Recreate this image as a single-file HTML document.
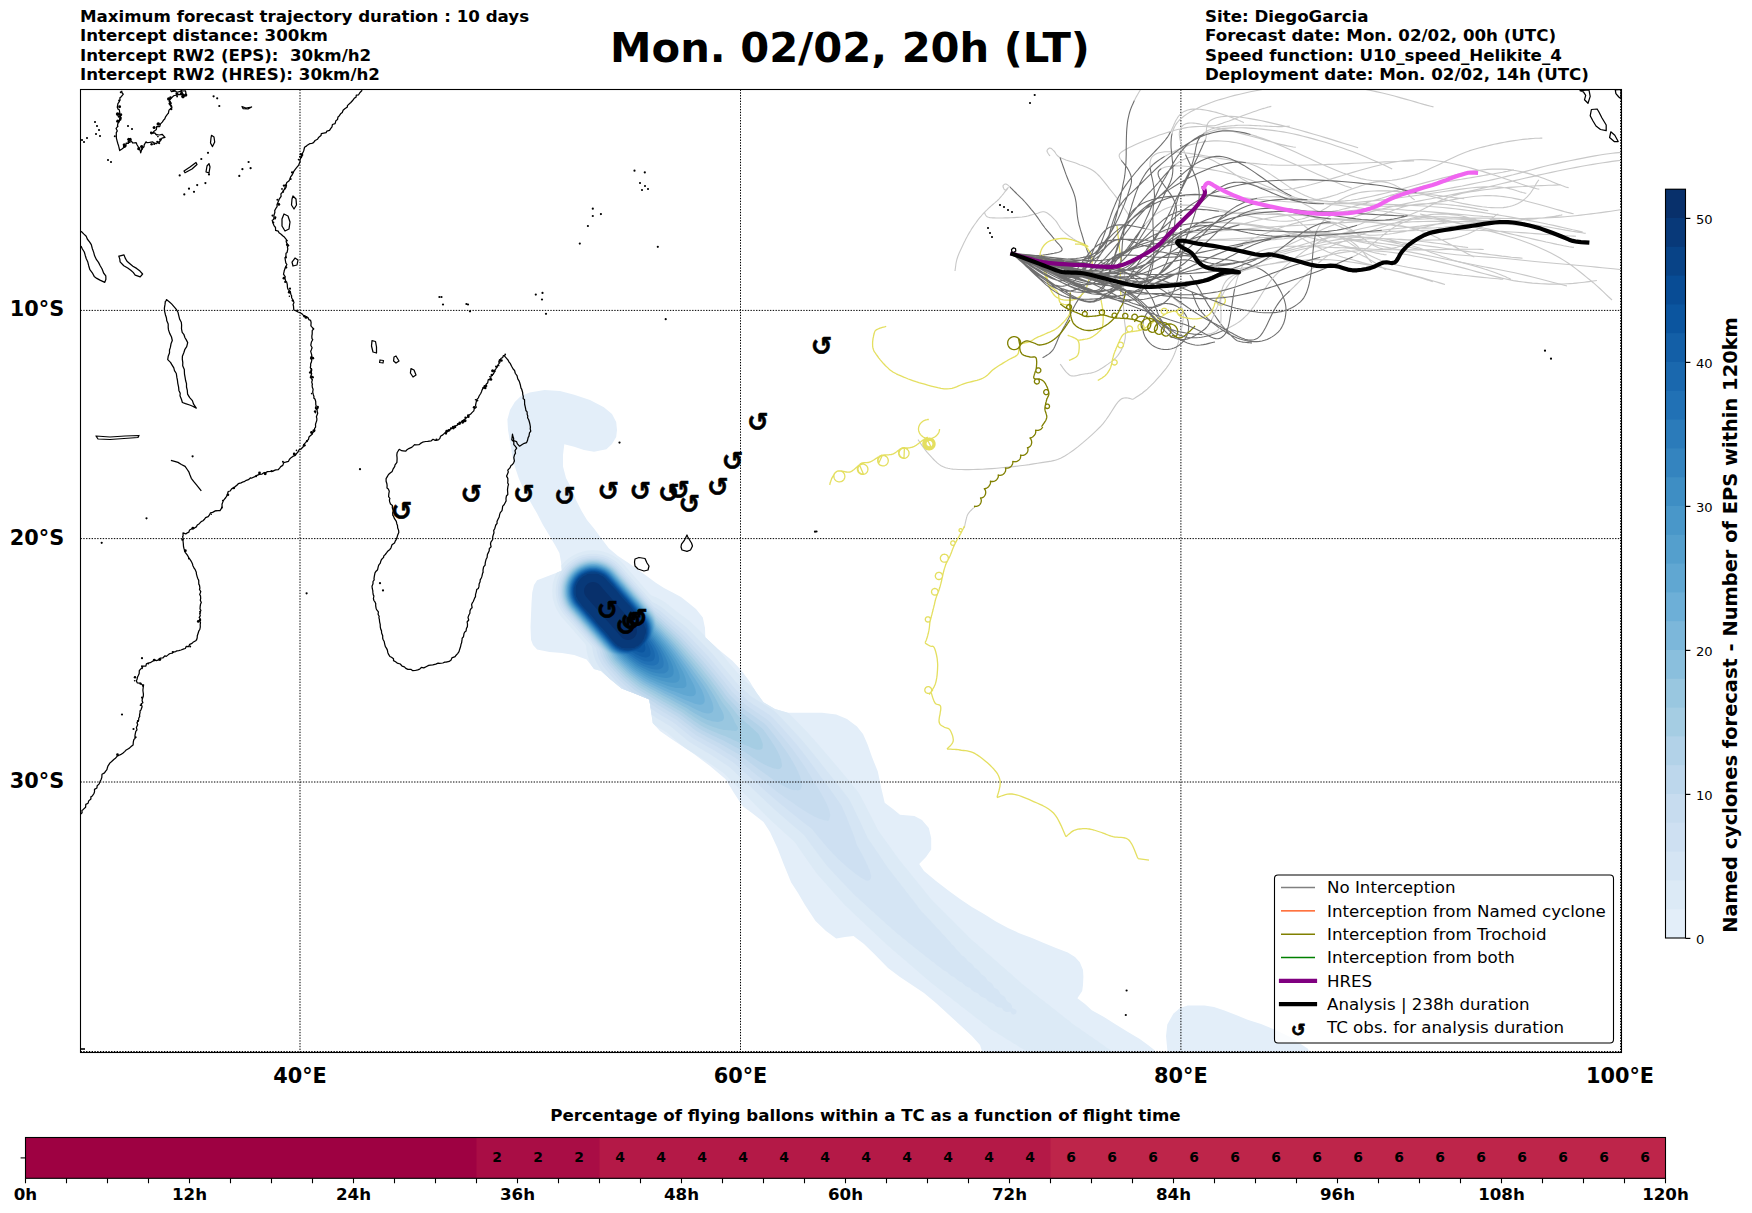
<!DOCTYPE html>
<html><head><meta charset="utf-8"><title>Forecast map</title>
<style>html,body{margin:0;padding:0;background:#fff;} svg{display:block;}</style>
</head><body>
<svg width="1752" height="1213" viewBox="0 0 1752 1213" font-family="'DejaVu Sans', 'Liberation Sans', sans-serif"><defs><clipPath id="mapclip"><rect x="80.5" y="89.5" width="1541.0" height="963.0"/></clipPath></defs>
<g clip-path="url(#mapclip)">
<clipPath id="blobclip"><path d="M507.4,419.6 L510.0,410.0 L514.8,402.0 L521.0,396.0 L529.7,392.4 L544.5,390.0 L560.0,391.0 L574.2,394.8 L590.0,400.0 L603.9,407.2 L612.0,414.0 L616.2,422.0 L617.0,430.0 L616.2,436.9 L612.0,444.0 L606.4,449.3 L594.0,451.7 L584.0,450.0 L574.2,446.8 L564.3,444.3 L563.0,455.0 L563.0,466.6 L566.0,478.0 L571.7,488.8 L576.0,500.0 L581.6,511.0 L587.0,520.0 L594.0,528.4 L601.0,538.0 L608.8,548.2 L618.0,556.0 L628.6,563.0 L637.0,569.0 L646.0,575.4 L655.8,582.8 L664.0,588.0 L673.1,592.7 L681.0,597.0 L688.0,602.6 L696.0,609.0 L702.8,617.4 L705.0,628.0 L705.3,637.2 L718.0,649.0 L732.4,660.8 L741.0,670.0 L749.7,681.5 L756.0,692.0 L763.5,702.3 L775.0,709.0 L787.8,712.7 L808.5,712.7 L822.0,712.7 L836.2,714.4 L847.0,719.0 L857.0,726.6 L863.0,734.0 L867.4,743.9 L872.0,757.0 L877.8,771.6 L881.0,787.0 L884.7,802.7 L893.0,809.0 L900.0,814.8 L914.4,816.0 L922.0,820.0 L928.8,828.0 L931.2,838.0 L931.2,849.5 L926.0,857.0 L919.2,863.9 L924.0,871.1 L936.0,881.0 L948.0,890.3 L960.0,899.0 L971.9,907.1 L984.0,914.0 L995.9,921.5 L1008.0,928.0 L1019.9,933.4 L1032.0,938.0 L1043.8,943.0 L1056.0,948.0 L1067.8,952.6 L1075.0,957.0 L1079.8,962.2 L1083.0,970.0 L1083.4,976.6 L1083.0,985.0 L1082.2,991.0 L1077.4,998.2 L1085.0,1004.0 L1091.8,1010.2 L1104.0,1017.0 L1115.8,1024.5 L1128.0,1032.0 L1139.8,1038.9 L1148.0,1045.0 L1154.1,1049.7 L1160.0,1056.0 L1170.0,1060.0 L985.0,1060.0 L980.0,1045.0 L971.9,1036.0 L960.0,1025.0 L948.0,1014.0 L936.0,1003.0 L924.0,993.0 L912.0,985.0 L900.0,977.0 L888.0,968.0 L874.3,954.0 L864.0,944.0 L853.5,936.0 L845.0,937.0 L836.2,938.5 L826.0,931.0 L815.5,921.0 L805.0,905.0 L798.0,893.0 L791.2,882.4 L784.0,865.0 L777.4,848.0 L770.0,832.0 L763.5,822.0 L752.0,813.0 L742.7,806.2 L734.0,793.0 L725.4,779.0 L710.0,766.0 L694.3,754.3 L682.0,746.0 L670.0,738.0 L660.0,731.0 L652.7,723.0 L651.0,711.0 L649.3,699.5 L636.0,694.0 L621.5,688.5 L610.0,679.0 L601.0,671.0 L594.0,669.0 L586.6,659.5 L574.2,655.0 L562.0,653.0 L549.5,652.0 L537.1,649.6 L533.0,645.0 L531.0,639.7 L530.5,627.0 L531.0,615.0 L531.5,603.0 L532.2,592.7 L534.0,585.0 L537.1,580.3 L543.0,578.0 L549.5,575.4 L556.0,573.0 L561.8,570.5 L561.0,562.0 L559.4,553.1 L555.0,545.0 L549.5,535.8 L543.0,525.0 L537.1,513.6 L531.0,503.0 L524.7,491.3 L519.0,479.0 L514.8,466.6 L512.0,454.0 L510.0,441.8 L508.0,430.0Z"/></clipPath><path d="M507.4,419.6 L510.0,410.0 L514.8,402.0 L521.0,396.0 L529.7,392.4 L544.5,390.0 L560.0,391.0 L574.2,394.8 L590.0,400.0 L603.9,407.2 L612.0,414.0 L616.2,422.0 L617.0,430.0 L616.2,436.9 L612.0,444.0 L606.4,449.3 L594.0,451.7 L584.0,450.0 L574.2,446.8 L564.3,444.3 L563.0,455.0 L563.0,466.6 L566.0,478.0 L571.7,488.8 L576.0,500.0 L581.6,511.0 L587.0,520.0 L594.0,528.4 L601.0,538.0 L608.8,548.2 L618.0,556.0 L628.6,563.0 L637.0,569.0 L646.0,575.4 L655.8,582.8 L664.0,588.0 L673.1,592.7 L681.0,597.0 L688.0,602.6 L696.0,609.0 L702.8,617.4 L705.0,628.0 L705.3,637.2 L718.0,649.0 L732.4,660.8 L741.0,670.0 L749.7,681.5 L756.0,692.0 L763.5,702.3 L775.0,709.0 L787.8,712.7 L808.5,712.7 L822.0,712.7 L836.2,714.4 L847.0,719.0 L857.0,726.6 L863.0,734.0 L867.4,743.9 L872.0,757.0 L877.8,771.6 L881.0,787.0 L884.7,802.7 L893.0,809.0 L900.0,814.8 L914.4,816.0 L922.0,820.0 L928.8,828.0 L931.2,838.0 L931.2,849.5 L926.0,857.0 L919.2,863.9 L924.0,871.1 L936.0,881.0 L948.0,890.3 L960.0,899.0 L971.9,907.1 L984.0,914.0 L995.9,921.5 L1008.0,928.0 L1019.9,933.4 L1032.0,938.0 L1043.8,943.0 L1056.0,948.0 L1067.8,952.6 L1075.0,957.0 L1079.8,962.2 L1083.0,970.0 L1083.4,976.6 L1083.0,985.0 L1082.2,991.0 L1077.4,998.2 L1085.0,1004.0 L1091.8,1010.2 L1104.0,1017.0 L1115.8,1024.5 L1128.0,1032.0 L1139.8,1038.9 L1148.0,1045.0 L1154.1,1049.7 L1160.0,1056.0 L1170.0,1060.0 L985.0,1060.0 L980.0,1045.0 L971.9,1036.0 L960.0,1025.0 L948.0,1014.0 L936.0,1003.0 L924.0,993.0 L912.0,985.0 L900.0,977.0 L888.0,968.0 L874.3,954.0 L864.0,944.0 L853.5,936.0 L845.0,937.0 L836.2,938.5 L826.0,931.0 L815.5,921.0 L805.0,905.0 L798.0,893.0 L791.2,882.4 L784.0,865.0 L777.4,848.0 L770.0,832.0 L763.5,822.0 L752.0,813.0 L742.7,806.2 L734.0,793.0 L725.4,779.0 L710.0,766.0 L694.3,754.3 L682.0,746.0 L670.0,738.0 L660.0,731.0 L652.7,723.0 L651.0,711.0 L649.3,699.5 L636.0,694.0 L621.5,688.5 L610.0,679.0 L601.0,671.0 L594.0,669.0 L586.6,659.5 L574.2,655.0 L562.0,653.0 L549.5,652.0 L537.1,649.6 L533.0,645.0 L531.0,639.7 L530.5,627.0 L531.0,615.0 L531.5,603.0 L532.2,592.7 L534.0,585.0 L537.1,580.3 L543.0,578.0 L549.5,575.4 L556.0,573.0 L561.8,570.5 L561.0,562.0 L559.4,553.1 L555.0,545.0 L549.5,535.8 L543.0,525.0 L537.1,513.6 L531.0,503.0 L524.7,491.3 L519.0,479.0 L514.8,466.6 L512.0,454.0 L510.0,441.8 L508.0,430.0Z M1167.3,1060.0 L1167.3,1049.7 L1166.0,1036.0 L1167.3,1024.5 L1173.3,1013.8 L1180.0,1008.0 L1187.7,1005.4 L1204.5,1005.4 L1214.0,1007.0 L1223.7,1010.2 L1236.0,1015.0 L1247.6,1019.7 L1261.0,1024.0 L1274.0,1029.3 L1290.0,1037.0 L1307.6,1048.5 L1315.0,1060.0Z" fill="#e3eef9"/><g clip-path="url(#blobclip)"><path d="M581.4,552.0 582.0,551.8 584.0,551.2 586.0,550.8 588.0,550.5 590.0,550.4 592.0,550.3 594.0,550.3 596.0,550.4 598.0,550.5 600.0,550.8 602.0,551.2 604.0,551.8 604.6,552.0 606.0,552.4 608.0,553.1 609.9,554.0 610.0,554.0 612.0,554.9 613.8,556.0 614.0,556.1 616.0,557.4 616.9,558.0 618.0,558.8 619.4,560.0 620.0,560.5 621.6,562.0 622.0,562.4 623.5,564.0 624.0,564.6 625.3,566.0 626.0,566.9 627.0,568.0 628.0,569.1 628.8,570.0 630.0,571.4 630.5,572.0 632.0,573.7 632.2,574.0 634.0,576.0 634.0,576.0 635.7,578.0 636.0,578.3 637.5,580.0 638.0,580.6 639.3,582.0 640.0,582.9 641.0,584.0 642.0,585.1 642.8,586.0 644.0,587.4 644.5,588.0 646.0,589.7 646.2,590.0 648.0,592.0 648.0,592.0 649.7,594.0 650.0,594.3 652.0,595.7 652.8,596.0 654.0,596.4 656.0,597.2 657.6,598.0 658.0,598.2 660.0,599.2 661.3,600.0 662.0,600.4 664.0,601.7 664.5,602.0 666.0,603.1 667.2,604.0 668.0,604.6 669.7,606.0 670.0,606.2 672.0,607.8 672.3,608.0 674.0,609.3 674.9,610.0 676.0,610.9 677.4,612.0 678.0,612.4 680.0,613.9 680.1,614.0 682.0,615.4 682.9,616.0 684.0,616.8 685.5,618.0 686.0,618.4 688.0,619.9 688.2,620.0 690.0,621.5 690.6,622.0 692.0,623.2 692.8,624.0 694.0,625.2 694.9,626.0 696.0,627.1 696.9,628.0 698.0,629.1 698.9,630.0 700.0,631.1 700.9,632.0 702.0,633.1 702.9,634.0 704.0,635.1 704.9,636.0 706.0,637.1 706.9,638.0 708.0,639.1 709.0,640.0 710.0,641.0 711.0,642.0 712.0,643.0 713.0,644.0 714.0,645.0 715.0,646.0 716.0,647.0 716.9,648.0 718.0,649.2 718.7,650.0 720.0,651.6 720.3,652.0 721.9,654.0 722.0,654.1 723.5,656.0 724.0,656.6 725.2,658.0 726.0,659.1 726.8,660.0 728.0,661.6 728.4,662.0 729.9,664.0 730.0,664.1 731.7,666.0 732.0,666.3 733.5,668.0 734.0,668.6 735.2,670.0 736.0,670.9 736.9,672.0 738.0,673.2 738.7,674.0 740.0,675.6 740.4,676.0 742.0,677.9 742.1,678.0 744.0,680.0 744.1,680.0 746.0,681.7 746.4,682.0 748.0,683.4 748.7,684.0 750.0,685.1 751.0,686.0 752.0,686.9 753.3,688.0 754.0,688.6 755.7,690.0 756.0,690.2 758.0,691.3 759.1,692.0 760.0,692.5 762.0,693.7 762.5,694.0 764.0,694.8 766.0,696.0 766.0,696.0 768.0,697.2 769.4,698.0 770.0,698.4 772.0,699.5 772.8,700.0 774.0,700.7 776.0,701.9 776.1,702.0 778.0,703.3 778.9,704.0 780.0,704.8 781.4,706.0 782.0,706.6 783.5,708.0 784.0,708.5 785.5,710.0 786.0,710.5 787.5,712.0 788.0,712.5 789.5,714.0 790.0,714.5 791.5,716.0 792.0,716.5 793.5,718.0 794.0,718.5 795.5,720.0 796.0,720.5 797.5,722.0 798.0,722.5 799.4,724.0 800.0,724.6 801.4,726.0 802.0,726.6 803.4,728.0 804.0,728.7 805.3,730.0 806.0,730.7 807.2,732.0 808.0,732.8 809.0,734.0 810.0,735.1 810.8,736.0 812.0,737.4 812.6,738.0 814.0,739.6 814.4,740.0 816.0,741.9 816.1,742.0 817.9,744.0 818.0,744.1 819.6,746.0 820.0,746.4 821.4,748.0 822.0,748.7 823.1,750.0 824.0,751.0 824.8,752.0 826.0,753.4 826.6,754.0 828.0,755.7 828.3,756.0 830.0,758.0 830.0,758.0 831.6,760.0 832.0,760.4 833.4,762.0 834.0,762.8 835.0,764.0 836.0,765.1 836.7,766.0 838.0,767.5 838.4,768.0 840.0,769.9 840.1,770.0 841.8,772.0 842.0,772.3 843.4,774.0 844.0,774.7 845.1,776.0 846.0,777.1 846.7,778.0 848.0,779.5 848.4,780.0 850.0,781.9 850.1,782.0 851.7,784.0 852.0,784.4 853.4,786.0 854.0,786.8 855.0,788.0 856.0,789.2 856.6,790.0 858.0,791.8 858.1,792.0 859.4,794.0 860.0,795.0 860.6,796.0 861.6,798.0 862.0,798.8 862.6,800.0 863.7,802.0 864.0,802.7 864.7,804.0 865.8,806.0 866.0,806.5 866.7,808.0 867.8,810.0 868.0,810.4 868.8,812.0 869.9,814.0 870.0,814.3 870.9,816.0 871.9,818.0 872.0,818.2 872.9,820.0 873.9,822.0 874.0,822.2 875.0,824.0 875.9,826.0 876.0,826.2 877.0,828.0 877.9,830.0 878.0,830.1 879.3,832.0 880.0,833.0 880.7,834.0 882.0,835.7 882.2,836.0 883.6,838.0 884.0,838.5 885.1,840.0 886.0,841.3 886.5,842.0 888.0,844.0 888.0,844.0 889.4,846.0 890.0,846.8 890.9,848.0 892.0,849.7 892.2,850.0 893.7,852.0 894.0,852.4 895.1,854.0 896.0,855.2 896.6,856.0 898.0,858.0 898.0,858.1 899.4,860.0 900.0,860.7 901.2,862.0 902.0,863.0 902.8,864.0 904.0,865.7 904.3,866.0 906.0,867.9 906.1,868.0 907.6,870.0 908.0,870.5 909.2,872.0 910.0,872.9 910.9,874.0 912.0,875.4 912.4,876.0 914.0,877.9 914.1,878.0 915.8,880.0 916.0,880.3 917.3,882.0 918.0,882.9 919.0,884.0 920.0,885.2 920.6,886.0 922.0,887.9 922.1,888.0 923.9,890.0 924.0,890.2 925.4,892.0 926.0,892.8 927.0,894.0 928.0,895.1 928.7,896.0 930.0,897.8 930.1,898.0 931.9,900.0 932.0,900.1 933.9,902.0 934.0,902.1 936.0,904.0 936.0,904.0 937.8,906.0 938.0,906.2 940.0,908.0 940.0,908.0 941.9,910.0 942.0,910.1 943.9,912.0 944.0,912.1 946.0,914.0 946.0,914.0 947.8,916.0 948.0,916.2 950.0,918.0 950.0,918.0 952.0,920.0 952.0,920.0 953.9,922.0 954.0,922.1 956.0,924.0 956.0,924.0 957.8,926.0 958.0,926.2 960.0,928.0 960.0,928.0 962.0,930.0 962.0,930.0 963.8,932.0 964.0,932.2 966.0,934.0 966.0,934.0 967.8,936.0 968.0,936.2 969.9,938.0 970.0,938.1 971.9,940.0 972.0,940.1 974.0,941.7 974.3,942.0 976.0,943.3 976.8,944.0 978.0,945.1 978.8,946.0 980.0,947.1 981.2,948.0 982.0,948.6 983.7,950.0 984.0,950.3 985.7,952.0 986.0,952.3 988.0,953.9 988.1,954.0 990.0,955.5 990.6,956.0 992.0,957.3 992.6,958.0 994.0,959.3 994.9,960.0 996.0,960.8 997.5,962.0 998.0,962.5 999.5,964.0 1000.0,964.5 1001.8,966.0 1002.0,966.2 1004.0,967.7 1004.3,968.0 1006.0,969.6 1006.4,970.0 1008.0,971.6 1008.6,972.0 1010.0,973.0 1011.2,974.0 1012.0,974.7 1013.3,976.0 1014.0,976.8 1015.4,978.0 1016.0,978.4 1018.0,980.0 1018.0,980.0 1020.0,981.9 1020.1,982.0 1022.0,983.9 1022.2,984.0 1024.0,985.3 1024.8,986.0 1026.0,987.0 1027.1,988.0 1028.0,988.6 1030.0,990.0 1030.0,990.0 1032.0,991.7 1032.3,992.0 1034.0,993.4 1034.9,994.0 1036.0,994.7 1037.6,996.0 1038.0,996.4 1039.8,998.0 1040.0,998.2 1042.0,999.5 1042.7,1000.0 1044.0,1001.0 1045.1,1002.0 1046.0,1002.9 1047.7,1004.0 1048.0,1004.2 1050.0,1005.7 1050.3,1006.0 1052.0,1007.6 1052.5,1008.0 1054.0,1009.0 1055.4,1010.0 1056.0,1010.4 1057.8,1012.0 1058.0,1012.2 1060.0,1013.8 1060.3,1014.0 1062.0,1015.2 1063.0,1016.0 1064.0,1016.9 1065.2,1018.0 1066.0,1018.6 1068.0,1019.9 1068.1,1020.0 1070.0,1021.6 1070.4,1022.0 1072.0,1023.4 1073.0,1024.0 1074.0,1024.7 1075.6,1026.0 1076.0,1026.3 1078.0,1027.5 1078.8,1028.0 1080.0,1028.8 1081.5,1030.0 1082.0,1030.4 1084.0,1031.7 1084.5,1032.0 1086.0,1033.0 1087.3,1034.0 1088.0,1034.6 1090.0,1035.9 1090.2,1036.0 1092.0,1037.1 1093.1,1038.0 1094.0,1038.8 1095.9,1040.0 1096.0,1040.1 1098.0,1041.3 1098.9,1042.0 1100.0,1043.0 1101.6,1044.0 1102.0,1044.3 1104.0,1045.5 1104.6,1046.0 1106.0,1047.2 1107.2,1048.0 1108.0,1048.5 1110.0,1049.8 1110.3,1050.0 1112.0,1051.4 1112.9,1052.0 1114.0,1052.7 1116.0,1054.0 1116.0,1054.0 1118.0,1055.6 1118.5,1056.0 1120.0,1057.0 1121.6,1058.0 1122.0,1058.3 1124.0,1059.9 1124.1,1060.0 1126.0,1062.0 1126.0,1062.0 1127.4,1064.0 1128.0,1065.0 1128.5,1066.0 1129.4,1068.0 1128.0,1068.0 1126.0,1068.0 1124.0,1068.0 1122.0,1068.0 1120.0,1068.0 1118.0,1068.0 1116.0,1068.0 1114.0,1068.0 1112.0,1068.0 1110.0,1068.0 1108.0,1068.0 1106.0,1068.0 1104.0,1068.0 1102.0,1068.0 1100.0,1068.0 1098.0,1068.0 1096.0,1068.0 1094.0,1068.0 1092.0,1068.0 1090.0,1068.0 1088.0,1068.0 1086.0,1068.0 1084.0,1068.0 1082.0,1068.0 1080.0,1068.0 1078.0,1068.0 1076.0,1068.0 1074.0,1068.0 1072.0,1068.0 1070.0,1068.0 1068.0,1068.0 1066.0,1068.0 1064.0,1068.0 1062.0,1068.0 1060.0,1068.0 1058.0,1068.0 1056.0,1068.0 1054.1,1068.0 1054.0,1067.9 1052.0,1066.6 1050.8,1066.0 1050.0,1065.7 1048.0,1064.6 1047.0,1064.0 1046.0,1063.3 1044.3,1062.0 1044.0,1061.8 1042.0,1060.9 1040.5,1060.0 1040.0,1059.7 1038.0,1058.2 1037.6,1058.0 1036.0,1057.1 1034.0,1056.0 1033.9,1056.0 1032.0,1054.7 1031.1,1054.0 1030.0,1053.3 1028.0,1052.3 1027.5,1052.0 1026.0,1051.1 1024.5,1050.0 1024.0,1049.6 1022.0,1048.5 1021.0,1048.0 1020.0,1047.4 1018.0,1046.1 1017.9,1046.0 1016.0,1044.7 1014.6,1044.0 1014.0,1043.7 1012.0,1042.5 1011.4,1042.0 1010.0,1041.0 1008.1,1040.0 1008.0,1039.9 1006.0,1038.8 1004.8,1038.0 1004.0,1037.4 1002.0,1036.1 1001.8,1036.0 1000.0,1035.1 998.3,1034.0 998.0,1033.8 996.0,1032.3 995.4,1032.0 994.0,1031.3 992.0,1030.1 991.8,1030.0 990.0,1028.7 989.2,1028.0 988.0,1027.0 987.0,1026.0 986.0,1025.3 984.0,1024.0 984.0,1024.0 982.0,1022.5 981.5,1022.0 980.0,1020.6 979.2,1020.0 978.0,1019.2 976.2,1018.0 976.0,1017.8 974.0,1016.2 973.8,1016.0 972.0,1014.4 971.5,1014.0 970.0,1013.1 968.5,1012.0 968.0,1011.6 966.1,1010.0 966.0,1009.9 964.0,1008.2 963.6,1008.0 962.0,1006.9 960.7,1006.0 960.0,1005.4 958.5,1004.0 958.0,1003.6 956.0,1002.1 955.8,1002.0 954.0,1000.8 953.0,1000.0 952.0,999.1 950.8,998.0 950.0,997.3 948.0,996.0 948.0,996.0 946.0,994.5 945.4,994.0 944.0,992.8 943.1,992.0 942.0,991.1 940.3,990.0 940.0,989.8 938.0,988.3 937.7,988.0 936.0,986.4 935.5,986.0 934.0,985.0 932.5,984.0 932.0,983.6 930.1,982.0 930.0,981.9 928.0,980.0 928.0,980.0 926.0,978.5 925.4,978.0 924.0,976.8 923.2,976.0 922.0,974.9 920.8,974.0 920.0,973.4 918.5,972.0 918.0,971.5 916.2,970.0 916.0,969.8 914.0,968.2 913.8,968.0 912.0,966.3 911.7,966.0 910.0,964.7 909.1,964.0 908.0,963.0 907.0,962.0 906.0,961.1 904.5,960.0 904.0,959.6 902.2,958.0 902.0,957.8 900.0,956.0 900.0,956.0 898.0,954.4 897.5,954.0 896.0,952.5 895.4,952.0 894.0,950.9 892.9,950.0 892.0,949.2 890.8,948.0 890.0,947.3 888.4,946.0 888.0,945.7 886.0,944.0 886.0,944.0 884.1,942.0 884.0,941.9 882.0,940.2 881.8,940.0 880.0,938.3 879.7,938.0 878.0,936.3 877.6,936.0 876.0,934.6 875.4,934.0 874.0,932.5 873.5,932.0 872.0,930.8 871.1,930.0 870.0,928.9 869.2,928.0 868.0,926.9 866.9,926.0 866.0,925.2 864.8,924.0 864.0,923.1 862.8,922.0 862.0,921.3 860.5,920.0 860.0,919.5 858.6,918.0 858.0,917.4 856.3,916.0 856.0,915.7 854.3,914.0 854.0,913.7 852.1,912.0 852.0,911.9 850.0,910.0 850.0,910.0 848.0,908.0 848.0,908.0 846.0,906.3 845.7,906.0 844.0,904.3 843.7,904.0 842.0,902.0 842.0,902.0 840.2,900.0 840.0,899.8 838.4,898.0 838.0,897.5 836.6,896.0 836.0,895.3 834.8,894.0 834.0,893.1 833.0,892.0 832.0,890.8 831.3,890.0 830.0,888.6 829.5,888.0 828.0,886.3 827.7,886.0 826.0,884.0 826.0,884.0 824.2,882.0 824.0,881.8 822.4,880.0 822.0,879.5 820.6,878.0 820.0,877.2 818.9,876.0 818.0,875.0 817.1,874.0 816.0,872.6 815.6,872.0 814.2,870.0 814.0,869.7 812.7,868.0 812.0,866.9 811.4,866.0 810.0,864.1 809.9,864.0 808.5,862.0 808.0,861.2 807.1,860.0 806.0,858.4 805.7,858.0 804.3,856.0 804.0,855.5 802.9,854.0 802.0,852.6 801.6,852.0 800.1,850.0 800.0,849.8 798.8,848.0 798.0,846.9 797.4,846.0 796.1,844.0 796.0,843.9 794.6,842.0 794.0,841.4 792.5,840.0 792.0,839.6 790.3,838.0 790.0,837.8 788.0,836.0 788.0,836.0 786.0,834.2 785.8,834.0 784.0,832.4 783.6,832.0 782.0,830.6 781.4,830.0 780.0,828.8 779.2,828.0 778.0,826.9 777.0,826.0 776.0,825.1 774.8,824.0 774.0,823.3 772.6,822.0 772.0,821.5 770.5,820.0 770.0,819.5 768.5,818.0 768.0,817.6 766.4,816.0 766.0,815.6 764.4,814.0 764.0,813.6 762.4,812.0 762.0,811.6 760.4,810.0 760.0,809.6 758.4,808.0 758.0,807.6 756.4,806.0 756.0,805.6 754.4,804.0 754.0,803.6 752.5,802.0 752.0,801.5 750.5,800.0 750.0,799.5 748.6,798.0 748.0,797.4 746.6,796.0 746.0,795.4 744.7,794.0 744.0,793.3 742.7,792.0 742.0,791.3 740.6,790.0 740.0,789.4 738.6,788.0 738.0,787.4 736.6,786.0 736.0,785.4 734.5,784.0 734.0,783.5 732.5,782.0 732.0,781.5 730.5,780.0 730.0,779.5 728.5,778.0 728.0,777.5 726.5,776.0 726.0,775.5 724.5,774.0 724.0,773.5 722.1,772.0 722.0,772.0 720.0,770.6 719.1,770.0 718.0,769.2 716.3,768.0 716.0,767.8 714.0,766.4 713.4,766.0 712.0,765.1 710.5,764.0 710.0,763.7 708.0,762.3 707.6,762.0 706.0,760.9 704.5,760.0 704.0,759.7 702.0,758.5 701.2,758.0 700.0,757.3 698.0,756.0 698.0,756.0 696.0,754.8 694.8,754.0 694.0,753.5 692.0,752.3 691.5,752.0 690.0,751.1 688.4,750.0 688.0,749.8 686.0,748.5 685.3,748.0 684.0,747.1 682.6,746.0 682.0,745.5 680.2,744.0 680.0,743.8 678.0,742.1 677.9,742.0 676.0,740.4 675.6,740.0 674.0,738.7 673.2,738.0 672.0,736.9 670.9,736.0 670.0,735.2 668.6,734.0 668.0,733.5 666.2,732.0 666.0,731.9 664.0,730.8 662.7,730.0 662.0,729.6 660.0,728.4 659.3,728.0 658.0,727.3 656.0,726.1 655.8,726.0 654.0,725.0 652.5,724.0 652.0,723.7 650.0,722.3 649.6,722.0 648.0,720.9 646.7,720.0 646.0,719.5 644.0,718.1 643.9,718.0 642.0,716.7 641.0,716.0 640.0,715.3 638.2,714.0 638.0,713.9 636.0,712.5 635.2,712.0 634.0,711.2 632.3,710.0 632.0,709.8 630.0,708.4 629.5,708.0 628.0,707.0 626.6,706.0 626.0,705.6 624.0,704.1 623.8,704.0 622.0,702.5 621.4,702.0 620.0,700.8 619.2,700.0 618.0,698.8 617.2,698.0 616.0,696.7 615.4,696.0 614.0,694.5 613.5,694.0 612.0,692.3 611.7,692.0 610.0,690.2 609.9,690.0 608.1,688.0 608.0,687.9 606.3,686.0 606.0,685.6 604.7,684.0 604.0,683.1 603.1,682.0 602.0,680.6 601.5,680.0 600.0,678.0 600.0,678.0 598.4,676.0 598.0,675.5 596.8,674.0 596.0,672.9 595.3,672.0 594.0,670.0 594.0,670.0 592.8,668.0 592.0,666.6 591.7,666.0 590.7,664.0 590.0,662.4 589.8,662.0 589.0,660.0 588.4,658.0 588.0,656.7 587.8,656.0 587.3,654.0 586.9,652.0 586.5,650.0 586.3,648.0 586.2,646.0 586.0,645.7 585.2,644.0 584.0,642.6 583.5,642.0 582.0,640.3 581.8,640.0 580.0,638.0 580.0,638.0 578.3,636.0 578.0,635.7 576.5,634.0 576.0,633.4 574.7,632.0 574.0,631.1 573.0,630.0 572.0,628.9 571.2,628.0 570.0,626.6 569.5,626.0 568.0,624.3 567.8,624.0 566.0,622.0 566.0,622.0 564.3,620.0 564.0,619.7 562.5,618.0 562.0,617.4 560.8,616.0 560.0,614.9 559.4,614.0 558.1,612.0 558.0,611.8 556.9,610.0 556.0,608.0 556.0,607.9 555.1,606.0 554.4,604.0 554.0,602.6 553.8,602.0 553.2,600.0 552.8,598.0 552.5,596.0 552.4,594.0 552.3,592.0 552.3,590.0 552.4,588.0 552.5,586.0 552.8,584.0 553.2,582.0 553.8,580.0 554.0,579.4 554.4,578.0 555.1,576.0 556.0,574.1 556.0,574.0 556.9,572.0 558.0,570.2 558.1,570.0 559.4,568.0 560.0,567.1 560.8,566.0 562.0,564.6 562.5,564.0 564.0,562.4 564.4,562.0 566.0,560.5 566.6,560.0 568.0,558.8 569.1,558.0 570.0,557.4 572.0,556.1 572.2,556.0 574.0,554.9 576.0,554.0 576.1,554.0 578.0,553.1 580.0,552.4 581.4,552.0Z" fill="#dceaf6"/><path d="M588.7,554.0 590.0,553.8 592.0,553.7 594.0,553.7 596.0,553.8 597.3,554.0 598.0,554.1 600.0,554.4 602.0,554.8 604.0,555.3 605.8,556.0 606.0,556.1 608.0,556.8 610.0,557.8 610.3,558.0 612.0,558.9 613.7,560.0 614.0,560.2 616.0,561.6 616.4,562.0 618.0,563.3 618.7,564.0 620.0,565.3 620.7,566.0 622.0,567.5 622.4,568.0 624.0,569.8 624.2,570.0 625.9,572.0 626.0,572.1 627.7,574.0 628.0,574.4 629.4,576.0 630.0,576.6 631.2,578.0 632.0,578.9 633.0,580.0 634.0,581.2 634.7,582.0 636.0,583.5 636.4,584.0 638.0,585.8 638.2,586.0 639.9,588.0 640.0,588.1 641.7,590.0 642.0,590.4 643.4,592.0 644.0,592.6 645.2,594.0 646.0,594.9 647.0,596.0 648.0,597.2 648.7,598.0 650.0,599.5 650.5,600.0 652.0,601.8 652.4,602.0 654.0,602.8 656.0,603.8 656.4,604.0 658.0,604.9 659.8,606.0 660.0,606.1 662.0,607.5 662.7,608.0 664.0,609.0 665.2,610.0 666.0,610.7 667.6,612.0 668.0,612.3 670.0,614.0 670.0,614.0 672.0,615.7 672.4,616.0 674.0,617.3 674.8,618.0 676.0,618.9 677.4,620.0 678.0,620.5 679.9,622.0 680.0,622.1 682.0,623.7 682.4,624.0 684.0,625.3 684.8,626.0 686.0,627.0 687.2,628.0 688.0,628.8 689.2,630.0 690.0,630.8 691.2,632.0 692.0,632.8 693.2,634.0 694.0,634.8 695.1,636.0 696.0,636.9 697.1,638.0 698.0,638.9 699.0,640.0 700.0,641.0 701.0,642.0 702.0,643.0 703.0,644.0 704.0,645.0 704.9,646.0 706.0,647.1 706.9,648.0 708.0,649.1 708.9,650.0 710.0,651.2 710.8,652.0 712.0,653.3 712.6,654.0 714.0,655.7 714.3,656.0 715.9,658.0 716.0,658.1 717.6,660.0 718.0,660.5 719.2,662.0 720.0,663.0 720.8,664.0 722.0,665.4 722.5,666.0 724.0,667.9 724.1,668.0 725.8,670.0 726.0,670.3 727.5,672.0 728.0,672.6 729.2,674.0 730.0,675.0 730.9,676.0 732.0,677.3 732.6,678.0 734.0,679.7 734.2,680.0 735.9,682.0 736.0,682.1 737.6,684.0 738.0,684.5 739.6,686.0 740.0,686.3 741.8,688.0 742.0,688.1 744.0,690.0 744.1,690.0 746.0,691.8 746.3,692.0 748.0,693.5 748.5,694.0 750.0,695.4 750.7,696.0 752.0,697.0 753.6,698.0 754.0,698.2 756.0,699.4 756.9,700.0 758.0,700.7 760.0,701.9 760.2,702.0 762.0,703.1 763.4,704.0 764.0,704.4 766.0,705.6 766.6,706.0 768.0,706.8 769.9,708.0 770.0,708.1 772.0,709.3 772.9,710.0 774.0,710.8 775.5,712.0 776.0,712.5 777.6,714.0 778.0,714.4 779.5,716.0 780.0,716.5 781.4,718.0 782.0,718.6 783.3,720.0 784.0,720.7 785.2,722.0 786.0,722.8 787.1,724.0 788.0,725.0 789.0,726.0 790.0,727.1 790.8,728.0 792.0,729.2 792.7,730.0 794.0,731.4 794.6,732.0 796.0,733.6 796.4,734.0 798.0,735.7 798.3,736.0 800.0,737.9 800.1,738.0 801.9,740.0 802.0,740.2 803.5,742.0 804.0,742.6 805.2,744.0 806.0,745.0 806.9,746.0 808.0,747.3 808.5,748.0 810.0,749.8 810.2,750.0 811.8,752.0 812.0,752.2 813.5,754.0 814.0,754.6 815.1,756.0 816.0,757.2 816.7,758.0 818.0,759.6 818.3,760.0 819.9,762.0 820.0,762.1 821.4,764.0 822.0,764.7 823.0,766.0 824.0,767.2 824.6,768.0 826.0,769.8 826.1,770.0 827.7,772.0 828.0,772.3 829.4,774.0 830.0,774.8 831.0,776.0 832.0,777.3 832.5,778.0 834.0,779.8 834.2,780.0 835.7,782.0 836.0,782.4 837.3,784.0 838.0,784.9 838.9,786.0 840.0,787.4 840.5,788.0 842.0,790.0 842.0,790.0 843.5,792.0 844.0,792.6 845.1,794.0 846.0,795.2 846.6,796.0 848.0,797.7 848.2,798.0 849.5,800.0 850.0,800.8 850.7,802.0 851.6,804.0 852.0,804.9 852.6,806.0 853.6,808.0 854.0,809.0 854.5,810.0 855.5,812.0 856.0,813.1 856.4,814.0 857.4,816.0 858.0,817.2 858.3,818.0 859.3,820.0 860.0,821.4 860.3,822.0 861.2,824.0 862.0,825.6 862.2,826.0 863.0,828.0 864.0,829.9 864.0,830.0 864.9,832.0 865.9,834.0 866.0,834.3 866.8,836.0 867.7,838.0 868.0,838.5 869.1,840.0 870.0,841.4 870.4,842.0 871.9,844.0 872.0,844.2 873.1,846.0 874.0,847.2 874.6,848.0 875.8,850.0 876.0,850.3 877.3,852.0 878.0,853.1 878.6,854.0 880.0,856.0 880.0,856.0 881.2,858.0 882.0,859.1 882.7,860.0 883.9,862.0 884.0,862.2 885.3,864.0 886.0,865.1 886.6,866.0 888.0,868.0 888.0,868.0 889.4,870.0 890.0,870.6 891.2,872.0 892.0,873.1 892.6,874.0 894.0,875.8 894.2,876.0 895.9,878.0 896.0,878.1 897.2,880.0 898.0,881.0 898.9,882.0 900.0,883.3 900.5,884.0 901.8,886.0 902.0,886.3 903.7,888.0 904.0,888.4 905.2,890.0 906.0,891.4 906.5,892.0 908.0,893.6 908.3,894.0 909.7,896.0 910.0,896.4 911.2,898.0 912.0,898.9 912.9,900.0 914.0,901.6 914.3,902.0 915.9,904.0 916.0,904.1 917.5,906.0 918.0,906.8 918.8,908.0 920.0,909.5 920.5,910.0 922.0,912.0 922.0,912.0 924.0,913.8 924.2,914.0 926.0,915.9 926.1,916.0 927.7,918.0 928.0,918.3 929.9,920.0 930.0,920.1 931.5,922.0 932.0,922.6 933.5,924.0 934.0,924.4 935.5,926.0 936.0,926.7 937.0,928.0 938.0,929.0 939.2,930.0 940.0,930.9 940.9,932.0 942.0,933.5 942.5,934.0 944.0,935.2 944.7,936.0 946.0,937.6 946.3,938.0 948.0,939.8 948.2,940.0 950.0,941.8 950.2,942.0 951.5,944.0 952.0,944.6 953.8,946.0 954.0,946.2 955.4,948.0 956.0,949.0 956.9,950.0 958.0,950.9 959.1,952.0 960.0,953.1 960.6,954.0 962.0,955.4 963.0,956.0 964.0,956.6 965.5,958.0 966.0,958.5 967.0,960.0 968.0,961.3 969.0,962.0 970.0,962.5 971.9,964.0 972.0,964.1 973.5,966.0 974.0,967.0 975.0,968.0 976.0,968.6 978.0,969.9 978.1,970.0 979.9,972.0 980.0,972.2 981.1,974.0 982.0,974.8 984.0,975.9 984.2,976.0 986.0,977.8 986.1,978.0 987.2,980.0 988.0,981.0 990.0,982.0 990.0,982.0 992.0,983.7 992.3,984.0 993.5,986.0 994.0,987.4 994.8,988.0 996.0,988.4 998.0,989.8 998.2,990.0 999.6,992.0 1000.0,993.2 1000.4,994.0 1002.0,995.1 1003.8,996.0 1004.0,996.1 1005.5,998.0 1006.0,999.2 1006.2,1000.0 1008.0,1002.0 1008.0,1002.0 1010.0,1003.0 1011.0,1004.0 1012.0,1006.0 1012.0,1006.0 1012.1,1008.0 1014.0,1008.7 1016.0,1009.7 1016.2,1010.0 1016.6,1012.0 1016.0,1013.4 1015.4,1014.0 1014.0,1014.6 1012.0,1014.2 1011.7,1014.0 1010.7,1012.0 1010.0,1011.4 1008.1,1012.0 1008.0,1012.0 1006.0,1012.0 1006.0,1012.0 1004.0,1011.0 1003.0,1010.0 1002.0,1008.0 1002.0,1008.0 1000.0,1007.6 998.0,1007.3 996.0,1006.3 995.7,1006.0 994.1,1004.0 994.0,1003.9 992.0,1002.8 990.0,1002.3 989.4,1002.0 988.0,1001.1 986.9,1000.0 986.0,998.6 984.9,998.0 984.0,997.8 982.0,997.1 980.2,996.0 980.0,995.8 978.5,994.0 978.0,993.5 976.0,992.5 974.5,992.0 974.0,991.8 972.0,990.3 971.7,990.0 970.2,988.0 970.0,987.8 968.0,987.2 966.0,986.3 965.6,986.0 964.0,984.6 963.5,984.0 962.0,982.5 960.7,982.0 960.0,981.8 958.0,980.6 957.2,980.0 956.0,978.8 955.3,978.0 954.0,977.0 952.0,976.2 951.6,976.0 950.0,974.9 949.0,974.0 948.0,972.9 947.0,972.0 946.0,971.5 944.0,970.5 943.1,970.0 942.0,969.1 940.9,968.0 940.0,967.2 938.0,966.0 937.9,966.0 936.0,964.5 935.5,964.0 934.0,962.6 933.0,962.0 932.0,961.4 930.2,960.0 930.0,959.8 928.0,958.0 928.0,958.0 926.0,956.8 925.0,956.0 924.0,955.0 922.9,954.0 922.0,953.3 920.0,952.1 919.9,952.0 918.0,950.2 917.8,950.0 916.0,948.7 915.0,948.0 914.0,947.2 912.7,946.0 912.0,945.3 910.1,944.0 910.0,944.0 908.0,942.4 907.6,942.0 906.0,940.4 905.4,940.0 904.0,939.1 902.5,938.0 902.0,937.5 900.5,936.0 900.0,935.6 898.0,934.3 897.6,934.0 896.0,932.5 895.5,932.0 894.0,930.6 893.2,930.0 892.0,929.1 890.9,928.0 890.0,927.0 888.9,926.0 888.0,925.4 886.3,924.0 886.0,923.7 884.4,922.0 884.0,921.6 882.0,920.1 881.9,920.0 880.0,918.2 879.8,918.0 878.0,916.3 877.6,916.0 876.0,914.7 875.3,914.0 874.0,912.6 873.4,912.0 872.0,911.0 870.8,910.0 870.0,909.2 868.9,908.0 868.0,907.2 866.4,906.0 866.0,905.6 864.3,904.0 864.0,903.6 862.2,902.0 862.0,901.9 860.0,900.1 859.9,900.0 858.0,898.0 858.0,898.0 856.0,896.5 855.5,896.0 854.0,894.5 853.5,894.0 852.0,892.4 851.6,892.0 850.0,890.3 849.7,890.0 848.0,888.3 847.7,888.0 846.0,886.0 846.0,886.0 844.0,884.1 844.0,884.0 842.1,882.0 842.0,881.9 840.2,880.0 840.0,879.8 838.3,878.0 838.0,877.7 836.5,876.0 836.0,875.4 834.6,874.0 834.0,873.4 832.8,872.0 832.0,871.2 830.8,870.0 830.0,869.0 829.1,868.0 828.0,866.9 827.2,866.0 826.0,864.5 825.6,864.0 824.1,862.0 824.0,861.9 822.5,860.0 822.0,859.2 821.0,858.0 820.0,856.7 819.5,856.0 818.0,854.0 818.0,854.0 816.5,852.0 816.0,851.3 815.1,850.0 814.0,848.7 813.5,848.0 812.1,846.0 812.0,845.9 810.5,844.0 810.0,843.2 809.2,842.0 808.0,840.5 807.6,840.0 806.3,838.0 806.0,837.7 804.7,836.0 804.0,835.1 802.9,834.0 802.0,833.2 800.5,832.0 800.0,831.6 798.2,830.0 798.0,829.8 796.0,828.2 795.8,828.0 794.0,826.4 793.5,826.0 792.0,824.7 791.2,824.0 790.0,823.0 788.8,822.0 788.0,821.3 786.5,820.0 786.0,819.6 784.2,818.0 784.0,817.8 782.0,816.0 782.0,816.0 780.0,814.3 779.6,814.0 778.0,812.4 777.5,812.0 776.0,810.7 775.2,810.0 774.0,808.9 773.0,808.0 772.0,807.1 770.9,806.0 770.0,805.2 768.7,804.0 768.0,803.4 766.6,802.0 766.0,801.5 764.4,800.0 764.0,799.6 762.3,798.0 762.0,797.7 760.2,796.0 760.0,795.8 758.1,794.0 758.0,793.9 756.1,792.0 756.0,791.9 754.0,790.0 754.0,790.0 752.0,788.0 752.0,788.0 750.0,786.1 749.9,786.0 748.0,784.4 747.6,784.0 746.0,782.5 745.4,782.0 744.0,780.6 743.3,780.0 742.0,778.8 741.2,778.0 740.0,776.9 739.0,776.0 738.0,775.0 736.9,774.0 736.0,773.2 734.8,772.0 734.0,771.3 732.7,770.0 732.0,769.4 730.6,768.0 730.0,767.5 728.0,766.0 728.0,766.0 726.0,764.7 724.9,764.0 724.0,763.4 722.0,762.1 721.8,762.0 720.0,760.8 718.8,760.0 718.0,759.5 716.0,758.1 715.8,758.0 714.0,756.8 712.8,756.0 712.0,755.5 710.0,754.3 709.5,754.0 708.0,753.1 706.1,752.0 706.0,751.9 704.0,750.8 702.7,750.0 702.0,749.6 700.0,748.4 699.4,748.0 698.0,747.2 696.1,746.0 696.0,746.0 694.0,744.8 692.8,744.0 692.0,743.5 690.0,742.3 689.6,742.0 688.0,740.9 686.9,740.0 686.0,739.2 684.5,738.0 684.0,737.6 682.1,736.0 682.0,735.9 680.0,734.2 679.7,734.0 678.0,732.6 677.3,732.0 676.0,730.9 675.0,730.0 674.0,729.2 672.6,728.0 672.0,727.5 670.0,726.0 670.0,726.0 668.0,724.9 666.6,724.0 666.0,723.7 664.0,722.5 663.2,722.0 662.0,721.3 660.0,720.1 659.8,720.0 658.0,719.0 656.5,718.0 656.0,717.7 654.0,716.3 653.5,716.0 652.0,715.0 650.5,714.0 650.0,713.6 648.0,712.3 647.6,712.0 646.0,710.9 644.7,710.0 644.0,709.6 642.0,708.2 641.7,708.0 640.0,706.9 638.7,706.0 638.0,705.5 636.0,704.2 635.7,704.0 634.0,702.8 632.8,702.0 632.0,701.5 630.0,700.1 629.9,700.0 628.0,698.7 627.2,698.0 626.0,697.0 624.8,696.0 624.0,695.2 622.8,694.0 622.0,693.3 620.8,692.0 620.0,691.2 618.8,690.0 618.0,689.2 616.8,688.0 616.0,687.2 614.9,686.0 614.0,685.1 612.9,684.0 612.0,683.0 611.2,682.0 610.0,680.6 609.5,680.0 608.0,678.2 607.8,678.0 606.2,676.0 606.0,675.8 604.5,674.0 604.0,673.4 602.9,672.0 602.0,671.0 601.2,670.0 600.0,668.3 599.8,668.0 598.5,666.0 598.0,665.2 597.3,664.0 596.3,662.0 596.0,661.3 595.4,660.0 594.6,658.0 594.0,656.1 594.0,656.0 593.4,654.0 592.9,652.0 592.5,650.0 592.3,648.0 592.0,647.3 591.6,646.0 590.0,644.2 589.8,644.0 588.1,642.0 588.0,641.9 586.3,640.0 586.0,639.6 584.6,638.0 584.0,637.4 582.8,636.0 582.0,635.1 581.0,634.0 580.0,632.8 579.3,632.0 578.0,630.5 577.6,630.0 576.0,628.2 575.8,628.0 574.1,626.0 574.0,625.9 572.3,624.0 572.0,623.6 570.6,622.0 570.0,621.4 568.8,620.0 568.0,619.1 567.0,618.0 566.0,616.8 565.3,616.0 564.0,614.4 563.6,614.0 562.2,612.0 562.0,611.7 560.9,610.0 560.0,608.3 559.8,608.0 558.8,606.0 558.1,604.0 558.0,603.8 557.3,602.0 556.8,600.0 556.4,598.0 556.1,596.0 556.0,595.3 555.8,594.0 555.7,592.0 555.7,590.0 555.8,588.0 556.0,586.7 556.1,586.0 556.4,584.0 556.8,582.0 557.3,580.0 558.0,578.2 558.1,578.0 558.8,576.0 559.8,574.0 560.0,573.7 560.9,572.0 562.0,570.3 562.2,570.0 563.6,568.0 564.0,567.6 565.3,566.0 566.0,565.3 567.3,564.0 568.0,563.3 569.6,562.0 570.0,561.6 572.0,560.2 572.3,560.0 574.0,558.9 575.7,558.0 576.0,557.8 578.0,556.8 580.0,556.1 580.2,556.0 582.0,555.3 584.0,554.8 586.0,554.4 588.0,554.1 588.7,554.0Z" fill="#d5e5f4"/><path d="M590.4,556.0 592.0,555.9 594.0,555.9 595.6,556.0 596.0,556.0 598.0,556.2 600.0,556.5 602.0,557.0 604.0,557.6 605.0,558.0 606.0,558.3 608.0,559.2 609.5,560.0 610.0,560.3 612.0,561.4 612.8,562.0 614.0,562.8 615.5,564.0 616.0,564.4 617.7,566.0 618.0,566.3 619.6,568.0 620.0,568.5 621.3,570.0 622.0,570.8 623.1,572.0 624.0,573.1 624.8,574.0 626.0,575.4 626.6,576.0 628.0,577.7 628.3,578.0 630.0,580.0 630.0,580.0 631.8,582.0 632.0,582.2 633.6,584.0 634.0,584.5 635.3,586.0 636.0,586.8 637.1,588.0 638.0,589.1 638.8,590.0 640.0,591.4 640.6,592.0 642.0,593.7 642.3,594.0 644.0,596.0 644.0,596.0 645.8,598.0 646.0,598.2 647.6,600.0 648.0,600.5 649.3,602.0 650.0,602.8 651.1,604.0 652.0,605.1 653.1,606.0 654.0,607.1 655.7,608.0 656.0,608.2 658.0,609.4 658.9,610.0 660.0,610.8 661.5,612.0 662.0,612.4 663.9,614.0 664.0,614.1 666.0,615.8 666.2,616.0 668.0,617.6 668.5,618.0 670.0,619.3 670.8,620.0 672.0,621.0 673.2,622.0 674.0,622.7 675.6,624.0 676.0,624.4 678.0,626.0 678.0,626.0 680.0,627.7 680.3,628.0 682.0,629.4 682.7,630.0 684.0,631.2 684.9,632.0 686.0,633.1 686.9,634.0 688.0,635.2 688.8,636.0 690.0,637.2 690.7,638.0 692.0,639.3 692.6,640.0 694.0,641.4 694.5,642.0 696.0,643.6 696.4,644.0 698.0,645.6 698.4,646.0 700.0,647.7 700.3,648.0 702.0,649.8 702.2,650.0 704.0,651.9 704.1,652.0 706.0,654.0 706.0,654.0 707.9,656.0 708.0,656.1 709.7,658.0 710.0,658.4 711.3,660.0 712.0,660.8 713.0,662.0 714.0,663.3 714.6,664.0 716.0,665.7 716.3,666.0 717.9,668.0 718.0,668.1 719.6,670.0 720.0,670.5 721.2,672.0 722.0,673.0 722.9,674.0 724.0,675.4 724.5,676.0 726.0,677.8 726.2,678.0 727.8,680.0 728.0,680.2 729.5,682.0 730.0,682.7 731.1,684.0 732.0,685.1 732.7,686.0 734.0,687.6 734.4,688.0 736.0,689.7 736.3,690.0 738.0,691.5 738.5,692.0 740.0,693.4 740.7,694.0 742.0,695.2 742.8,696.0 744.0,697.1 745.0,698.0 746.0,699.0 747.1,700.0 748.0,700.9 749.5,702.0 750.0,702.3 752.0,703.6 752.6,704.0 754.0,704.9 755.7,706.0 756.0,706.2 758.0,707.4 758.9,708.0 760.0,708.7 762.0,710.0 762.0,710.0 764.0,711.3 765.1,712.0 766.0,712.6 768.0,713.9 768.2,714.0 770.0,715.3 770.9,716.0 772.0,716.9 773.1,718.0 774.0,718.9 775.0,720.0 776.0,721.1 776.8,722.0 778.0,723.4 778.6,724.0 780.0,725.5 780.4,726.0 782.0,727.7 782.3,728.0 784.0,730.0 784.0,730.0 785.8,732.0 786.0,732.2 787.6,734.0 788.0,734.5 789.3,736.0 790.0,736.8 791.1,738.0 792.0,739.1 792.8,740.0 794.0,741.4 794.5,742.0 796.0,743.7 796.3,744.0 797.8,746.0 798.0,746.2 799.4,748.0 800.0,748.7 801.0,750.0 802.0,751.3 802.6,752.0 804.0,753.9 804.1,754.0 805.7,756.0 806.0,756.4 807.1,758.0 808.0,759.1 808.7,760.0 810.0,761.8 810.1,762.0 811.7,764.0 812.0,764.5 813.1,766.0 814.0,767.3 814.6,768.0 815.9,770.0 816.0,770.1 817.4,772.0 818.0,772.8 818.8,774.0 820.0,775.7 820.2,776.0 821.7,778.0 822.0,778.4 823.2,780.0 824.0,781.1 824.7,782.0 826.0,783.8 826.2,784.0 827.7,786.0 828.0,786.4 829.1,788.0 830.0,789.2 830.6,790.0 832.0,792.0 832.0,792.0 833.5,794.0 834.0,794.8 834.9,796.0 836.0,797.6 836.3,798.0 837.7,800.0 838.0,800.4 839.0,802.0 840.0,803.4 840.4,804.0 841.7,806.0 842.0,806.6 842.6,808.0 843.4,810.0 844.0,811.2 844.4,812.0 845.1,814.0 846.0,815.9 846.0,816.0 846.9,818.0 847.6,820.0 848.0,820.8 848.5,822.0 849.2,824.0 850.0,825.7 850.2,826.0 850.9,828.0 851.6,830.0 852.0,830.8 852.5,832.0 853.1,834.0 854.0,836.0 854.0,836.1 854.6,838.0 855.3,840.0 856.0,841.9 856.0,842.0 856.5,844.0 857.3,846.0 858.0,847.0 858.7,848.0 859.6,850.0 860.0,850.7 860.9,852.0 861.9,854.0 862.0,854.3 863.0,856.0 864.0,857.9 864.0,858.0 865.0,860.0 866.0,861.8 866.1,862.0 866.8,864.0 868.0,866.0 868.0,866.1 868.5,868.0 869.6,870.0 870.0,871.5 870.1,872.0 870.6,874.0 871.3,876.0 870.9,878.0 870.0,880.0 870.0,880.0 868.0,880.7 866.0,880.4 865.0,880.0 864.0,879.3 862.0,878.3 861.4,878.0 860.0,877.1 858.7,876.0 858.0,875.6 856.0,874.3 855.7,874.0 854.0,872.6 853.1,872.0 852.0,871.1 850.8,870.0 850.0,869.4 848.2,868.0 848.0,867.8 846.0,866.1 845.9,866.0 844.0,864.2 843.8,864.0 842.0,862.6 841.4,862.0 840.0,860.5 839.4,860.0 838.0,858.9 837.1,858.0 836.0,856.7 835.3,856.0 834.0,854.8 833.2,854.0 832.0,852.6 831.5,852.0 830.0,850.5 829.6,850.0 828.0,848.2 827.8,848.0 826.0,846.0 826.0,846.0 824.3,844.0 824.0,843.7 822.6,842.0 822.0,841.2 821.0,840.0 820.0,838.9 819.3,838.0 818.0,836.4 817.6,836.0 816.0,834.1 816.0,834.0 814.4,832.0 814.0,831.6 812.7,830.0 812.0,829.1 810.7,828.0 810.0,827.5 808.2,826.0 808.0,825.9 806.0,824.4 805.5,824.0 804.0,822.9 802.9,822.0 802.0,821.3 800.3,820.0 800.0,819.8 798.0,818.1 797.9,818.0 796.0,816.6 795.3,816.0 794.0,814.9 792.8,814.0 792.0,813.3 790.4,812.0 790.0,811.7 788.0,810.0 788.0,810.0 786.0,808.4 785.5,808.0 784.0,806.8 783.0,806.0 782.0,805.2 780.7,804.0 780.0,803.4 778.1,802.0 778.0,801.9 776.0,800.1 775.9,800.0 774.0,798.5 773.5,798.0 772.0,796.7 771.1,796.0 770.0,795.0 768.9,794.0 768.0,793.2 766.6,792.0 766.0,791.4 764.4,790.0 764.0,789.7 762.2,788.0 762.0,787.8 760.0,786.1 759.9,786.0 758.0,784.1 757.9,784.0 756.0,782.4 755.6,782.0 754.0,780.7 753.2,780.0 752.0,778.9 750.9,778.0 750.0,777.2 748.6,776.0 748.0,775.5 746.4,774.0 746.0,773.7 744.1,772.0 744.0,771.9 742.0,770.1 741.9,770.0 740.0,768.3 739.7,768.0 738.0,766.5 737.4,766.0 736.0,764.7 735.2,764.0 734.0,763.0 732.6,762.0 732.0,761.6 730.0,760.4 729.4,760.0 728.0,759.1 726.3,758.0 726.0,757.8 724.0,756.6 723.1,756.0 722.0,755.3 720.0,754.0 719.9,754.0 718.0,752.8 716.8,752.0 716.0,751.5 714.0,750.3 713.5,750.0 712.0,749.2 710.0,748.1 709.9,748.0 708.0,746.9 706.4,746.0 706.0,745.8 704.0,744.6 702.9,744.0 702.0,743.5 700.0,742.3 699.4,742.0 698.0,741.2 696.1,740.0 696.0,740.0 694.0,738.8 692.8,738.0 692.0,737.5 690.1,736.0 690.0,735.9 688.0,734.3 687.6,734.0 686.0,732.7 685.1,732.0 684.0,731.1 682.7,730.0 682.0,729.5 680.2,728.0 680.0,727.8 678.0,726.2 677.8,726.0 676.0,724.5 675.4,724.0 674.0,722.9 672.6,722.0 672.0,721.6 670.0,720.4 669.3,720.0 668.0,719.3 666.0,718.1 665.9,718.0 664.0,716.9 662.5,716.0 662.0,715.7 660.0,714.5 659.2,714.0 658.0,713.2 656.1,712.0 656.0,711.9 654.0,710.6 653.1,710.0 652.0,709.3 650.1,708.0 650.0,707.9 648.0,706.6 647.1,706.0 646.0,705.3 644.1,704.0 644.0,704.0 642.0,702.7 641.0,702.0 640.0,701.4 638.0,700.1 637.9,700.0 636.0,698.7 634.9,698.0 634.0,697.4 632.0,696.0 631.9,696.0 630.0,694.5 629.3,694.0 628.0,692.8 627.1,692.0 626.0,691.0 625.0,690.0 624.0,689.1 622.9,688.0 622.0,687.1 620.8,686.0 620.0,685.2 618.8,684.0 618.0,683.2 616.8,682.0 616.0,681.2 614.9,680.0 614.0,679.0 613.1,678.0 612.0,676.7 611.4,676.0 610.0,674.4 609.7,674.0 608.0,672.0 608.0,672.0 606.3,670.0 606.0,669.7 604.6,668.0 604.0,667.3 603.1,666.0 602.0,664.4 601.8,664.0 600.6,662.0 600.0,660.8 599.6,660.0 598.7,658.0 598.0,656.0 598.0,656.0 597.4,654.0 596.8,652.0 596.4,650.0 596.1,648.0 596.0,647.9 594.4,646.0 594.0,645.5 592.7,644.0 592.0,643.2 590.9,642.0 590.0,640.9 589.2,640.0 588.0,638.6 587.4,638.0 586.0,636.3 585.7,636.0 584.0,634.0 584.0,634.0 582.2,632.0 582.0,631.8 580.4,630.0 580.0,629.5 578.7,628.0 578.0,627.2 576.9,626.0 576.0,624.9 575.2,624.0 574.0,622.6 573.4,622.0 572.0,620.3 571.7,620.0 570.0,618.0 570.0,618.0 568.2,616.0 568.0,615.8 566.4,614.0 566.0,613.5 564.8,612.0 564.0,610.8 563.4,610.0 562.3,608.0 562.0,607.5 561.2,606.0 560.3,604.0 560.0,603.0 559.6,602.0 559.0,600.0 558.5,598.0 558.2,596.0 558.0,594.0 558.0,593.6 557.9,592.0 557.9,590.0 558.0,588.4 558.0,588.0 558.2,586.0 558.5,584.0 559.0,582.0 559.6,580.0 560.0,579.0 560.3,578.0 561.2,576.0 562.0,574.5 562.3,574.0 563.4,572.0 564.0,571.2 564.8,570.0 566.0,568.5 566.4,568.0 568.0,566.3 568.3,566.0 570.0,564.4 570.5,564.0 572.0,562.8 573.2,562.0 574.0,561.4 576.0,560.3 576.5,560.0 578.0,559.2 580.0,558.3 581.0,558.0 582.0,557.6 584.0,557.0 586.0,556.5 588.0,556.2 590.0,556.0 590.4,556.0Z" fill="#cee0f2"/><path d="M587.4,558.0 588.0,557.9 590.0,557.6 592.0,557.5 594.0,557.5 596.0,557.6 598.0,557.9 598.6,558.0 600.0,558.2 602.0,558.7 604.0,559.3 605.7,560.0 606.0,560.1 608.0,561.0 609.8,562.0 610.0,562.1 612.0,563.4 612.8,564.0 614.0,564.9 615.3,566.0 616.0,566.6 617.4,568.0 618.0,568.7 619.2,570.0 620.0,571.0 620.9,572.0 622.0,573.2 622.7,574.0 624.0,575.5 624.4,576.0 626.0,577.8 626.1,578.0 627.9,580.0 628.0,580.1 629.7,582.0 630.0,582.4 631.4,584.0 632.0,584.7 633.2,586.0 634.0,587.0 634.9,588.0 636.0,589.2 636.7,590.0 638.0,591.5 638.4,592.0 640.0,593.8 640.1,594.0 641.9,596.0 642.0,596.1 643.7,598.0 644.0,598.4 645.4,600.0 646.0,600.7 647.2,602.0 648.0,603.0 648.9,604.0 650.0,605.2 650.7,606.0 652.0,607.5 652.4,608.0 654.0,609.9 654.2,610.0 656.0,611.7 656.5,612.0 658.0,613.0 659.3,614.0 660.0,614.6 661.6,616.0 662.0,616.4 663.8,618.0 664.0,618.1 666.0,619.9 666.1,620.0 668.0,621.7 668.3,622.0 670.0,623.5 670.6,624.0 672.0,625.3 672.9,626.0 674.0,627.0 675.2,628.0 676.0,628.7 677.5,630.0 678.0,630.5 679.7,632.0 680.0,632.3 681.9,634.0 682.0,634.1 683.9,636.0 684.0,636.1 685.8,638.0 686.0,638.2 687.7,640.0 688.0,640.3 689.6,642.0 690.0,642.4 691.5,644.0 692.0,644.6 693.3,646.0 694.0,646.8 695.2,648.0 696.0,648.9 697.1,650.0 698.0,651.0 699.0,652.0 700.0,653.1 700.8,654.0 702.0,655.2 702.7,656.0 704.0,657.4 704.6,658.0 706.0,659.6 706.3,660.0 708.0,662.0 708.0,662.0 709.6,664.0 710.0,664.4 711.3,666.0 712.0,666.9 712.9,668.0 714.0,669.3 714.6,670.0 716.0,671.7 716.2,672.0 717.9,674.0 718.0,674.2 719.5,676.0 720.0,676.6 721.1,678.0 722.0,679.1 722.7,680.0 724.0,681.6 724.4,682.0 726.0,684.0 726.0,684.1 727.5,686.0 728.0,686.6 729.1,688.0 730.0,689.1 730.7,690.0 732.0,691.7 732.3,692.0 734.0,693.6 734.4,694.0 736.0,695.5 736.5,696.0 738.0,697.4 738.6,698.0 740.0,699.4 740.7,700.0 742.0,701.3 742.7,702.0 744.0,703.3 744.7,704.0 746.0,705.2 747.1,706.0 748.0,706.6 750.0,707.9 750.1,708.0 752.0,709.3 753.1,710.0 754.0,710.6 756.0,712.0 756.0,712.0 758.0,713.3 759.1,714.0 760.0,714.6 762.0,716.0 762.0,716.0 764.0,717.4 765.0,718.0 766.0,718.7 767.7,720.0 768.0,720.2 769.9,722.0 770.0,722.1 771.6,724.0 772.0,724.5 773.4,726.0 774.0,726.8 775.1,728.0 776.0,729.0 776.8,730.0 778.0,731.4 778.5,732.0 780.0,733.9 780.1,734.0 781.9,736.0 782.0,736.1 783.5,738.0 784.0,738.5 785.1,740.0 786.0,741.0 786.8,742.0 788.0,743.5 788.4,744.0 790.0,746.0 790.0,746.0 791.6,748.0 792.0,748.5 793.1,750.0 794.0,751.3 794.5,752.0 796.0,754.0 796.0,754.0 797.4,756.0 798.0,756.8 798.9,758.0 800.0,759.7 800.2,760.0 801.6,762.0 802.0,762.6 802.9,764.0 804.0,765.5 804.3,766.0 805.6,768.0 806.0,768.6 806.9,770.0 808.0,772.0 808.0,772.0 809.4,774.0 810.0,775.1 810.5,776.0 811.8,778.0 812.0,778.4 812.8,780.0 814.0,782.0 814.0,782.0 815.3,784.0 816.0,785.1 816.6,786.0 817.9,788.0 818.0,788.2 819.1,790.0 820.0,791.5 820.3,792.0 821.5,794.0 822.0,795.0 822.6,796.0 823.7,798.0 824.0,798.6 824.8,800.0 825.8,802.0 826.0,802.4 826.7,804.0 827.7,806.0 828.0,807.0 828.4,808.0 829.2,810.0 829.6,812.0 830.0,813.4 830.2,814.0 830.2,816.0 830.0,816.8 829.5,818.0 829.1,820.0 828.0,820.9 826.0,820.6 824.0,820.3 823.4,820.0 822.0,819.5 820.0,819.0 818.0,818.2 817.6,818.0 816.0,817.3 814.0,816.4 813.4,816.0 812.0,815.3 810.0,814.2 809.7,814.0 808.0,813.0 806.3,812.0 806.0,811.8 804.0,810.5 803.1,810.0 802.0,809.2 800.1,808.0 800.0,807.9 798.0,806.5 797.3,806.0 796.0,805.2 794.5,804.0 794.0,803.7 792.0,802.3 791.5,802.0 790.0,801.0 788.4,800.0 788.0,799.7 786.0,798.2 785.6,798.0 784.0,796.9 782.9,796.0 782.0,795.3 780.0,794.0 780.0,794.0 778.0,792.4 777.5,792.0 776.0,790.9 775.0,790.0 774.0,789.2 772.3,788.0 772.0,787.7 770.0,786.0 769.9,786.0 768.0,784.5 767.5,784.0 766.0,782.8 765.0,782.0 764.0,781.1 762.7,780.0 762.0,779.4 760.3,778.0 760.0,777.8 758.0,776.2 757.7,776.0 756.0,774.6 755.2,774.0 754.0,773.0 752.8,772.0 752.0,771.4 750.4,770.0 750.0,769.6 748.0,768.1 747.9,768.0 746.0,766.4 745.6,766.0 744.0,764.6 743.3,764.0 742.0,763.0 740.9,762.0 740.0,761.2 738.6,760.0 738.0,759.5 736.0,758.2 735.7,758.0 734.0,757.0 732.4,756.0 732.0,755.8 730.0,754.6 729.1,754.0 728.0,753.4 726.0,752.2 725.7,752.0 724.0,750.9 722.4,750.0 722.0,749.7 720.0,748.5 719.2,748.0 718.0,747.3 716.0,746.2 715.6,746.0 714.0,745.1 712.0,744.1 711.9,744.0 710.0,743.0 708.2,742.0 708.0,741.9 706.0,740.8 704.6,740.0 704.0,739.7 702.0,738.6 701.0,738.0 700.0,737.4 698.0,736.3 697.5,736.0 696.0,735.2 694.3,734.0 694.0,733.8 692.0,732.2 691.7,732.0 690.0,730.7 689.1,730.0 688.0,729.1 686.6,728.0 686.0,727.5 684.1,726.0 684.0,726.0 682.0,724.4 681.6,724.0 680.0,722.7 679.1,722.0 678.0,721.1 676.6,720.0 676.0,719.5 674.0,718.4 673.4,718.0 672.0,717.2 670.0,716.0 670.0,716.0 668.0,714.8 666.7,714.0 666.0,713.6 664.0,712.4 663.3,712.0 662.0,711.2 660.1,710.0 660.0,710.0 658.0,708.7 656.9,708.0 656.0,707.4 654.0,706.1 653.8,706.0 652.0,704.8 650.8,704.0 650.0,703.5 648.0,702.2 647.7,702.0 646.0,701.0 644.5,700.0 644.0,699.7 642.0,698.4 641.4,698.0 640.0,697.1 638.3,696.0 638.0,695.8 636.0,694.5 635.2,694.0 634.0,693.2 632.4,692.0 632.0,691.7 630.1,690.0 630.0,689.9 628.0,688.1 627.9,688.0 626.0,686.3 625.7,686.0 624.0,684.5 623.5,684.0 622.0,682.6 621.4,682.0 620.0,680.7 619.3,680.0 618.0,678.6 617.4,678.0 616.0,676.4 615.6,676.0 614.0,674.2 613.8,674.0 612.0,672.0 612.0,672.0 610.2,670.0 610.0,669.7 608.5,668.0 608.0,667.5 606.8,666.0 606.0,665.0 605.3,664.0 604.0,662.0 604.0,661.9 602.9,660.0 602.0,658.0 602.0,658.0 601.1,656.0 600.5,654.0 600.0,652.2 599.9,652.0 599.5,650.0 598.3,648.0 598.0,647.6 596.6,646.0 596.0,645.3 594.8,644.0 594.0,643.0 593.1,642.0 592.0,640.8 591.3,640.0 590.0,638.5 589.6,638.0 588.0,636.2 587.9,636.0 586.1,634.0 586.0,633.9 584.3,632.0 584.0,631.6 582.6,630.0 582.0,629.3 580.8,628.0 580.0,627.0 579.1,626.0 578.0,624.8 577.3,624.0 576.0,622.5 575.6,622.0 574.0,620.2 573.9,620.0 572.1,618.0 572.0,617.9 570.3,616.0 570.0,615.6 568.6,614.0 568.0,613.3 566.9,612.0 566.0,610.8 565.4,610.0 564.1,608.0 564.0,607.8 563.0,606.0 562.1,604.0 562.0,603.7 561.3,602.0 560.7,600.0 560.2,598.0 560.0,596.6 559.9,596.0 559.6,594.0 559.5,592.0 559.5,590.0 559.6,588.0 559.9,586.0 560.0,585.4 560.2,584.0 560.7,582.0 561.3,580.0 562.0,578.3 562.1,578.0 563.0,576.0 564.0,574.2 564.1,574.0 565.4,572.0 566.0,571.2 566.9,570.0 568.0,568.7 568.6,568.0 570.0,566.6 570.7,566.0 572.0,564.9 573.2,564.0 574.0,563.4 576.0,562.1 576.2,562.0 578.0,561.0 580.0,560.1 580.3,560.0 582.0,559.3 584.0,558.7 586.0,558.2 587.4,558.0Z" fill="#c7dcef"/><path d="M584.4,560.0 586.0,559.6 588.0,559.2 590.0,558.9 592.0,558.8 594.0,558.8 596.0,558.9 598.0,559.2 600.0,559.6 601.6,560.0 602.0,560.1 604.0,560.7 606.0,561.5 606.9,562.0 608.0,562.5 610.0,563.7 610.5,564.0 612.0,565.0 613.3,566.0 614.0,566.6 615.5,568.0 616.0,568.5 617.4,570.0 618.0,570.7 619.2,572.0 620.0,573.0 620.9,574.0 622.0,575.2 622.7,576.0 624.0,577.5 624.4,578.0 626.0,579.8 626.1,580.0 627.9,582.0 628.0,582.1 629.7,584.0 630.0,584.4 631.4,586.0 632.0,586.7 633.2,588.0 634.0,589.0 634.9,590.0 636.0,591.2 636.7,592.0 638.0,593.5 638.4,594.0 640.0,595.8 640.1,596.0 641.9,598.0 642.0,598.1 643.7,600.0 644.0,600.4 645.4,602.0 646.0,602.7 647.2,604.0 648.0,605.0 648.9,606.0 650.0,607.2 650.7,608.0 652.0,609.5 652.4,610.0 654.0,612.0 654.0,612.0 655.6,614.0 656.0,614.6 657.8,616.0 658.0,616.2 660.0,617.9 660.1,618.0 662.0,619.7 662.3,620.0 664.0,621.6 664.5,622.0 666.0,623.4 666.6,624.0 668.0,625.3 668.8,626.0 670.0,627.1 671.0,628.0 672.0,628.9 673.2,630.0 674.0,630.7 675.4,632.0 676.0,632.5 677.6,634.0 678.0,634.4 679.8,636.0 680.0,636.2 681.8,638.0 682.0,638.2 683.6,640.0 684.0,640.4 685.5,642.0 686.0,642.6 687.3,644.0 688.0,644.7 689.2,646.0 690.0,646.9 691.0,648.0 692.0,649.2 692.8,650.0 694.0,651.4 694.6,652.0 696.0,653.5 696.5,654.0 698.0,655.7 698.3,656.0 700.0,657.9 700.1,658.0 701.9,660.0 702.0,660.1 703.7,662.0 704.0,662.4 705.4,664.0 706.0,664.8 707.0,666.0 708.0,667.2 708.6,668.0 710.0,669.7 710.3,670.0 711.9,672.0 712.0,672.1 713.6,674.0 714.0,674.6 715.2,676.0 716.0,677.0 716.8,678.0 718.0,679.5 718.4,680.0 719.9,682.0 720.0,682.1 721.5,684.0 722.0,684.6 723.1,686.0 724.0,687.2 724.6,688.0 726.0,689.9 726.1,690.0 727.6,692.0 728.0,692.5 729.2,694.0 730.0,695.0 731.0,696.0 732.0,697.0 733.1,698.0 734.0,699.0 735.1,700.0 736.0,700.9 737.1,702.0 738.0,703.0 739.0,704.0 740.0,705.0 741.0,706.0 742.0,707.1 742.8,708.0 744.0,709.1 745.2,710.0 746.0,710.6 748.0,711.9 748.1,712.0 750.0,713.3 751.0,714.0 752.0,714.7 753.8,716.0 754.0,716.2 756.0,717.5 756.7,718.0 758.0,718.9 759.5,720.0 760.0,720.4 762.0,721.8 762.2,722.0 764.0,723.3 764.9,724.0 766.0,725.0 766.9,726.0 768.0,727.3 768.5,728.0 770.0,729.7 770.2,730.0 771.8,732.0 772.0,732.3 773.3,734.0 774.0,734.8 775.0,736.0 776.0,737.4 776.5,738.0 778.0,739.9 778.1,740.0 779.5,742.0 780.0,742.6 781.0,744.0 782.0,745.4 782.5,746.0 783.9,748.0 784.0,748.2 785.4,750.0 786.0,751.0 786.7,752.0 788.0,753.8 788.1,754.0 789.3,756.0 790.0,757.1 790.6,758.0 791.6,760.0 792.0,760.6 793.0,762.0 794.0,764.0 794.0,764.0 795.2,766.0 796.0,767.6 796.2,768.0 797.1,770.0 798.0,771.6 798.2,772.0 798.9,774.0 799.9,776.0 800.0,776.3 800.5,778.0 801.0,780.0 801.6,782.0 801.6,784.0 801.7,786.0 801.3,788.0 800.0,789.7 799.3,790.0 798.0,790.4 796.0,790.1 794.0,790.2 793.0,790.0 792.0,789.8 790.0,788.9 788.0,788.2 787.5,788.0 786.0,787.2 784.0,786.2 783.6,786.0 782.0,785.1 780.3,784.0 780.0,783.8 778.0,782.8 777.0,782.0 776.0,781.3 774.0,780.2 773.8,780.0 772.0,778.7 771.0,778.0 770.0,777.4 768.3,776.0 768.0,775.8 766.0,774.4 765.4,774.0 764.0,773.0 762.5,772.0 762.0,771.6 760.0,770.2 759.7,770.0 758.0,768.7 757.0,768.0 756.0,767.3 754.4,766.0 754.0,765.7 752.0,764.3 751.7,764.0 750.0,762.7 749.0,762.0 748.0,761.1 746.5,760.0 746.0,759.6 744.1,758.0 744.0,757.9 742.0,756.4 741.5,756.0 740.0,755.0 738.3,754.0 738.0,753.8 736.0,752.7 734.7,752.0 734.0,751.6 732.0,750.4 731.2,750.0 730.0,749.3 728.0,748.2 727.7,748.0 726.0,747.0 724.3,746.0 724.0,745.8 722.0,744.7 720.9,744.0 720.0,743.5 718.0,742.5 716.9,742.0 716.0,741.5 714.0,740.5 713.0,740.0 712.0,739.5 710.0,738.5 709.1,738.0 708.0,737.4 706.0,736.4 705.3,736.0 704.0,735.3 702.0,734.3 701.6,734.0 700.0,733.1 698.0,732.0 698.0,732.0 696.0,730.7 695.1,730.0 694.0,729.2 692.5,728.0 692.0,727.6 690.0,726.1 689.9,726.0 688.0,724.6 687.2,724.0 686.0,723.1 684.6,722.0 684.0,721.5 682.1,720.0 682.0,719.9 680.0,718.4 679.5,718.0 678.0,716.9 676.6,716.0 676.0,715.7 674.0,714.5 673.2,714.0 672.0,713.3 670.0,712.1 669.8,712.0 668.0,710.9 666.4,710.0 666.0,709.8 664.0,708.6 663.1,708.0 662.0,707.3 660.0,706.1 659.8,706.0 658.0,704.9 656.6,704.0 656.0,703.6 654.0,702.3 653.5,702.0 652.0,701.1 650.4,700.0 650.0,699.8 648.0,698.6 647.1,698.0 646.0,697.3 644.0,696.1 643.9,696.0 642.0,694.8 640.7,694.0 640.0,693.6 638.0,692.3 637.6,692.0 636.0,691.0 634.6,690.0 634.0,689.5 632.2,688.0 632.0,687.8 630.0,686.1 629.9,686.0 628.0,684.3 627.7,684.0 626.0,682.5 625.4,682.0 624.0,680.7 623.2,680.0 622.0,678.9 621.1,678.0 620.0,676.9 619.2,676.0 618.0,674.7 617.3,674.0 616.0,672.5 615.5,672.0 614.0,670.4 613.7,670.0 612.0,668.2 611.8,668.0 610.0,666.0 610.0,666.0 608.4,664.0 608.0,663.5 607.0,662.0 606.0,660.4 605.8,660.0 604.7,658.0 604.0,656.4 603.8,656.0 603.1,654.0 602.5,652.0 602.0,650.6 601.8,650.0 600.1,648.0 600.0,647.9 598.3,646.0 598.0,645.6 596.6,644.0 596.0,643.3 594.8,642.0 594.0,641.0 593.1,640.0 592.0,638.8 591.3,638.0 590.0,636.5 589.6,636.0 588.0,634.2 587.9,634.0 586.1,632.0 586.0,631.9 584.3,630.0 584.0,629.6 582.6,628.0 582.0,627.3 580.8,626.0 580.0,625.0 579.1,624.0 578.0,622.8 577.3,622.0 576.0,620.5 575.6,620.0 574.0,618.2 573.9,618.0 572.1,616.0 572.0,615.9 570.3,614.0 570.0,613.6 568.6,612.0 568.0,611.3 567.0,610.0 566.0,608.5 565.7,608.0 564.5,606.0 564.0,604.9 563.5,604.0 562.7,602.0 562.1,600.0 562.0,599.6 561.6,598.0 561.2,596.0 560.9,594.0 560.8,592.0 560.8,590.0 560.9,588.0 561.2,586.0 561.6,584.0 562.0,582.4 562.1,582.0 562.7,580.0 563.5,578.0 564.0,577.1 564.5,576.0 565.7,574.0 566.0,573.5 567.0,572.0 568.0,570.7 568.6,570.0 570.0,568.5 570.5,568.0 572.0,566.6 572.7,566.0 574.0,565.0 575.5,564.0 576.0,563.7 578.0,562.5 579.1,562.0 580.0,561.5 582.0,560.7 584.0,560.1 584.4,560.0Z" fill="#bdd7ec"/><path d="M591.4,560.0 592.0,560.0 594.0,560.0 594.6,560.0 596.0,560.1 598.0,560.3 600.0,560.7 602.0,561.2 604.0,562.0 604.1,562.0 606.0,562.7 608.0,563.8 608.3,564.0 610.0,565.0 611.4,566.0 612.0,566.4 613.9,568.0 614.0,568.1 615.9,570.0 616.0,570.1 617.7,572.0 618.0,572.4 619.4,574.0 620.0,574.7 621.2,576.0 622.0,576.9 622.9,578.0 624.0,579.2 624.7,580.0 626.0,581.5 626.4,582.0 628.0,583.8 628.2,584.0 629.9,586.0 630.0,586.1 631.7,588.0 632.0,588.4 633.4,590.0 634.0,590.7 635.2,592.0 636.0,592.9 636.9,594.0 638.0,595.2 638.7,596.0 640.0,597.5 640.4,598.0 642.0,599.8 642.2,600.0 643.9,602.0 644.0,602.1 645.7,604.0 646.0,604.4 647.4,606.0 648.0,606.7 649.2,608.0 650.0,608.9 650.9,610.0 652.0,611.3 652.6,612.0 654.0,614.0 654.0,614.0 655.3,616.0 656.0,617.3 656.8,618.0 658.0,619.0 659.0,620.0 660.0,620.9 661.2,622.0 662.0,622.8 663.3,624.0 664.0,624.7 665.4,626.0 666.0,626.6 667.5,628.0 668.0,628.5 669.6,630.0 670.0,630.3 671.8,632.0 672.0,632.2 673.9,634.0 674.0,634.1 676.0,636.0 676.0,636.0 678.0,637.9 678.1,638.0 680.0,639.9 680.1,640.0 681.9,642.0 682.0,642.1 683.7,644.0 684.0,644.3 685.5,646.0 686.0,646.5 687.3,648.0 688.0,648.8 689.1,650.0 690.0,651.1 690.8,652.0 692.0,653.3 692.6,654.0 694.0,655.5 694.4,656.0 696.0,657.8 696.2,658.0 698.0,660.0 698.0,660.0 699.7,662.0 700.0,662.3 701.5,664.0 702.0,664.6 703.1,666.0 704.0,667.1 704.7,668.0 706.0,669.5 706.4,670.0 708.0,672.0 708.0,672.0 709.6,674.0 710.0,674.5 711.3,676.0 712.0,676.9 712.9,678.0 714.0,679.5 714.4,680.0 716.0,682.0 716.0,682.1 717.5,684.0 718.0,684.7 719.0,686.0 720.0,687.3 720.5,688.0 722.0,690.0 722.0,690.1 723.5,692.0 724.0,692.7 724.9,694.0 726.0,695.5 726.4,696.0 728.0,698.0 728.0,698.0 729.9,700.0 730.0,700.1 731.8,702.0 732.0,702.2 733.7,704.0 734.0,704.3 735.6,706.0 736.0,706.5 737.4,708.0 738.0,708.7 739.2,710.0 740.0,711.0 740.9,712.0 742.0,713.0 743.3,714.0 744.0,714.6 746.0,716.0 746.0,716.0 748.0,717.5 748.7,718.0 750.0,719.0 751.3,720.0 752.0,720.5 754.0,722.0 754.0,722.0 756.0,723.5 756.6,724.0 758.0,725.1 759.2,726.0 760.0,726.7 761.7,728.0 762.0,728.2 763.6,730.0 764.0,730.6 765.0,732.0 766.0,733.3 766.5,734.0 767.9,736.0 768.0,736.2 769.3,738.0 770.0,739.1 770.6,740.0 771.9,742.0 772.0,742.2 773.2,744.0 774.0,745.3 774.4,746.0 775.7,748.0 776.0,748.6 776.7,750.0 777.9,752.0 778.0,752.3 778.7,754.0 779.8,756.0 780.0,756.8 780.4,758.0 781.2,760.0 781.5,762.0 781.8,764.0 782.0,765.9 782.0,766.0 782.0,766.0 780.9,768.0 780.0,768.7 778.0,769.2 776.0,768.7 774.0,768.4 772.5,768.0 772.0,767.8 770.0,767.1 768.0,766.3 767.5,766.0 766.0,765.3 764.0,764.3 763.5,764.0 762.0,763.2 760.0,762.0 759.9,762.0 758.0,760.8 756.7,760.0 756.0,759.6 754.0,758.3 753.5,758.0 752.0,756.9 750.6,756.0 750.0,755.6 748.0,754.2 747.8,754.0 746.0,752.8 745.0,752.0 744.0,751.4 742.0,750.4 741.3,750.0 740.0,749.3 738.0,748.3 737.5,748.0 736.0,747.3 734.0,746.2 733.6,746.0 732.0,745.1 730.0,744.1 729.9,744.0 728.0,743.0 726.3,742.0 726.0,741.9 724.0,740.8 722.5,740.0 722.0,739.7 720.0,738.9 718.0,738.0 717.9,738.0 716.0,737.1 714.0,736.2 713.6,736.0 712.0,735.2 710.0,734.3 709.5,734.0 708.0,733.3 706.0,732.3 705.5,732.0 704.0,731.3 702.0,730.2 701.6,730.0 700.0,729.1 698.3,728.0 698.0,727.8 696.0,726.4 695.5,726.0 694.0,724.9 692.7,724.0 692.0,723.5 690.1,722.0 690.0,722.0 688.0,720.5 687.3,720.0 686.0,719.0 684.7,718.0 684.0,717.5 682.1,716.0 682.0,716.0 680.0,714.5 679.2,714.0 678.0,713.3 676.0,712.1 675.8,712.0 674.0,711.0 672.3,710.0 672.0,709.8 670.0,708.6 668.9,708.0 668.0,707.5 666.0,706.3 665.5,706.0 664.0,705.1 662.2,704.0 662.0,703.9 660.0,702.7 658.9,702.0 658.0,701.5 656.0,700.2 655.6,700.0 654.0,699.0 652.4,698.0 652.0,697.8 650.0,696.6 649.1,696.0 648.0,695.4 646.0,694.2 645.7,694.0 644.0,693.0 642.5,692.0 642.0,691.7 640.0,690.5 639.3,690.0 638.0,689.2 636.3,688.0 636.0,687.8 634.0,686.1 633.9,686.0 632.0,684.4 631.5,684.0 630.0,682.8 629.1,682.0 628.0,681.0 626.8,680.0 626.0,679.3 624.6,678.0 624.0,677.5 622.4,676.0 622.0,675.5 620.5,674.0 620.0,673.4 618.6,672.0 618.0,671.4 616.7,670.0 616.0,669.2 614.8,668.0 614.0,667.1 613.0,666.0 612.0,664.9 611.2,664.0 610.0,662.5 609.6,662.0 608.3,660.0 608.0,659.5 607.1,658.0 606.2,656.0 606.0,655.5 605.4,654.0 604.7,652.0 604.0,651.2 603.3,650.0 602.0,648.5 601.6,648.0 600.0,646.2 599.8,646.0 598.1,644.0 598.0,643.9 596.3,642.0 596.0,641.6 594.6,640.0 594.0,639.3 592.8,638.0 592.0,637.1 591.1,636.0 590.0,634.8 589.3,634.0 588.0,632.5 587.6,632.0 586.0,630.2 585.8,630.0 584.1,628.0 584.0,627.9 582.3,626.0 582.0,625.6 580.6,624.0 580.0,623.3 578.8,622.0 578.0,621.1 577.1,620.0 576.0,618.8 575.3,618.0 574.0,616.5 573.6,616.0 572.0,614.2 571.8,614.0 570.1,612.0 570.0,611.9 568.4,610.0 568.0,609.4 567.0,608.0 566.0,606.3 565.8,606.0 564.7,604.0 564.0,602.1 564.0,602.0 563.2,600.0 562.7,598.0 562.3,596.0 562.1,594.0 562.0,592.6 562.0,592.0 562.0,590.0 562.0,589.4 562.1,588.0 562.3,586.0 562.7,584.0 563.2,582.0 564.0,580.0 564.0,579.9 564.7,578.0 565.8,576.0 566.0,575.7 567.0,574.0 568.0,572.6 568.4,572.0 570.0,570.1 570.1,570.0 572.0,568.1 572.1,568.0 574.0,566.4 574.6,566.0 576.0,565.0 577.7,564.0 578.0,563.8 580.0,562.7 581.9,562.0 582.0,562.0 584.0,561.2 586.0,560.7 588.0,560.3 590.0,560.1 591.4,560.0Z" fill="#b2d2e8"/><path d="M585.1,562.0 586.0,561.7 588.0,561.3 590.0,561.0 592.0,560.9 594.0,560.9 596.0,561.0 598.0,561.3 600.0,561.7 600.9,562.0 602.0,562.3 604.0,563.0 606.0,563.9 606.2,564.0 608.0,564.9 609.7,566.0 610.0,566.2 612.0,567.7 612.4,568.0 614.0,569.5 614.5,570.0 616.0,571.6 616.4,572.0 618.0,573.9 618.1,574.0 619.8,576.0 620.0,576.2 621.6,578.0 622.0,578.5 623.4,580.0 624.0,580.7 625.1,582.0 626.0,583.0 626.9,584.0 628.0,585.3 628.6,586.0 630.0,587.6 630.4,588.0 632.0,589.9 632.1,590.0 633.8,592.0 634.0,592.2 635.6,594.0 636.0,594.5 637.4,596.0 638.0,596.7 639.1,598.0 640.0,599.0 640.9,600.0 642.0,601.3 642.6,602.0 644.0,603.6 644.4,604.0 646.0,605.9 646.1,606.0 647.8,608.0 648.0,608.2 649.6,610.0 650.0,610.5 651.3,612.0 652.0,612.9 652.8,614.0 654.0,615.9 654.1,616.0 655.2,618.0 656.0,619.9 656.1,620.0 658.0,621.7 658.3,622.0 660.0,623.7 660.4,624.0 662.0,625.6 662.4,626.0 664.0,627.5 664.5,628.0 666.0,629.5 666.5,630.0 668.0,631.4 668.6,632.0 670.0,633.3 670.7,634.0 672.0,635.3 672.8,636.0 674.0,637.2 674.8,638.0 676.0,639.2 676.8,640.0 678.0,641.3 678.7,642.0 680.0,643.5 680.5,644.0 682.0,645.7 682.2,646.0 684.0,648.0 684.0,648.0 685.7,650.0 686.0,650.3 687.4,652.0 688.0,652.7 689.1,654.0 690.0,655.0 690.9,656.0 692.0,657.3 692.7,658.0 694.0,659.5 694.4,660.0 696.0,661.9 696.1,662.0 697.8,664.0 698.0,664.2 699.5,666.0 700.0,666.6 701.1,668.0 702.0,669.1 702.7,670.0 704.0,671.6 704.3,672.0 705.9,674.0 706.0,674.1 707.5,676.0 708.0,676.6 709.1,678.0 710.0,679.1 710.7,680.0 712.0,681.7 712.2,682.0 713.7,684.0 714.0,684.4 715.2,686.0 716.0,687.1 716.7,688.0 718.0,689.9 718.1,690.0 719.5,692.0 720.0,692.7 720.9,694.0 722.0,695.6 722.3,696.0 723.6,698.0 724.0,698.5 725.1,700.0 726.0,701.1 726.8,702.0 728.0,703.3 728.6,704.0 730.0,705.6 730.3,706.0 732.0,707.9 732.1,708.0 733.7,710.0 734.0,710.4 735.3,712.0 736.0,712.9 736.9,714.0 738.0,715.5 738.4,716.0 740.0,717.6 740.5,718.0 742.0,719.3 742.9,720.0 744.0,721.0 745.3,722.0 746.0,722.7 747.7,724.0 748.0,724.3 750.0,726.0 750.0,726.0 752.0,727.9 752.2,728.0 754.0,729.8 754.2,730.0 756.0,731.6 756.4,732.0 758.0,733.5 758.4,734.0 759.6,736.0 760.0,737.0 760.5,738.0 761.4,740.0 762.0,741.9 762.1,742.0 762.7,744.0 762.8,746.0 762.5,748.0 762.0,748.9 760.0,749.7 758.0,749.8 756.0,749.5 754.0,748.7 752.0,748.1 751.9,748.0 750.0,747.0 748.0,746.1 747.7,746.0 746.0,745.4 744.0,744.6 742.5,744.0 742.0,743.8 740.0,742.9 738.0,742.0 738.0,742.0 736.0,741.1 734.0,740.3 733.5,740.0 732.0,739.2 730.0,738.3 729.3,738.0 728.0,737.4 726.0,736.4 725.0,736.0 724.0,735.7 722.0,735.0 720.0,734.3 719.4,734.0 718.0,733.5 716.0,732.6 714.4,732.0 714.0,731.8 712.0,731.0 710.0,730.1 709.9,730.0 708.0,729.2 706.0,728.3 705.5,728.0 704.0,727.3 702.0,726.3 701.6,726.0 700.0,725.0 698.5,724.0 698.0,723.6 696.0,722.3 695.6,722.0 694.0,720.9 692.7,720.0 692.0,719.5 690.0,718.1 689.9,718.0 688.0,716.7 687.1,716.0 686.0,715.2 684.4,714.0 684.0,713.7 682.0,712.3 681.6,712.0 680.0,711.1 678.1,710.0 678.0,710.0 676.0,708.8 674.6,708.0 674.0,707.7 672.0,706.5 671.1,706.0 670.0,705.3 668.0,704.2 667.7,704.0 666.0,703.1 664.2,702.0 664.0,701.9 662.0,700.7 660.7,700.0 660.0,699.6 658.0,698.4 657.4,698.0 656.0,697.2 654.1,696.0 654.0,695.9 652.0,694.8 650.6,694.0 650.0,693.7 648.0,692.5 647.2,692.0 646.0,691.3 644.0,690.1 643.8,690.0 642.0,688.9 640.6,688.0 640.0,687.7 638.0,686.3 637.6,686.0 636.0,684.7 635.1,684.0 634.0,683.1 632.6,682.0 632.0,681.5 630.2,680.0 630.0,679.8 628.0,678.1 627.9,678.0 626.0,676.4 625.5,676.0 624.0,674.5 623.5,674.0 622.0,672.5 621.5,672.0 620.0,670.5 619.6,670.0 618.0,668.4 617.6,668.0 616.0,666.3 615.7,666.0 614.0,664.2 613.8,664.0 612.1,662.0 612.0,661.9 610.6,660.0 610.0,659.1 609.4,658.0 608.3,656.0 608.0,655.2 607.5,654.0 606.5,652.0 606.0,651.5 604.6,650.0 604.0,649.3 602.9,648.0 602.0,647.0 601.1,646.0 600.0,644.7 599.4,644.0 598.0,642.4 597.6,642.0 596.0,640.1 595.9,640.0 594.2,638.0 594.0,637.8 592.4,636.0 592.0,635.5 590.6,634.0 590.0,633.3 588.9,632.0 588.0,631.0 587.1,630.0 586.0,628.7 585.4,628.0 584.0,626.4 583.6,626.0 582.0,624.1 581.9,624.0 580.2,622.0 580.0,621.8 578.4,620.0 578.0,619.5 576.6,618.0 576.0,617.3 574.9,616.0 574.0,615.0 573.1,614.0 572.0,612.7 571.4,612.0 570.0,610.4 569.7,610.0 568.2,608.0 568.0,607.7 566.9,606.0 566.0,604.2 565.9,604.0 565.0,602.0 564.3,600.0 564.0,598.9 563.7,598.0 563.3,596.0 563.0,594.0 562.9,592.0 562.9,590.0 563.0,588.0 563.3,586.0 563.7,584.0 564.0,583.1 564.3,582.0 565.0,580.0 565.9,578.0 566.0,577.8 566.9,576.0 568.0,574.3 568.2,574.0 569.7,572.0 570.0,571.6 571.5,570.0 572.0,569.5 573.6,568.0 574.0,567.7 576.0,566.2 576.3,566.0 578.0,564.9 579.8,564.0 580.0,563.9 582.0,563.0 584.0,562.3 585.1,562.0Z" fill="#a5cde3"/><path d="M589.8,562.0 590.0,562.0 592.0,561.8 594.0,561.8 596.0,562.0 596.2,562.0 598.0,562.2 600.0,562.6 602.0,563.2 604.0,564.0 604.1,564.0 606.0,564.8 608.0,566.0 608.0,566.0 610.0,567.3 611.0,568.0 612.0,568.8 613.3,570.0 614.0,570.7 615.2,572.0 616.0,572.9 616.9,574.0 618.0,575.2 618.7,576.0 620.0,577.5 620.4,578.0 622.0,579.8 622.2,580.0 623.9,582.0 624.0,582.1 625.7,584.0 626.0,584.4 627.4,586.0 628.0,586.7 629.2,588.0 630.0,588.9 630.9,590.0 632.0,591.2 632.7,592.0 634.0,593.5 634.4,594.0 636.0,595.8 636.2,596.0 637.9,598.0 638.0,598.1 639.7,600.0 640.0,600.4 641.4,602.0 642.0,602.7 643.2,604.0 644.0,604.9 644.9,606.0 646.0,607.2 646.7,608.0 648.0,609.5 648.4,610.0 650.0,611.8 650.2,612.0 651.7,614.0 652.0,614.4 653.1,616.0 654.0,617.8 654.1,618.0 655.1,620.0 655.9,622.0 656.0,622.3 657.7,624.0 658.0,624.3 659.8,626.0 660.0,626.2 661.8,628.0 662.0,628.2 663.8,630.0 664.0,630.2 665.7,632.0 666.0,632.3 667.8,634.0 668.0,634.2 669.8,636.0 670.0,636.2 671.8,638.0 672.0,638.2 673.7,640.0 674.0,640.3 675.6,642.0 676.0,642.4 677.5,644.0 678.0,644.6 679.2,646.0 680.0,646.9 680.9,648.0 682.0,649.2 682.7,650.0 684.0,651.6 684.3,652.0 686.0,654.0 686.0,654.0 687.6,656.0 688.0,656.5 689.4,658.0 690.0,658.8 691.0,660.0 692.0,661.1 692.7,662.0 694.0,663.5 694.4,664.0 696.0,666.0 696.0,666.0 697.6,668.0 698.0,668.5 699.2,670.0 700.0,671.0 700.8,672.0 702.0,673.5 702.4,674.0 703.9,676.0 704.0,676.1 705.5,678.0 706.0,678.6 707.1,680.0 708.0,681.2 708.6,682.0 710.0,683.9 710.1,684.0 711.5,686.0 712.0,686.7 712.9,688.0 714.0,689.6 714.3,690.0 715.6,692.0 716.0,692.6 716.9,694.0 718.0,695.6 718.3,696.0 719.5,698.0 720.0,698.8 720.7,700.0 722.0,702.0 722.0,702.1 723.4,704.0 724.0,704.8 725.0,706.0 726.0,707.3 726.5,708.0 728.0,710.0 728.0,710.0 729.4,712.0 730.0,713.0 730.7,714.0 731.8,716.0 732.0,716.3 733.0,718.0 733.9,720.0 734.0,720.2 734.7,722.0 735.8,724.0 736.0,724.2 737.1,726.0 738.0,727.8 738.1,728.0 738.0,728.5 737.5,730.0 736.0,730.9 734.0,730.8 732.0,730.7 730.0,730.2 728.0,730.3 726.0,730.1 724.7,730.0 724.0,729.9 722.0,729.4 720.0,729.0 718.0,728.5 716.6,728.0 716.0,727.8 714.0,727.2 712.0,726.5 710.8,726.0 710.0,725.7 708.0,724.9 706.0,724.1 705.8,724.0 704.0,723.1 702.1,722.0 702.0,722.0 700.0,720.7 698.8,720.0 698.0,719.5 696.0,718.3 695.6,718.0 694.0,716.9 692.6,716.0 692.0,715.6 690.0,714.3 689.6,714.0 688.0,712.9 686.7,712.0 686.0,711.5 684.0,710.1 683.9,710.0 682.0,709.0 680.3,708.0 680.0,707.9 678.0,706.7 676.7,706.0 676.0,705.6 674.0,704.5 673.2,704.0 672.0,703.3 670.0,702.2 669.7,702.0 668.0,701.1 666.0,700.0 666.0,700.0 664.0,698.9 662.4,698.0 662.0,697.8 660.0,696.6 658.9,696.0 658.0,695.5 656.0,694.3 655.5,694.0 654.0,693.2 652.0,692.1 651.9,692.0 650.0,690.9 648.4,690.0 648.0,689.8 646.0,688.6 644.9,688.0 644.0,687.5 642.0,686.3 641.6,686.0 640.0,685.0 638.7,684.0 638.0,683.5 636.1,682.0 636.0,682.0 634.0,680.4 633.5,680.0 632.0,678.8 631.0,678.0 630.0,677.2 628.6,676.0 628.0,675.5 626.3,674.0 626.0,673.7 624.2,672.0 624.0,671.8 622.2,670.0 622.0,669.8 620.2,668.0 620.0,667.8 618.3,666.0 618.0,665.7 616.3,664.0 616.0,663.7 614.4,662.0 614.0,661.5 612.8,660.0 612.0,658.8 611.5,658.0 610.3,656.0 610.0,655.3 609.4,654.0 608.0,652.4 607.7,652.0 606.0,650.2 605.8,650.0 604.1,648.0 604.0,647.9 602.3,646.0 602.0,645.6 600.6,644.0 600.0,643.3 598.8,642.0 598.0,641.1 597.1,640.0 596.0,638.8 595.3,638.0 594.0,636.5 593.6,636.0 592.0,634.2 591.8,634.0 590.1,632.0 590.0,631.9 588.3,630.0 588.0,629.6 586.6,628.0 586.0,627.3 584.8,626.0 584.0,625.1 583.1,624.0 582.0,622.8 581.3,622.0 580.0,620.5 579.6,620.0 578.0,618.2 577.8,618.0 576.1,616.0 576.0,615.9 574.3,614.0 574.0,613.6 572.6,612.0 572.0,611.3 570.8,610.0 570.0,609.0 569.3,608.0 568.0,606.0 568.0,606.0 566.8,604.0 566.0,602.1 566.0,602.0 565.2,600.0 564.6,598.0 564.2,596.0 564.0,594.2 564.0,594.0 563.8,592.0 563.8,590.0 564.0,588.0 564.0,587.8 564.2,586.0 564.6,584.0 565.2,582.0 566.0,580.0 566.0,579.9 566.8,578.0 568.0,576.0 568.0,576.0 569.3,574.0 570.0,573.0 570.8,572.0 572.0,570.7 572.7,570.0 574.0,568.8 575.0,568.0 576.0,567.3 578.0,566.0 578.0,566.0 580.0,564.8 581.9,564.0 582.0,564.0 584.0,563.2 586.0,562.6 588.0,562.2 589.8,562.0Z" fill="#99c7e0"/><path d="M584.3,564.0 586.0,563.5 588.0,563.0 590.0,562.8 592.0,562.6 594.0,562.6 596.0,562.8 598.0,563.0 600.0,563.5 601.7,564.0 602.0,564.1 604.0,564.8 606.0,565.8 606.4,566.0 608.0,566.9 609.6,568.0 610.0,568.3 612.0,569.9 612.1,570.0 614.0,571.9 614.1,572.0 615.8,574.0 616.0,574.2 617.6,576.0 618.0,576.5 619.3,578.0 620.0,578.8 621.1,580.0 622.0,581.0 622.9,582.0 624.0,583.3 624.6,584.0 626.0,585.6 626.3,586.0 628.0,587.9 628.1,588.0 629.8,590.0 630.0,590.2 631.6,592.0 632.0,592.5 633.3,594.0 634.0,594.8 635.1,596.0 636.0,597.0 636.9,598.0 638.0,599.3 638.6,600.0 640.0,601.6 640.3,602.0 642.0,603.9 642.1,604.0 643.8,606.0 644.0,606.2 645.6,608.0 646.0,608.5 647.3,610.0 648.0,610.8 649.1,612.0 650.0,613.1 650.7,614.0 652.0,615.9 652.1,616.0 653.2,618.0 654.0,619.7 654.2,620.0 655.0,622.0 655.7,624.0 656.0,624.7 657.3,626.0 658.0,626.7 659.3,628.0 660.0,628.7 661.3,630.0 662.0,630.8 663.2,632.0 664.0,632.8 665.1,634.0 666.0,634.9 667.1,636.0 668.0,636.9 669.0,638.0 670.0,639.0 671.0,640.0 672.0,641.1 672.8,642.0 674.0,643.3 674.7,644.0 676.0,645.5 676.4,646.0 678.0,647.9 678.1,648.0 679.8,650.0 680.0,650.3 681.4,652.0 682.0,652.7 683.0,654.0 684.0,655.2 684.6,656.0 686.0,657.8 686.2,658.0 687.9,660.0 688.0,660.2 689.5,662.0 690.0,662.6 691.1,664.0 692.0,665.1 692.7,666.0 694.0,667.7 694.2,668.0 695.8,670.0 696.0,670.3 697.3,672.0 698.0,672.9 698.9,674.0 700.0,675.5 700.4,676.0 701.9,678.0 702.0,678.1 703.4,680.0 704.0,680.8 704.9,682.0 706.0,683.5 706.4,684.0 707.8,686.0 708.0,686.4 709.1,688.0 710.0,689.4 710.4,690.0 711.7,692.0 712.0,692.6 712.9,694.0 714.0,695.8 714.1,696.0 715.2,698.0 716.0,699.5 716.3,700.0 717.4,702.0 718.0,703.3 718.4,704.0 719.3,706.0 720.0,707.3 720.5,708.0 721.6,710.0 722.0,710.8 722.6,712.0 723.4,714.0 723.8,716.0 724.0,718.0 723.2,720.0 722.0,721.0 720.0,721.6 718.0,722.0 716.0,721.8 714.0,721.6 712.0,721.2 710.0,720.6 708.0,720.1 707.6,720.0 706.0,719.3 704.0,718.4 703.3,718.0 702.0,717.4 700.0,716.3 699.5,716.0 698.0,715.2 696.0,714.1 695.8,714.0 694.0,712.9 692.6,712.0 692.0,711.7 690.0,710.4 689.4,710.0 688.0,709.1 686.4,708.0 686.0,707.8 684.0,706.7 682.6,706.0 682.0,705.7 680.0,704.6 678.9,704.0 678.0,703.5 676.0,702.4 675.2,702.0 674.0,701.3 672.0,700.2 671.6,700.0 670.0,699.1 668.0,698.1 667.8,698.0 666.0,697.1 664.0,696.0 664.0,696.0 662.0,694.9 660.3,694.0 660.0,693.8 658.0,692.7 656.7,692.0 656.0,691.6 654.0,690.6 653.0,690.0 652.0,689.5 650.0,688.4 649.3,688.0 648.0,687.3 646.0,686.1 645.8,686.0 644.0,685.0 642.3,684.0 642.0,683.8 640.0,682.4 639.5,682.0 638.0,680.9 636.8,680.0 636.0,679.4 634.2,678.0 634.0,677.9 632.0,676.3 631.6,676.0 630.0,674.7 629.1,674.0 628.0,673.0 626.9,672.0 626.0,671.2 624.8,670.0 624.0,669.2 622.8,668.0 622.0,667.3 620.7,666.0 620.0,665.3 618.7,664.0 618.0,663.3 616.7,662.0 616.0,661.2 614.9,660.0 614.0,658.8 613.5,658.0 612.2,656.0 612.0,655.5 611.2,654.0 610.0,653.1 608.9,652.0 608.0,651.1 606.9,650.0 606.0,649.0 605.1,648.0 604.0,646.7 603.4,646.0 602.0,644.4 601.7,644.0 600.0,642.1 599.9,642.0 598.2,640.0 598.0,639.8 596.4,638.0 596.0,637.5 594.7,636.0 594.0,635.2 592.9,634.0 592.0,633.0 591.1,632.0 590.0,630.7 589.4,630.0 588.0,628.4 587.7,628.0 586.0,626.1 585.9,626.0 584.2,624.0 584.0,623.8 582.4,622.0 582.0,621.5 580.7,620.0 580.0,619.2 578.9,618.0 578.0,617.0 577.1,616.0 576.0,614.7 575.4,614.0 574.0,612.4 573.7,612.0 572.0,610.1 571.9,610.0 570.3,608.0 570.0,607.6 568.9,606.0 568.0,604.4 567.8,604.0 566.8,602.0 566.1,600.0 566.0,599.7 565.5,598.0 565.0,596.0 564.8,594.0 564.6,592.0 564.6,590.0 564.8,588.0 565.0,586.0 565.5,584.0 566.0,582.3 566.1,582.0 566.8,580.0 567.8,578.0 568.0,577.6 568.9,576.0 570.0,574.4 570.3,574.0 571.9,572.0 572.0,571.9 573.9,570.0 574.0,569.9 576.0,568.3 576.4,568.0 578.0,566.9 579.6,566.0 580.0,565.8 582.0,564.8 584.0,564.1 584.3,564.0Z" fill="#8abfdd"/><path d="M587.3,564.0 588.0,563.8 590.0,563.5 592.0,563.4 594.0,563.4 596.0,563.5 598.0,563.8 598.7,564.0 600.0,564.3 602.0,564.9 604.0,565.7 604.7,566.0 606.0,566.6 608.0,567.8 608.3,568.0 610.0,569.2 610.9,570.0 612.0,570.9 613.1,572.0 614.0,573.0 614.8,574.0 616.0,575.3 616.6,576.0 618.0,577.6 618.3,578.0 620.0,579.9 620.1,580.0 621.8,582.0 622.0,582.2 623.6,584.0 624.0,584.5 625.3,586.0 626.0,586.8 627.1,588.0 628.0,589.0 628.8,590.0 630.0,591.3 630.6,592.0 632.0,593.6 632.3,594.0 634.0,595.9 634.1,596.0 635.8,598.0 636.0,598.2 637.6,600.0 638.0,600.5 639.3,602.0 640.0,602.8 641.1,604.0 642.0,605.0 642.8,606.0 644.0,607.3 644.6,608.0 646.0,609.6 646.3,610.0 648.0,611.9 648.1,612.0 649.8,614.0 650.0,614.3 651.2,616.0 652.0,617.4 652.4,618.0 653.4,620.0 654.0,621.7 654.1,622.0 654.8,624.0 655.6,626.0 656.0,627.0 657.0,628.0 658.0,629.1 658.9,630.0 660.0,631.2 660.8,632.0 662.0,633.3 662.7,634.0 664.0,635.4 664.6,636.0 666.0,637.5 666.5,638.0 668.0,639.6 668.3,640.0 670.0,641.8 670.2,642.0 671.9,644.0 672.0,644.1 673.7,646.0 674.0,646.4 675.4,648.0 676.0,648.8 677.0,650.0 678.0,651.2 678.6,652.0 680.0,653.8 680.2,654.0 681.7,656.0 682.0,656.3 683.3,658.0 684.0,659.0 684.8,660.0 686.0,661.5 686.4,662.0 687.9,664.0 688.0,664.1 689.4,666.0 690.0,666.8 690.9,668.0 692.0,669.5 692.4,670.0 693.8,672.0 694.0,672.3 695.3,674.0 696.0,675.0 696.8,676.0 698.0,677.7 698.2,678.0 699.7,680.0 700.0,680.5 701.1,682.0 702.0,683.3 702.5,684.0 703.9,686.0 704.0,686.2 705.1,688.0 706.0,689.4 706.3,690.0 707.4,692.0 708.0,693.0 708.5,694.0 709.5,696.0 710.0,697.0 710.5,698.0 711.3,700.0 712.0,701.7 712.2,702.0 712.7,704.0 713.2,706.0 713.5,708.0 713.3,710.0 712.4,712.0 712.0,712.4 710.0,713.3 708.0,713.5 706.0,713.2 704.0,712.7 702.0,712.2 701.7,712.0 700.0,711.3 698.0,710.5 697.0,710.0 696.0,709.5 694.0,708.5 693.0,708.0 692.0,707.4 690.0,706.3 689.4,706.0 688.0,705.2 686.0,704.2 685.6,704.0 684.0,703.2 682.0,702.3 681.5,702.0 680.0,701.2 678.0,700.2 677.6,700.0 676.0,699.2 674.0,698.1 673.8,698.0 672.0,697.1 670.0,696.1 669.7,696.0 668.0,695.2 666.0,694.2 665.6,694.0 664.0,693.2 662.0,692.1 661.7,692.0 660.0,691.1 658.0,690.0 658.0,690.0 656.0,689.0 654.0,688.0 654.0,688.0 652.0,687.0 650.1,686.0 650.0,685.9 648.0,684.8 646.5,684.0 646.0,683.7 644.0,682.6 643.0,682.0 642.0,681.3 640.1,680.0 640.0,679.9 638.0,678.5 637.3,678.0 636.0,677.0 634.7,676.0 634.0,675.5 632.0,674.0 632.0,674.0 630.0,672.4 629.5,672.0 628.0,670.6 627.3,670.0 626.0,668.7 625.2,668.0 624.0,666.9 623.1,666.0 622.0,664.9 621.1,664.0 620.0,663.0 619.0,662.0 618.0,661.0 617.0,660.0 616.0,658.8 615.4,658.0 614.1,656.0 614.0,655.9 612.7,654.0 612.0,653.5 610.1,652.0 610.0,651.9 608.0,650.0 608.0,650.0 606.2,648.0 606.0,647.8 604.4,646.0 604.0,645.5 602.7,644.0 602.0,643.2 600.9,642.0 600.0,641.0 599.2,640.0 598.0,638.7 597.4,638.0 596.0,636.4 595.7,636.0 594.0,634.1 593.9,634.0 592.2,632.0 592.0,631.8 590.4,630.0 590.0,629.5 588.7,628.0 588.0,627.2 586.9,626.0 586.0,625.0 585.2,624.0 584.0,622.7 583.4,622.0 582.0,620.4 581.7,620.0 580.0,618.1 579.9,618.0 578.2,616.0 578.0,615.8 576.4,614.0 576.0,613.5 574.7,612.0 574.0,611.2 572.9,610.0 572.0,608.9 571.2,608.0 570.0,606.3 569.8,606.0 568.6,604.0 568.0,602.7 567.7,602.0 566.9,600.0 566.3,598.0 566.0,596.7 565.8,596.0 565.5,594.0 565.4,592.0 565.4,590.0 565.5,588.0 565.8,586.0 566.0,585.3 566.3,584.0 566.9,582.0 567.7,580.0 568.0,579.3 568.6,578.0 569.8,576.0 570.0,575.7 571.2,574.0 572.0,573.1 572.9,572.0 574.0,570.9 575.1,570.0 576.0,569.2 577.7,568.0 578.0,567.8 580.0,566.6 581.3,566.0 582.0,565.7 584.0,564.9 586.0,564.3 587.3,564.0Z" fill="#7cb7da"/><path d="M583.1,566.0 584.0,565.6 586.0,565.0 588.0,564.5 590.0,564.3 592.0,564.1 594.0,564.1 596.0,564.3 598.0,564.5 600.0,565.0 602.0,565.6 602.9,566.0 604.0,566.4 606.0,567.4 606.9,568.0 608.0,568.7 609.8,570.0 610.0,570.2 612.0,572.0 612.0,572.0 613.9,574.0 614.0,574.1 615.6,576.0 616.0,576.4 617.4,578.0 618.0,578.7 619.1,580.0 620.0,581.0 620.9,582.0 622.0,583.3 622.6,584.0 624.0,585.6 624.4,586.0 626.0,587.9 626.1,588.0 627.9,590.0 628.0,590.1 629.6,592.0 630.0,592.4 631.4,594.0 632.0,594.7 633.1,596.0 634.0,597.0 634.9,598.0 636.0,599.3 636.6,600.0 638.0,601.6 638.4,602.0 640.0,603.9 640.1,604.0 641.9,606.0 642.0,606.1 643.6,608.0 644.0,608.4 645.4,610.0 646.0,610.7 647.1,612.0 648.0,613.0 648.9,614.0 650.0,615.5 650.3,616.0 651.6,618.0 652.0,618.9 652.6,620.0 653.4,622.0 654.0,624.0 654.0,624.1 654.6,626.0 655.3,628.0 656.0,629.3 656.7,630.0 658.0,631.4 658.5,632.0 660.0,633.6 660.4,634.0 662.0,635.8 662.2,636.0 664.0,638.0 664.0,638.0 665.9,640.0 666.0,640.1 667.7,642.0 668.0,642.4 669.4,644.0 670.0,644.7 671.1,646.0 672.0,647.1 672.7,648.0 674.0,649.6 674.4,650.0 675.9,652.0 676.0,652.1 677.5,654.0 678.0,654.7 679.0,656.0 680.0,657.4 680.4,658.0 681.9,660.0 682.0,660.2 683.3,662.0 684.0,663.0 684.8,664.0 686.0,665.7 686.2,666.0 687.6,668.0 688.0,668.5 689.0,670.0 690.0,671.5 690.3,672.0 691.6,674.0 692.0,674.6 693.0,676.0 694.0,677.5 694.4,678.0 695.7,680.0 696.0,680.5 697.0,682.0 698.0,683.6 698.3,684.0 699.5,686.0 700.0,686.9 700.7,688.0 701.8,690.0 702.0,690.5 702.6,692.0 703.4,694.0 704.0,695.8 704.1,696.0 704.5,698.0 704.7,700.0 704.5,702.0 704.0,702.9 702.9,704.0 702.0,704.5 700.0,704.7 698.0,704.5 696.0,704.1 695.8,704.0 694.0,703.4 692.0,702.6 690.5,702.0 690.0,701.8 688.0,701.1 686.0,700.3 685.4,700.0 684.0,699.4 682.0,698.5 680.8,698.0 680.0,697.6 678.0,696.7 676.6,696.0 676.0,695.7 674.0,694.8 672.2,694.0 672.0,693.9 670.0,693.1 668.0,692.2 667.5,692.0 666.0,691.3 664.0,690.4 663.3,690.0 662.0,689.4 660.0,688.4 659.2,688.0 658.0,687.5 656.0,686.5 655.0,686.0 654.0,685.5 652.0,684.5 651.0,684.0 650.0,683.5 648.0,682.5 647.1,682.0 646.0,681.4 644.0,680.2 643.6,680.0 642.0,678.9 640.7,678.0 640.0,677.6 638.0,676.2 637.8,676.0 636.0,674.7 635.0,674.0 634.0,673.3 632.3,672.0 632.0,671.8 630.0,670.1 629.9,670.0 628.0,668.3 627.7,668.0 626.0,666.5 625.5,666.0 624.0,664.6 623.4,664.0 622.0,662.7 621.3,662.0 620.0,660.8 619.2,660.0 618.0,658.8 617.4,658.0 616.0,656.1 615.9,656.0 614.1,654.0 614.0,654.0 612.0,652.6 611.2,652.0 610.0,651.0 608.9,650.0 608.0,649.0 607.1,648.0 606.0,646.7 605.4,646.0 604.0,644.4 603.6,644.0 602.0,642.1 601.9,642.0 600.1,640.0 600.0,639.9 598.4,638.0 598.0,637.6 596.6,636.0 596.0,635.3 594.9,634.0 594.0,633.0 593.1,632.0 592.0,630.7 591.4,630.0 590.0,628.4 589.6,628.0 588.0,626.1 587.9,626.0 586.1,624.0 586.0,623.9 584.4,622.0 584.0,621.6 582.6,620.0 582.0,619.3 580.9,618.0 580.0,617.0 579.1,616.0 578.0,614.7 577.4,614.0 576.0,612.4 575.6,612.0 574.0,610.1 573.9,610.0 572.2,608.0 572.0,607.8 570.7,606.0 570.0,604.9 569.4,604.0 568.4,602.0 568.0,600.9 567.6,600.0 567.0,598.0 566.5,596.0 566.3,594.0 566.1,592.0 566.1,590.0 566.3,588.0 566.5,586.0 567.0,584.0 567.6,582.0 568.0,581.1 568.4,580.0 569.4,578.0 570.0,577.1 570.7,576.0 572.0,574.2 572.2,574.0 574.0,572.0 574.0,572.0 576.0,570.2 576.2,570.0 578.0,568.7 579.1,568.0 580.0,567.4 582.0,566.4 583.1,566.0Z" fill="#6dafd7"/><path d="M585.1,566.0 586.0,565.7 588.0,565.2 590.0,564.9 592.0,564.8 594.0,564.8 596.0,564.9 598.0,565.2 600.0,565.7 600.9,566.0 602.0,566.4 604.0,567.2 605.6,568.0 606.0,568.2 608.0,569.5 608.7,570.0 610.0,571.0 611.1,572.0 612.0,572.9 613.0,574.0 614.0,575.2 614.7,576.0 616.0,577.4 616.5,578.0 618.0,579.7 618.2,580.0 620.0,582.0 620.0,582.0 621.7,584.0 622.0,584.3 623.5,586.0 624.0,586.6 625.2,588.0 626.0,588.9 627.0,590.0 628.0,591.2 628.7,592.0 630.0,593.4 630.5,594.0 632.0,595.7 632.2,596.0 634.0,598.0 634.0,598.0 635.7,600.0 636.0,600.3 637.5,602.0 638.0,602.6 639.2,604.0 640.0,604.9 641.0,606.0 642.0,607.2 642.7,608.0 644.0,609.4 644.5,610.0 646.0,611.7 646.2,612.0 648.0,614.0 648.0,614.0 649.5,616.0 650.0,616.7 650.8,618.0 651.8,620.0 652.0,620.5 652.7,622.0 653.3,624.0 653.8,626.0 654.0,627.7 654.1,628.0 654.6,630.0 656.0,631.6 656.4,632.0 658.0,633.8 658.2,634.0 660.0,636.0 660.0,636.0 661.7,638.0 662.0,638.3 663.5,640.0 664.0,640.6 665.3,642.0 666.0,642.9 666.9,644.0 668.0,645.3 668.6,646.0 670.0,647.8 670.2,648.0 671.8,650.0 672.0,650.3 673.3,652.0 674.0,653.0 674.8,654.0 676.0,655.7 676.2,656.0 677.6,658.0 678.0,658.6 679.0,660.0 680.0,661.6 680.3,662.0 681.6,664.0 682.0,664.6 683.0,666.0 684.0,667.5 684.3,668.0 685.6,670.0 686.0,670.7 686.8,672.0 687.9,674.0 688.0,674.2 688.9,676.0 690.0,677.9 690.1,678.0 691.2,680.0 692.0,681.5 692.3,682.0 693.4,684.0 694.0,685.5 694.2,686.0 695.0,688.0 695.6,690.0 695.9,692.0 695.6,694.0 694.0,695.7 693.0,696.0 692.0,696.2 690.0,696.2 688.5,696.0 688.0,695.9 686.0,695.4 684.0,694.9 682.0,694.2 681.4,694.0 680.0,693.5 678.0,692.7 676.1,692.0 676.0,692.0 674.0,691.3 672.0,690.7 670.2,690.0 670.0,689.9 668.0,689.2 666.0,688.3 665.3,688.0 664.0,687.5 662.0,686.6 660.7,686.0 660.0,685.7 658.0,684.9 656.0,684.0 656.0,684.0 654.0,683.1 652.0,682.1 651.7,682.0 650.0,681.2 648.0,680.1 647.7,680.0 646.0,679.1 644.2,678.0 644.0,677.9 642.0,676.6 641.1,676.0 640.0,675.3 638.1,674.0 638.0,673.9 636.0,672.5 635.2,672.0 634.0,671.1 632.5,670.0 632.0,669.6 630.2,668.0 630.0,667.9 628.0,666.1 627.9,666.0 626.0,664.3 625.7,664.0 624.0,662.5 623.5,662.0 622.0,660.6 621.4,660.0 620.0,658.7 619.3,658.0 618.0,656.4 617.7,656.0 616.0,654.6 615.4,654.0 614.0,653.2 612.3,652.0 612.0,651.8 610.0,650.1 609.9,650.0 608.0,648.0 608.0,648.0 606.3,646.0 606.0,645.7 604.5,644.0 604.0,643.4 602.8,642.0 602.0,641.1 601.0,640.0 600.0,638.8 599.3,638.0 598.0,636.6 597.5,636.0 596.0,634.3 595.8,634.0 594.0,632.0 594.0,632.0 592.3,630.0 592.0,629.7 590.5,628.0 590.0,627.4 588.8,626.0 588.0,625.1 587.0,624.0 586.0,622.8 585.3,622.0 584.0,620.6 583.5,620.0 582.0,618.3 581.8,618.0 580.0,616.0 580.0,616.0 578.3,614.0 578.0,613.7 576.5,612.0 576.0,611.4 574.8,610.0 574.0,609.1 573.0,608.0 572.0,606.7 571.5,606.0 570.2,604.0 570.0,603.6 569.2,602.0 568.4,600.0 568.0,598.9 567.7,598.0 567.2,596.0 566.9,594.0 566.8,592.0 566.8,590.0 566.9,588.0 567.2,586.0 567.7,584.0 568.0,583.1 568.4,582.0 569.2,580.0 570.0,578.4 570.2,578.0 571.5,576.0 572.0,575.3 573.0,574.0 574.0,572.9 574.9,572.0 576.0,571.0 577.3,570.0 578.0,569.5 580.0,568.2 580.4,568.0 582.0,567.2 584.0,566.4 585.1,566.0Z" fill="#60a7d2"/><path d="M587.6,566.0 588.0,565.9 590.0,565.6 592.0,565.4 594.0,565.4 596.0,565.6 598.0,565.9 598.4,566.0 600.0,566.4 602.0,567.0 604.0,567.9 604.2,568.0 606.0,569.0 607.6,570.0 608.0,570.3 610.0,571.9 610.1,572.0 612.0,573.9 612.1,574.0 613.9,576.0 614.0,576.2 615.6,578.0 616.0,578.4 617.4,580.0 618.0,580.7 619.1,582.0 620.0,583.0 620.9,584.0 622.0,585.3 622.6,586.0 624.0,587.6 624.4,588.0 626.0,589.9 626.1,590.0 627.9,592.0 628.0,592.2 629.6,594.0 630.0,594.4 631.4,596.0 632.0,596.7 633.1,598.0 634.0,599.0 634.9,600.0 636.0,601.3 636.6,602.0 638.0,603.6 638.4,604.0 640.0,605.9 640.1,606.0 641.9,608.0 642.0,608.2 643.6,610.0 644.0,610.4 645.4,612.0 646.0,612.7 647.1,614.0 648.0,615.1 648.7,616.0 650.0,618.0 650.0,618.0 651.1,620.0 651.9,622.0 652.0,622.2 652.6,624.0 653.1,626.0 653.4,628.0 653.6,630.0 654.0,631.7 654.3,632.0 656.0,633.9 656.1,634.0 657.8,636.0 658.0,636.2 659.6,638.0 660.0,638.5 661.2,640.0 662.0,640.9 663.0,642.0 664.0,643.3 664.6,644.0 666.0,645.8 666.2,646.0 667.7,648.0 668.0,648.4 669.2,650.0 670.0,651.1 670.7,652.0 672.0,653.9 672.1,654.0 673.5,656.0 674.0,656.8 674.8,658.0 676.0,659.8 676.1,660.0 677.3,662.0 678.0,663.2 678.5,664.0 679.6,666.0 680.0,666.7 680.8,668.0 681.9,670.0 682.0,670.1 683.0,672.0 683.9,674.0 684.0,674.2 684.7,676.0 685.4,678.0 685.8,680.0 686.0,681.0 686.2,682.0 686.5,684.0 686.3,686.0 686.0,686.5 684.0,688.0 683.8,688.0 682.0,688.2 680.0,688.0 678.0,688.1 677.0,688.0 676.0,687.9 674.0,687.5 672.0,687.1 670.0,686.5 668.4,686.0 668.0,685.9 666.0,685.2 664.0,684.4 662.8,684.0 662.0,683.8 660.0,683.0 658.0,682.3 657.3,682.0 656.0,681.5 654.0,680.6 652.6,680.0 652.0,679.7 650.0,678.8 648.3,678.0 648.0,677.8 646.0,676.7 644.8,676.0 644.0,675.6 642.0,674.3 641.5,674.0 640.0,673.1 638.4,672.0 638.0,671.8 636.0,670.4 635.4,670.0 634.0,669.0 632.7,668.0 632.0,667.4 630.4,666.0 630.0,665.7 628.1,664.0 628.0,663.9 626.0,662.2 625.8,662.0 624.0,660.4 623.6,660.0 622.0,658.6 621.4,658.0 620.0,656.5 619.6,656.0 618.0,655.0 616.8,654.0 616.0,653.6 614.0,652.4 613.4,652.0 612.0,651.0 610.9,650.0 610.0,649.2 608.9,648.0 608.0,647.0 607.1,646.0 606.0,644.7 605.4,644.0 604.0,642.4 603.6,642.0 602.0,640.1 601.9,640.0 600.1,638.0 600.0,637.8 598.4,636.0 598.0,635.6 596.6,634.0 596.0,633.3 594.9,632.0 594.0,631.0 593.1,630.0 592.0,628.7 591.4,628.0 590.0,626.4 589.6,626.0 588.0,624.1 587.9,624.0 586.1,622.0 586.0,621.8 584.4,620.0 584.0,619.6 582.6,618.0 582.0,617.3 580.9,616.0 580.0,615.0 579.1,614.0 578.0,612.7 577.4,612.0 576.0,610.4 575.6,610.0 574.0,608.1 573.9,608.0 572.3,606.0 572.0,605.6 571.0,604.0 570.0,602.2 569.9,602.0 569.0,600.0 568.4,598.0 568.0,596.4 567.9,596.0 567.6,594.0 567.4,592.0 567.4,590.0 567.6,588.0 567.9,586.0 568.0,585.6 568.4,584.0 569.0,582.0 569.9,580.0 570.0,579.8 571.0,578.0 572.0,576.4 572.3,576.0 573.9,574.0 574.0,573.9 575.9,572.0 576.0,571.9 578.0,570.3 578.4,570.0 580.0,569.0 581.8,568.0 582.0,567.9 584.0,567.0 586.0,566.4 587.6,566.0Z" fill="#549fcd"/><path d="M583.3,568.0 584.0,567.7 586.0,567.0 588.0,566.5 590.0,566.2 592.0,566.1 594.0,566.1 596.0,566.2 598.0,566.5 600.0,567.0 602.0,567.7 602.7,568.0 604.0,568.6 606.0,569.7 606.5,570.0 608.0,571.0 609.2,572.0 610.0,572.7 611.3,574.0 612.0,574.8 613.0,576.0 614.0,577.1 614.8,578.0 616.0,579.4 616.5,580.0 618.0,581.7 618.3,582.0 620.0,584.0 620.0,584.0 621.8,586.0 622.0,586.2 623.5,588.0 624.0,588.5 625.3,590.0 626.0,590.8 627.0,592.0 628.0,593.1 628.8,594.0 630.0,595.4 630.5,596.0 632.0,597.7 632.3,598.0 634.0,600.0 634.0,600.0 635.8,602.0 636.0,602.2 637.5,604.0 638.0,604.5 639.3,606.0 640.0,606.8 641.0,608.0 642.0,609.1 642.8,610.0 644.0,611.4 644.5,612.0 646.0,613.7 646.3,614.0 647.9,616.0 648.0,616.1 649.3,618.0 650.0,619.2 650.4,620.0 651.3,622.0 652.0,624.0 652.0,624.2 652.5,626.0 652.8,628.0 653.0,630.0 653.3,632.0 654.0,634.0 654.0,634.0 655.7,636.0 656.0,636.3 657.4,638.0 658.0,638.7 659.0,640.0 660.0,641.2 660.7,642.0 662.0,643.7 662.3,644.0 663.8,646.0 664.0,646.2 665.3,648.0 666.0,649.0 666.7,650.0 668.0,651.9 668.1,652.0 669.4,654.0 670.0,654.9 670.7,656.0 672.0,658.0 672.0,658.1 673.2,660.0 674.0,661.5 674.3,662.0 675.3,664.0 676.0,665.5 676.2,666.0 677.1,668.0 678.0,670.0 678.0,670.0 678.7,672.0 679.3,674.0 679.7,676.0 679.7,678.0 679.2,680.0 678.0,681.5 677.2,682.0 676.0,682.5 674.0,682.8 672.0,682.8 670.0,682.6 668.0,682.2 667.2,682.0 666.0,681.7 664.0,681.3 662.0,680.8 660.0,680.2 659.4,680.0 658.0,679.5 656.0,678.8 654.0,678.1 653.8,678.0 652.0,677.2 650.0,676.4 649.2,676.0 648.0,675.4 646.0,674.4 645.3,674.0 644.0,673.3 642.0,672.1 641.8,672.0 640.0,670.9 638.6,670.0 638.0,669.6 636.0,668.4 635.5,668.0 634.0,666.9 633.0,666.0 632.0,665.2 630.5,664.0 630.0,663.6 628.2,662.0 628.0,661.9 626.0,660.1 625.8,660.0 624.0,658.4 623.6,658.0 622.0,656.5 621.5,656.0 620.0,655.1 618.3,654.0 618.0,653.9 616.0,652.9 614.5,652.0 614.0,651.7 612.0,650.2 611.8,650.0 610.0,648.3 609.7,648.0 608.0,646.0 608.0,646.0 606.2,644.0 606.0,643.8 604.5,642.0 604.0,641.5 602.7,640.0 602.0,639.2 601.0,638.0 600.0,636.9 599.2,636.0 598.0,634.6 597.5,634.0 596.0,632.3 595.7,632.0 594.0,630.0 594.0,630.0 592.2,628.0 592.0,627.8 590.5,626.0 590.0,625.5 588.7,624.0 588.0,623.2 587.0,622.0 586.0,620.9 585.2,620.0 584.0,618.6 583.5,618.0 582.0,616.3 581.7,616.0 580.0,614.0 580.0,614.0 578.2,612.0 578.0,611.8 576.5,610.0 576.0,609.5 574.7,608.0 574.0,607.2 573.0,606.0 572.0,604.5 571.7,604.0 570.6,602.0 570.0,600.7 569.7,600.0 569.0,598.0 568.5,596.0 568.2,594.0 568.1,592.0 568.1,590.0 568.2,588.0 568.5,586.0 569.0,584.0 569.7,582.0 570.0,581.3 570.6,580.0 571.7,578.0 572.0,577.5 573.0,576.0 574.0,574.8 574.7,574.0 576.0,572.7 576.8,572.0 578.0,571.0 579.5,570.0 580.0,569.7 582.0,568.6 583.3,568.0Z" fill="#4997c9"/><path d="M585.1,568.0 586.0,567.7 588.0,567.2 590.0,566.8 592.0,566.7 594.0,566.7 596.0,566.8 598.0,567.2 600.0,567.7 600.9,568.0 602.0,568.4 604.0,569.3 605.3,570.0 606.0,570.4 608.0,571.8 608.2,572.0 610.0,573.6 610.4,574.0 612.0,575.7 612.2,576.0 614.0,578.0 614.0,578.0 615.7,580.0 616.0,580.3 617.5,582.0 618.0,582.6 619.2,584.0 620.0,584.9 621.0,586.0 622.0,587.2 622.7,588.0 624.0,589.4 624.5,590.0 626.0,591.7 626.2,592.0 628.0,594.0 628.0,594.0 629.7,596.0 630.0,596.3 631.5,598.0 632.0,598.6 633.2,600.0 634.0,600.9 635.0,602.0 636.0,603.2 636.7,604.0 638.0,605.4 638.5,606.0 640.0,607.7 640.2,608.0 642.0,610.0 642.0,610.0 643.7,612.0 644.0,612.3 645.5,614.0 646.0,614.6 647.2,616.0 648.0,617.1 648.6,618.0 649.7,620.0 650.0,620.6 650.6,622.0 651.3,624.0 651.8,626.0 652.0,627.0 652.2,628.0 652.3,630.0 652.5,632.0 652.4,634.0 653.6,636.0 654.0,636.5 655.3,638.0 656.0,638.9 656.9,640.0 658.0,641.4 658.5,642.0 660.0,644.0 660.0,644.0 661.5,646.0 662.0,646.8 662.9,648.0 664.0,649.7 664.2,650.0 665.5,652.0 666.0,652.8 666.7,654.0 667.9,656.0 668.0,656.3 669.0,658.0 670.0,659.9 670.1,660.0 671.1,662.0 671.9,664.0 672.0,664.3 672.7,666.0 673.2,668.0 673.6,670.0 673.6,672.0 673.4,674.0 672.3,676.0 672.0,676.3 670.0,677.3 668.0,677.7 666.0,677.9 664.0,677.8 662.0,677.5 660.0,677.1 658.0,676.6 656.0,676.0 655.9,676.0 654.0,675.4 652.0,674.7 650.3,674.0 650.0,673.9 648.0,673.0 646.0,672.0 646.0,672.0 644.0,671.0 642.2,670.0 642.0,669.9 640.0,668.7 638.8,668.0 638.0,667.5 636.0,666.2 635.7,666.0 634.0,664.7 633.2,664.0 632.0,663.1 630.7,662.0 630.0,661.5 628.2,660.0 628.0,659.8 626.0,658.1 625.8,658.0 624.0,656.4 623.6,656.0 622.0,655.1 620.0,654.0 620.0,654.0 618.0,653.2 616.0,652.2 615.7,652.0 614.0,650.9 612.8,650.0 612.0,649.4 610.6,648.0 610.0,647.4 608.8,646.0 608.0,645.1 607.0,644.0 606.0,642.8 605.3,642.0 604.0,640.6 603.5,640.0 602.0,638.3 601.8,638.0 600.0,636.0 600.0,636.0 598.3,634.0 598.0,633.7 596.5,632.0 596.0,631.4 594.8,630.0 594.0,629.1 593.0,628.0 592.0,626.8 591.3,626.0 590.0,624.6 589.5,624.0 588.0,622.3 587.8,622.0 586.0,620.0 586.0,620.0 584.3,618.0 584.0,617.7 582.5,616.0 582.0,615.4 580.8,614.0 580.0,613.1 579.0,612.0 578.0,610.8 577.3,610.0 576.0,608.6 575.5,608.0 574.0,606.2 573.8,606.0 572.4,604.0 572.0,603.3 571.3,602.0 570.4,600.0 570.0,598.9 569.7,598.0 569.2,596.0 568.8,594.0 568.7,592.0 568.7,590.0 568.8,588.0 569.2,586.0 569.7,584.0 570.0,583.1 570.4,582.0 571.3,580.0 572.0,578.7 572.4,578.0 573.8,576.0 574.0,575.8 575.6,574.0 576.0,573.6 577.8,572.0 578.0,571.8 580.0,570.4 580.7,570.0 582.0,569.3 584.0,568.4 585.1,568.0Z" fill="#3e8ec4"/><path d="M587.1,568.0 588.0,567.8 590.0,567.4 592.0,567.3 594.0,567.3 596.0,567.4 598.0,567.8 598.9,568.0 600.0,568.3 602.0,569.0 604.0,569.9 604.1,570.0 606.0,571.1 607.2,572.0 608.0,572.6 609.6,574.0 610.0,574.4 611.4,576.0 612.0,576.6 613.2,578.0 614.0,578.9 614.9,580.0 616.0,581.2 616.7,582.0 618.0,583.5 618.4,584.0 620.0,585.8 620.2,586.0 621.9,588.0 622.0,588.1 623.7,590.0 624.0,590.4 625.4,592.0 626.0,592.6 627.2,594.0 628.0,594.9 628.9,596.0 630.0,597.2 630.7,598.0 632.0,599.5 632.4,600.0 634.0,601.8 634.2,602.0 635.9,604.0 636.0,604.1 637.7,606.0 638.0,606.4 639.4,608.0 640.0,608.6 641.2,610.0 642.0,610.9 642.9,612.0 644.0,613.2 644.7,614.0 646.0,615.5 646.4,616.0 647.9,618.0 648.0,618.2 649.1,620.0 650.0,622.0 650.0,622.1 650.7,624.0 651.2,626.0 651.6,628.0 651.7,630.0 651.7,632.0 651.6,634.0 651.8,636.0 652.0,636.5 653.2,638.0 654.0,639.1 654.7,640.0 656.0,641.7 656.2,642.0 657.7,644.0 658.0,644.4 659.1,646.0 660.0,647.3 660.5,648.0 661.7,650.0 662.0,650.5 662.9,652.0 664.0,654.0 664.0,654.0 665.0,656.0 665.9,658.0 666.0,658.2 666.8,660.0 667.5,662.0 668.0,663.4 668.2,664.0 668.5,666.0 668.6,668.0 668.3,670.0 668.0,670.5 666.9,672.0 666.0,672.6 664.0,673.4 662.0,673.6 660.0,673.6 658.0,673.3 656.0,673.0 654.0,672.5 652.3,672.0 652.0,671.9 650.0,671.2 648.0,670.4 647.0,670.0 646.0,669.6 644.0,668.6 642.7,668.0 642.0,667.6 640.0,666.6 639.0,666.0 638.0,665.4 636.0,664.0 636.0,664.0 634.0,662.5 633.4,662.0 632.0,661.0 630.8,660.0 630.0,659.4 628.3,658.0 628.0,657.8 626.0,656.1 625.8,656.0 624.0,654.9 622.1,654.0 622.0,654.0 620.0,653.4 618.0,652.6 616.9,652.0 616.0,651.5 614.0,650.2 613.8,650.0 612.0,648.6 611.4,648.0 610.0,646.5 609.6,646.0 608.0,644.2 607.8,644.0 606.1,642.0 606.0,641.9 604.3,640.0 604.0,639.6 602.6,638.0 602.0,637.4 600.8,636.0 600.0,635.1 599.1,634.0 598.0,632.8 597.3,632.0 596.0,630.5 595.6,630.0 594.0,628.2 593.8,628.0 592.1,626.0 592.0,625.9 590.3,624.0 590.0,623.6 588.6,622.0 588.0,621.4 586.8,620.0 586.0,619.1 585.1,618.0 584.0,616.8 583.3,616.0 582.0,614.5 581.6,614.0 580.0,612.2 579.8,612.0 578.1,610.0 578.0,609.9 576.3,608.0 576.0,607.6 574.6,606.0 574.0,605.2 573.1,604.0 572.0,602.1 571.9,602.0 571.0,600.0 570.3,598.0 570.0,596.9 569.8,596.0 569.4,594.0 569.3,592.0 569.3,590.0 569.4,588.0 569.8,586.0 570.0,585.1 570.3,584.0 571.0,582.0 571.9,580.0 572.0,579.9 573.1,578.0 574.0,576.8 574.6,576.0 576.0,574.4 576.4,574.0 578.0,572.6 578.8,572.0 580.0,571.1 581.9,570.0 582.0,569.9 584.0,569.0 586.0,568.3 587.1,568.0Z" fill="#3484bf"/><path d="M590.4,568.0 592.0,567.9 594.0,567.9 595.6,568.0 596.0,568.0 598.0,568.4 600.0,568.9 602.0,569.7 602.7,570.0 604.0,570.6 606.0,571.8 606.2,572.0 608.0,573.4 608.7,574.0 610.0,575.3 610.7,576.0 612.0,577.5 612.4,578.0 614.0,579.8 614.2,580.0 615.9,582.0 616.0,582.1 617.7,584.0 618.0,584.4 619.4,586.0 620.0,586.7 621.2,588.0 622.0,589.0 622.9,590.0 624.0,591.3 624.7,592.0 626.0,593.5 626.4,594.0 628.0,595.8 628.2,596.0 629.9,598.0 630.0,598.1 631.7,600.0 632.0,600.4 633.4,602.0 634.0,602.7 635.2,604.0 636.0,605.0 636.9,606.0 638.0,607.3 638.7,608.0 640.0,609.5 640.4,610.0 642.0,611.8 642.2,612.0 643.9,614.0 644.0,614.1 645.6,616.0 646.0,616.4 647.2,618.0 648.0,619.3 648.4,620.0 649.3,622.0 650.0,623.8 650.1,624.0 650.6,626.0 651.0,628.0 651.1,630.0 651.1,632.0 651.0,634.0 650.9,636.0 651.0,638.0 652.0,639.3 652.6,640.0 654.0,642.0 654.0,642.0 655.4,644.0 656.0,644.9 656.7,646.0 658.0,648.0 658.0,648.0 659.2,650.0 660.0,651.6 660.2,652.0 661.2,654.0 662.0,656.0 662.0,656.0 662.7,658.0 663.2,660.0 663.6,662.0 663.6,664.0 663.3,666.0 662.0,668.0 662.0,668.0 660.0,669.0 658.0,669.4 656.0,669.4 654.0,669.2 652.0,668.9 650.0,668.4 648.7,668.0 648.0,667.8 646.0,667.0 644.0,666.2 643.5,666.0 642.0,665.3 640.0,664.3 639.4,664.0 638.0,663.1 636.4,662.0 636.0,661.7 634.0,660.3 633.6,660.0 632.0,658.8 631.0,658.0 630.0,657.3 628.3,656.0 628.0,655.8 626.0,654.2 625.4,654.0 624.0,653.8 622.0,653.4 620.0,652.7 618.2,652.0 618.0,651.9 616.0,650.8 614.8,650.0 614.0,649.4 612.3,648.0 612.0,647.7 610.4,646.0 610.0,645.6 608.6,644.0 608.0,643.3 606.8,642.0 606.0,641.0 605.1,640.0 604.0,638.7 603.3,638.0 602.0,636.5 601.6,636.0 600.0,634.2 599.8,634.0 598.1,632.0 598.0,631.9 596.3,630.0 596.0,629.6 594.6,628.0 594.0,627.3 592.8,626.0 592.0,625.0 591.1,624.0 590.0,622.7 589.3,622.0 588.0,620.5 587.6,620.0 586.0,618.2 585.8,618.0 584.1,616.0 584.0,615.9 582.3,614.0 582.0,613.6 580.6,612.0 580.0,611.3 578.8,610.0 578.0,609.0 577.1,608.0 576.0,606.7 575.4,606.0 574.0,604.2 573.8,604.0 572.6,602.0 572.0,600.7 571.7,600.0 570.9,598.0 570.4,596.0 570.0,594.0 570.0,593.6 569.9,592.0 569.9,590.0 570.0,588.4 570.0,588.0 570.4,586.0 570.9,584.0 571.7,582.0 572.0,581.3 572.6,580.0 573.8,578.0 574.0,577.8 575.4,576.0 576.0,575.3 577.3,574.0 578.0,573.4 579.8,572.0 580.0,571.8 582.0,570.6 583.3,570.0 584.0,569.7 586.0,568.9 588.0,568.4 590.0,568.0 590.4,568.0Z" fill="#2b7bba"/><path d="M584.8,570.0 586.0,569.5 588.0,569.0 590.0,568.6 592.0,568.5 594.0,568.5 596.0,568.6 598.0,569.0 600.0,569.5 601.2,570.0 602.0,570.3 604.0,571.3 605.2,572.0 606.0,572.6 607.8,574.0 608.0,574.1 609.9,576.0 610.0,576.1 611.6,578.0 612.0,578.4 613.4,580.0 614.0,580.7 615.1,582.0 616.0,583.0 616.9,584.0 618.0,585.3 618.6,586.0 620.0,587.6 620.4,588.0 622.0,589.9 622.1,590.0 623.9,592.0 624.0,592.1 625.6,594.0 626.0,594.4 627.4,596.0 628.0,596.7 629.1,598.0 630.0,599.0 630.9,600.0 632.0,601.3 632.6,602.0 634.0,603.6 634.4,604.0 636.0,605.9 636.1,606.0 637.9,608.0 638.0,608.1 639.6,610.0 640.0,610.4 641.4,612.0 642.0,612.7 643.1,614.0 644.0,615.0 644.9,616.0 646.0,617.4 646.4,618.0 647.7,620.0 648.0,620.6 648.7,622.0 649.5,624.0 650.0,625.9 650.0,626.0 650.4,628.0 650.6,630.0 650.6,632.0 650.4,634.0 650.0,636.0 650.0,636.1 649.6,638.0 650.0,639.6 650.3,640.0 651.7,642.0 652.0,642.5 653.0,644.0 654.0,645.6 654.3,646.0 655.4,648.0 656.0,649.1 656.5,650.0 657.4,652.0 658.0,653.6 658.1,654.0 658.7,656.0 659.1,658.0 659.1,660.0 658.7,662.0 658.0,663.3 657.4,664.0 656.0,664.8 654.0,665.4 652.0,665.5 650.0,665.3 648.0,664.9 646.0,664.4 644.9,664.0 644.0,663.7 642.0,662.9 640.2,662.0 640.0,661.9 638.0,660.6 637.0,660.0 636.0,659.3 634.0,658.0 634.0,658.0 632.0,656.6 631.2,656.0 630.0,655.2 628.4,654.0 628.0,653.9 626.0,653.5 624.0,653.2 622.0,652.8 620.0,652.1 619.7,652.0 618.0,651.2 616.0,650.1 615.8,650.0 614.0,648.7 613.2,648.0 612.0,646.9 611.1,646.0 610.0,644.7 609.4,644.0 608.0,642.4 607.6,642.0 606.0,640.1 605.9,640.0 604.1,638.0 604.0,637.9 602.4,636.0 602.0,635.6 600.6,634.0 600.0,633.3 598.9,632.0 598.0,631.0 597.1,630.0 596.0,628.7 595.4,628.0 594.0,626.4 593.6,626.0 592.0,624.1 591.9,624.0 590.1,622.0 590.0,621.9 588.4,620.0 588.0,619.6 586.6,618.0 586.0,617.3 584.9,616.0 584.0,615.0 583.1,614.0 582.0,612.7 581.4,612.0 580.0,610.4 579.6,610.0 578.0,608.1 577.9,608.0 576.1,606.0 576.0,605.8 574.6,604.0 574.0,603.2 573.3,602.0 572.3,600.0 572.0,599.2 571.5,598.0 571.0,596.0 570.6,594.0 570.5,592.0 570.5,590.0 570.6,588.0 571.0,586.0 571.5,584.0 572.0,582.8 572.3,582.0 573.3,580.0 574.0,578.8 574.6,578.0 576.0,576.2 576.1,576.0 578.0,574.1 578.2,574.0 580.0,572.6 580.8,572.0 582.0,571.3 584.0,570.3 584.8,570.0Z" fill="#2171b5"/><path d="M586.6,570.0 588.0,569.6 590.0,569.2 592.0,569.1 594.0,569.1 596.0,569.2 598.0,569.6 599.4,570.0 600.0,570.2 602.0,571.0 604.0,572.0 604.1,572.0 606.0,573.3 606.9,574.0 608.0,575.0 609.0,576.0 610.0,577.1 610.8,578.0 612.0,579.3 612.6,580.0 614.0,581.6 614.3,582.0 616.0,583.9 616.1,584.0 617.8,586.0 618.0,586.2 619.6,588.0 620.0,588.5 621.3,590.0 622.0,590.8 623.1,592.0 624.0,593.1 624.8,594.0 626.0,595.3 626.6,596.0 628.0,597.6 628.3,598.0 630.0,599.9 630.1,600.0 631.8,602.0 632.0,602.2 633.6,604.0 634.0,604.5 635.3,606.0 636.0,606.8 637.1,608.0 638.0,609.1 638.8,610.0 640.0,611.3 640.6,612.0 642.0,613.6 642.3,614.0 644.0,615.9 644.1,616.0 645.7,618.0 646.0,618.4 647.0,620.0 648.0,621.9 648.1,622.0 648.8,624.0 649.4,626.0 649.8,628.0 650.0,630.0 650.0,632.0 649.8,634.0 649.4,636.0 648.9,638.0 648.2,640.0 649.3,642.0 650.0,643.3 650.4,644.0 651.6,646.0 652.0,646.8 652.6,648.0 653.6,650.0 654.0,651.2 654.3,652.0 654.7,654.0 654.9,656.0 654.6,658.0 654.0,659.3 653.5,660.0 652.0,661.0 650.0,661.5 648.0,661.6 646.0,661.3 644.0,660.9 642.0,660.1 641.7,660.0 640.0,659.1 638.0,658.0 637.9,658.0 636.0,656.9 634.6,656.0 634.0,655.6 632.0,654.3 631.5,654.0 630.0,653.5 628.0,653.2 626.0,652.9 624.0,652.6 622.0,652.1 621.6,652.0 620.0,651.5 618.0,650.6 617.0,650.0 616.0,649.4 614.1,648.0 614.0,647.9 612.0,646.1 611.9,646.0 610.2,644.0 610.0,643.8 608.4,642.0 608.0,641.5 606.7,640.0 606.0,639.2 604.9,638.0 604.0,636.9 603.2,636.0 602.0,634.7 601.4,634.0 600.0,632.4 599.7,632.0 598.0,630.1 597.9,630.0 596.2,628.0 596.0,627.8 594.4,626.0 594.0,625.5 592.7,624.0 592.0,623.2 590.9,622.0 590.0,620.9 589.2,620.0 588.0,618.7 587.4,618.0 586.0,616.4 585.7,616.0 584.0,614.1 583.9,614.0 582.2,612.0 582.0,611.8 580.4,610.0 580.0,609.5 578.7,608.0 578.0,607.2 576.9,606.0 576.0,604.9 575.3,604.0 574.0,602.1 574.0,602.0 573.0,600.0 572.2,598.0 572.0,597.4 571.6,596.0 571.2,594.0 571.1,592.0 571.1,590.0 571.2,588.0 571.6,586.0 572.0,584.6 572.2,584.0 573.0,582.0 574.0,580.0 574.0,579.9 575.3,578.0 576.0,577.1 577.0,576.0 578.0,575.0 579.1,574.0 580.0,573.3 581.9,572.0 582.0,572.0 584.0,571.0 586.0,570.2 586.6,570.0Z" fill="#1a68ae"/><path d="M589.1,570.0 590.0,569.8 592.0,569.7 594.0,569.7 596.0,569.8 596.9,570.0 598.0,570.2 600.0,570.8 602.0,571.6 602.7,572.0 604.0,572.7 606.0,574.0 606.0,574.0 608.0,575.8 608.2,576.0 610.0,578.0 610.0,578.0 611.8,580.0 612.0,580.3 613.5,582.0 614.0,582.6 615.3,584.0 616.0,584.8 617.0,586.0 618.0,587.1 618.8,588.0 620.0,589.4 620.5,590.0 622.0,591.7 622.3,592.0 624.0,594.0 624.0,594.0 625.8,596.0 626.0,596.3 627.5,598.0 628.0,598.6 629.3,600.0 630.0,600.8 631.0,602.0 632.0,603.1 632.8,604.0 634.0,605.4 634.5,606.0 636.0,607.7 636.3,608.0 638.0,610.0 638.0,610.0 639.8,612.0 640.0,612.3 641.5,614.0 642.0,614.6 643.3,616.0 644.0,616.9 644.9,618.0 646.0,619.5 646.3,620.0 647.4,622.0 648.0,623.5 648.2,624.0 648.8,626.0 649.1,628.0 649.3,630.0 649.3,632.0 649.1,634.0 648.8,636.0 648.2,638.0 648.0,638.5 647.4,640.0 646.9,642.0 647.7,644.0 648.0,644.7 648.6,646.0 649.5,648.0 650.0,649.6 650.1,650.0 650.5,652.0 650.5,654.0 650.0,655.3 649.5,656.0 648.0,657.1 646.0,657.6 644.0,657.3 642.0,656.8 640.0,656.1 639.9,656.0 638.0,655.1 636.0,654.2 635.7,654.0 634.0,653.1 632.0,652.0 632.0,652.0 632.0,652.0 630.0,652.5 628.0,652.4 626.0,652.3 624.0,652.0 624.0,652.0 622.0,651.5 620.0,650.8 618.2,650.0 618.0,649.9 616.0,648.7 615.1,648.0 614.0,647.1 612.8,646.0 612.0,645.1 611.0,644.0 610.0,642.9 609.2,642.0 608.0,640.6 607.5,640.0 606.0,638.3 605.7,638.0 604.0,636.0 604.0,636.0 602.2,634.0 602.0,633.7 600.5,632.0 600.0,631.4 598.7,630.0 598.0,629.2 597.0,628.0 596.0,626.9 595.2,626.0 594.0,624.6 593.5,624.0 592.0,622.3 591.7,622.0 590.0,620.0 590.0,620.0 588.2,618.0 588.0,617.7 586.5,616.0 586.0,615.4 584.7,614.0 584.0,613.2 583.0,612.0 582.0,610.9 581.2,610.0 580.0,608.6 579.5,608.0 578.0,606.3 577.7,606.0 576.0,604.0 576.0,604.0 574.7,602.0 574.0,600.7 573.6,600.0 572.8,598.0 572.2,596.0 572.0,594.9 571.8,594.0 571.7,592.0 571.7,590.0 571.8,588.0 572.0,587.1 572.2,586.0 572.8,584.0 573.6,582.0 574.0,581.3 574.7,580.0 576.0,578.0 576.0,578.0 577.8,576.0 578.0,575.8 580.0,574.0 580.0,574.0 582.0,572.7 583.3,572.0 584.0,571.6 586.0,570.8 588.0,570.2 589.1,570.0Z" fill="#135fa7"/><path d="M584.7,572.0 586.0,571.5 588.0,570.9 590.0,570.5 592.0,570.3 594.0,570.3 596.0,570.5 598.0,570.9 600.0,571.5 601.3,572.0 602.0,572.4 604.0,573.5 604.8,574.0 606.0,574.9 607.3,576.0 608.0,576.7 609.1,578.0 610.0,579.0 610.9,580.0 612.0,581.2 612.7,582.0 614.0,583.5 614.4,584.0 616.0,585.8 616.2,586.0 617.9,588.0 618.0,588.1 619.7,590.0 620.0,590.4 621.4,592.0 622.0,592.7 623.1,594.0 624.0,595.0 624.9,596.0 626.0,597.2 626.7,598.0 628.0,599.5 628.4,600.0 630.0,601.8 630.2,602.0 631.9,604.0 632.0,604.1 633.7,606.0 634.0,606.4 635.4,608.0 636.0,608.7 637.1,610.0 638.0,611.0 638.9,612.0 640.0,613.2 640.7,614.0 642.0,615.5 642.4,616.0 644.0,617.8 644.2,618.0 645.5,620.0 646.0,620.8 646.6,622.0 647.5,624.0 648.0,625.6 648.1,626.0 648.5,628.0 648.7,630.0 648.7,632.0 648.5,634.0 648.1,636.0 648.0,636.4 647.5,638.0 646.6,640.0 646.0,641.2 645.5,642.0 644.6,644.0 645.1,646.0 645.4,648.0 645.2,650.0 644.0,651.9 643.7,652.0 642.0,652.4 640.0,652.3 638.7,652.0 638.0,651.8 636.0,651.1 634.0,651.3 632.0,651.3 630.0,651.6 628.0,651.7 626.0,651.6 624.0,651.3 622.0,650.8 620.0,650.1 619.7,650.0 618.0,649.1 616.1,648.0 616.0,647.9 614.0,646.3 613.7,646.0 612.0,644.2 611.8,644.0 610.1,642.0 610.0,641.9 608.3,640.0 608.0,639.6 606.6,638.0 606.0,637.3 604.9,636.0 604.0,635.0 603.1,634.0 602.0,632.8 601.3,632.0 600.0,630.5 599.6,630.0 598.0,628.2 597.8,628.0 596.1,626.0 596.0,625.9 594.3,624.0 594.0,623.6 592.6,622.0 592.0,621.3 590.9,620.0 590.0,619.0 589.1,618.0 588.0,616.8 587.3,616.0 586.0,614.5 585.6,614.0 584.0,612.2 583.8,612.0 582.1,610.0 582.0,609.9 580.3,608.0 580.0,607.6 578.6,606.0 578.0,605.3 576.9,604.0 576.0,602.8 575.5,602.0 574.4,600.0 574.0,599.3 573.5,598.0 572.9,596.0 572.5,594.0 572.3,592.0 572.3,590.0 572.5,588.0 572.9,586.0 573.5,584.0 574.0,582.7 574.4,582.0 575.5,580.0 576.0,579.2 576.9,578.0 578.0,576.7 578.7,576.0 580.0,574.9 581.2,574.0 582.0,573.5 584.0,572.4 584.7,572.0Z" fill="#0b559f"/><path d="M586.6,572.0 588.0,571.6 590.0,571.2 592.0,571.1 594.0,571.1 596.0,571.2 598.0,571.6 599.4,572.0 600.0,572.3 602.0,573.2 603.6,574.0 604.0,574.3 606.0,575.8 606.3,576.0 608.0,577.7 608.3,578.0 610.0,580.0 610.0,580.0 611.7,582.0 612.0,582.3 613.5,584.0 614.0,584.6 615.2,586.0 616.0,586.9 617.0,588.0 618.0,589.2 618.7,590.0 620.0,591.4 620.5,592.0 622.0,593.7 622.3,594.0 624.0,596.0 624.0,596.0 625.7,598.0 626.0,598.3 627.5,600.0 628.0,600.6 629.2,602.0 630.0,602.9 631.0,604.0 632.0,605.2 632.7,606.0 634.0,607.4 634.5,608.0 636.0,609.7 636.3,610.0 638.0,612.0 638.0,612.0 639.7,614.0 640.0,614.3 641.5,616.0 642.0,616.6 643.2,618.0 644.0,619.0 644.7,620.0 645.9,622.0 646.0,622.2 646.7,624.0 647.3,626.0 647.8,628.0 648.0,629.6 648.0,630.0 648.0,632.0 648.0,632.4 647.8,634.0 647.3,636.0 646.7,638.0 646.0,639.8 645.9,640.0 644.7,642.0 644.0,643.0 643.2,644.0 642.0,645.6 641.5,646.0 640.0,647.7 639.3,648.0 638.0,648.9 636.0,649.4 634.4,650.0 634.0,650.2 632.0,650.6 630.0,650.9 628.0,651.0 626.0,650.9 624.0,650.6 622.0,650.1 621.6,650.0 620.0,649.3 618.0,648.3 617.4,648.0 616.0,647.0 614.8,646.0 614.0,645.3 612.8,644.0 612.0,643.1 611.0,642.0 610.0,640.8 609.3,640.0 608.0,638.6 607.5,638.0 606.0,636.3 605.7,636.0 604.0,634.0 604.0,634.0 602.3,632.0 602.0,631.7 600.5,630.0 600.0,629.4 598.8,628.0 598.0,627.1 597.0,626.0 596.0,624.8 595.3,624.0 594.0,622.6 593.5,622.0 592.0,620.3 591.7,620.0 590.0,618.0 590.0,618.0 588.3,616.0 588.0,615.7 586.5,614.0 586.0,613.4 584.8,612.0 584.0,611.1 583.0,610.0 582.0,608.8 581.3,608.0 580.0,606.6 579.5,606.0 578.0,604.3 577.8,604.0 576.3,602.0 576.0,601.6 575.2,600.0 574.3,598.0 574.0,597.4 573.6,596.0 573.2,594.0 573.1,592.0 573.1,590.0 573.2,588.0 573.6,586.0 574.0,584.6 574.3,584.0 575.2,582.0 576.0,580.4 576.3,580.0 577.8,578.0 578.0,577.7 579.7,576.0 580.0,575.8 582.0,574.3 582.4,574.0 584.0,573.2 586.0,572.3 586.6,572.0Z" fill="#084c95"/><path d="M589.8,572.0 590.0,572.0 592.0,571.8 594.0,571.8 596.0,572.0 596.2,572.0 598.0,572.6 600.0,573.2 602.0,574.0 602.1,574.0 604.0,575.3 605.0,576.0 606.0,576.9 607.1,578.0 608.0,579.0 608.9,580.0 610.0,581.3 610.6,582.0 612.0,583.5 612.4,584.0 614.0,585.8 614.2,586.0 616.0,588.0 616.0,588.0 617.6,590.0 618.0,590.4 619.3,592.0 620.0,592.7 621.1,594.0 622.0,595.0 622.9,596.0 624.0,597.3 624.6,598.0 626.0,599.5 626.4,600.0 628.0,601.8 628.2,602.0 630.0,604.0 630.0,604.0 631.6,606.0 632.0,606.4 633.3,608.0 634.0,608.7 635.1,610.0 636.0,611.0 636.9,612.0 638.0,613.3 638.6,614.0 640.0,615.5 640.4,616.0 642.0,617.8 642.2,618.0 643.7,620.0 644.0,620.3 644.9,622.0 645.9,624.0 646.0,624.1 646.5,626.0 646.9,628.0 647.0,630.0 647.0,632.0 646.9,634.0 646.5,636.0 646.0,637.9 645.9,638.0 644.9,640.0 644.0,641.7 643.7,642.0 642.2,644.0 642.0,644.3 640.1,646.0 640.0,646.1 638.0,647.3 637.0,648.0 636.0,648.5 634.0,649.1 632.0,649.7 631.1,650.0 630.0,650.1 628.0,650.2 626.0,650.1 624.9,650.0 624.0,649.7 622.0,649.1 620.0,648.4 619.0,648.0 618.0,647.3 616.0,646.1 615.9,646.0 614.0,644.2 613.8,644.0 612.0,642.0 612.0,642.0 610.4,640.0 610.0,639.6 608.7,638.0 608.0,637.3 606.9,636.0 606.0,635.0 605.1,634.0 604.0,632.7 603.4,632.0 602.0,630.5 601.6,630.0 600.0,628.2 599.8,628.0 598.0,626.0 598.0,626.0 596.4,624.0 596.0,623.6 594.7,622.0 594.0,621.3 592.9,620.0 592.0,619.0 591.1,618.0 590.0,616.7 589.4,616.0 588.0,614.5 587.6,614.0 586.0,612.2 585.8,612.0 584.0,610.0 584.0,610.0 582.4,608.0 582.0,607.6 580.7,606.0 580.0,605.3 578.9,604.0 578.0,603.0 577.3,602.0 576.0,600.1 576.0,600.0 575.2,598.0 574.6,596.0 574.0,594.2 574.0,594.0 573.8,592.0 573.8,590.0 574.0,588.0 574.0,587.8 574.6,586.0 575.2,584.0 576.0,582.0 576.0,581.9 577.3,580.0 578.0,579.0 578.9,578.0 580.0,576.9 581.0,576.0 582.0,575.3 583.9,574.0 584.0,574.0 586.0,573.2 588.0,572.6 589.8,572.0Z" fill="#084387"/><path d="M587.7,574.0 588.0,574.0 590.0,573.8 592.0,573.7 594.0,573.7 596.0,573.8 598.0,574.0 598.3,574.0 600.0,575.0 602.0,575.9 602.3,576.0 604.0,577.5 604.8,578.0 606.0,579.2 606.6,580.0 608.0,581.5 608.3,582.0 610.0,583.7 610.2,584.0 612.0,585.9 612.1,586.0 614.0,587.9 614.0,588.0 616.0,590.0 616.0,590.0 617.6,592.0 618.0,592.5 619.0,594.0 620.0,595.1 620.6,596.0 622.0,597.5 622.3,598.0 624.0,599.7 624.2,600.0 626.0,601.9 626.1,602.0 628.0,603.9 628.0,604.0 630.0,606.0 630.0,606.0 631.6,608.0 632.0,608.5 633.0,610.0 634.0,611.1 634.6,612.0 636.0,613.5 636.3,614.0 638.0,615.7 638.2,616.0 640.0,617.9 640.1,618.0 642.0,619.9 642.0,620.0 643.0,622.0 644.0,623.4 644.1,624.0 644.5,626.0 645.4,628.0 646.0,630.0 646.0,632.0 645.4,634.0 644.5,636.0 644.1,638.0 644.0,638.6 643.0,640.0 642.0,642.0 642.0,642.1 640.1,644.0 640.0,644.1 638.0,646.0 637.9,646.0 636.0,646.4 634.0,648.0 633.9,648.0 632.0,648.1 630.0,648.2 628.0,648.3 626.0,648.2 624.0,648.1 622.1,648.0 622.0,648.0 620.0,646.4 618.1,646.0 618.0,646.0 616.0,644.1 615.9,644.0 614.0,642.1 614.0,642.0 612.0,640.0 612.0,640.0 610.4,638.0 610.0,637.5 609.0,636.0 608.0,634.9 607.4,634.0 606.0,632.5 605.7,632.0 604.0,630.3 603.8,630.0 602.0,628.1 601.9,628.0 600.0,626.1 600.0,626.0 598.0,624.0 598.0,624.0 596.4,622.0 596.0,621.5 595.0,620.0 594.0,618.9 593.4,618.0 592.0,616.5 591.7,616.0 590.0,614.3 589.8,614.0 588.0,612.1 587.9,612.0 586.0,610.1 586.0,610.0 584.0,608.0 584.0,608.0 582.4,606.0 582.0,605.5 581.0,604.0 580.0,602.9 579.5,602.0 578.0,600.3 577.9,600.0 577.0,598.0 576.0,596.3 576.0,596.0 575.8,594.0 575.7,592.0 575.7,590.0 575.8,588.0 576.0,586.0 576.0,585.7 577.0,584.0 577.9,582.0 578.0,581.7 579.5,580.0 580.0,579.2 581.2,578.0 582.0,577.5 583.7,576.0 584.0,575.9 586.0,575.0 587.7,574.0Z" fill="#083979"/><path d="M587.4,584.0 588.0,583.5 590.0,582.5 592.0,582.1 594.0,582.1 596.0,582.5 598.0,583.5 598.6,584.0 600.0,585.3 600.6,586.0 602.0,587.6 602.3,588.0 604.0,589.9 604.1,590.0 605.8,592.0 606.0,592.2 607.6,594.0 608.0,594.5 609.3,596.0 610.0,596.8 611.1,598.0 612.0,599.0 612.8,600.0 614.0,601.3 614.6,602.0 616.0,603.6 616.3,604.0 618.0,605.9 618.1,606.0 619.8,608.0 620.0,608.2 621.6,610.0 622.0,610.5 623.3,612.0 624.0,612.8 625.1,614.0 626.0,615.0 626.8,616.0 628.0,617.3 628.6,618.0 630.0,619.6 630.3,620.0 632.0,621.9 632.1,622.0 633.8,624.0 634.0,624.2 635.5,626.0 636.0,627.0 636.5,628.0 636.9,630.0 636.9,632.0 636.5,634.0 636.0,635.0 635.5,636.0 634.0,637.7 633.6,638.0 632.0,639.0 630.0,639.8 628.0,640.0 626.0,639.8 624.0,639.0 622.4,638.0 622.0,637.7 620.4,636.0 620.0,635.5 618.7,634.0 618.0,633.2 616.9,632.0 616.0,631.0 615.2,630.0 614.0,628.7 613.4,628.0 612.0,626.4 611.7,626.0 610.0,624.1 609.9,624.0 608.2,622.0 608.0,621.8 606.4,620.0 606.0,619.5 604.7,618.0 604.0,617.2 602.9,616.0 602.0,615.0 601.2,614.0 600.0,612.7 599.4,612.0 598.0,610.4 597.7,610.0 596.0,608.1 595.9,608.0 594.2,606.0 594.0,605.8 592.4,604.0 592.0,603.5 590.7,602.0 590.0,601.2 588.9,600.0 588.0,599.0 587.2,598.0 586.0,596.6 585.5,596.0 584.5,594.0 584.1,592.0 584.1,590.0 584.5,588.0 585.5,586.0 586.0,585.4 587.4,584.0Z" fill="#08306b"/></g>
<path d="M362.2,90.3 L361.7,90.8 L359.8,92.7 L358.6,94.8 L356.3,95.1 L356.0,97.3 L354.4,98.1 L352.4,100.8 L350.6,102.7 L350.2,103.0 L347.4,105.6 L347.4,107.0 L344.8,108.8 L343.1,110.3 L342.3,112.5 L340.6,113.8 L339.2,115.9 L338.0,116.9 L337.5,119.6 L335.9,120.7 L335.1,123.6 L332.4,124.5 L332.0,126.8 L331.0,128.1 L329.5,130.3 L326.9,131.1 L326.1,132.6 L323.8,133.1 L321.3,133.6 L321.0,135.6 L318.5,137.6 L317.5,139.3 L315.1,140.5 L313.5,142.6 L311.7,143.5 L309.7,143.7 L306.9,145.6 L306.4,146.1 L304.5,147.3 L303.8,150.5 L303.3,151.7 L302.6,153.1 L301.4,156.3 L300.9,157.7 L299.8,160.0 L300.2,161.2 L299.0,164.3 L298.1,165.9 L297.0,167.2 L295.6,168.8 L293.8,171.3 L293.4,172.4 L292.1,175.0 L290.6,176.9 L289.7,179.5 L288.8,181.1 L286.8,182.5 L286.0,184.9 L286.1,187.1 L285.0,189.0 L283.1,190.8 L282.9,191.8 L280.9,193.9 L281.1,196.4 L279.2,199.2 L278.8,200.3 L277.7,202.9 L277.0,204.5 L277.1,206.7 L275.7,208.7 L274.7,210.6 L274.9,212.3 L273.9,215.5 L274.0,216.4 L273.7,219.5 L272.2,220.2 L273.2,223.5 L274.0,225.6 L275.5,227.5 L275.6,230.4 L278.2,231.1 L279.0,232.8 L281.1,234.2 L282.7,235.7 L284.0,236.7 L286.4,239.7 L286.2,241.8 L287.2,244.1 L288.8,245.4 L287.4,246.8 L287.8,248.9 L287.1,252.4 L286.0,253.2 L285.9,256.5 L285.0,257.8 L285.3,260.0 L285.8,262.9 L286.9,264.5 L285.5,267.1 L284.9,268.7 L284.1,271.2 L284.1,271.7 L283.5,274.2 L285.3,276.9 L284.7,278.0 L285.8,281.0 L286.7,282.2 L287.3,284.6 L287.4,287.0 L287.7,288.5 L288.2,289.6 L290.3,291.5 L290.8,294.2 L291.6,295.8 L291.6,297.7 L293.1,300.2 L294.0,302.6 L293.1,304.5 L293.5,306.2 L293.8,310.0 L296.8,311.2 L298.0,312.0 L300.6,312.9 L302.1,313.9 L303.2,315.2 L306.3,316.9 L308.2,317.9 L308.9,319.7 L310.6,320.4 L311.1,322.5 L310.9,325.7 L311.5,326.6 L313.8,328.9 L312.2,330.7 L312.2,333.8 L311.8,336.3 L312.0,338.6 L312.7,339.7 L311.4,342.0 L311.0,344.2 L310.8,345.2 L312.1,347.7 L311.3,349.9 L310.7,351.3 L311.7,354.8 L311.8,355.4 L310.5,358.2 L311.8,360.1 L311.3,362.3 L310.6,364.1 L310.7,365.6 L310.3,367.6 L311.8,369.9 L311.2,372.2 L311.7,373.8 L310.9,375.7 L311.2,378.6 L312.4,379.7 L311.7,382.1 L312.4,384.2 L312.1,385.2 L312.3,387.3 L313.1,389.3 L312.7,392.2 L313.3,394.5 L314.0,396.6 L313.8,398.0 L315.1,399.3 L315.7,401.5 L315.8,404.8 L316.2,405.7 L315.4,408.0 L317.0,409.7 L317.3,411.4 L317.7,413.3 L316.4,416.8 L316.9,418.9 L316.7,420.8 L316.2,422.1 L315.5,424.2 L315.6,427.1 L314.6,428.3 L314.6,431.2 L312.8,432.6 L312.2,434.2 L310.3,435.7 L309.0,437.0 L308.5,439.4 L307.2,440.5 L305.8,442.4 L303.7,444.6 L303.2,446.8 L300.8,449.2 L299.1,449.7 L298.0,452.0 L296.7,453.4 L295.3,455.4 L292.8,456.4 L291.4,457.4 L289.5,459.3 L288.5,461.3 L285.6,462.2 L283.7,462.7 L282.8,465.4 L280.7,466.6 L280.2,467.3 L278.3,469.6 L275.8,469.9 L274.4,470.4 L272.6,471.4 L270.7,471.5 L267.5,471.6 L265.4,472.7 L264.2,472.5 L262.0,474.1 L259.4,474.4 L257.0,475.4 L254.8,476.6 L254.2,476.9 L251.4,478.2 L250.6,477.8 L248.4,479.7 L246.3,480.3 L244.1,481.7 L243.2,481.8 L241.1,482.9 L238.3,483.7 L236.4,485.7 L236.1,485.8 L234.0,487.7 L231.6,488.9 L230.2,491.0 L228.2,491.5 L227.7,493.2 L226.7,496.2 L225.8,497.5 L223.7,500.1 L222.8,502.1 L222.0,504.3 L222.1,506.5 L221.6,508.1 L220.0,510.6 L218.2,510.7 L215.3,510.9 L212.6,512.4 L210.4,512.9 L209.5,514.9 L208.2,516.7 L205.6,517.6 L204.7,519.0 L203.0,520.8 L201.2,521.6 L199.3,523.7 L197.3,525.0 L196.3,526.9 L194.0,528.2 L192.0,528.7 L189.6,530.0 L188.8,532.2 L187.3,532.8 L185.8,533.9 L183.0,532.9 L183.1,535.9 L182.6,536.7 L183.3,539.4 L183.0,540.7 L183.3,543.5 L183.5,546.3 L183.9,548.2 L184.6,550.4 L185.2,552.3 L186.6,554.1 L187.7,555.7 L188.9,557.9 L190.5,560.1 L191.6,562.0 L192.5,563.9 L192.8,565.4 L194.3,568.5 L195.1,569.4 L196.3,572.2 L196.4,573.8 L197.3,577.1 L197.9,578.8 L198.7,580.4 L198.8,584.1 L199.5,585.4 L199.9,588.0 L199.5,589.5 L200.8,591.6 L199.7,594.5 L200.5,595.8 L200.7,598.4 L200.3,600.2 L201.3,602.5 L200.5,604.3 L200.2,606.4 L200.0,609.0 L200.9,610.4 L199.7,613.6 L200.3,615.6 L199.2,617.6 L200.2,618.7 L199.9,621.4 L200.5,622.5 L200.2,624.5 L200.3,627.0 L199.8,629.5 L198.9,630.8 L198.3,632.7 L197.3,635.7 L197.2,637.8 L196.6,639.8 L195.7,640.7 L193.0,642.3 L192.0,643.4 L189.7,644.3 L188.7,646.6 L186.3,646.3 L185.3,648.5 L183.9,648.9 L181.0,650.0 L178.8,650.6 L176.9,650.8 L175.6,651.6 L173.2,652.1 L172.4,653.2 L170.1,653.5 L168.4,654.6 L166.3,656.4 L165.0,655.8 L162.8,658.0 L160.1,658.1 L158.6,659.8 L156.3,660.6 L155.0,660.2 L153.4,660.8 L150.2,662.7 L148.2,663.0 L146.4,663.9 L145.9,666.0 L142.9,666.0 L142.5,667.3 L140.6,669.1 L139.3,670.7 L139.2,673.6 L138.3,675.6 L137.6,676.8 L136.9,679.8 L136.2,680.6 L137.2,682.8 L139.9,683.1 L141.9,684.5 L143.6,684.9 L143.2,687.5 L142.9,690.3 L143.1,692.0 L143.4,694.2 L143.3,696.3 L142.4,698.7 L142.1,700.7 L142.9,702.8 L141.2,703.8 L142.1,706.7 L141.0,709.8 L140.0,711.0 L140.1,712.3 L139.5,715.2 L139.8,716.1 L138.7,718.2 L138.7,720.1 L137.0,722.7 L137.7,724.7 L136.4,727.6 L137.0,729.8 L135.8,731.3 L135.3,733.6 L135.0,735.3 L135.0,738.6 L133.9,739.4 L133.3,742.2 L133.1,744.9 L131.4,746.3 L129.4,748.1 L128.4,748.7 L125.8,750.3 L124.9,751.4 L122.8,753.2 L120.5,754.7 L119.6,755.0 L117.2,756.2 L115.4,758.3 L113.8,759.5 L111.4,761.7 L110.0,762.9 L107.9,766.1 L107.4,767.7 L106.9,769.6 L105.5,771.3 L104.5,772.9 L102.0,774.2 L101.8,777.5 L101.1,779.5 L100.1,781.4 L99.2,783.9 L97.2,785.7 L96.9,788.0 L94.5,789.4 L94.5,792.0 L94.0,793.3 L92.3,796.0 L90.9,796.9 L90.9,799.0 L88.7,800.9 L88.1,803.2 L85.8,804.4 L85.6,807.2 L83.3,809.4 L81.9,810.4 L82.1,812.7 L80.4,814.2 M504.6,355.6 L504.6,356.2 L507.0,358.8 L508.0,360.0 L509.1,362.1 L510.4,363.7 L511.6,366.3 L513.3,369.3 L514.6,370.5 L514.9,372.0 L515.4,373.5 L517.0,375.7 L517.8,378.9 L519.0,380.8 L519.6,382.3 L520.3,384.7 L521.0,388.1 L521.7,389.2 L522.6,392.2 L522.8,394.6 L523.3,396.4 L523.2,398.7 L524.5,399.5 L524.6,402.3 L524.6,404.0 L525.2,406.6 L525.6,408.5 L525.9,410.5 L527.1,411.9 L527.2,414.6 L527.8,416.0 L527.6,417.8 L528.7,419.7 L529.4,422.0 L529.9,424.2 L530.4,427.0 L530.2,428.9 L530.8,431.1 L529.5,432.9 L528.9,436.3 L528.2,437.4 L527.4,440.8 L526.6,442.6 L524.3,443.3 L522.2,444.5 L519.6,446.2 L517.4,443.9 L516.5,441.6 L513.6,440.5 L513.6,438.3 L512.7,435.8 L512.5,434.2 L512.2,436.6 L512.0,438.3 L511.8,439.7 L513.8,441.7 L513.8,444.6 L515.0,445.9 L516.7,448.2 L515.0,450.6 L515.5,453.2 L514.5,454.8 L513.8,457.7 L514.4,460.9 L513.6,462.8 L512.5,464.5 L511.0,465.6 L509.9,467.9 L507.8,470.2 L508.3,471.9 L507.3,474.4 L506.6,476.1 L507.8,478.4 L507.9,480.7 L507.7,483.0 L508.5,484.4 L507.9,486.7 L507.5,489.6 L507.7,492.3 L507.8,494.5 L506.4,496.0 L506.0,498.4 L506.1,500.9 L505.4,502.2 L504.1,504.7 L502.7,506.1 L502.4,508.3 L502.0,510.6 L500.3,512.6 L499.6,514.6 L499.2,517.0 L498.0,519.2 L497.0,521.6 L497.1,523.3 L495.8,525.0 L495.4,526.4 L494.6,529.0 L493.7,530.4 L494.0,532.8 L493.0,535.6 L492.7,537.0 L492.7,539.5 L490.9,542.2 L490.5,544.0 L491.1,546.8 L489.3,548.6 L489.2,550.7 L488.2,552.9 L487.4,554.5 L487.1,557.5 L486.1,559.3 L485.6,561.1 L485.2,563.1 L485.1,565.1 L483.6,566.9 L483.0,570.1 L483.1,572.4 L482.6,573.2 L481.9,576.4 L481.3,578.0 L480.2,579.9 L480.1,581.7 L479.1,584.0 L479.0,586.4 L478.3,588.5 L476.7,589.6 L476.3,591.8 L475.5,594.6 L475.5,596.6 L474.6,598.1 L473.3,601.5 L472.3,602.9 L471.6,604.4 L472.1,607.7 L471.1,608.5 L470.0,610.6 L469.9,613.3 L468.9,615.0 L468.0,617.4 L468.7,620.0 L467.1,622.0 L467.5,624.0 L467.4,626.6 L466.4,628.5 L466.1,630.9 L464.8,631.9 L464.0,633.6 L463.5,636.7 L462.2,638.1 L462.0,639.9 L461.6,642.8 L461.0,644.4 L460.6,646.5 L459.7,649.2 L459.0,651.7 L457.6,653.6 L456.1,655.2 L455.1,656.6 L451.9,657.9 L451.1,660.0 L449.2,661.4 L446.1,662.1 L444.8,662.1 L442.8,663.0 L439.4,663.4 L438.1,663.1 L435.8,664.1 L432.8,664.9 L430.5,665.2 L428.7,665.4 L426.6,666.5 L423.8,667.9 L421.4,667.3 L419.7,669.2 L417.7,669.9 L415.2,670.5 L412.8,670.7 L410.8,669.3 L407.9,669.4 L405.8,668.4 L404.4,666.9 L402.1,666.2 L400.3,664.0 L397.2,663.1 L395.6,661.7 L393.5,660.6 L393.5,658.8 L391.5,657.3 L389.9,656.5 L388.6,654.4 L387.8,652.4 L387.3,649.9 L386.4,648.1 L385.4,646.7 L384.7,644.1 L384.2,641.5 L383.2,639.8 L382.7,638.3 L382.7,635.7 L381.6,633.0 L381.5,630.8 L380.9,629.6 L380.3,627.1 L380.2,624.3 L379.6,621.8 L379.4,619.7 L378.9,617.7 L379.2,616.6 L378.1,614.2 L378.4,611.8 L376.6,609.6 L376.1,608.2 L375.7,605.8 L375.7,603.6 L375.1,602.2 L373.9,600.5 L373.4,598.5 L373.9,596.0 L373.2,594.6 L372.9,592.4 L372.8,590.6 L372.3,588.7 L372.0,586.2 L373.0,583.8 L373.0,581.5 L374.2,579.8 L374.0,578.6 L374.3,576.4 L375.0,572.9 L376.1,571.2 L377.6,569.7 L378.2,566.9 L378.9,564.8 L380.3,563.2 L380.6,561.8 L381.5,559.5 L383.6,557.4 L383.8,555.9 L385.3,554.5 L386.7,552.7 L388.0,550.9 L389.9,549.4 L391.0,547.8 L392.0,544.7 L394.5,542.9 L395.4,540.7 L396.0,540.0 L396.8,538.1 L397.7,535.0 L398.8,532.4 L398.6,530.2 L397.7,528.1 L397.5,525.5 L396.8,523.7 L396.3,521.4 L394.5,518.7 L393.5,516.2 L392.8,515.3 L392.7,513.0 L393.3,510.8 L392.3,507.7 L392.4,505.4 L390.5,504.0 L389.7,501.9 L389.4,499.9 L389.9,498.5 L388.6,496.7 L388.8,493.9 L389.3,491.2 L388.3,489.0 L387.0,488.1 L387.1,485.4 L386.9,483.8 L386.1,481.2 L386.1,478.6 L387.3,476.6 L388.5,474.5 L390.2,473.0 L392.2,471.4 L393.2,468.8 L394.8,466.3 L394.9,465.2 L396.9,462.4 L397.1,458.7 L397.0,456.8 L396.8,455.2 L397.1,452.8 L399.2,449.3 L401.7,450.7 L403.0,450.8 L405.8,451.1 L406.7,450.0 L408.8,448.6 L411.0,447.7 L412.8,446.4 L414.6,444.6 L415.7,444.8 L418.9,444.7 L420.6,443.4 L422.6,442.2 L425.8,441.5 L427.7,441.4 L431.3,440.8 L433.0,439.3 L435.2,440.4 L438.4,439.9 L439.9,438.4 L440.5,436.3 L442.8,434.9 L444.6,433.1 L446.6,431.9 L448.8,430.4 L450.0,429.4 L452.2,427.9 L455.0,426.0 L456.9,425.4 L459.0,423.8 L460.6,422.4 L462.3,421.0 L463.6,420.0 L465.3,418.8 L467.5,416.9 L468.6,415.6 L471.3,413.4 L472.2,412.4 L473.8,410.9 L474.3,408.7 L476.3,407.2 L475.5,405.5 L476.2,402.2 L476.7,399.7 L478.4,397.8 L479.1,396.0 L480.7,393.5 L481.5,391.7 L481.9,390.4 L483.3,387.7 L484.7,387.0 L486.2,384.3 L487.7,382.8 L488.2,379.8 L490.7,378.6 L490.9,376.4 L493.1,374.4 L494.2,372.4 L494.8,370.1 L495.9,368.8 L496.9,366.9 L498.1,364.7 L499.8,362.7 L500.0,360.8 L500.9,358.6 L502.7,357.4 L503.4,355.6Z M121.5,90.7 L122.2,93.0 L123.3,94.1 L120.7,97.3 L119.9,97.8 L120.0,99.9 L119.0,102.1 L117.9,103.6 L117.3,107.2 L118.0,109.1 L119.3,109.8 L119.8,113.0 L119.3,114.0 L120.7,116.9 L119.8,119.8 L119.1,121.8 L117.8,123.6 L117.5,125.9 L118.0,126.2 L116.1,128.4 L117.3,130.9 L116.3,132.6 L116.3,135.3 L116.4,138.2 L117.2,141.3 L117.9,143.7 L118.7,146.1 L118.8,146.7 L119.7,150.6 L122.3,148.8 L124.4,147.0 L125.9,146.0 L126.1,143.2 L128.5,143.3 L128.2,141.1 L131.0,140.8 L132.9,143.0 L136.2,142.6 L137.0,144.7 L138.5,147.3 L140.2,150.7 L140.7,152.8 L141.9,148.9 L144.0,146.7 L144.2,144.9 L146.0,141.8 L147.0,142.7 L149.6,142.4 L152.8,141.9 L153.9,142.9 L156.3,143.7 L157.7,142.5 L160.1,141.1 L160.7,140.3 L161.9,138.2 L165.0,137.4 L162.1,134.3 L159.3,135.0 L156.0,134.5 L154.8,132.9 L152.3,133.2 L154.4,130.9 L156.4,129.5 L156.7,126.5 L159.7,126.6 L160.5,123.9 L162.5,121.9 L163.4,120.2 L164.7,119.1 L165.7,116.6 L167.7,113.9 L168.4,113.2 L169.0,110.1 L172.1,107.1 L170.2,105.4 L170.5,102.7 L169.0,101.1 L171.2,98.2 L173.3,96.1 L174.3,95.5 L177.6,95.1 L178.6,94.4 L181.4,94.6 L184.3,95.9 L185.3,94.8 L186.0,93.4 L185.5,90.8 L182.1,91.0 L181.3,91.2 L178.4,91.8 L176.4,92.0 L175.4,90.8 L171.5,91.7 L170.5,90.1 M166.4,299.6 L169.2,301.7 L171.6,303.9 L174.4,307.1 L176.3,309.4 L178.0,312.3 L178.7,315.3 L179.7,319.3 L181.3,322.3 L181.6,325.0 L181.5,328.8 L182.2,332.4 L183.8,334.3 L185.0,337.7 L186.3,339.9 L187.7,342.6 L186.7,346.6 L184.9,349.3 L183.8,352.8 L182.4,356.3 L182.3,359.2 L182.8,362.6 L182.7,365.8 L184.3,369.5 L184.5,374.1 L185.1,377.4 L185.6,380.5 L186.5,383.7 L186.5,387.0 L187.3,390.4 L187.6,394.2 L189.7,397.6 L192.4,400.6 L193.6,404.2 L196.3,408.1 L192.7,406.3 L189.7,405.0 L185.5,403.7 L182.4,402.5 L181.5,399.5 L180.0,395.8 L180.2,393.3 L178.9,390.4 L178.6,387.1 L177.8,383.3 L177.4,380.0 L176.9,377.7 L176.3,373.5 L174.5,370.7 L173.8,367.9 L171.8,364.6 L170.5,362.4 L167.7,359.6 L168.2,356.3 L169.5,353.0 L169.5,350.0 L170.4,347.4 L171.0,343.8 L172.3,340.5 L171.5,337.0 L169.7,333.4 L168.5,329.9 L168.2,327.4 L168.2,324.0 L166.8,320.8 L166.4,317.7 L165.5,315.0 L164.5,310.9 L164.4,308.1 L165.0,304.4 L165.4,301.2 L167.0,300.2Z M81.1,231.2 L83.7,233.9 L86.2,236.3 L87.3,239.0 L89.7,242.1 L91.3,244.7 L92.3,248.5 L93.7,252.4 L94.6,255.8 L96.5,259.7 L98.5,262.4 L100.2,265.7 L102.1,269.0 L103.6,273.0 L105.8,275.8 L105.9,279.3 L104.8,282.4 L100.0,280.1 L96.8,278.4 L94.2,276.4 L92.3,272.8 L89.9,269.7 L88.7,265.7 L87.8,262.1 L86.3,258.8 L85.2,255.2 L84.3,252.0 L82.4,249.0 L81.0,246.0 M119.2,256.2 L124.0,254.9 L125.2,258.1 L127.0,261.2 L129.9,263.7 L132.9,266.2 L136.6,268.4 L140.0,271.1 L142.6,274.0 L140.2,276.9 L135.2,275.1 L133.2,272.4 L130.8,270.2 L127.7,268.0 L123.8,265.8 L120.1,261.9 L119.8,259.1 L118.8,256.1Z M96.0,436.0 L110.0,437.0 L125.0,436.0 L139.0,435.5 L138.0,437.5 L124.0,438.5 L110.0,439.5 L98.0,439.0 L96.0,436.0Z M170.9,460.4 L174.6,461.3 L178.0,462.4 L181.4,464.5 L185.1,466.4 L186.9,469.0 L189.0,472.2 L189.9,474.8 L191.3,478.3 L193.6,481.4 L196.3,484.7 L198.9,487.8 L201.3,490.9 M293.0,196.0 L296.0,199.0 L296.5,205.0 L294.0,209.0 L291.5,205.0 L292.0,199.0Z M284.0,214.0 L288.0,216.0 L290.0,222.0 L289.0,229.0 L285.0,231.0 L282.0,226.0 L282.0,219.0Z M295.0,258.0 L298.0,260.0 L297.0,265.0 L293.0,266.0 L292.0,262.0Z M372.0,340.6 L375.5,341.5 L376.5,347.0 L376.5,353.0 L373.0,352.0 L371.5,346.0Z M380.0,360.0 L383.5,360.5 L383.0,363.0 L379.6,362.5Z M394.0,357.0 L396.0,356.0 L399.0,361.0 L396.0,363.0 L393.6,361.0Z M411.0,368.6 L414.0,370.0 L416.0,375.0 L413.0,377.0 L410.4,373.0Z M635.0,559.0 L639.0,557.5 L645.0,558.5 L647.0,563.0 L649.0,566.0 L648.0,570.0 L644.0,571.0 L638.0,569.0 L635.0,566.0 L634.5,562.0Z M687.5,536.5 L689.0,539.0 L691.5,543.0 L692.5,546.0 L690.5,550.0 L687.0,551.4 L682.0,550.0 L681.0,547.0 L681.5,544.0 L684.5,540.0 L687.0,535.0Z M184.0,171.0 L190.0,167.0 L196.0,162.5 L197.0,164.5 L192.0,169.0 L185.0,172.8Z M206.0,172.0 L207.0,166.0 L209.0,163.6 L210.0,167.0 L209.0,172.8Z M211.5,135.3 L214.0,137.0 L214.7,142.0 L212.5,146.6 L210.5,143.0 L211.0,138.0Z M1591.4,109.5 L1597.1,109.0 L1598.8,111.8 L1602.0,118.0 L1606.2,125.0 L1606.2,130.7 L1600.5,129.5 L1596.0,126.0 L1593.0,121.0 L1590.2,115.8Z M1610.8,131.8 L1614.8,135.2 L1618.2,141.5 L1614.2,141.5 L1609.6,137.5Z M1615.3,89.9 L1615.9,93.6 L1618.8,97.0 L1621.0,98.7 L1621.0,89.5Z M1580.0,90.7 L1583.4,91.8 L1585.7,95.3 L1584.5,99.8 L1588.0,103.3 L1590.2,96.4 L1589.0,90.0Z M242.0,106.5 L246.0,108.0 L251.6,107.0 L248.0,109.0 L243.0,108.6Z M1011.5,249.5 L1013.5,247.8 L1015.5,248.5 L1015.8,251.0 L1013.5,252.5 L1011.8,251.8Z" fill="none" stroke="#000" stroke-width="1.25" stroke-linejoin="round"/><g fill="#000"><circle cx="213.6" cy="96.3" r="1.1"/><circle cx="217.2" cy="98.3" r="1.1"/><circle cx="219.3" cy="106" r="1.1"/><circle cx="208" cy="152.8" r="1.1"/><circle cx="201.3" cy="159" r="1.1"/><circle cx="179.7" cy="175.4" r="1.1"/><circle cx="209" cy="174.4" r="1.1"/><circle cx="205.4" cy="183.1" r="1.1"/><circle cx="197.2" cy="185.1" r="1.1"/><circle cx="189" cy="188.7" r="1.1"/><circle cx="194" cy="191.8" r="1.1"/><circle cx="184.3" cy="194.4" r="1.1"/><circle cx="248.6" cy="162" r="1.1"/><circle cx="242.4" cy="169.2" r="1.1"/><circle cx="250.6" cy="168.2" r="1.1"/><circle cx="239.3" cy="175.9" r="1.1"/><circle cx="95" cy="122" r="1.1"/><circle cx="97" cy="126" r="1.1"/><circle cx="99" cy="130" r="1.1"/><circle cx="96" cy="134" r="1.1"/><circle cx="100" cy="136" r="1.1"/><circle cx="82" cy="140" r="1.1"/><circle cx="87" cy="138" r="1.1"/><circle cx="84" cy="142" r="1.1"/><circle cx="192.6" cy="456.3" r="1.1"/><circle cx="146.5" cy="518.3" r="1.1"/><circle cx="101.7" cy="542.8" r="1.1"/><circle cx="142" cy="658.2" r="1.1"/><circle cx="122" cy="714.5" r="1.1"/><circle cx="133.5" cy="729" r="1.1"/><circle cx="360" cy="469.2" r="1.1"/><circle cx="306.6" cy="593.3" r="1.1"/><circle cx="380" cy="583.2" r="1.1"/><circle cx="383" cy="590.4" r="1.1"/><circle cx="634.5" cy="170.7" r="1.1"/><circle cx="644.8" cy="172.4" r="1.1"/><circle cx="640" cy="183" r="1.1"/><circle cx="645" cy="186" r="1.1"/><circle cx="648" cy="189" r="1.1"/><circle cx="642" cy="190" r="1.1"/><circle cx="592.8" cy="208.7" r="1.1"/><circle cx="600.9" cy="214.1" r="1.1"/><circle cx="592.8" cy="216" r="1.1"/><circle cx="587.9" cy="226" r="1.1"/><circle cx="579.8" cy="243.6" r="1.1"/><circle cx="657.8" cy="246.8" r="1.1"/><circle cx="439.4" cy="297" r="1.1"/><circle cx="441.5" cy="297" r="1.1"/><circle cx="443" cy="304.5" r="1.1"/><circle cx="466.4" cy="304" r="1.1"/><circle cx="468" cy="304.5" r="1.1"/><circle cx="470" cy="311.3" r="1.1"/><circle cx="535.8" cy="294.6" r="1.1"/><circle cx="542.5" cy="292.9" r="1.1"/><circle cx="542" cy="299.5" r="1.1"/><circle cx="546" cy="313.8" r="1.1"/><circle cx="665.7" cy="319.2" r="1.1"/><circle cx="815" cy="531.7" r="1.1"/><circle cx="816.5" cy="531.5" r="1.1"/><circle cx="619.5" cy="442.6" r="1.1"/><circle cx="1126.6" cy="990.5" r="1.1"/><circle cx="1125.8" cy="1015" r="1.1"/><circle cx="1030" cy="103" r="1.1"/><circle cx="1034.7" cy="95" r="1.1"/><circle cx="1000" cy="205" r="1.1"/><circle cx="1004" cy="207" r="1.1"/><circle cx="1008" cy="210" r="1.1"/><circle cx="1012" cy="212" r="1.1"/><circle cx="988" cy="228" r="1.1"/><circle cx="990" cy="233" r="1.1"/><circle cx="992" cy="237" r="1.1"/><circle cx="1551" cy="358.7" r="1.1"/><circle cx="1545" cy="350.7" r="1.1"/><circle cx="82" cy="1049" r="1.1"/><circle cx="84" cy="1049" r="1.1"/><circle cx="128" cy="126" r="1.1"/><circle cx="132" cy="129" r="1.1"/><circle cx="108" cy="160" r="1.1"/><circle cx="111" cy="162" r="1.1"/><circle cx="312.6" cy="377.3" r="1.32"/><circle cx="311.3" cy="376.3" r="0.85"/><circle cx="315.9" cy="408.4" r="0.85"/><circle cx="310.3" cy="372.5" r="1.35"/><circle cx="256.1" cy="476.2" r="1.02"/><circle cx="311.8" cy="376.4" r="0.83"/><circle cx="301.9" cy="156.2" r="0.73"/><circle cx="182.3" cy="539.8" r="1.07"/><circle cx="311.3" cy="368.9" r="0.89"/><circle cx="292.6" cy="300.6" r="1.07"/><circle cx="289.3" cy="292.2" r="1.45"/><circle cx="283.3" cy="191.8" r="0.88"/><circle cx="289.4" cy="296.2" r="0.79"/><circle cx="278.8" cy="204.4" r="1.47"/><circle cx="192.9" cy="528.2" r="1.44"/><circle cx="290.7" cy="178.9" r="1.02"/><circle cx="285.8" cy="185.5" r="1.24"/><circle cx="306.0" cy="317.4" r="1.47"/><circle cx="228.0" cy="494.7" r="1.27"/><circle cx="299.8" cy="156.7" r="0.84"/><circle cx="311.6" cy="432.5" r="1.49"/><circle cx="222.7" cy="500.5" r="0.79"/><circle cx="312.8" cy="358.2" r="1.39"/><circle cx="211.3" cy="514.3" r="0.72"/><circle cx="287.1" cy="244.7" r="1.21"/><circle cx="277.4" cy="199.7" r="1.05"/><circle cx="302.4" cy="155.0" r="0.94"/><circle cx="284.0" cy="185.6" r="1.21"/><circle cx="301.1" cy="157.3" r="1.06"/><circle cx="304.3" cy="445.3" r="1.39"/><circle cx="287.0" cy="240.6" r="0.88"/><circle cx="294.1" cy="453.9" r="1.29"/><circle cx="313.9" cy="430.6" r="1.41"/><circle cx="296.5" cy="450.4" r="0.79"/><circle cx="317.7" cy="407.1" r="1.26"/><circle cx="285.2" cy="281.9" r="1.09"/><circle cx="315.5" cy="412.8" r="0.76"/><circle cx="286.1" cy="267.4" r="1.19"/><circle cx="284.7" cy="188.1" r="0.86"/><circle cx="298.6" cy="159.6" r="0.90"/><circle cx="292.1" cy="172.4" r="1.16"/><circle cx="272.5" cy="215.6" r="1.06"/><circle cx="304.4" cy="316.2" r="1.17"/><circle cx="273.3" cy="222.5" r="1.08"/><circle cx="313.0" cy="328.7" r="0.72"/><circle cx="282.9" cy="461.8" r="0.95"/><circle cx="275.3" cy="217.4" r="1.14"/><circle cx="233.8" cy="488.0" r="1.29"/><circle cx="275.1" cy="218.4" r="0.98"/><circle cx="259.5" cy="472.9" r="1.39"/><circle cx="216.1" cy="510.6" r="0.71"/><circle cx="271.6" cy="471.1" r="1.19"/><circle cx="282.0" cy="188.9" r="0.91"/><circle cx="311.8" cy="357.6" r="1.29"/><circle cx="307.0" cy="441.1" r="1.13"/><circle cx="317.2" cy="408.3" r="1.18"/><circle cx="311.6" cy="393.6" r="0.79"/><circle cx="222.0" cy="507.5" r="0.90"/><circle cx="300.9" cy="154.3" r="1.19"/><circle cx="315.1" cy="411.5" r="1.23"/><circle cx="311.0" cy="371.1" r="1.02"/><circle cx="283.9" cy="278.2" r="1.34"/><circle cx="188.8" cy="558.6" r="0.88"/><circle cx="297.2" cy="310.5" r="0.98"/><circle cx="185.3" cy="550.8" r="1.46"/><circle cx="290.0" cy="288.7" r="1.08"/><circle cx="285.9" cy="257.4" r="1.12"/><circle cx="265.2" cy="473.8" r="1.49"/><circle cx="310.6" cy="377.2" r="0.92"/><circle cx="294.8" cy="454.3" r="1.16"/><circle cx="142.8" cy="685.7" r="0.98"/><circle cx="141.9" cy="666.2" r="0.92"/><circle cx="140.5" cy="683.7" r="1.15"/><circle cx="135.7" cy="737.3" r="0.99"/><circle cx="154.2" cy="660.0" r="1.36"/><circle cx="200.0" cy="620.1" r="1.25"/><circle cx="198.3" cy="621.4" r="1.43"/><circle cx="142.0" cy="697.6" r="1.04"/><circle cx="134.6" cy="680.7" r="0.81"/><circle cx="159.8" cy="659.4" r="1.48"/><circle cx="200.4" cy="612.9" r="0.77"/><circle cx="137.9" cy="721.1" r="1.08"/><circle cx="142.1" cy="668.5" r="0.77"/><circle cx="190.2" cy="646.6" r="0.99"/><circle cx="148.3" cy="663.6" r="0.95"/><circle cx="172.8" cy="652.0" r="1.11"/><circle cx="117.5" cy="754.7" r="1.36"/><circle cx="135.0" cy="677.3" r="1.24"/><circle cx="199.9" cy="611.6" r="0.78"/><circle cx="140.6" cy="705.2" r="0.92"/><circle cx="463.4" cy="421.4" r="1.34"/><circle cx="454.9" cy="426.9" r="1.40"/><circle cx="494.6" cy="371.2" r="1.13"/><circle cx="459.4" cy="422.4" r="0.80"/><circle cx="496.8" cy="367.0" r="0.92"/><circle cx="448.9" cy="430.3" r="1.41"/><circle cx="465.1" cy="420.8" r="1.46"/><circle cx="505.2" cy="354.5" r="0.89"/><circle cx="501.5" cy="360.5" r="1.24"/><circle cx="477.4" cy="400.5" r="0.98"/><circle cx="491.0" cy="379.6" r="1.25"/><circle cx="486.3" cy="385.9" r="1.05"/><circle cx="498.9" cy="361.9" r="0.86"/><circle cx="483.1" cy="387.9" r="0.91"/><circle cx="465.4" cy="417.6" r="1.09"/><circle cx="462.6" cy="422.6" r="1.26"/><circle cx="446.8" cy="431.3" r="1.46"/><circle cx="474.2" cy="407.3" r="1.39"/><circle cx="459.6" cy="423.6" r="1.37"/><circle cx="491.8" cy="375.0" r="1.29"/><circle cx="465.3" cy="421.0" r="0.86"/><circle cx="492.2" cy="374.9" r="0.81"/><circle cx="498.6" cy="365.5" r="0.87"/><circle cx="489.8" cy="376.8" r="0.73"/><circle cx="489.4" cy="379.6" r="0.94"/><circle cx="453.3" cy="428.0" r="1.42"/><circle cx="451.0" cy="428.3" r="1.14"/><circle cx="485.2" cy="387.9" r="1.36"/><circle cx="492.6" cy="370.8" r="1.50"/><circle cx="446.0" cy="433.5" r="1.15"/><circle cx="496.0" cy="366.6" r="0.99"/><circle cx="436.5" cy="439.7" r="1.10"/><circle cx="484.7" cy="386.3" r="1.24"/><circle cx="468.4" cy="416.7" r="1.27"/><circle cx="453.1" cy="427.1" r="1.25"/><circle cx="457.8" cy="424.1" r="0.98"/><circle cx="462.7" cy="421.1" r="1.21"/><circle cx="475.5" cy="399.7" r="0.77"/><circle cx="499.9" cy="360.3" r="1.22"/><circle cx="468.1" cy="415.4" r="1.14"/><circle cx="120.5" cy="118.1" r="1.33"/><circle cx="124.2" cy="144.8" r="1.53"/><circle cx="185.7" cy="95.1" r="1.67"/><circle cx="157.2" cy="141.8" r="1.02"/><circle cx="138.8" cy="148.7" r="1.60"/><circle cx="176.9" cy="93.7" r="1.47"/><circle cx="129.7" cy="142.2" r="0.92"/><circle cx="141.7" cy="146.6" r="1.65"/><circle cx="151.6" cy="144.3" r="1.24"/><circle cx="168.7" cy="98.9" r="1.69"/><circle cx="171.2" cy="106.1" r="0.98"/><circle cx="120.8" cy="114.8" r="1.47"/><circle cx="128.8" cy="139.3" r="1.60"/><circle cx="158.3" cy="124.0" r="1.80"/><circle cx="130.2" cy="139.4" r="1.54"/><circle cx="120.2" cy="119.4" r="1.23"/><circle cx="181.4" cy="90.9" r="1.11"/><circle cx="156.7" cy="134.7" r="0.89"/><circle cx="151.5" cy="133.1" r="1.42"/><circle cx="154.1" cy="127.4" r="1.50"/><circle cx="171.2" cy="109.0" r="1.21"/><circle cx="160.3" cy="139.5" r="1.17"/><circle cx="151.0" cy="132.4" r="0.99"/><circle cx="177.1" cy="96.5" r="0.90"/><circle cx="117.6" cy="114.1" r="1.78"/><circle cx="170.1" cy="103.6" r="1.60"/><circle cx="124.8" cy="146.1" r="1.57"/><circle cx="120.8" cy="92.2" r="1.06"/><circle cx="124.0" cy="146.6" r="1.13"/><circle cx="173.7" cy="90.2" r="1.36"/><circle cx="170.5" cy="102.7" r="0.96"/><circle cx="182.9" cy="94.6" r="1.18"/><circle cx="154.2" cy="144.0" r="1.11"/><circle cx="170.5" cy="97.4" r="1.23"/><circle cx="142.0" cy="149.0" r="0.93"/><circle cx="119.2" cy="100.6" r="1.06"/><circle cx="157.9" cy="136.5" r="0.85"/><circle cx="118.9" cy="116.4" r="1.23"/><circle cx="117.8" cy="121.2" r="1.61"/><circle cx="114.8" cy="136.2" r="1.02"/><circle cx="183.0" cy="96.6" r="1.79"/><circle cx="170.1" cy="101.7" r="0.85"/><circle cx="159.1" cy="143.1" r="1.12"/><circle cx="119.6" cy="106.7" r="1.48"/><circle cx="181.6" cy="93.4" r="1.67"/></g>
<path d="M300.0,89.5V1052.5 M740.5,89.5V1052.5 M1180.9,89.5V1052.5 M1620.5,89.5V1052.5 M80.5,310.4H1621.5 M80.5,538.6H1621.5 M80.5,782.0H1621.5 M80.5,1051.5H1621.5" stroke="#000" stroke-width="1" stroke-dasharray="1.39 1.39" fill="none"/>
<path d="M1060.2,364.1 1061.0,365.1 1061.9,366.4 1063.1,368.1 1064.4,369.8 1065.8,371.6 1067.3,373.2 1068.8,374.5 1070.2,375.4 1071.7,375.9 1073.2,376.0 1074.7,375.9 1076.3,375.7 1078.0,375.3 1079.6,374.9 1081.2,374.5 1082.8,374.2 1084.4,374.0 1085.9,373.8 1087.5,373.6 1089.0,373.3 1090.6,373.1 1092.2,372.7 1093.7,372.3 1095.3,371.7 1096.9,371.0 1098.5,370.2 1100.1,369.3 1101.8,368.3 1103.4,367.3 1104.9,366.2 1106.4,365.1 1107.9,364.1 1109.3,363.1 1110.7,362.1 1112.0,361.1 1113.3,360.0 1114.5,358.9 1115.7,357.8 1116.8,356.6 1117.9,355.3 1118.9,353.9 1119.9,352.4 1120.8,350.9 1121.6,349.3 1122.4,347.7 1123.1,346.0 1123.7,344.4 1124.2,342.8 1124.6,341.2 1124.9,339.7 1125.2,338.1 1125.3,336.5 1125.4,334.9 1125.5,333.3 1125.5,331.8 1125.5,330.2 1125.5,328.7 1125.4,327.4 1125.2,326.1 1125.0,324.7 1124.8,323.3 1124.6,321.7 1124.4,319.9 1124.2,317.7 1124.0,315.1 1123.8,312.3 1123.6,309.1 1123.4,305.8 1123.2,302.4 1123.1,299.0 1123.0,295.7 1123.0,292.6 1123.1,289.5 1123.3,286.2 1123.6,282.9 1123.9,279.7 1124.3,276.7 1124.6,274.0 1124.8,271.7 1125.0,270.0 M1133.0,399.3 1134.0,398.6 1135.3,397.8 1136.8,396.8 1138.5,395.7 1140.3,394.5 1142.2,393.2 1143.9,391.8 1145.6,390.5 1147.2,389.1 1148.7,387.7 1150.3,386.2 1151.8,384.7 1153.4,383.1 1155.0,381.4 1156.5,379.7 1158.1,377.9 1159.7,376.1 1161.4,374.1 1163.0,372.2 1164.7,370.1 1166.3,368.1 1167.9,365.9 1169.4,363.8 1170.7,361.6 1171.9,359.4 1173.0,357.2 1174.0,355.0 1174.9,352.8 1175.8,350.4 1176.6,348.0 1177.4,345.5 1178.2,342.8 1179.0,339.9 1179.8,336.7 1180.6,333.3 1181.3,329.9 1182.0,326.5 1182.5,323.2 1183.0,320.3 1183.2,317.7 1183.3,315.5 1183.2,313.5 1183.0,311.8 1182.7,310.2 1182.2,308.8 1181.8,307.5 1181.2,306.3 1180.7,305.1 1180.1,304.0 1179.4,303.1 1178.7,302.4 1177.9,301.7 1177.0,301.1 1176.2,300.4 1175.3,299.7 1174.5,298.8 1173.7,297.8 1172.7,296.6 1171.8,295.3 1170.9,294.0 1170.0,292.8 1169.2,291.6 1168.5,290.7 1168.0,290.0 M918.0,439.6 918.8,440.7 919.9,442.3 921.1,444.1 922.5,446.1 924.0,448.2 925.6,450.3 927.2,452.4 928.8,454.2 930.4,455.9 932.0,457.7 933.7,459.5 935.4,461.2 937.2,462.9 939.1,464.4 941.1,465.7 943.3,466.8 945.6,467.7 947.9,468.3 950.3,468.8 952.8,469.1 955.5,469.3 958.4,469.5 961.5,469.5 965.0,469.6 968.8,469.6 973.1,469.5 977.6,469.4 982.3,469.2 987.1,468.9 992.0,468.6 996.8,468.2 1001.4,467.8 1006.0,467.4 1010.7,466.9 1015.4,466.4 1020.1,465.8 1024.7,465.2 1029.2,464.6 1033.5,463.9 1037.6,463.2 1041.4,462.6 1044.8,462.1 1048.1,461.6 1051.3,461.1 1054.4,460.4 1057.6,459.4 1061.1,458.0 1064.8,456.0 1068.9,453.4 1073.4,450.2 1078.1,446.6 1082.9,442.7 1087.6,438.7 1092.1,434.6 1096.3,430.7 1100.0,427.0 1103.3,423.3 1106.2,419.5 1108.9,415.6 1111.4,411.7 1113.7,408.1 1115.8,404.9 1117.9,402.1 1120.0,400.0 1122.0,398.6 1124.0,398.0 1126.0,397.8 1127.8,398.0 1129.4,398.4 1130.8,398.8 1132.0,399.2 1133.0,399.3 M973.6,507.8 972.9,508.5 972.0,509.4 970.9,510.5 969.8,511.7 968.8,512.9 968.0,514.0 967.5,515.0 967.1,515.9 966.8,516.9 966.5,517.8 966.3,518.9 966.0,520.0 965.7,521.3 965.3,522.9 965.0,524.5 964.7,526.0 964.4,527.3 964.2,528.2 M1010.0,187.0 1009.7,186.7 1009.3,186.3 1008.7,185.9 1008.2,185.4 1007.6,184.9 1007.0,184.5 1006.5,184.2 1006.0,184.0 1005.5,184.0 1005.1,184.1 1004.6,184.3 1004.1,184.6 1003.7,184.9 1003.4,185.2 1003.1,185.6 1003.0,186.0 1003.0,186.4 1003.1,187.0 1003.3,187.6 1003.6,188.2 1004.0,188.9 1004.3,189.4 1004.7,189.8 1005.0,190.0 1005.4,190.0 1005.8,189.8 1006.4,189.4 1006.9,188.9 1007.3,188.5 1007.7,188.1 1008.0,188.0 1008.0,188.0 1007.8,188.3 1007.5,188.7 1007.1,189.3 1006.6,189.9 1006.0,190.7 1005.3,191.4 1004.6,192.2 1004.0,193.0 1003.4,193.8 1002.7,194.6 1002.0,195.5 1001.2,196.4 1000.5,197.3 999.7,198.2 998.9,199.1 998.0,200.0 997.1,200.9 996.1,201.7 995.1,202.6 994.1,203.4 993.1,204.3 992.0,205.2 991.0,206.1 990.0,207.0 989.0,207.9 988.0,208.9 987.0,209.9 985.9,210.9 984.9,211.9 983.9,212.9 983.0,213.9 982.0,215.0 981.1,216.1 980.2,217.1 979.3,218.2 978.4,219.3 977.6,220.4 976.7,221.6 975.9,222.8 975.0,224.0 974.1,225.3 973.2,226.6 972.3,227.9 971.4,229.3 970.6,230.7 969.7,232.1 968.8,233.6 968.0,235.0 967.2,236.5 966.4,237.9 965.6,239.4 964.9,240.9 964.1,242.5 963.4,244.0 962.7,245.5 962.0,247.0 961.3,248.5 960.6,250.0 959.9,251.5 959.2,253.0 958.6,254.5 958.0,256.0 957.5,257.5 957.0,259.0 956.6,260.6 956.2,262.3 955.9,264.0 955.7,265.8 955.5,267.4 955.3,268.8 955.1,270.1 955.0,271.0 M984.4,212.0 984.6,212.4 984.8,213.0 985.0,213.7 985.3,214.4 985.7,215.2 986.2,215.9 986.8,216.5 987.7,217.0 988.7,217.3 989.9,217.6 991.2,217.8 992.7,217.9 994.3,217.9 996.0,218.0 997.9,218.0 1000.0,218.0 1002.3,218.0 1005.0,217.9 1007.9,217.9 1011.0,217.8 1014.0,217.6 1016.9,217.4 1019.6,217.2 1022.0,217.0 1024.1,216.7 1026.0,216.4 1027.7,216.0 1029.2,215.6 1030.7,215.1 1032.2,214.7 1033.6,214.3 1035.0,214.0 1036.4,213.6 1037.7,213.2 1039.0,212.7 1040.2,212.3 1041.4,212.0 1042.6,211.8 1043.8,211.8 1045.0,212.0 1046.3,212.5 1047.6,213.2 1048.9,214.2 1050.2,215.2 1051.5,216.4 1052.7,217.6 1053.9,218.8 1055.0,220.0 1056.0,221.2 1056.9,222.4 1057.7,223.7 1058.5,225.0 1059.3,226.3 1060.1,227.6 1061.0,228.8 1062.0,230.0 1063.1,231.1 1064.3,232.2 1065.5,233.2 1066.8,234.2 1068.1,235.2 1069.4,236.2 1070.7,237.1 1072.0,238.0 1073.3,238.9 1074.7,239.8 1076.2,240.7 1077.6,241.5 1079.0,242.3 1080.2,243.0 1081.2,243.6 1082.0,244.0 M1050.0,156.0 1049.7,155.6 1049.3,155.1 1048.8,154.4 1048.3,153.7 1047.8,152.9 1047.4,152.2 1047.1,151.6 1047.0,151.0 1047.1,150.5 1047.3,150.0 1047.6,149.5 1048.1,149.0 1048.5,148.6 1049.0,148.3 1049.5,148.1 1050.0,148.0 1050.4,148.1 1050.9,148.2 1051.3,148.5 1051.8,148.9 1052.3,149.4 1052.8,149.9 1053.4,150.4 1054.0,151.0 1054.6,151.6 1055.1,152.4 1055.6,153.2 1056.1,154.0 1056.8,154.9 1057.6,155.8 1058.7,156.7 1060.0,157.5 1061.7,158.3 1063.7,159.1 1065.9,159.9 1068.3,160.7 1070.8,161.5 1073.3,162.3 1075.7,163.1 1078.0,164.0 1080.2,164.9 1082.3,165.6 1084.5,166.4 1086.6,167.2 1088.7,168.2 1090.8,169.2 1092.9,170.5 1095.0,172.0 1097.1,173.8 1099.2,176.0 1101.3,178.3 1103.4,180.8 1105.4,183.4 1107.4,185.9 1109.2,188.3 1111.0,190.5 1112.6,192.5 1114.2,194.5 1115.6,196.3 1117.0,198.2 1118.3,199.9 1119.6,201.6 1120.8,203.3 1122.0,205.0 1123.2,206.7 1124.4,208.5 1125.6,210.2 1126.7,211.9 1127.7,213.5 1128.6,214.9 1129.4,216.1 1130.0,217.0 M1300.0,232.0 1303.9,232.6 1309.0,233.4 1315.1,234.3 1321.9,235.4 1329.1,236.5 1336.3,237.7 1343.4,238.8 1350.0,240.0 1356.3,241.2 1362.7,242.4 1369.2,243.7 1375.6,245.0 1382.0,246.3 1388.2,247.6 1394.2,248.8 1400.0,250.0 1405.5,251.1 1410.7,252.1 1415.7,253.1 1420.6,254.1 1425.4,255.1 1430.2,256.0 1435.1,257.0 1440.0,258.0 1445.0,259.0 1450.0,260.0 1455.0,261.0 1460.0,262.0 1465.0,263.0 1470.0,264.0 1475.0,265.0 1480.0,266.0 1485.0,267.0 1489.8,267.9 1494.7,268.8 1499.6,269.8 1504.5,270.7 1509.5,271.7 1514.7,272.8 1520.0,274.0 1525.9,275.4 1532.4,277.0 1539.2,278.7 1546.0,280.5 1552.5,282.2 1558.4,283.8 1563.3,285.0 1567.0,286.0 M1340.0,238.0 1344.7,238.6 1351.0,239.4 1358.5,240.4 1366.9,241.5 1375.6,242.6 1384.3,243.8 1392.6,244.9 1400.0,246.0 1406.7,247.0 1413.2,248.1 1419.5,249.2 1425.6,250.2 1431.7,251.3 1437.7,252.3 1443.8,253.2 1450.0,254.0 1456.3,254.7 1462.7,255.3 1469.2,255.8 1475.6,256.2 1482.0,256.7 1488.2,257.1 1494.2,257.5 1500.0,258.0 1505.4,258.5 1510.6,259.0 1515.5,259.5 1520.3,260.0 1525.1,260.5 1529.9,261.0 1534.8,261.5 1540.0,262.0 1545.4,262.5 1551.0,263.0 1556.7,263.5 1562.5,264.0 1568.3,264.5 1574.0,265.0 1579.6,265.5 1585.0,266.0 1590.5,266.5 1596.3,267.1 1602.1,267.7 1607.8,268.2 1613.1,268.8 1617.9,269.3 1621.9,269.7 1625.0,270.0 M1420.0,214.0 1423.9,214.9 1429.0,216.1 1435.1,217.5 1441.9,219.1 1449.1,220.8 1456.3,222.6 1463.4,224.3 1470.0,226.0 1476.3,227.6 1482.7,229.3 1489.2,230.9 1495.6,232.6 1502.0,234.4 1508.2,236.2 1514.2,238.0 1520.0,240.0 1525.5,242.0 1530.9,244.1 1536.2,246.3 1541.2,248.5 1546.2,250.8 1550.9,253.1 1555.5,255.5 1560.0,258.0 1564.3,260.6 1568.4,263.3 1572.3,266.0 1576.1,268.9 1579.8,271.7 1583.3,274.5 1586.7,277.3 1590.0,280.0 1593.3,282.7 1596.6,285.6 1599.8,288.5 1602.9,291.4 1605.7,294.1 1608.2,296.5 1610.4,298.5 1612.0,300.0 M1390.0,196.0 1393.8,195.6 1398.8,195.1 1404.6,194.5 1411.2,193.8 1418.3,193.0 1425.6,192.1 1432.9,191.1 1440.0,190.0 1447.1,188.8 1454.5,187.4 1462.2,186.0 1470.0,184.4 1477.8,182.8 1485.5,181.2 1492.9,179.6 1500.0,178.0 1506.7,176.4 1513.2,174.8 1519.5,173.1 1525.6,171.4 1531.7,169.7 1537.7,168.1 1543.8,166.5 1550.0,165.0 1556.4,163.6 1563.1,162.1 1569.8,160.7 1576.6,159.4 1583.1,158.1 1589.3,156.9 1594.9,155.9 1600.0,155.0 1604.5,154.3 1608.6,153.7 1612.3,153.2 1615.6,152.9 1618.6,152.6 1621.1,152.4 1623.2,152.2 1625.0,152.0" fill="none" stroke="#c8c8c8" stroke-width="1.1"/><path d="M1042.6,357.8 1043.4,357.3 1044.5,356.7 1045.7,355.9 1047.1,355.1 1048.6,354.1 1050.0,353.0 1051.4,351.7 1052.6,350.3 1053.7,348.7 1054.7,346.8 1055.6,344.7 1056.6,342.5 1057.5,340.3 1058.4,338.1 1059.3,336.0 1060.2,334.0 1061.1,332.2 1062.1,330.4 1063.0,328.7 1064.0,327.0 1064.9,325.4 1065.8,323.7 1066.8,322.0 1067.7,320.2 1068.6,318.4 1069.5,316.5 1070.3,314.6 1071.2,312.7 1072.1,310.7 1073.0,308.8 1074.0,306.9 1075.0,305.0 1076.2,303.0 1077.5,300.9 1079.0,298.7 1080.5,296.6 1081.9,294.5 1083.1,292.7 1084.2,291.2 1085.0,290.0 M1187.7,333.3 1187.3,334.4 1186.8,335.6 1186.3,336.7 1185.8,337.8 1185.1,338.8 1184.5,339.8 1183.7,340.8 1183.0,341.7 1182.1,342.6 1181.3,343.4 1180.3,344.2 1179.4,345.0 1178.4,345.7 1177.4,346.3 1176.3,346.9 1175.2,347.4 1174.1,347.9 1172.9,348.3 1171.8,348.7 1170.6,349.0 1169.4,349.2 1168.2,349.4 1167.0,349.5 1165.8,349.5 1164.6,349.5 1163.4,349.4 1162.2,349.2 1161.0,349.0 1159.8,348.7 1158.6,348.4 1157.5,348.0 1156.3,347.5 1155.3,347.0 1154.2,346.4 1153.1,345.8 1152.1,345.1 1151.2,344.3 1150.3,343.6 1149.4,342.7 1148.6,341.8 1147.8,340.9 1147.0,339.9 1146.4,338.9 1145.7,337.9 1145.1,336.8 1144.6,335.7 1144.2,334.6 1143.8,333.5 1143.4,332.3 1143.2,331.1 1143.0,329.9 1142.8,328.7 1142.7,327.5 1142.7,326.3 1142.7,325.1 1142.9,323.9 1143.0,322.7 1143.3,321.5 1143.6,320.3 1143.9,319.1 1144.3,318.0 1144.8,316.9 1145.4,315.8 1145.9,314.7 1146.6,313.7 1147.3,312.7 1148.0,311.8 1148.9,310.8 1149.7,310.0 1150.6,309.2 1151.5,308.4 1152.5,307.7 1153.5,307.0 1154.6,306.4 1155.6,305.8 1156.8,305.3 1157.9,304.9 1159.0,304.5 1160.2,304.2 1161.4,303.9 1162.6,303.7 1163.8,303.6 1165.0,303.5 1166.2,303.5 1167.4,303.6 1168.6,303.7 1169.8,303.9 1171.0,304.1 1172.2,304.4 1173.4,304.8 1174.5,305.2 1175.6,305.7 1176.7,306.3 1177.7,306.9 1178.8,307.6 1179.7,308.3 1180.7,309.0 1181.6,309.9 1182.4,310.7 1183.2,311.6 1184.0,312.6 1184.7,313.6 1185.4,314.6 1186.0,315.6 1186.5,316.7 1187.0,317.8 1187.4,319.0 1187.8,320.1 1188.1,321.3 1188.3,322.5 1188.5,323.7 1188.6,324.9 1188.7,326.1 1188.7,327.3 1188.6,328.5 1188.5,329.7 1188.3,330.9 1188.0,332.1 1187.7,333.3 M1012.0,254.0 1013.4,254.2 1015.2,254.5 1017.3,254.8 1019.8,255.1 1022.3,255.5 1024.9,255.7 1027.5,255.9 1030.0,256.0 1032.5,256.0 1035.0,255.8 1037.7,255.6 1040.4,255.4 1043.0,255.1 1045.5,254.7 1047.9,254.4 1050.0,254.0 1052.0,253.6 1054.0,253.3 1055.9,252.9 1057.7,252.5 1059.2,252.0 1060.5,251.5 1061.5,250.8 1062.0,250.0 1062.1,249.1 1061.7,248.0 1060.9,246.8 1059.9,245.5 1058.7,244.2 1057.4,242.8 1056.1,241.4 1055.0,240.0 1053.9,238.6 1052.7,237.2 1051.5,235.7 1050.2,234.2 1048.9,232.7 1047.6,231.2 1046.3,229.6 1045.0,228.0 1043.8,226.3 1042.5,224.6 1041.2,222.8 1040.0,221.0 1038.8,219.2 1037.5,217.4 1036.2,215.7 1035.0,214.0 1033.8,212.4 1032.5,210.8 1031.2,209.3 1030.0,207.8 1028.8,206.3 1027.5,204.8 1026.2,203.4 1025.0,202.0 1023.7,200.6 1022.4,199.2 1021.0,197.9 1019.7,196.6 1018.4,195.3 1017.1,194.1 1016.0,193.0 1015.0,192.0 1014.1,191.1 1013.3,190.3 1012.5,189.5 1011.9,188.9 1011.3,188.3 1010.8,187.8 1010.4,187.4 1010.0,187.0 M1060.0,157.5 1060.5,159.0 1061.2,161.0 1062.1,163.4 1063.0,166.0 1064.0,168.8 1065.0,171.6 1066.0,174.4 1067.0,177.0 1068.0,179.5 1069.0,181.9 1070.1,184.3 1071.2,186.8 1072.3,189.3 1073.3,191.8 1074.2,194.4 1075.0,197.0 1075.6,199.8 1076.1,202.7 1076.4,205.6 1076.7,208.6 1076.9,211.6 1077.2,214.5 1077.6,217.3 1078.0,220.0 1078.5,222.5 1079.1,225.0 1079.8,227.4 1080.4,229.7 1081.1,231.9 1081.8,234.0 1082.4,236.1 1083.0,238.0 1083.5,239.8 1084.0,241.4 1084.5,242.9 1085.0,244.4 1085.5,245.8 1086.0,247.1 1086.5,248.5 1087.0,250.0 1087.6,251.6 1088.3,253.3 1089.0,255.0 1089.8,256.8 1090.4,258.4 1091.1,259.8 1091.6,261.1 1092.0,262.0 M1150.0,250.0 1152.3,250.4 1155.4,250.9 1159.1,251.6 1163.1,252.3 1167.4,253.1 1171.8,253.8 1176.0,254.4 1180.0,255.0 1183.8,255.5 1187.5,255.9 1191.2,256.2 1195.0,256.6 1198.8,256.9 1202.5,257.2 1206.2,257.6 1210.0,258.0 1213.8,258.4 1217.6,258.8 1221.5,259.2 1225.3,259.6 1229.1,260.0 1232.9,260.6 1236.5,261.2 1240.0,262.0 1243.4,262.9 1246.8,263.9 1250.2,265.0 1253.4,266.1 1256.6,267.4 1259.6,268.8 1262.4,270.3 1265.0,272.0 1267.4,273.9 1269.7,275.9 1271.8,278.1 1273.7,280.4 1275.5,282.8 1277.1,285.2 1278.6,287.6 1280.0,290.0 1281.3,292.4 1282.4,294.9 1283.4,297.4 1284.3,299.9 1285.0,302.4 1285.6,305.0 1285.9,307.5 1286.0,310.0 1285.9,312.6 1285.6,315.2 1285.2,317.9 1284.5,320.6 1283.7,323.2 1282.6,325.6 1281.4,327.9 1280.0,330.0 1278.4,331.9 1276.4,333.7 1274.3,335.4 1272.0,336.9 1269.6,338.2 1267.1,339.4 1264.5,340.3 1262.0,341.0 1259.4,341.4 1256.8,341.6 1254.0,341.6 1251.2,341.4 1248.4,341.1 1245.6,340.5 1242.8,339.8 1240.0,339.0 1237.2,338.0 1234.4,336.8 1231.6,335.5 1228.8,333.9 1226.0,332.3 1223.2,330.6 1220.6,328.8 1218.0,327.0 1215.5,325.1 1213.0,323.1 1210.5,321.0 1208.1,318.9 1205.8,316.7 1203.7,314.4 1201.7,312.2 1200.0,310.0 1198.5,307.7 1197.1,305.1 1195.9,302.5 1194.9,299.9 1194.0,297.5 1193.2,295.3 1192.5,293.4 1192.0,292.0 M1100.0,262.0 1102.4,263.0 1105.6,264.2 1109.5,265.6 1113.8,267.2 1118.2,269.0 1122.5,271.0 1126.5,273.0 1130.0,275.0 1133.0,277.1 1135.9,279.4 1138.7,281.9 1141.2,284.4 1143.7,287.0 1145.9,289.6 1148.0,292.3 1150.0,295.0 1151.7,297.8 1153.1,300.7 1154.3,303.6 1155.3,306.6 1156.3,309.6 1157.4,312.5 1158.6,315.3 1160.0,318.0 1161.6,320.6 1163.3,323.1 1165.0,325.5 1166.9,327.9 1168.8,330.1 1170.8,332.2 1172.9,334.2 1175.0,336.0 1177.3,337.6 1179.6,339.2 1182.1,340.6 1184.7,341.8 1187.3,342.9 1189.9,343.8 1192.5,344.5 1195.0,345.0 1197.6,345.2 1200.5,345.0 1203.4,344.6 1206.2,344.1 1209.0,343.4 1211.4,342.8 1213.5,342.3 1215.0,342.0 M1190.0,275.0 1190.6,275.9 1191.5,277.1 1192.4,278.5 1193.5,280.2 1194.7,281.9 1195.9,283.7 1197.1,285.6 1198.3,287.5 1199.5,289.4 1200.6,291.5 1201.8,293.7 1203.0,295.9 1204.3,298.2 1205.6,300.5 1206.9,302.8 1208.3,305.1 1209.8,307.4 1211.3,309.9 1212.8,312.3 1214.4,314.8 1216.1,317.2 1217.7,319.6 1219.3,321.9 1220.9,324.0 1222.5,326.0 1224.2,328.0 1225.9,330.0 1227.6,331.9 1229.2,333.6 1230.8,335.2 1232.2,336.6 1233.5,337.8 1234.6,338.8 1235.4,339.5 1236.1,340.0 1236.8,340.4 1237.4,340.7 1238.1,341.0 1239.0,341.2 1240.0,341.5 1241.3,341.8 1242.9,342.1 1244.6,342.3 1246.4,342.5 1248.1,342.6 1249.7,342.8 1251.0,342.9 1252.0,343.0" fill="none" stroke="#6e6e6e" stroke-width="1.1"/><path d="M964.5,526.0 964.3,526.4 964.1,526.9 963.8,527.3 963.6,527.8 963.4,528.2 963.2,528.7 963.0,529.1 962.7,529.6 962.5,530.0 962.3,530.5 962.1,530.9 962.2,530.7 962.2,530.5 962.2,530.2 962.2,530.0 962.2,529.7 962.1,529.5 961.9,529.3 961.8,529.1 961.6,528.9 961.4,528.8 961.1,528.7 960.9,528.6 960.6,528.6 960.4,528.6 960.1,528.7 959.9,528.8 959.7,528.9 959.5,529.1 959.3,529.3 959.2,529.5 959.1,529.7 959.1,530.0 959.0,530.2 959.1,530.5 959.1,530.7 959.2,530.9 959.3,531.2 959.5,531.3 959.7,531.5 959.9,531.6 960.2,531.7 960.4,531.8 960.6,531.8 960.9,531.8 961.1,531.7 961.4,531.6 961.6,531.5 961.8,531.3 961.9,531.1 962.1,530.9 961.8,531.4 961.6,531.8 961.4,532.3 961.2,532.7 960.9,533.2 960.7,533.6 960.4,534.0 960.2,534.5 959.9,534.9 959.7,535.3 959.4,535.8 959.2,536.2 958.9,536.6 958.7,537.1 958.4,537.5 958.2,537.9 957.9,538.3 957.7,538.8 957.4,539.2 957.2,539.7 956.9,540.1 956.7,540.5 956.5,541.0 956.2,541.4 956.0,541.9 955.8,542.3 955.5,542.7 955.3,543.2 955.1,543.6 954.9,544.1 955.0,543.8 955.1,543.4 955.1,543.1 955.1,542.7 955.0,542.4 954.8,542.1 954.7,541.8 954.4,541.5 954.2,541.3 953.9,541.1 953.5,541.0 953.2,540.9 952.9,540.9 952.5,540.9 952.2,541.0 951.9,541.2 951.6,541.3 951.3,541.6 951.1,541.8 950.9,542.1 950.8,542.5 950.7,542.8 950.7,543.1 950.7,543.5 950.8,543.8 950.9,544.1 951.1,544.4 951.4,544.7 951.6,544.9 951.9,545.1 952.2,545.2 952.6,545.3 952.9,545.3 953.3,545.3 953.6,545.2 953.9,545.1 954.2,544.9 954.5,544.6 954.7,544.4 954.9,544.1 954.6,544.5 954.4,545.0 954.2,545.4 954.0,545.9 953.8,546.3 953.6,546.8 953.4,547.3 953.2,547.7 953.0,548.2 952.8,548.6 952.6,549.1 952.5,549.6 952.3,550.1 952.1,550.5 951.9,551.0 951.8,551.5 951.6,551.9 951.4,552.4 951.3,552.9 951.1,553.3 950.9,553.8 950.7,554.3 950.5,554.7 950.3,555.2 950.1,555.7 949.9,556.1 949.7,556.6 949.5,557.0 949.3,557.5 949.1,557.9 948.8,558.4 948.6,558.8 948.4,559.2 948.1,559.7 947.9,560.1 948.2,559.5 948.3,558.9 948.4,558.3 948.3,557.7 948.2,557.1 948.0,556.5 947.7,555.9 947.3,555.5 946.8,555.0 946.3,554.7 945.7,554.5 945.1,554.3 944.5,554.2 943.8,554.3 943.2,554.4 942.6,554.6 942.1,554.9 941.6,555.3 941.2,555.8 940.9,556.3 940.6,556.9 940.4,557.5 940.4,558.1 940.4,558.8 940.6,559.4 940.8,560.0 941.1,560.5 941.5,561.0 942.0,561.4 942.5,561.8 943.1,562.0 943.7,562.2 944.3,562.2 944.9,562.2 945.5,562.1 946.1,561.8 946.7,561.5 947.1,561.1 947.6,560.6 947.9,560.1 947.7,560.6 947.4,561.0 947.2,561.4 947.0,561.9 946.8,562.3 946.5,562.8 946.3,563.2 946.1,563.7 945.9,564.2 945.8,564.6 945.6,565.1 945.4,565.6 945.2,566.0 945.1,566.5 944.9,567.0 944.8,567.5 944.6,567.9 944.5,568.4 944.3,568.9 944.2,569.4 944.1,569.9 943.9,570.3 943.8,570.8 943.7,571.3 943.6,571.8 943.4,572.3 943.3,572.8 943.2,573.3 943.1,573.7 943.0,574.2 942.9,574.7 942.8,575.2 942.7,575.7 942.6,576.2 942.5,576.7 942.5,576.1 942.5,575.5 942.4,575.0 942.2,574.5 941.9,574.0 941.6,573.5 941.2,573.1 940.7,572.8 940.2,572.6 939.7,572.4 939.1,572.3 938.5,572.4 938.0,572.5 937.4,572.7 936.9,572.9 936.5,573.3 936.1,573.7 935.8,574.2 935.6,574.7 935.4,575.2 935.3,575.8 935.3,576.3 935.5,576.9 935.6,577.4 935.9,577.9 936.3,578.4 936.7,578.8 937.1,579.1 937.7,579.3 938.2,579.5 938.8,579.5 939.3,579.5 939.9,579.4 940.4,579.2 940.9,579.0 941.4,578.6 941.7,578.2 942.1,577.7 942.3,577.2 942.5,576.7 942.4,577.2 942.2,577.7 942.1,578.1 942.0,578.6 941.9,579.1 941.8,579.6 941.7,580.1 941.6,580.6 941.5,581.1 941.4,581.6 941.2,582.0 941.1,582.5 941.0,583.0 940.9,583.5 940.7,584.0 940.6,584.5 940.5,584.9 940.4,585.4 940.2,585.9 940.1,586.4 939.9,586.9 939.8,587.3 939.7,587.8 939.5,588.3 939.4,588.8 939.2,589.3 939.1,589.7 938.9,590.2 938.8,590.7 938.6,591.2 938.4,591.6 938.3,592.1 938.1,592.6 937.9,593.0 938.0,592.5 938.1,592.0 938.1,591.5 938.0,591.0 937.8,590.5 937.6,590.0 937.3,589.6 936.9,589.3 936.5,589.0 936.0,588.7 935.5,588.6 935.0,588.5 934.5,588.5 934.0,588.6 933.5,588.8 933.1,589.0 932.6,589.3 932.3,589.7 932.0,590.1 931.8,590.6 931.6,591.1 931.5,591.6 931.5,592.1 931.6,592.6 931.8,593.1 932.0,593.6 932.3,594.0 932.7,594.3 933.1,594.6 933.6,594.9 934.1,595.0 934.6,595.1 935.1,595.1 935.6,595.0 936.1,594.8 936.6,594.6 937.0,594.3 937.4,593.9 937.7,593.5 937.9,593.0 937.7,593.5 937.5,594.0 937.3,594.4 937.1,594.9 937.0,595.3 936.8,595.8 936.6,596.3 936.4,596.7 936.3,597.2 936.1,597.7 935.9,598.2 935.8,598.7 935.7,599.1 935.5,599.6 935.4,600.1 935.3,600.6 935.2,601.1 935.0,601.6 934.9,602.0 934.8,602.5 934.7,603.0 934.6,603.5 934.5,604.0 934.4,604.5 934.3,605.0 934.1,605.4 934.0,605.9 933.9,606.4 933.8,606.9 933.7,607.4 933.5,607.9 933.4,608.4 933.3,608.8 933.2,609.3 933.0,609.8 932.9,610.3 932.8,610.8 932.7,611.3 932.6,611.8 932.4,612.2 932.3,612.7 932.2,613.2 932.1,613.7 932.0,614.2 931.8,614.7 931.7,615.1 931.6,615.6 931.4,616.1 931.3,616.6 931.2,617.1 931.1,617.6 930.9,618.0 930.8,618.5 930.7,619.0 930.6,619.5 930.4,620.0 930.5,619.6 930.5,619.2 930.4,618.8 930.3,618.4 930.1,618.0 929.9,617.7 929.6,617.4 929.3,617.2 928.9,617.0 928.5,616.9 928.1,616.8 927.7,616.8 927.3,616.9 926.9,617.0 926.5,617.2 926.2,617.4 925.9,617.7 925.7,618.0 925.5,618.4 925.4,618.8 925.3,619.2 925.3,619.6 925.4,620.0 925.5,620.4 925.7,620.7 925.9,621.1 926.2,621.4 926.6,621.6 926.9,621.8 927.3,621.9 927.7,622.0 928.1,622.0 928.5,621.9 928.9,621.8 929.3,621.6 929.6,621.4 929.9,621.1 930.1,620.7 930.3,620.4 930.4,620.0 930.3,620.5 930.2,621.0 930.1,621.4 930.0,621.9 929.9,622.4 929.8,622.9 929.8,623.4 929.7,623.9 929.7,624.4 929.6,624.9 929.6,625.4 929.5,625.9 929.5,626.4 929.4,626.9 929.4,627.4 929.3,627.9 929.2,628.4 929.2,628.9 929.1,629.4 929.0,629.9 928.9,630.4 928.8,630.9 928.7,631.3 928.6,631.8 928.5,632.3 928.4,632.8 928.3,633.3 928.2,633.8 928.0,634.3 927.9,634.7 927.8,635.2 927.7,635.7 927.5,636.2 927.4,636.7 927.3,637.2 927.1,637.6 927.0,638.1 926.8,638.6 926.6,639.1 926.5,639.5 926.3,640.0 926.1,640.5 925.9,640.9 925.7,641.4 925.5,641.8 925.3,642.3 925.1,642.8 M925.0,643.0 925.4,643.2 925.9,643.6 926.5,643.9 927.2,644.4 927.9,644.8 928.7,645.2 929.4,645.7 930.0,646.0 930.6,646.2 931.2,646.3 931.7,646.3 932.3,646.2 932.9,646.3 933.4,646.6 933.9,647.1 934.4,648.0 934.9,649.2 935.4,650.8 935.9,652.5 936.4,654.5 936.8,656.5 937.2,658.7 937.4,660.9 937.6,663.0 937.7,665.2 937.6,667.6 937.5,670.1 937.3,672.6 937.1,675.1 936.8,677.4 936.4,679.6 936.0,681.6 935.5,683.4 934.9,685.0 934.2,686.6 933.4,688.0 932.7,689.2 932.0,690.3 931.4,691.3 931.0,692.0 M931.0,692.0 931.3,692.9 931.7,694.1 932.1,695.6 932.6,697.3 933.2,698.9 933.8,700.5 934.4,701.9 935.0,703.0 935.7,703.7 936.5,704.2 937.3,704.4 938.2,704.6 939.0,704.8 939.7,705.1 940.3,705.7 940.7,706.7 940.8,708.1 940.7,710.0 940.3,712.0 940.0,714.3 939.5,716.5 939.2,718.6 939.0,720.5 939.1,722.0 939.4,723.1 939.8,724.0 940.4,724.7 941.1,725.3 941.8,725.7 942.5,726.1 943.3,726.5 944.0,727.0 944.7,727.4 945.5,727.7 946.3,727.9 947.1,728.1 947.9,728.4 948.7,728.7 949.4,729.3 950.0,730.0 950.6,731.0 951.2,732.3 951.8,733.7 952.4,735.2 952.8,736.7 953.1,738.3 953.3,739.7 953.2,741.0 952.8,742.2 952.2,743.4 951.3,744.6 950.3,745.7 949.3,746.7 948.3,747.6 947.5,748.4 947.0,749.0 M947.0,749.0 948.0,749.1 949.3,749.1 950.8,749.2 952.6,749.3 954.4,749.4 956.3,749.5 958.2,749.7 960.0,750.0 961.8,750.3 963.6,750.5 965.4,750.7 967.2,750.9 969.1,751.3 971.1,751.9 973.1,752.6 975.2,753.7 977.5,755.1 979.9,756.8 982.5,758.8 985.2,760.9 987.7,763.1 990.1,765.3 992.2,767.4 994.0,769.3 995.4,771.0 996.7,772.6 997.7,774.2 998.5,775.7 999.1,777.2 999.6,778.7 1000.0,780.3 1000.2,782.0 1000.2,783.9 1000.0,786.0 999.5,788.3 999.0,790.5 998.4,792.7 997.8,794.6 997.3,796.3 997.0,797.5 M997.0,797.5 998.1,797.2 999.6,796.6 1001.3,796.0 1003.3,795.3 1005.4,794.7 1007.6,794.2 1009.8,794.0 1012.0,794.0 1014.2,794.3 1016.5,794.8 1018.9,795.5 1021.3,796.3 1023.8,797.3 1026.3,798.3 1028.9,799.4 1031.5,800.6 1034.2,801.8 1037.0,803.0 1040.0,804.3 1042.9,805.7 1045.8,807.3 1048.6,809.0 1051.2,810.9 1053.5,813.0 1055.6,815.6 1057.6,818.7 1059.4,822.1 1061.1,825.6 1062.6,829.1 1064.0,832.2 1065.1,834.8 1066.0,836.7 M1066.0,836.7 1066.7,836.1 1067.5,835.4 1068.5,834.4 1069.7,833.4 1070.9,832.4 1072.3,831.4 1073.6,830.6 1075.0,830.0 1076.4,829.6 1078.0,829.2 1079.6,829.0 1081.3,828.8 1082.9,828.7 1084.6,828.7 1086.3,828.7 1087.9,828.8 1089.4,829.0 1091.0,829.3 1092.5,829.6 1093.9,830.0 1095.4,830.5 1096.9,831.0 1098.4,831.5 1100.0,832.0 1101.6,832.5 1103.1,833.1 1104.7,833.7 1106.3,834.4 1107.9,835.0 1109.5,835.6 1111.2,836.2 1113.0,836.7 1114.9,837.1 1116.9,837.2 1118.9,837.3 1121.0,837.4 1123.1,837.6 1125.1,838.0 1126.9,838.7 1128.6,839.8 1130.1,841.5 1131.6,843.8 1133.0,846.5 1134.3,849.4 1135.4,852.2 1136.5,854.9 1137.3,857.0 1138.0,858.6 M1138.0,858.6 1149.0,860.2 M933.0,690.0 932.6,690.3 932.3,690.7 931.9,691.0 931.6,691.4 931.2,691.7 930.9,692.1 931.2,691.7 931.4,691.2 931.6,690.7 931.6,690.2 931.6,689.6 931.5,689.1 931.3,688.6 931.0,688.1 930.7,687.7 930.3,687.4 929.9,687.1 929.4,686.8 928.9,686.7 928.4,686.6 927.8,686.7 927.3,686.8 926.8,686.9 926.3,687.2 925.9,687.5 925.6,687.9 925.3,688.4 925.0,688.9 924.9,689.4 924.8,689.9 924.8,690.4 925.0,691.0 925.1,691.5 925.4,691.9 925.7,692.3 926.1,692.7 926.6,693.0 927.1,693.2 927.6,693.4 928.1,693.4 928.6,693.4 929.2,693.3 929.7,693.1 930.1,692.9 930.5,692.5 930.9,692.1 930.6,692.5 930.3,692.9 930.0,693.4 929.8,693.8 929.5,694.2 929.2,694.6 M829.6,485.0 829.8,484.5 829.9,484.0 830.0,483.6 830.2,483.1 830.3,482.6 830.5,482.1 830.6,481.7 830.8,481.2 830.9,480.7 831.1,480.2 831.3,479.8 831.4,479.3 831.6,478.8 831.8,478.4 832.0,477.9 832.3,477.5 832.5,477.0 832.7,476.6 833.0,476.1 833.2,475.7 833.4,475.3 833.7,474.8 834.0,474.4 834.2,474.0 834.5,473.6 834.8,473.2 835.2,472.8 835.5,472.4 835.9,472.1 835.3,472.7 834.7,473.4 834.3,474.2 834.0,475.0 833.9,475.8 833.9,476.7 834.0,477.5 834.3,478.4 834.6,479.1 835.1,479.9 835.7,480.5 836.4,481.0 837.2,481.4 838.0,481.7 838.8,481.8 839.7,481.8 840.6,481.7 841.4,481.5 842.2,481.1 842.9,480.6 843.5,480.0 844.0,479.3 844.4,478.6 844.7,477.7 844.8,476.9 844.9,476.0 844.7,475.2 844.5,474.3 844.1,473.6 843.6,472.9 843.0,472.2 842.3,471.7 841.6,471.3 840.7,471.0 839.9,470.9 839.0,470.9 838.2,471.0 837.4,471.2 836.6,471.6 835.9,472.1 836.3,471.8 836.7,471.5 837.1,471.3 837.6,471.2 838.1,471.1 838.6,471.0 839.1,471.0 839.6,471.0 840.1,471.0 840.6,471.0 841.1,471.0 841.6,471.0 842.1,471.1 842.6,471.2 843.1,471.3 843.6,471.4 844.1,471.5 844.5,471.6 845.0,471.7 845.5,471.9 846.0,472.0 846.5,472.0 847.0,472.1 847.5,472.2 848.0,472.2 848.5,472.2 849.0,472.2 849.5,472.1 850.0,472.0 850.4,471.8 850.9,471.6 851.3,471.4 851.8,471.2 852.2,470.9 852.6,470.6 853.0,470.3 853.4,470.0 853.8,469.7 854.2,469.4 854.6,469.0 854.9,468.7 855.3,468.4 855.7,468.0 856.0,467.7 856.4,467.4 856.8,467.0 857.2,466.7 857.5,466.4 857.9,466.1 858.3,465.7 858.7,465.4 859.1,465.1 858.5,465.7 858.0,466.5 857.7,467.2 857.5,468.1 857.4,468.9 857.4,469.8 857.6,470.6 857.9,471.4 858.3,472.1 858.9,472.8 859.5,473.3 860.2,473.8 860.9,474.1 861.8,474.3 862.6,474.4 863.4,474.4 864.2,474.2 865.0,473.9 865.7,473.5 866.3,473.0 866.9,472.4 867.3,471.7 867.6,470.9 867.8,470.2 867.9,469.4 867.9,468.6 867.7,467.8 867.4,467.0 867.0,466.3 866.5,465.7 865.9,465.2 865.3,464.8 864.5,464.4 863.8,464.2 863.0,464.2 862.2,464.2 861.5,464.4 860.7,464.7 860.1,465.0 859.5,465.5 859.0,466.1 858.5,466.7 858.2,467.4 858.0,468.2 858.0,468.9 858.0,469.7 858.2,470.4 858.4,471.1 858.8,471.8 859.3,472.4 859.9,472.9 860.5,473.3 861.2,473.6 861.9,473.8 862.6,473.8 863.3,473.8 859.4,464.7 859.8,464.4 860.2,464.0 860.5,463.7 861.0,463.5 861.4,463.2 861.9,463.1 862.3,462.9 862.8,462.8 863.3,462.8 863.8,462.7 864.3,462.7 864.8,462.7 865.3,462.7 865.8,462.7 866.3,462.7 866.8,462.6 867.3,462.6 867.8,462.5 868.3,462.5 868.8,462.4 869.3,462.2 869.8,462.1 870.2,461.9 870.7,461.7 871.1,461.5 871.6,461.2 872.0,461.0 872.5,460.8 872.9,460.5 873.3,460.2 873.7,460.0 874.2,459.7 874.6,459.4 875.0,459.2 875.4,458.9 875.8,458.6 876.2,458.3 876.7,458.1 877.1,457.8 877.5,457.5 877.9,457.2 878.3,457.0 878.8,456.7 879.2,456.4 879.6,456.2 880.1,456.0 880.5,455.7 881.0,455.5 881.4,455.4 881.9,455.2 881.1,455.5 880.3,455.9 879.6,456.3 879.0,456.9 878.5,457.6 878.1,458.4 877.8,459.2 877.7,460.0 877.7,460.9 877.8,461.7 878.0,462.5 878.4,463.3 878.9,464.0 879.5,464.6 880.2,465.1 880.9,465.5 881.7,465.7 882.5,465.9 883.4,465.9 884.2,465.8 885.0,465.5 885.7,465.2 886.4,464.7 887.0,464.1 887.5,463.4 887.8,462.7 888.1,461.9 888.2,461.1 888.3,460.3 888.1,459.5 887.9,458.7 887.5,458.0 887.1,457.3 886.5,456.8 885.9,456.3 885.1,455.9 884.4,455.7 883.6,455.5 882.8,455.5 882.0,455.6 881.2,455.9 880.5,456.2 879.9,456.7 879.3,457.2 878.9,457.9 878.5,458.6 878.2,459.3 878.1,460.1 878.1,460.9 878.2,461.6 878.4,462.4 878.8,463.1 882.4,455.2 882.9,455.1 883.4,455.1 883.9,455.0 884.4,455.0 884.9,454.9 885.4,454.9 885.9,454.9 886.4,454.9 886.9,454.8 887.4,454.8 887.9,454.8 888.4,454.8 888.9,454.8 889.4,454.7 889.9,454.7 890.4,454.6 890.9,454.6 891.4,454.5 891.9,454.4 892.3,454.2 892.8,454.1 893.3,453.9 893.7,453.7 894.2,453.4 894.6,453.2 895.0,452.9 895.4,452.6 895.9,452.3 896.3,452.0 896.7,451.7 897.0,451.4 897.4,451.1 897.8,450.8 898.2,450.5 898.6,450.2 899.0,449.9 899.4,449.6 899.8,449.3 900.2,449.0 900.6,448.7 901.1,448.5 901.5,448.2 902.0,448.0 902.4,447.9 902.9,447.7 903.4,447.6 903.9,447.6 903.1,447.7 902.2,447.9 901.4,448.3 900.7,448.7 900.1,449.3 899.5,450.0 899.1,450.7 898.8,451.5 898.6,452.3 898.6,453.2 898.7,454.0 898.9,454.8 899.2,455.6 899.7,456.3 900.2,456.9 900.9,457.4 901.6,457.8 902.4,458.1 903.2,458.3 904.0,458.4 904.8,458.3 905.6,458.1 906.3,457.7 907.0,457.3 907.6,456.7 908.1,456.1 908.5,455.4 908.8,454.7 909.0,453.9 909.0,453.1 909.0,452.3 908.8,451.5 908.4,450.8 908.0,450.1 907.5,449.6 906.9,449.1 906.2,448.7 905.5,448.4 904.7,448.2 903.9,448.2 903.1,448.3 902.4,448.5 901.7,448.8 901.0,449.2 900.5,449.7 900.0,450.3 899.6,451.0 899.3,451.7 899.2,452.4 899.1,453.2 899.2,453.9 899.4,454.6 899.7,455.3 900.1,455.9 900.6,456.5 901.2,457.0 901.8,457.3 902.5,457.6 903.2,457.8 904.0,457.8 904.4,447.7 904.9,447.7 905.4,447.8 905.9,447.9 906.4,448.0 906.9,448.0 907.4,448.1 907.9,448.0 908.4,447.9 908.9,447.9 909.4,447.8 909.9,447.7 910.3,447.6 910.8,447.5 911.3,447.4 911.8,447.3 912.3,447.1 912.8,447.0 913.2,446.8 913.7,446.6 914.2,446.4 914.6,446.2 915.0,446.0 915.5,445.7 915.9,445.5 916.3,445.2 916.7,444.9 917.1,444.6 917.5,444.3 917.9,444.0 918.3,443.7 918.7,443.4 919.1,443.1 919.5,442.8 919.9,442.4 920.3,442.1 920.7,441.8 921.1,441.5 921.4,441.2 921.8,440.9 922.2,440.6 922.6,440.3 923.0,440.0 923.5,439.7 923.9,439.4 924.3,439.1 924.7,438.9 925.1,438.6 925.6,438.4 926.0,438.1 925.2,438.7 924.5,439.4 923.9,440.2 923.4,441.1 923.1,442.1 922.9,443.1 922.9,444.1 923.1,445.1 923.4,446.0 923.8,446.9 924.4,447.7 925.1,448.4 925.9,448.9 926.7,449.4 927.6,449.7 928.6,449.8 929.5,449.8 930.5,449.7 931.4,449.4 932.2,449.0 933.0,448.4 933.6,447.7 934.2,447.0 934.6,446.2 934.9,445.3 935.0,444.4 935.0,443.5 934.9,442.6 934.6,441.7 934.2,440.9 933.7,440.2 933.1,439.5 932.3,439.0 931.5,438.6 930.7,438.3 929.8,438.2 929.0,438.2 928.1,438.3 927.3,438.6 926.5,439.0 925.8,439.5 925.2,440.1 924.7,440.8 924.3,441.6 924.1,442.4 923.9,443.2 923.9,444.0 924.1,444.8 924.3,445.6 924.7,446.4 925.2,447.0 925.8,447.6 926.4,448.1 927.1,448.4 927.9,448.7 928.7,448.8 929.5,448.8 930.3,448.7 931.0,448.4 931.7,448.1 932.3,447.6 932.9,447.1 933.3,446.4 933.7,445.8 933.9,445.0 934.0,444.3 934.0,443.5 933.9,442.8 933.7,442.1 933.3,441.4 932.9,440.8 932.4,440.3 931.8,439.9 931.1,439.6 930.4,439.3 929.7,439.2 929.0,439.2 928.3,439.3 927.6,439.6 927.0,439.9 926.5,440.3 926.0,440.8 925.6,441.4 925.3,442.0 925.1,442.6 925.0,443.3 925.0,444.0 925.1,444.6 925.3,445.3 925.6,445.9 926.0,446.4 926.5,446.8 927.0,447.2 927.6,447.5 928.2,447.7 928.8,447.8 929.4,447.8 930.1,447.7 930.7,447.5 931.2,447.2 931.7,446.8 932.1,446.4 932.5,445.9 932.7,445.3 932.9,444.8 933.0,444.2 933.0,443.6 932.9,443.0 932.7,442.4 932.4,441.9 932.1,441.5 931.7,441.1 931.2,440.7 930.7,440.5 930.2,440.3 929.6,440.2 929.1,440.3 928.5,440.3 928.0,440.5 927.5,440.8 927.1,441.1 926.7,441.5 926.4,441.9 926.2,442.4 926.0,442.9 926.0,443.4 926.0,443.9 926.1,444.4 926.2,444.9 926.5,445.3 926.8,445.7 927.1,446.1 927.5,446.4 928.0,446.6 928.4,446.7 928.9,446.8 929.4,446.8 929.8,446.7 930.3,446.5 930.7,446.3 926.4,437.9 926.9,437.6 927.3,437.4 927.7,437.1 M939.5,429.0 939.5,429.8 939.4,430.5 939.2,431.2 939.0,432.0 938.7,432.7 938.3,433.4 937.9,434.0 937.4,434.6 936.9,435.2 936.4,435.8 935.7,436.3 935.1,436.8 934.4,437.2 933.6,437.5 932.9,437.8 932.1,438.1 931.3,438.3 930.5,438.4 929.6,438.5 928.8,438.5 928.0,438.5 927.1,438.3 926.3,438.2 925.5,438.0 924.7,437.7 924.0,437.4 923.3,437.0 922.6,436.5 922.0,436.0 921.4,435.5 920.8,434.9 920.3,434.3 919.9,433.7 919.5,433.0 919.2,432.3 918.9,431.6 918.7,430.9 918.6,430.1 918.5,429.4 918.5,428.6 918.6,427.9 918.7,427.1 918.9,426.4 919.2,425.7 919.5,425.0 919.9,424.3 920.3,423.7 920.8,423.1 921.4,422.5 922.0,422.0 922.6,421.5 923.3,421.0 924.0,420.6 924.7,420.3 925.5,420.0 926.3,419.8 927.1,419.7 928.0,419.5 928.8,419.5 M886.2,326.3 885.5,326.5 884.6,326.8 883.5,327.1 882.3,327.4 881.1,327.8 879.9,328.2 878.9,328.6 878.0,329.0 877.3,329.3 876.7,329.6 876.2,329.9 875.8,330.2 875.4,330.5 875.1,331.0 874.7,331.7 874.4,332.6 874.1,333.8 873.7,335.2 873.4,336.9 873.0,338.6 872.8,340.4 872.6,342.2 872.6,343.8 872.6,345.3 872.7,346.6 872.9,347.7 873.2,348.7 873.5,349.7 873.9,350.8 874.5,351.8 875.3,353.0 876.2,354.4 877.4,356.0 878.7,357.8 880.3,359.8 882.0,361.8 883.7,363.8 885.5,365.7 887.3,367.4 888.9,368.9 890.4,370.2 891.9,371.2 893.3,372.2 894.8,373.0 896.3,373.8 897.9,374.6 899.7,375.3 901.6,376.2 903.7,377.1 906.0,378.0 908.3,379.0 910.8,379.9 913.4,380.8 916.0,381.7 918.8,382.6 921.6,383.4 924.6,384.2 927.7,385.2 931.1,386.1 934.4,386.9 937.8,387.7 941.0,388.3 944.1,388.8 947.0,388.9 949.6,388.7 952.0,388.3 954.3,387.6 956.5,386.8 958.6,385.9 960.7,385.0 962.9,384.2 965.1,383.4 967.4,382.7 969.8,382.1 972.2,381.5 974.6,380.9 976.9,380.3 979.2,379.6 981.3,378.9 983.2,378.0 984.9,377.0 986.3,376.0 987.7,374.9 988.9,373.7 990.1,372.5 991.3,371.3 992.6,370.1 994.1,368.9 995.8,367.7 997.6,366.5 999.5,365.3 1001.5,364.1 1003.4,362.9 1005.3,361.8 1007.0,360.8 1008.6,359.8 1010.0,359.0 1011.4,358.3 1012.7,357.7 1013.9,357.1 1015.0,356.6 1016.0,355.9 1016.9,355.2 1017.7,354.4 1018.3,353.4 1018.6,352.2 1018.7,350.9 1018.8,349.6 1018.9,348.3 1019.0,347.0 1019.4,345.9 1020.0,345.0 1020.9,344.3 1022.0,343.7 1023.3,343.3 1024.8,342.9 1026.2,342.6 1027.6,342.3 1028.9,341.9 1030.0,341.5 1030.9,341.0 1031.8,340.6 1032.5,340.1 1033.2,339.7 1033.9,339.2 1034.6,338.7 1035.4,338.3 1036.3,337.8 1037.3,337.3 1038.2,336.9 1039.2,336.5 1040.3,336.1 1041.4,335.6 1042.6,335.1 1043.8,334.6 1045.1,334.0 1046.5,333.4 1048.0,332.7 1049.6,332.1 1051.2,331.4 1052.9,330.6 1054.6,329.8 1056.2,328.8 1057.7,327.7 1059.2,326.4 1060.9,324.9 1062.5,323.3 1064.1,321.6 1065.6,319.9 1066.9,318.2 1068.1,316.6 1069.0,315.2 1069.7,313.9 1070.3,312.6 1070.7,311.4 1070.9,310.3 1071.0,309.2 1070.9,308.2 1070.7,307.2 1070.2,306.4 1069.4,305.7 1068.3,305.2 1066.9,304.9 1065.4,304.6 1063.9,304.3 1062.4,303.9 1061.2,303.3 1060.2,302.6 1059.6,301.6 1059.2,300.5 1059.0,299.2 1058.9,297.8 1058.8,296.4 1058.6,295.1 1058.3,293.8 1057.7,292.6 1056.9,291.5 1055.8,290.5 1054.5,289.5 1053.2,288.5 1051.9,287.6 1050.7,286.7 1049.7,285.8 1048.9,285.0 1048.4,284.3 1048.1,283.7 1047.9,283.2 1047.9,282.8 1047.9,282.3 1047.8,281.7 1047.8,280.9 1047.6,280.0 1047.4,278.8 1047.1,277.5 1046.8,276.1 1046.5,274.5 1046.2,272.9 1045.8,271.2 1045.4,269.6 1045.0,268.0 1044.4,266.4 1043.6,264.8 1042.8,263.2 1041.9,261.5 1041.1,259.9 1040.5,258.2 1040.1,256.6 1040.0,255.0 1040.2,253.4 1040.7,251.6 1041.3,249.9 1042.1,248.2 1043.1,246.6 1044.3,245.0 1045.6,243.7 1047.0,242.5 1048.6,241.5 1050.5,240.7 1052.6,240.0 1054.8,239.4 1057.0,239.0 1059.3,238.7 1061.6,238.5 1063.7,238.4 1065.8,238.5 1068.0,238.8 1070.2,239.3 1072.4,239.9 1074.5,240.6 1076.5,241.3 1078.3,241.9 1080.0,242.5 1081.5,243.0 1082.9,243.6 1084.1,244.3 1085.2,244.9 1086.2,245.4 1087.1,245.9 1087.8,246.4 1088.4,246.7 M1069.0,360.4 1069.6,360.1 1070.5,359.8 1071.5,359.4 1072.6,358.9 1073.7,358.4 1074.8,357.8 1075.8,357.2 1076.5,356.6 1077.1,356.0 1077.6,355.3 1078.0,354.6 1078.3,353.8 1078.6,353.0 1078.8,352.2 1078.9,351.3 1079.0,350.3 1079.1,349.2 1079.2,347.9 1079.2,346.6 1079.2,345.2 1079.1,343.9 1078.8,342.5 1078.4,341.3 1077.8,340.3 1076.9,339.4 1075.7,338.6 1074.2,337.8 1072.7,337.1 1071.1,336.5 1069.7,336.0 1068.5,335.6 1067.7,335.2 M1077.8,340.3 1078.8,340.1 1080.1,340.0 1081.7,339.8 1083.4,339.5 1085.2,339.2 1087.1,338.8 1088.8,338.4 1090.3,337.8 1091.7,337.1 1093.2,336.2 1094.6,335.3 1096.0,334.2 1097.3,333.2 1098.5,332.1 1099.5,331.1 1100.4,330.2 1101.1,329.4 1101.6,328.7 1102.0,328.0 1102.3,327.4 1102.5,326.7 1102.6,325.9 1102.8,325.0 1102.9,324.0 1103.0,322.8 1103.1,321.4 1103.2,319.9 1103.2,318.4 1103.2,316.8 1103.2,315.1 1103.1,313.5 1103.0,312.0 1102.8,310.4 1102.6,308.7 1102.3,307.0 1102.0,305.2 1101.7,303.6 1101.4,302.2 1101.2,300.9 1101.0,300.0 M1097.8,380.5 1098.2,380.2 1098.7,380.0 1099.1,379.7 1099.5,379.5 1099.9,379.2 1100.4,379.0 1100.8,378.7 1101.2,378.5 1101.7,378.2 1102.1,377.9 1102.5,377.6 1102.9,377.4 1103.3,377.1 1103.7,376.8 1104.1,376.5 1104.5,376.2 1104.9,375.9 1105.3,375.5 1105.6,375.2 1106.0,374.8 1106.3,374.4 1106.6,374.1 1107.0,373.7 1107.3,373.3 1107.6,372.9 1107.9,372.5 1108.1,372.1 1108.4,371.6 1108.7,371.2 1108.9,370.8 1109.2,370.4 1109.4,369.9 1109.7,369.5 1109.9,369.0 1110.1,368.6 1110.3,368.1 1110.5,367.7 1110.7,367.2 1110.8,366.7 1111.0,366.2 1111.1,365.8 1111.3,365.3 1111.4,364.8 1111.5,364.3 1111.6,363.8 1111.7,363.3 1111.8,362.8 1111.9,362.4 1112.0,361.9 1112.0,362.3 1112.0,362.7 1112.1,363.1 1112.2,363.5 1112.4,363.8 1112.6,364.1 1112.9,364.4 1113.3,364.6 1113.7,364.8 1114.0,364.9 1114.5,365.0 1114.9,365.0 1115.3,364.9 1115.6,364.7 1116.0,364.5 1116.3,364.3 1116.6,364.0 1116.8,363.6 1117.0,363.3 1117.1,362.9 1117.2,362.5 1117.1,362.1 1117.1,361.7 1116.9,361.3 1116.7,360.9 1116.5,360.6 1116.2,360.3 1115.8,360.1 1115.5,359.9 1115.1,359.8 1114.7,359.8 1114.2,359.8 1113.8,359.9 1113.5,360.0 1113.1,360.2 1112.8,360.5 1112.5,360.8 1112.3,361.1 1112.1,361.5 1112.0,361.9 1112.1,361.4 1112.2,360.9 1112.3,360.4 1112.4,359.9 1112.5,359.4 1112.6,358.9 1112.7,358.4 1112.9,358.0 1113.0,357.5 1113.1,357.0 1113.3,356.5 1113.4,356.0 1113.5,355.5 1113.7,355.1 1113.8,354.6 1114.0,354.1 1114.1,353.6 1114.3,353.2 1114.5,352.7 1114.6,352.2 1114.8,351.8 1115.0,351.3 1115.2,350.8 1115.4,350.4 1115.6,349.9 1115.8,349.4 1115.9,349.0 1116.1,348.5 1116.3,348.1 1116.5,347.6 1116.7,347.1 1116.9,346.7 1117.1,346.2 1117.3,345.8 1117.5,345.3 1117.7,344.8 1117.9,344.4 1118.1,343.9 1117.9,344.3 1117.9,344.8 1117.8,345.2 1117.9,345.6 1118.0,346.1 1118.2,346.4 1118.5,346.8 1118.8,347.1 1119.1,347.4 1119.5,347.6 1119.9,347.7 1120.4,347.8 1120.8,347.8 1121.3,347.8 1121.7,347.6 1122.1,347.4 1122.4,347.2 1122.7,346.9 1123.0,346.5 1123.2,346.1 1123.4,345.7 1123.4,345.3 1123.4,344.8 1123.4,344.4 1123.2,344.0 1123.1,343.6 1122.8,343.2 1122.5,342.9 1122.1,342.7 1121.8,342.5 1121.3,342.3 1120.9,342.2 1120.5,342.2 1120.0,342.3 1119.6,342.4 1119.2,342.6 1118.9,342.9 1118.5,343.2 1118.3,343.5 1118.1,343.9 1118.3,343.5 1118.5,343.0 1118.7,342.5 1118.9,342.1 1119.1,341.6 1119.3,341.2 1119.5,340.7 1119.7,340.3 1119.9,339.8 1120.1,339.4 1120.4,338.9 1120.6,338.5 1120.8,338.0 1121.1,337.6 1121.3,337.2 1121.6,336.7 1121.8,336.3 1122.1,335.9 1122.4,335.5 1122.7,335.1 1123.1,334.7 1123.4,334.4 1123.8,334.1 1124.2,333.8 1124.7,333.6 1125.1,333.3 1125.6,333.2 1126.1,333.0 1126.5,332.8 1127.0,332.6 1127.5,332.4 1127.9,332.3 1128.4,332.2 1128.9,332.1 1129.4,332.0 1129.9,331.9 1129.4,331.9 1129.0,331.9 1128.5,331.8 1128.1,331.6 1127.7,331.3 1127.3,331.0 1127.0,330.7 1126.8,330.3 1126.6,329.8 1126.5,329.4 1126.5,328.9 1126.5,328.4 1126.7,328.0 1126.8,327.5 1127.1,327.1 1127.4,326.8 1127.8,326.5 1128.2,326.2 1128.6,326.1 1129.1,326.0 1129.6,325.9 1130.0,326.0 1130.5,326.1 1130.9,326.3 1131.3,326.6 1131.7,326.9 1132.0,327.2 1132.2,327.6 1132.4,328.1 1132.5,328.5 1132.5,329.0 1132.4,329.5 1132.3,329.9 1132.1,330.4 1131.9,330.8 1131.6,331.1 1131.2,331.4 1130.8,331.6 1130.4,331.8 1129.9,331.9 1130.4,331.9 1130.9,331.8 1131.4,331.7 1131.9,331.7 1132.4,331.6 1132.9,331.5 1133.4,331.4 1133.9,331.4 1134.3,331.3 1134.8,331.2 1135.3,331.1 1135.8,331.1 1136.3,331.0 1136.8,330.9 1137.3,330.9 1137.8,330.8 1138.3,330.7 1138.8,330.6 1139.3,330.5 1139.8,330.4 1140.3,330.3 1140.7,330.1 1141.2,330.0 1141.7,329.8 1142.1,329.6 1141.7,329.8 1141.2,329.8 1140.8,329.8 1140.3,329.8 1139.8,329.6 1139.4,329.4 1139.0,329.2 1138.7,328.8 1138.4,328.4 1138.2,328.0 1138.1,327.6 1138.0,327.1 1138.0,326.6 1138.0,326.2 1138.2,325.7 1138.4,325.3 1138.7,324.9 1139.0,324.6 1139.4,324.3 1139.8,324.1 1140.2,323.9 1140.7,323.9 1141.2,323.9 1141.6,323.9 1142.1,324.1 1142.5,324.3 1142.9,324.5 1143.2,324.9 1143.5,325.2 1143.7,325.7 1143.9,326.1 1143.9,326.6 1144.0,327.0 1143.9,327.5 1143.7,328.0 1143.5,328.4 1143.3,328.8 1142.9,329.1 1142.6,329.4 1142.1,329.6 1142.6,329.4 1143.0,329.2 1143.5,328.9 1143.9,328.7 1144.4,328.5 1144.8,328.2 1145.2,327.9 1145.6,327.7 1146.1,327.4 1146.5,327.1 1146.9,326.8 1147.3,326.5 1147.7,326.2 1148.1,325.9 1148.5,325.6 1148.9,325.3 1149.3,325.0 1149.7,324.7 1150.1,324.4 1150.5,324.1 1150.9,323.8 1151.3,323.5 1151.7,323.2 1152.0,322.9 1152.4,322.6 1152.8,322.3 1153.2,321.9 1153.6,321.6 1154.0,321.3 1153.6,321.6 1153.2,321.8 1152.7,321.9 1152.3,321.9 1151.8,321.9 1151.3,321.8 1150.9,321.6 1150.5,321.4 1150.1,321.1 1149.8,320.7 1149.6,320.3 1149.4,319.9 1149.3,319.5 1149.2,319.0 1149.2,318.5 1149.3,318.1 1149.5,317.6 1149.7,317.2 1150.0,316.9 1150.4,316.5 1150.8,316.3 1151.2,316.1 1151.7,316.0 1152.2,315.9 1152.6,316.0 1153.1,316.1 1153.5,316.2 1153.9,316.5 1154.3,316.8 1154.6,317.1 1154.9,317.5 1155.0,318.0 1155.2,318.4 1155.2,318.9 1155.2,319.4 1155.1,319.8 1154.9,320.3 1154.7,320.7 1154.4,321.0 1154.0,321.3 1154.4,321.0 1154.8,320.7 1155.2,320.5 1155.6,320.2 1156.1,319.9 1156.5,319.6 1156.9,319.4 1157.3,319.1 1157.8,318.8 1158.2,318.6 1158.6,318.3 1159.0,318.1 1159.5,317.8 1159.9,317.6 1160.3,317.3 1160.8,317.1 1161.2,316.8 1161.6,316.6 1162.1,316.3 1162.5,316.0 1162.9,315.8 1163.3,315.5 1163.7,315.2 1164.1,314.9 1164.5,314.6 1165.0,314.3 1165.4,314.1 1165.8,313.8 1165.4,314.0 1164.9,314.2 1164.5,314.2 1164.0,314.2 1163.5,314.2 1163.1,314.0 1162.7,313.8 1162.3,313.5 1162.0,313.2 1161.7,312.8 1161.5,312.4 1161.3,311.9 1161.2,311.5 1161.2,311.0 1161.3,310.5 1161.5,310.1 1161.7,309.7 1162.0,309.3 1162.3,309.0 1162.7,308.7 1163.1,308.5 1163.5,308.3 1164.0,308.3 1164.5,308.3 1164.9,308.3 1165.4,308.5 1165.8,308.7 1166.2,309.0 1166.5,309.3 1166.8,309.7 1167.0,310.1 1167.2,310.5 1167.2,311.0 1167.2,311.5 1167.2,311.9 1167.0,312.4 1166.8,312.8 1166.5,313.2 1166.2,313.5 1165.8,313.8 1166.2,313.5 1166.7,313.3 1167.1,313.1 1167.6,312.9 1168.0,312.7 1168.5,312.5 1169.0,312.3 1169.4,312.2 1169.9,312.0 1170.4,311.9 1170.9,311.7 1171.4,311.6 1171.8,311.5 1172.3,311.4 1172.8,311.3 1173.3,311.3 1173.8,311.2 1174.3,311.2 1174.8,311.2 1175.3,311.3 1175.8,311.4 1176.2,311.7 1176.6,312.0 1176.9,312.4 1177.2,312.8 1177.5,313.2 1177.3,312.8 1177.1,312.3 1177.1,311.9 1177.1,311.4 1177.1,310.9 1177.3,310.5 1177.5,310.1 1177.8,309.7 1178.1,309.4 1178.5,309.1 1178.9,308.9 1179.4,308.7 1179.8,308.7 1180.3,308.7 1180.8,308.8 1181.2,308.9 1181.6,309.1 1182.0,309.4 1182.3,309.7 1182.6,310.1 1182.8,310.6 1183.0,311.0 1183.0,311.5 1183.0,311.9 1183.0,312.4 1182.8,312.8 1182.6,313.3 1182.3,313.6 1182.0,314.0 1181.6,314.2 1181.2,314.5 1180.7,314.6 1180.3,314.7 1179.8,314.7 1179.3,314.6 1178.9,314.4 1178.5,314.2 1178.1,313.9 1177.7,313.6 1177.5,313.2 1177.7,313.7 1178.0,314.1 1178.2,314.5 1178.5,314.9 1178.9,315.3 1179.3,315.6 1179.7,315.9 1180.1,316.1 1180.6,316.3 1181.0,316.5 1181.5,316.7 1182.0,316.8 1182.5,317.0 1182.9,317.1 1183.4,317.2 1183.9,317.4 1184.4,317.5 1184.9,317.6 1185.4,317.7 1185.9,317.8 1186.3,317.9 1186.8,318.0 1187.3,318.1 1187.8,318.2 1188.3,318.3 1188.8,318.4 1189.3,318.4 1189.8,318.5 1190.3,318.6 1190.8,318.6 1191.3,318.7 1191.8,318.7 1192.3,318.8 1192.8,318.8 1193.3,318.9 1193.8,318.9 1194.3,318.9 1194.8,318.9 1195.3,318.9 1195.8,318.9 1196.3,318.9 1196.8,318.8 1197.3,318.8 1197.8,318.7 1198.3,318.7 1198.8,318.6 1199.2,318.5 1199.7,318.4 1200.2,318.3 1200.7,318.2 1201.2,318.1 1201.7,318.0 1202.2,317.8 1202.6,317.7 1203.1,317.5 1203.6,317.4 1204.1,317.2 1204.5,317.0 1205.0,316.9 1205.5,316.7 1205.9,316.5 1206.4,316.3 1206.8,316.0 1207.3,315.8 1207.7,315.6 1208.1,315.3 1208.5,315.0 1208.9,314.7 1209.3,314.4 1209.7,314.1 1210.0,313.7 1210.4,313.3 1210.7,312.9 1210.9,312.5 1211.2,312.1 1211.5,311.7 1211.7,311.2 1211.9,310.8 1212.1,310.3 1212.4,309.9 1212.6,309.4 1212.8,308.9 1213.0,308.5 1213.2,308.0 1213.4,307.6 1213.6,307.1 1213.8,306.7 1214.0,306.2 1214.2,305.7 1214.3,305.3 1214.5,304.8 1214.6,304.3 1214.8,303.8 1214.9,303.3 1215.0,302.9 1215.1,302.4 1215.3,301.9 1215.4,301.4 1215.6,300.9 1215.7,300.5 1215.9,300.0 1216.2,299.6 1216.4,299.1 1216.7,298.7 1217.0,298.3 1217.3,297.9 1216.9,298.5 1216.6,299.1 1216.4,299.8 1216.3,300.5 1216.4,301.2 1216.5,301.9 1216.8,302.6 1217.2,303.2 1217.6,303.7 1218.1,304.2 1218.7,304.6 1219.4,304.9 1220.1,305.0 1220.8,305.1 1221.5,305.1 1222.2,304.9 1222.8,304.7 1223.4,304.3 1224.0,303.9 1224.4,303.3 1224.8,302.7 1225.1,302.1 1225.3,301.4 1225.3,300.7 1225.3,300.0 1225.2,299.3 1224.9,298.7 1224.5,298.0 1224.1,297.5 1223.6,297.0 1223.0,296.6 1222.3,296.4 1221.6,296.2 1220.9,296.1 1220.2,296.2 1219.5,296.3 1218.9,296.6 1218.3,296.9 1217.7,297.4 1217.3,297.9 1217.6,297.5 1217.9,297.1 1218.1,296.7 1218.4,296.3 1218.7,295.8 1218.9,295.4 1219.2,295.0 1219.4,294.5 1219.7,294.1 1219.9,293.7 1220.2,293.2 1220.4,292.8 1220.7,292.4 1220.9,291.9 1221.2,291.5 1221.4,291.1 1221.6,290.6 1221.9,290.2 M1117.0,226.0 1117.2,227.5 1117.4,229.5 1117.6,231.8 1117.9,234.4 1118.2,237.2 1118.5,239.9 1118.7,242.6 1119.0,245.0 1119.3,247.2 1119.6,249.4 1119.9,251.5 1120.2,253.6 1120.5,255.6 1120.7,257.7 1120.9,259.8 1121.0,262.0 1121.0,264.2 1120.9,266.5 1120.8,268.8 1120.6,271.1 1120.4,273.4 1120.2,275.6 1120.0,277.8 1120.0,280.0 1120.0,282.2 1120.1,284.5 1120.3,286.8 1120.4,289.1 1120.6,291.3 1120.8,293.2 1120.9,294.8 1121.0,296.0 M1043.0,255.0 1043.1,256.5 1043.2,258.6 1043.3,261.0 1043.4,263.7 1043.6,266.5 1043.9,269.5 1044.4,272.3 1045.0,275.0 1045.8,277.7 1046.8,280.6 1047.9,283.5 1049.1,286.5 1050.4,289.3 1051.8,291.9 1053.4,294.2 1055.0,296.0 1056.8,297.4 1058.9,298.5 1061.1,299.3 1063.4,299.8 1065.7,300.1 1067.9,300.2 1070.1,300.2 1072.0,300.0 1073.8,299.6 1075.5,299.1 1077.1,298.3 1078.7,297.3 1080.2,296.2 1081.5,294.9 1082.8,293.5 1084.0,292.0 1085.1,290.3 1086.0,288.4 1086.9,286.3 1087.6,284.1 1088.3,281.8 1088.9,279.5 1089.5,277.2 1090.0,275.0 1090.5,272.8 1091.0,270.6 1091.4,268.4 1091.8,266.2 1092.1,264.0 1092.2,261.9 1092.2,259.9 1092.0,258.0 1091.6,256.2 1091.0,254.4 1090.2,252.7 1089.2,251.1 1088.2,249.5 1087.2,248.2 1086.1,247.0 1085.0,246.0 1083.8,245.3 1082.5,244.8 1081.0,244.4 1079.6,244.2 1078.1,244.2 1076.9,244.1 1075.8,244.1 1075.0,244.0" fill="none" stroke="#e4df60" stroke-width="1.3" stroke-linejoin="round"/><path d="M1070.0,320.0 1069.7,320.4 1069.4,320.8 1069.2,321.2 1068.9,321.7 1068.6,322.1 1068.3,322.5 1068.0,322.9 1067.8,323.3 1067.5,323.7 1067.2,324.1 1066.9,324.6 1066.7,325.0 1066.4,325.4 1066.1,325.8 1065.8,326.2 1065.5,326.6 1065.2,327.0 1065.0,327.5 1064.7,327.9 1064.4,328.3 1064.1,328.7 1063.8,329.1 1063.5,329.5 1063.2,329.9 1062.9,330.3 1062.6,330.7 1062.3,331.1 1062.0,331.5 1061.7,331.9 1061.4,332.3 1061.1,332.7 1060.8,333.1 1060.5,333.5 1060.1,333.8 1059.8,334.2 1059.5,334.6 1059.1,334.9 1058.8,335.3 1058.4,335.6 1058.1,336.0 1057.7,336.3 1057.3,336.7 1057.0,337.0 1056.6,337.4 1056.2,337.7 1055.8,338.0 1055.4,338.3 1055.1,338.6 1054.7,338.9 1054.3,339.2 1053.9,339.5 1053.5,339.8 1053.0,340.1 1052.6,340.4 1052.2,340.7 1051.8,340.9 1051.4,341.2 1050.9,341.5 1050.5,341.7 1050.1,342.0 1049.6,342.2 1049.2,342.4 1048.7,342.6 1048.3,342.8 1047.8,343.0 1047.4,343.2 1046.9,343.4 1046.4,343.6 1045.9,343.8 1045.5,343.9 1045.0,344.0 1044.5,344.2 1044.0,344.3 1043.5,344.4 1043.1,344.5 1042.6,344.6 1042.1,344.7 1041.6,344.8 1041.1,344.9 1040.6,344.9 1040.1,345.0 1039.6,345.0 1039.1,345.0 1038.6,344.9 1038.1,344.8 1037.6,344.6 1037.2,344.5 1036.7,344.2 1036.3,344.0 1035.8,343.8 1035.4,343.5 1034.9,343.3 1034.5,343.2 1034.0,343.0 1033.5,342.8 1033.1,342.7 1032.6,342.5 1032.1,342.3 1031.6,342.2 1031.2,342.0 1030.7,341.8 1030.2,341.6 1029.8,341.5 1029.3,341.3 1028.8,341.2 1028.3,341.1 1027.8,341.0 1027.3,340.9 1026.8,340.9 1026.3,341.0 1025.8,341.0 1025.4,341.2 1024.9,341.4 1024.4,341.6 1024.0,341.8 1023.6,342.0 1023.1,342.3 1022.7,342.6 1022.3,342.9 1022.0,343.2 1021.6,343.6 1021.3,343.9 1020.9,344.3 1020.6,344.7 1020.4,345.2 1020.2,345.6 1020.5,344.6 1020.6,343.6 1020.6,342.6 1020.5,341.6 1020.2,340.6 1019.7,339.7 1019.1,338.9 1018.4,338.2 1017.5,337.6 1016.6,337.1 1015.7,336.8 1014.7,336.6 1013.6,336.6 1012.6,336.8 1011.7,337.1 1010.8,337.6 1009.9,338.2 1009.2,338.9 1008.6,339.7 1008.1,340.6 1007.8,341.6 1007.7,342.6 1007.7,343.6 1007.8,344.6 1008.2,345.6 1008.6,346.5 1009.2,347.3 1009.9,348.1 1010.8,348.7 1011.7,349.1 1012.6,349.4 1013.6,349.6 1014.7,349.6 1015.7,349.4 1016.6,349.1 1017.6,348.7 1018.4,348.1 1019.1,347.3 1019.7,346.5 1020.2,345.6 1020.5,344.6 1020.6,343.6 1020.6,342.6 1020.5,341.6 1020.2,340.6 1019.7,339.7 1019.1,338.9 1018.4,338.2 1020.0,346.1 1019.9,346.6 1019.8,347.1 1019.8,347.6 1019.8,348.1 1019.9,348.6 1019.9,349.0 1020.0,349.5 1020.1,350.0 1020.2,350.5 1020.4,351.0 1020.6,351.5 1020.7,351.9 1020.9,352.4 1021.2,352.8 1021.4,353.2 1021.7,353.7 1022.0,354.0 1022.4,354.4 1022.8,354.7 1023.2,354.9 1023.7,355.2 1024.1,355.4 1024.6,355.6 1025.1,355.7 1025.5,355.9 1026.0,356.0 1026.5,356.2 1027.0,356.3 1027.5,356.4 1028.0,356.5 1028.5,356.6 1028.9,356.7 1029.4,356.9 1029.9,357.0 1030.4,357.1 1030.9,357.1 1031.4,357.2 1031.9,357.1 1032.4,357.1 1032.9,357.0 1033.4,357.0 1033.9,356.9 1034.4,356.9 1034.9,357.0 1035.3,357.2 1035.7,357.5 1036.0,357.9 1036.2,358.3 1036.4,358.8 1036.5,359.3 1036.5,359.8 1036.6,360.3 1036.6,360.8 1036.7,361.3 1036.7,361.8 1036.7,362.3 1036.7,362.8 1036.7,363.3 1036.6,363.8 1036.6,364.3 1036.6,364.8 1036.5,365.3 1036.5,365.8 1036.5,366.3 1036.4,366.8 1036.4,367.3 1036.3,367.8 1036.2,368.3 1036.2,368.8 1036.0,369.2 1035.9,369.7 1036.1,369.4 1036.2,369.0 1036.5,368.7 1036.8,368.4 1037.1,368.2 1037.4,368.0 1037.8,367.9 1038.2,367.9 1038.6,367.9 1039.0,368.0 1039.4,368.1 1039.7,368.3 1040.0,368.5 1040.3,368.8 1040.5,369.1 1040.7,369.5 1040.8,369.8 1040.8,370.2 1040.8,370.6 1040.8,371.0 1040.6,371.4 1040.4,371.7 1040.2,372.0 1039.9,372.3 1039.6,372.5 1039.2,372.7 1038.9,372.8 1038.5,372.9 1038.1,372.9 1037.7,372.8 1037.3,372.7 1037.0,372.5 1036.7,372.2 1036.4,371.9 1036.2,371.6 1036.0,371.3 1035.9,370.9 1035.8,370.5 1035.9,370.1 1035.9,369.7 1035.8,370.2 1035.6,370.7 1035.5,371.2 1035.3,371.6 1035.2,372.1 1035.0,372.6 1034.8,373.1 1034.7,373.5 1034.5,374.0 1034.4,374.5 1034.2,374.9 1034.1,375.4 1033.9,375.9 1033.8,376.4 1033.8,376.9 1033.7,377.4 1033.8,377.9 1034.0,378.3 1034.4,378.7 1034.8,378.9 1035.3,379.0 1035.8,379.0 1036.3,379.0 1036.8,379.0 1036.4,379.0 1036.0,379.1 1035.7,379.3 1035.3,379.5 1035.1,379.8 1034.8,380.1 1034.6,380.4 1034.5,380.8 1034.4,381.2 1034.4,381.6 1034.4,381.9 1034.5,382.3 1034.7,382.7 1034.9,383.0 1035.2,383.3 1035.5,383.5 1035.8,383.7 1036.2,383.9 1036.6,384.0 1036.9,384.0 1037.3,383.9 1037.7,383.8 1038.1,383.7 1038.4,383.5 1038.7,383.2 1038.9,382.9 1039.1,382.5 1039.3,382.2 1039.4,381.8 1039.4,381.4 1039.3,381.0 1039.2,380.6 1039.1,380.3 1038.8,379.9 1038.6,379.7 1038.3,379.4 1037.9,379.2 1037.6,379.1 1037.2,379.0 1036.8,379.0 1037.3,379.0 1037.8,378.9 1038.3,378.9 1038.8,378.9 1039.3,379.0 1039.8,379.1 1040.2,379.3 1040.7,379.5 1041.1,379.7 1041.6,379.9 1042.0,380.2 1042.5,380.4 1042.9,380.7 1043.3,381.0 1043.7,381.4 1044.0,381.7 1044.3,382.1 1044.6,382.5 1044.9,382.9 1045.2,383.3 1045.4,383.7 1045.7,384.2 1045.9,384.6 1046.2,385.1 1046.4,385.5 1046.6,386.0 1046.8,386.4 1047.0,386.9 1047.2,387.3 1047.4,387.8 1047.6,388.3 1047.8,388.7 1047.9,389.2 1048.1,389.7 1048.2,390.1 1048.4,390.6 1048.5,391.1 1048.6,391.6 1048.5,391.2 1048.3,390.9 1048.1,390.5 1047.8,390.3 1047.5,390.0 1047.2,389.9 1046.8,389.7 1046.4,389.7 1046.0,389.7 1045.6,389.7 1045.3,389.8 1044.9,390.0 1044.6,390.2 1044.3,390.5 1044.1,390.8 1043.9,391.2 1043.8,391.6 1043.7,391.9 1043.7,392.3 1043.8,392.7 1043.9,393.1 1044.1,393.4 1044.3,393.8 1044.6,394.0 1044.9,394.3 1045.2,394.5 1045.6,394.6 1046.0,394.6 1046.4,394.6 1046.8,394.6 1047.1,394.5 1047.5,394.3 1047.8,394.1 1048.1,393.8 1048.3,393.5 1048.5,393.1 1048.6,392.8 1048.7,392.4 1048.7,392.0 1048.6,391.6 1048.8,392.1 1048.8,392.6 1048.9,393.1 1048.9,393.6 1048.9,394.1 1048.8,394.6 1048.7,395.0 1048.5,395.5 1048.4,396.0 1048.1,396.4 1047.9,396.9 1047.7,397.3 1047.5,397.8 1047.2,398.2 1047.0,398.7 1046.9,399.1 1046.7,399.6 1046.6,400.1 1046.5,400.6 1046.3,401.1 1046.2,401.6 1046.1,402.0 1045.9,402.5 1045.8,403.0 1045.7,403.5 1045.6,404.0 1045.5,404.5 1045.4,405.0 1045.3,405.4 1045.2,405.9 1045.3,405.6 1045.4,405.3 1045.6,405.0 1045.8,404.7 1046.1,404.5 1046.4,404.3 1046.7,404.2 1047.0,404.1 1047.4,404.1 1047.7,404.1 1048.0,404.2 1048.4,404.4 1048.7,404.5 1048.9,404.8 1049.1,405.0 1049.3,405.3 1049.4,405.6 1049.5,406.0 1049.5,406.3 1049.5,406.7 1049.4,407.0 1049.3,407.3 1049.1,407.6 1048.9,407.9 1048.6,408.1 1048.3,408.3 1048.0,408.4 1047.7,408.5 1047.3,408.5 1047.0,408.5 1046.6,408.4 1046.3,408.3 1046.0,408.1 1045.8,407.8 1045.5,407.6 1045.4,407.3 1045.2,407.0 1045.2,406.6 1045.1,406.3 1045.2,405.9 1045.1,406.4 1045.0,406.9 1045.0,407.4 1044.9,407.9 1044.9,408.4 1044.9,408.9 1044.9,409.4 1045.0,409.9 1045.1,410.4 1045.2,410.9 1045.4,411.4 1045.5,411.8 1045.7,412.3 1045.8,412.8 1046.0,413.3 1046.2,413.7 1046.3,414.2 1046.4,414.7 1046.6,415.2 1046.7,415.7 1046.7,416.2 1046.8,416.7 1046.8,417.2 1046.7,417.7 1046.6,418.1 1046.5,418.6 1046.3,419.1 1046.1,419.6 1045.9,420.0 1045.7,420.5 1045.5,420.9 1045.2,421.3 1044.9,421.7 1044.7,422.2 1044.4,422.6 1044.1,423.0 1043.8,423.4 1043.5,423.8 1043.3,424.2 1043.0,424.6 1042.7,425.0 1042.4,425.4 1042.1,425.9 1041.8,426.3 1041.5,426.7 M1042.7,427.0 1042.4,427.6 1041.9,428.2 1041.4,428.8 1040.9,429.2 1040.2,429.6 1039.6,430.0 1038.9,430.2 1038.3,430.4 1037.7,430.4 1037.1,430.4 1036.7,430.4 1036.3,430.3 1036.0,430.2 1035.7,430.1 1035.6,430.1 1035.6,430.1 1035.6,430.2 1035.6,430.3 1035.7,430.6 1035.7,430.9 1035.8,431.4 1035.7,431.9 1035.7,432.5 1035.5,433.1 1035.3,433.7 1035.0,434.4 1034.6,435.0 1034.2,435.6 1033.6,436.1 1033.1,436.6 1032.5,437.0 1032.0,437.3 1031.4,437.6 1031.0,437.7 1030.6,437.9 1030.2,437.9 1030.0,437.9 1029.9,438.0 1029.9,438.0 1029.9,438.1 1030.1,438.2 1030.3,438.4 1030.5,438.7 1030.8,439.1 1031.0,439.5 1031.3,440.1 1031.5,440.7 1031.6,441.4 1031.7,442.1 1031.7,442.8 1031.5,443.6 1031.3,444.3 1031.1,445.0 1030.7,445.6 1030.3,446.1 1029.9,446.6 1029.4,447.0 1029.0,447.2 1028.6,447.4 1028.2,447.6 1027.9,447.6 1027.7,447.7 1027.5,447.7 1027.4,447.7 1027.4,447.7 1027.5,447.8 1027.6,448.0 1027.7,448.2 1027.8,448.5 1027.9,448.9 1028.0,449.4 1028.0,449.9 1027.9,450.5 1027.8,451.1 1027.6,451.8 1027.3,452.4 1026.9,453.0 1026.4,453.6 1025.8,454.1 1025.2,454.5 1024.6,454.9 1023.9,455.1 1023.3,455.3 1022.7,455.3 1022.2,455.4 1021.7,455.3 1021.3,455.2 1021.0,455.1 1020.8,455.1 1020.6,455.0 1020.6,455.0 1020.6,455.1 1020.6,455.2 1020.6,455.5 1020.7,455.8 1020.7,456.2 1020.7,456.7 1020.6,457.3 1020.4,457.8 1020.2,458.5 1019.8,459.1 1019.4,459.6 1018.8,460.2 1018.3,460.6 1017.6,461.0 1017.0,461.4 1016.3,461.6 1015.6,461.7 1015.0,461.8 1014.5,461.7 1014.0,461.7 1013.6,461.6 1013.2,461.5 1013.0,461.4 1012.9,461.3 1012.8,461.3 1012.8,461.3 1012.8,461.5 1012.8,461.7 1012.8,462.0 1012.8,462.4 1012.8,462.9 1012.7,463.4 1012.5,464.0 1012.3,464.6 1011.9,465.2 1011.5,465.8 1011.0,466.4 1010.4,466.9 1009.8,467.3 1009.2,467.6 1008.6,467.9 1007.9,468.1 1007.4,468.2 1006.8,468.2 1006.4,468.2 1006.0,468.1 1005.8,468.0 1005.6,468.0 1005.5,468.0 1005.4,468.0 1005.5,468.1 1005.5,468.3 1005.6,468.6 1005.7,468.9 1005.7,469.4 1005.7,469.9 1005.6,470.5 1005.5,471.1 1005.2,471.7 1004.9,472.3 1004.5,473.0 1004.0,473.5 1003.5,474.0 1002.9,474.5 1002.2,474.8 1001.6,475.1 1001.0,475.2 1000.4,475.3 999.8,475.3 999.4,475.3 999.0,475.2 998.7,475.1 998.4,475.0 998.3,475.0 998.2,475.0 998.2,475.0 998.2,475.2 998.3,475.4 998.3,475.7 998.3,476.1 998.3,476.6 998.2,477.1 998.0,477.7 997.7,478.2 997.3,478.8 996.9,479.4 996.4,479.9 995.8,480.4 995.1,480.8 994.5,481.1 993.8,481.3 993.2,481.5 992.6,481.5 992.0,481.5 991.5,481.5 991.1,481.4 990.8,481.3 990.6,481.2 990.5,481.2 990.4,481.2 990.4,481.2 990.4,481.4 990.5,481.6 990.5,481.9 990.5,482.3 990.5,482.8 990.4,483.4 990.2,484.0 990.0,484.6 989.6,485.2 989.2,485.8 988.8,486.4 988.3,487.0 987.7,487.4 987.1,487.8 986.6,488.1 986.0,488.4 985.5,488.5 985.1,488.6 984.8,488.7 984.5,488.7 984.4,488.7 984.3,488.8 984.4,488.8 984.5,489.0 984.6,489.2 984.8,489.4 985.1,489.8 985.3,490.2 985.5,490.8 985.6,491.4 985.7,492.0 985.7,492.7 985.6,493.5 985.4,494.2 985.2,494.9 984.8,495.5 984.4,496.1 983.9,496.7 983.4,497.1 982.9,497.4 982.4,497.7 981.9,497.8 981.5,497.9 981.1,498.0 980.8,498.0 980.6,498.0 980.5,498.0 980.5,498.1 980.6,498.2 980.7,498.3 980.8,498.6 981.0,498.9 981.1,499.3 981.2,499.8 981.3,500.4 981.3,501.0 981.2,501.6 981.0,502.3 980.8,503.0 980.4,503.7 980.0,504.3 979.5,504.9 979.0,505.3 978.4,505.7 977.8,506.0 977.2,506.2 976.7,506.4 976.2,506.4 975.7,506.4 975.3,506.3 975.0,506.2 974.8,506.1 974.7,506.1 974.6,506.1 974.6,506.1 974.6,506.2 974.6,506.4 974.6,506.7 974.5,507.0 974.5,507.5 M1070.2,292.6 1070.2,294.1 1070.1,296.1 1070.0,298.5 1070.0,301.2 1069.9,304.0 1069.9,306.7 1070.0,309.2 1070.2,311.4 1070.4,313.3 1070.7,315.1 1071.0,316.9 1071.4,318.5 1071.9,320.0 1072.4,321.4 1073.1,322.8 1074.0,324.0 1075.0,325.1 1076.3,326.2 1077.6,327.1 1079.1,328.0 1080.6,328.7 1082.2,329.3 1083.8,329.8 1085.3,330.2 1086.8,330.4 1088.4,330.5 1090.0,330.5 1091.6,330.3 1093.2,330.1 1094.8,329.7 1096.3,329.4 1097.8,329.0 1099.2,328.6 1100.5,328.1 1101.8,327.6 1103.1,327.0 1104.3,326.3 1105.5,325.6 1106.7,324.8 1107.9,324.0 1109.1,323.1 1110.3,322.0 1111.5,320.9 1112.7,319.8 1113.8,318.6 1114.9,317.4 1115.8,316.3 1116.7,315.2 1117.4,314.2 1118.0,313.2 1118.5,312.1 1119.0,311.2 1119.4,310.2 1119.8,309.3 1120.1,308.4 1120.5,307.6 1120.9,306.9 1121.2,306.3 1121.5,305.9 1121.8,305.4 1122.1,304.9 1122.4,304.3 1122.7,303.6 1123.0,302.6 1123.4,301.3 1123.8,299.7 1124.2,297.9 1124.7,296.0 1125.1,294.1 1125.4,292.4 1125.8,291.0 1126.0,290.0 M1060.2,303.9 1060.6,304.2 1061.0,304.5 1061.4,304.8 1061.8,305.1 1062.2,305.4 1062.6,305.7 1063.0,306.0 1063.4,306.3 1063.8,306.6 1064.2,306.9 1064.6,307.1 1065.1,307.4 1065.5,307.7 1065.9,307.9 1066.3,308.2 1066.8,308.4 1067.2,308.6 1067.7,308.9 1068.1,309.1 1067.8,308.9 1067.5,308.7 1067.3,308.4 1067.0,308.1 1066.9,307.7 1066.8,307.4 1066.7,307.0 1066.7,306.6 1066.8,306.3 1066.9,305.9 1067.1,305.6 1067.4,305.3 1067.6,305.0 1068.0,304.8 1068.3,304.6 1068.7,304.5 1069.0,304.5 1069.4,304.5 1069.8,304.6 1070.1,304.7 1070.5,304.9 1070.8,305.1 1071.0,305.4 1071.2,305.7 1071.4,306.1 1071.5,306.4 1071.5,306.8 1071.5,307.2 1071.4,307.5 1071.3,307.9 1071.1,308.2 1070.9,308.5 1070.6,308.8 1070.3,309.0 1070.0,309.1 1069.6,309.2 1069.2,309.3 1068.9,309.3 1068.5,309.2 1068.1,309.1 1068.6,309.3 1069.1,309.5 1069.5,309.7 1070.0,309.9 1070.4,310.1 1070.9,310.2 1071.4,310.4 1071.8,310.6 1072.3,310.8 1072.7,311.0 1073.2,311.2 1073.7,311.4 1074.1,311.6 1074.6,311.8 1075.1,312.0 1075.5,312.2 1076.0,312.4 1076.4,312.5 1076.9,312.7 1077.4,312.9 1077.8,313.1 1078.3,313.3 1078.8,313.5 1079.2,313.7 1079.7,313.9 1080.1,314.1 1080.6,314.3 1081.0,314.5 1081.5,314.8 1081.9,315.0 1082.3,315.3 1082.7,315.6 1083.2,315.8 1083.6,316.0 1084.1,316.1 1083.8,316.0 1083.4,315.8 1083.1,315.6 1082.9,315.3 1082.7,315.0 1082.5,314.6 1082.4,314.3 1082.4,313.9 1082.4,313.5 1082.5,313.2 1082.6,312.8 1082.8,312.5 1083.1,312.2 1083.4,311.9 1083.7,311.7 1084.0,311.6 1084.4,311.5 1084.8,311.5 1085.1,311.5 1085.5,311.6 1085.9,311.7 1086.2,311.9 1086.5,312.1 1086.7,312.4 1086.9,312.7 1087.1,313.1 1087.2,313.4 1087.2,313.8 1087.2,314.2 1087.1,314.5 1087.0,314.9 1086.8,315.2 1086.5,315.5 1086.3,315.8 1085.9,316.0 1085.6,316.1 1085.2,316.2 1084.9,316.2 1084.5,316.2 1084.1,316.1 1084.6,316.3 1085.1,316.4 1085.6,316.4 1086.1,316.5 1086.6,316.5 1087.1,316.5 1087.6,316.5 1088.1,316.5 1088.6,316.5 1089.1,316.5 1089.6,316.4 1090.1,316.4 1090.6,316.4 1091.1,316.3 1091.6,316.3 1092.1,316.3 1092.6,316.2 1093.1,316.2 1093.6,316.1 1094.1,316.1 1094.6,316.1 1095.1,316.0 1095.6,316.0 1096.1,315.9 1096.6,315.9 1097.0,315.8 1097.5,315.7 1098.0,315.6 1098.5,315.5 1099.0,315.4 1099.5,315.3 1100.0,315.2 1100.5,315.1 1101.0,315.1 1101.5,315.0 1102.0,315.0 1101.6,315.0 1101.2,314.9 1100.8,314.7 1100.4,314.5 1100.1,314.3 1099.8,314.0 1099.6,313.6 1099.5,313.3 1099.3,312.9 1099.3,312.5 1099.3,312.1 1099.4,311.7 1099.6,311.3 1099.8,310.9 1100.0,310.6 1100.3,310.3 1100.7,310.1 1101.0,309.9 1101.4,309.8 1101.8,309.8 1102.2,309.8 1102.6,309.9 1103.0,310.0 1103.4,310.2 1103.7,310.5 1104.0,310.8 1104.2,311.1 1104.4,311.5 1104.5,311.9 1104.5,312.3 1104.5,312.7 1104.4,313.1 1104.3,313.5 1104.1,313.9 1103.8,314.2 1103.5,314.4 1103.2,314.7 1102.8,314.8 1102.4,314.9 1102.0,315.0 1102.5,315.0 1103.0,315.0 1103.5,315.1 1104.0,315.1 1104.5,315.2 1104.9,315.3 1105.4,315.5 1105.9,315.6 1106.4,315.7 1106.9,315.9 1107.3,316.0 1107.8,316.2 1108.3,316.4 1108.8,316.5 1109.2,316.7 1109.7,316.8 1110.2,316.9 1110.7,317.1 1111.2,317.2 1111.7,317.3 1112.1,317.4 1112.6,317.6 1113.1,317.7 1113.6,317.8 1114.1,317.8 1113.7,317.8 1113.4,317.6 1113.1,317.4 1112.8,317.2 1112.5,316.9 1112.3,316.6 1112.2,316.2 1112.1,315.9 1112.1,315.5 1112.1,315.1 1112.2,314.8 1112.3,314.4 1112.5,314.1 1112.7,313.8 1113.0,313.5 1113.3,313.3 1113.7,313.2 1114.1,313.1 1114.4,313.1 1114.8,313.1 1115.2,313.2 1115.5,313.3 1115.8,313.5 1116.1,313.8 1116.4,314.0 1116.6,314.4 1116.7,314.7 1116.8,315.1 1116.9,315.4 1116.8,315.8 1116.7,316.2 1116.6,316.5 1116.4,316.9 1116.2,317.1 1115.9,317.4 1115.6,317.6 1115.2,317.7 1114.9,317.8 1114.5,317.9 1114.1,317.8 1114.6,317.9 1115.1,318.0 1115.6,318.0 1116.1,318.1 1116.6,318.1 1117.1,318.1 1117.6,318.1 1118.1,318.2 1118.6,318.2 1119.1,318.2 1119.6,318.2 1120.1,318.2 1120.6,318.3 1121.1,318.3 1121.6,318.3 1122.1,318.3 1122.6,318.3 1123.1,318.4 1123.6,318.4 1124.1,318.4 1124.6,318.4 1125.1,318.5 1124.7,318.4 1124.3,318.3 1123.9,318.1 1123.6,317.9 1123.3,317.6 1123.1,317.2 1122.9,316.9 1122.7,316.5 1122.7,316.1 1122.7,315.7 1122.7,315.3 1122.9,314.9 1123.0,314.5 1123.3,314.2 1123.6,313.9 1123.9,313.7 1124.3,313.5 1124.7,313.4 1125.1,313.3 1125.5,313.3 1125.9,313.3 1126.3,313.5 1126.6,313.7 1126.9,313.9 1127.2,314.2 1127.5,314.5 1127.7,314.9 1127.8,315.3 1127.9,315.7 1127.9,316.1 1127.8,316.5 1127.7,316.9 1127.5,317.2 1127.3,317.6 1127.0,317.8 1126.6,318.1 1126.3,318.3 1125.9,318.4 1125.5,318.5 1125.1,318.5 1125.6,318.5 1126.1,318.6 1126.6,318.6 1127.1,318.6 1127.6,318.7 1128.1,318.7 1128.6,318.8 1129.1,318.9 1129.6,318.9 1130.1,319.0 1130.5,319.1 1131.0,319.1 1131.5,319.2 1132.0,319.3 1132.5,319.4 1133.0,319.5 1133.5,319.6 1134.0,319.7 1133.6,319.6 1133.2,319.4 1132.8,319.1 1132.5,318.8 1132.3,318.5 1132.1,318.1 1131.9,317.6 1131.9,317.2 1131.9,316.8 1131.9,316.3 1132.1,315.9 1132.3,315.5 1132.6,315.2 1132.9,314.9 1133.2,314.6 1133.6,314.4 1134.0,314.3 1134.5,314.2 1134.9,314.2 1135.3,314.3 1135.8,314.4 1136.2,314.6 1136.5,314.9 1136.8,315.2 1137.1,315.6 1137.3,316.0 1137.4,316.4 1137.5,316.8 1137.5,317.3 1137.4,317.7 1137.2,318.1 1137.0,318.5 1136.8,318.9 1136.5,319.2 1136.1,319.4 1135.7,319.6 1135.3,319.7 1134.9,319.8 1134.4,319.8 1134.0,319.7 1134.5,319.9 1134.9,320.0 1135.4,320.1 1135.9,320.3 1136.4,320.4 1136.9,320.6 1137.3,320.7 1137.8,320.9 1138.3,321.1 1138.8,321.2 1139.2,321.4 1139.7,321.5 1140.2,321.7 1140.6,321.9 1141.1,322.1 1141.6,322.3 M1134.5,322.0 1135.3,319.9 1136.9,318.0 1139.0,316.7 1141.6,316.1 1144.3,316.3 1146.8,317.3 1148.9,319.1 1150.3,321.3 1150.9,323.7 1150.6,326.1 1149.7,328.1 1148.1,329.5 1146.2,330.2 1144.3,330.0 1142.6,329.0 1141.5,327.4 1141.1,325.3 1141.4,323.1 1142.6,321.1 1144.5,319.5 1146.9,318.5 1149.6,318.3 1152.3,318.9 1154.6,320.3 1156.3,322.3 1157.3,324.7 1157.5,327.1 1156.9,329.3 1155.6,331.0 1153.9,332.1 1151.9,332.3 1150.1,331.7 1148.7,330.4 1147.8,328.5 1147.8,326.3 1148.6,324.2 1150.2,322.3 1152.4,321.0 1155.0,320.4 1157.7,320.6 1160.2,321.6 1162.2,323.3 1163.6,325.5 1164.2,327.9 1164.0,330.3 1163.0,332.3 1161.5,333.7 1159.6,334.3 1157.7,334.1 1156.0,333.1 1154.9,331.5 1154.4,329.4 1154.8,327.2 1156.0,325.1 1157.9,323.5 1160.4,322.5 1163.1,322.3 1165.7,322.9 1168.0,324.2 1169.8,326.2 1170.8,328.6 1171.0,331.0 1170.4,333.1 1169.1,334.8 1167.3,335.9 1165.4,336.1 1163.6,335.4 1162.2,334.1 1161.4,332.2 1161.3,330.0 1162.1,327.8 1163.7,325.9 1165.9,324.5 1168.5,323.8 1171.2,324.0 1173.8,325.0 1175.8,326.6 1177.2,328.8 1177.8,331.2 1177.6,333.5 1176.7,335.4 1175.1,336.8 1173.3,337.3 1171.3,337.1 1169.7,336.0 M1172.0,335.0 1172.7,335.3 1173.6,335.7 1174.6,336.2 1175.8,336.8 1177.0,337.3 1178.3,337.7 1179.5,337.9 1180.7,337.8 1181.8,337.4 1183.0,336.8 1184.1,336.1 1185.3,335.2 1186.4,334.2 1187.5,333.2 1188.6,332.3 1189.5,331.5 1190.4,330.7 1191.2,329.9 1192.0,329.1 1192.8,328.4 1193.5,327.6 1194.1,327.0 1194.6,326.4 1195.0,326.0" fill="none" stroke="#808000" stroke-width="1.3" stroke-linejoin="round"/><path d="M1404.2,215.9 1410.4,216.0 1416.7,216.2 1423.1,216.4 1429.5,216.6 1435.9,216.8 1442.3,217.0 1448.7,217.2 1455.2,217.4 1461.6,217.6 1468.0,217.8 1474.3,218.0 1480.6,218.1 1486.9,218.2 1493.1,218.4 1499.2,218.4 1505.2,218.5 1511.2,218.5 1517.0,218.5 1522.7,218.5 1528.4,218.4 1533.9,218.3 1539.3,218.1 1544.6,217.9 1549.7,217.7 1554.8,217.4 1560.0,217.1 1565.1,216.7 1570.3,216.2 1575.5,215.7 1580.7,215.1 1585.8,214.5 1591.0,213.9 1596.0,213.3 1601.0,212.6 1606.0,211.9 1610.9,211.2 1615.6,210.5 1620.3,209.8 1624.9,209.1 1629.3,208.4 1633.5,207.7 1637.6,207.1 1641.4,206.5 1645.1,205.9 1648.5,205.4 1651.7,204.9 1654.6,204.5 1657.2,204.1 M1185.5,154.5 1184.1,151.3 1182.9,148.3 1181.8,145.3 1180.8,142.5 1180.1,139.8 1179.6,137.2 1179.3,134.8 1179.4,132.7 1179.7,130.7 1180.3,129.0 1181.1,127.5 1182.1,126.3 1183.2,125.2 1184.4,124.4 1185.8,123.8 1187.2,123.4 1188.8,123.1 1190.4,123.0 1192.0,123.0 1193.8,123.1 1195.5,123.3 1197.2,123.6 1199.0,123.9 1200.8,124.3 1202.5,124.7 1204.3,125.0 1206.0,125.3 1207.8,125.6 1209.5,125.8 1211.2,125.8 1212.9,125.8 1214.6,125.6 1216.3,125.2 1218.0,124.7 1220.0,124.1 1222.0,123.4 1224.2,122.6 1226.6,121.8 1229.1,120.9 1231.6,119.9 1234.3,118.9 1237.0,117.9 1239.8,116.8 1242.5,115.8 1245.3,114.7 1248.1,113.7 1250.9,112.7 1253.5,111.8 1256.1,110.9 1258.6,110.0 1260.9,109.3 1263.1,108.6 1265.2,108.0 1267.0,107.4 1268.6,107.0 1270.1,106.6 1271.3,106.4 M1205.4,139.7 1205.9,138.3 1206.2,136.8 1206.3,135.4 1206.4,134.0 1206.4,132.7 1206.4,131.3 1206.4,130.0 1206.5,128.7 1206.6,127.5 1206.8,126.3 1207.1,125.1 1207.5,124.0 1208.1,122.9 1208.9,121.9 1209.9,120.9 1211.2,120.0 1212.6,119.2 1214.3,118.5 1216.3,117.8 1218.6,117.3 1221.1,116.8 1224.0,116.5 1227.2,116.3 1230.8,116.3 1235.0,116.6 1239.6,117.0 1244.7,117.7 1250.0,118.6 1255.7,119.6 1261.7,120.8 1267.8,122.1 1274.1,123.6 1280.6,125.1 1287.1,126.8 1293.6,128.5 1300.1,130.3 1306.6,132.1 1313.0,134.0 1319.2,135.8 1325.3,137.6 1331.1,139.4 1336.6,141.1 1341.8,142.7 1346.6,144.2 1350.9,145.6 1354.8,146.8 1358.1,147.8 M1134.4,100.6 1135.4,98.6 1136.4,96.6 1137.5,94.7 1138.6,92.8 1139.7,91.0 1140.8,89.3 1141.9,87.7 1143.1,86.2 1144.3,84.7 1145.6,83.4 1146.9,82.1 1148.3,80.9 1149.7,79.8 1151.2,78.8 1152.8,77.9 1154.5,77.0 1156.3,76.2 1158.2,75.5 1160.2,74.9 1162.4,74.2 1164.7,73.7 1167.2,73.2 1170.1,72.8 1173.2,72.5 1176.6,72.3 1180.3,72.1 1184.1,72.0 1188.2,72.0 1192.4,72.0 1196.7,72.0 1201.1,72.0 1205.6,72.1 1210.1,72.1 1214.6,72.2 1219.0,72.3 1223.4,72.3 1227.7,72.4 1231.8,72.4 1235.8,72.5 1239.5,72.5 1243.0,72.6 1246.2,72.6 1249.1,72.6 1251.6,72.7 1253.8,72.7 M1224.8,270.4 1229.1,269.9 1233.2,269.4 1237.2,268.9 1241.0,268.4 1244.7,267.9 1248.2,267.4 1251.6,266.9 1254.8,266.4 1258.0,265.9 1261.1,265.5 1264.0,265.0 1266.9,264.5 1269.8,264.1 1272.6,263.5 1275.4,263.0 1278.2,262.4 1281.0,261.8 1283.8,261.2 1286.6,260.5 1289.5,259.8 1292.5,259.0 1295.6,258.1 1298.7,257.1 1302.0,256.1 1305.5,255.1 1309.1,253.9 1312.8,252.7 1316.8,251.3 1321.1,249.9 1325.5,248.2 1330.2,246.5 1335.0,244.7 1340.0,242.8 1345.1,240.8 1350.3,238.8 1355.6,236.8 1361.0,234.8 1366.4,232.8 1371.9,230.8 1377.3,228.8 1382.8,227.0 1388.1,225.2 1393.5,223.5 1398.7,221.9 1403.8,220.4 1408.8,219.0 1413.6,217.8 1418.2,216.8 1422.6,215.9 1426.8,215.2 1430.7,214.6 1434.4,214.3 1438.0,214.1 1441.5,214.0 1444.8,214.1 1448.1,214.3 1451.3,214.6 1454.3,214.9 1457.2,215.3 1460.0,215.8 1462.7,216.3 1465.3,216.9 1467.8,217.5 1470.1,218.0 1472.4,218.6 1474.5,219.1 1476.5,219.7 1478.4,220.2 1480.2,220.6 1481.9,221.0 1483.5,221.4 1485.0,221.7 1486.4,222.0 1487.6,222.2 1488.8,222.3 M1316.8,230.8 1317.9,228.4 1319.1,226.3 1320.5,224.5 1321.9,222.7 1323.4,221.2 1324.8,219.7 1326.4,218.4 1328.0,217.2 1329.7,216.2 1331.4,215.2 1333.2,214.4 1335.2,213.6 1337.2,213.0 1339.3,212.4 1341.5,211.9 1343.9,211.5 1346.3,211.1 1348.9,210.8 1351.6,210.5 1354.3,210.3 1357.3,210.1 1360.3,209.9 1363.5,209.7 1366.8,209.6 1370.2,209.4 1373.8,209.2 1377.7,209.1 1381.9,209.1 1386.5,209.2 1391.4,209.3 1396.5,209.5 1401.9,209.8 1407.4,210.2 1413.1,210.5 1418.9,211.0 1424.8,211.4 1430.6,211.9 1436.5,212.4 1442.4,212.9 1448.1,213.4 1453.8,213.9 1459.2,214.4 1464.5,214.8 1469.6,215.3 1474.4,215.7 1478.9,216.0 1483.0,216.4 1486.8,216.6 1490.1,216.8 1492.9,216.9 M1357.0,225.2 1360.6,224.0 1364.2,222.6 1367.7,221.3 1371.1,219.9 1374.4,218.4 1377.7,217.0 1380.9,215.6 1384.1,214.2 1387.2,212.8 1390.4,211.5 1393.5,210.2 1396.7,209.1 1399.8,208.0 1403.0,207.0 1406.2,206.1 1409.4,205.4 1412.7,204.8 1416.1,204.4 1419.5,204.0 1423.0,203.8 1426.6,203.7 1430.2,203.7 1433.9,203.7 1437.6,203.9 1441.3,204.1 1444.9,204.3 1448.6,204.7 1452.2,205.1 1455.7,205.5 1459.2,205.9 1462.6,206.4 1465.9,206.9 1469.1,207.4 1472.1,207.9 1475.0,208.4 1477.7,208.9 1480.2,209.3 1482.5,209.7 1484.7,210.1 1486.6,210.4 1488.2,210.6 M1289.6,291.0 1291.6,289.1 1293.7,287.1 1295.8,285.0 1298.0,282.8 1300.1,280.7 1302.3,278.5 1304.6,276.3 1306.8,274.0 1309.0,271.8 1311.3,269.7 1313.6,267.5 1315.8,265.4 1318.1,263.4 1320.3,261.5 1322.6,259.7 1324.8,257.9 1327.0,256.4 1329.2,254.9 1331.4,253.6 1333.6,252.5 1335.7,251.6 1337.8,250.9 1339.9,250.4 1342.0,250.2 1344.3,250.1 1346.6,250.3 1348.9,250.7 1351.3,251.3 1353.6,252.0 1356.0,252.8 1358.4,253.8 1360.8,254.8 1363.1,255.9 1365.5,257.1 1367.7,258.4 1369.9,259.6 1372.0,260.9 1374.1,262.2 1376.0,263.4 1377.8,264.6 1379.5,265.8 1381.0,266.8 1382.4,267.8 1383.7,268.6 1384.8,269.3 1385.7,269.8 M1219.1,211.3 1222.4,211.7 1225.7,212.1 1229.0,212.6 1232.4,212.9 1235.8,213.3 1239.3,213.6 1242.8,213.8 1246.3,214.0 1249.9,214.0 1253.5,214.1 1257.2,214.1 1260.9,214.2 1264.6,214.3 1268.3,214.4 1272.0,214.4 1275.8,214.5 1279.6,214.6 1283.3,214.6 1287.1,214.7 1290.8,214.7 1294.6,214.6 1298.3,214.5 1302.0,214.4 1305.8,214.3 1309.5,214.0 1313.2,213.8 1316.9,213.5 1320.6,213.1 1324.3,212.6 1328.0,212.1 1331.6,211.5 1335.3,210.9 1339.0,210.2 1342.7,209.3 1346.4,208.4 1350.2,207.5 1354.1,206.4 1357.9,205.3 1361.9,204.2 1365.9,203.0 1369.9,201.7 1373.9,200.5 1378.0,199.2 1382.1,198.0 1386.2,196.7 1390.3,195.4 1394.4,194.2 1398.5,192.9 1402.7,191.8 1406.7,190.6 1410.8,189.5 1414.8,188.4 1418.8,187.4 1422.8,186.4 1426.7,185.5 1430.5,184.7 1434.2,184.0 1438.0,183.3 1441.8,182.6 1445.7,181.9 1449.6,181.2 1453.5,180.6 1457.4,179.9 1461.3,179.3 1465.1,178.6 1469.0,178.0 1472.7,177.4 1476.5,176.7 1480.1,176.1 1483.6,175.5 1487.1,174.9 1490.5,174.3 1493.7,173.8 1496.8,173.2 1499.7,172.7 1502.6,172.2 1505.2,171.6 1507.7,171.2 1509.9,170.7 1512.0,170.3 1513.9,169.8 M1150.1,167.2 1149.9,165.2 1150.0,163.2 1150.2,161.4 1150.6,159.8 1151.2,158.2 1152.1,156.8 1153.4,155.6 1154.9,154.5 1156.8,153.5 1159.1,152.8 1161.8,152.2 1164.8,151.8 1168.2,151.7 1171.8,151.7 1175.8,151.9 1180.0,152.3 1184.5,152.8 1189.2,153.4 1194.1,154.1 1199.2,154.9 1204.5,155.8 1209.9,156.7 1215.4,157.6 1221.1,158.6 1226.8,159.5 1232.6,160.5 1238.5,161.3 1244.3,162.2 1250.2,163.0 1256.0,163.6 1261.8,164.2 1267.5,164.7 1273.1,165.0 1278.6,165.2 1284.1,165.3 1290.0,165.3 1296.0,165.3 1302.3,165.2 1308.7,165.0 1315.2,164.9 1321.8,164.7 1328.5,164.4 1335.1,164.2 1341.8,163.9 1348.4,163.6 1354.9,163.3 1361.3,163.0 1367.5,162.7 1373.5,162.5 1379.3,162.2 1384.9,161.9 1390.2,161.7 1395.2,161.5 1399.8,161.3 1404.0,161.2 1407.8,161.1 1411.2,161.0 1414.1,161.0 M1330.9,219.0 1335.4,219.5 1339.8,219.9 1344.2,220.3 1348.5,220.6 1352.8,221.0 1357.0,221.3 1361.1,221.6 1365.1,221.9 1369.1,222.2 1373.1,222.5 1377.0,222.8 1380.8,223.2 1384.5,223.6 1388.3,224.0 1391.9,224.4 1395.5,225.0 1399.0,225.5 1402.5,226.1 1405.9,226.8 1409.3,227.6 1412.6,228.4 1415.8,229.3 1419.0,230.3 1422.2,231.4 1425.3,232.5 1428.4,233.8 1431.5,235.1 1434.5,236.4 1437.4,237.8 1440.3,239.2 1443.1,240.6 1445.9,242.0 1448.6,243.4 1451.2,244.8 1453.7,246.2 1456.1,247.5 1458.5,248.8 1460.7,250.0 1462.8,251.2 1464.8,252.3 1466.7,253.3 1468.5,254.2 1470.2,255.1 1471.7,255.8 1473.1,256.4 1474.3,256.9 M1291.5,196.0 1295.0,197.4 1298.5,198.5 1301.9,199.2 1305.2,199.7 1308.7,199.9 1312.1,199.8 1315.6,199.5 1319.2,199.1 1322.7,198.4 1326.3,197.6 1329.9,196.6 1333.5,195.5 1337.0,194.4 1340.6,193.1 1344.1,191.9 1347.6,190.6 1351.1,189.3 1354.5,188.1 1357.8,186.9 1361.1,185.7 1364.3,184.7 1367.4,183.8 1370.4,183.1 1373.3,182.4 1376.1,182.0 1378.8,181.8 1381.3,181.8 1383.7,182.0 1386.0,182.4 1388.3,182.8 1390.4,183.5 1392.4,184.2 1394.3,185.0 1396.2,185.9 1397.9,186.9 1399.6,187.9 1401.2,188.9 1402.6,190.0 1404.0,191.1 1405.3,192.1 1406.5,193.2 1407.7,194.2 1408.7,195.1 1409.7,196.0 1410.7,196.9 1411.5,197.6 1412.3,198.3 1413.0,198.8 1413.7,199.3 1414.3,199.6 1414.9,199.8 M1148.4,240.4 1151.2,240.4 1154.2,240.5 1157.2,240.5 1160.3,240.4 1163.5,240.4 1167.0,240.3 1170.5,240.2 1174.3,240.2 1178.1,240.2 1182.1,240.1 1186.1,240.1 1190.3,240.1 1194.5,240.1 1198.8,240.1 1203.2,240.1 1207.5,240.1 1211.9,240.2 1216.3,240.2 1220.7,240.2 1225.1,240.3 1229.5,240.3 1233.8,240.3 1238.0,240.3 1242.1,240.4 1246.2,240.4 1250.2,240.4 1254.0,240.4 1257.7,240.4 1261.2,240.3 1264.7,240.2 1268.1,240.0 1271.4,239.8 1274.7,239.6 1277.9,239.3 1281.0,239.0 1284.0,238.7 1287.1,238.3 1290.0,237.9 1293.0,237.5 1295.9,237.1 1298.7,236.7 1301.6,236.3 1304.4,235.9 1307.3,235.6 1310.1,235.2 1312.9,234.9 1315.8,234.6 1318.6,234.3 1321.5,234.1 1324.5,233.9 1327.4,233.8 1330.4,233.8 1333.5,233.9 1336.7,234.0 1340.1,234.2 1343.5,234.5 1347.0,234.8 1350.6,235.2 1354.2,235.7 1357.8,236.2 1361.4,236.7 1365.0,237.3 1368.6,237.9 1372.1,238.5 1375.6,239.1 1379.0,239.8 1382.3,240.4 1385.4,241.0 1388.5,241.7 1391.4,242.3 1394.1,242.8 1396.7,243.4 1399.0,243.8 1401.1,244.3 1403.0,244.6 1404.7,244.9 M1186.3,241.4 1190.0,241.2 1193.7,241.0 1197.6,240.7 1201.7,240.4 1205.9,240.2 1210.2,239.9 1214.6,239.6 1219.1,239.4 1223.7,239.2 1228.4,239.0 1233.2,238.7 1238.1,238.5 1243.1,238.3 1248.1,238.1 1253.2,237.9 1258.4,237.7 1263.6,237.5 1268.9,237.3 1274.3,237.1 1279.7,236.9 1285.2,236.6 1290.8,236.4 1296.4,236.1 1302.0,235.8 1307.7,235.6 1313.4,235.3 1319.2,235.0 1324.9,234.6 1330.8,234.3 1336.9,234.0 1343.1,233.6 1349.5,233.3 1356.0,232.9 1362.6,232.6 1369.3,232.3 1376.1,232.0 1382.9,231.7 1389.7,231.4 1396.6,231.2 1403.4,230.9 1410.2,230.7 1416.9,230.5 1423.5,230.4 1430.1,230.2 1436.5,230.1 1442.8,230.1 1449.0,230.0 1455.0,230.0 1460.8,230.0 1466.4,230.1 1471.8,230.2 1477.0,230.3 1482.0,230.5 1487.0,230.7 1492.0,230.9 1497.0,231.1 1501.9,231.4 1506.8,231.7 1511.6,232.0 1516.3,232.3 1521.0,232.6 1525.6,232.9 1530.1,233.2 1534.5,233.6 1538.8,233.9 1542.9,234.2 1547.0,234.5 1550.9,234.7 1554.7,235.0 1558.3,235.3 1561.8,235.5 1565.0,235.7 1568.1,235.9 1570.9,236.0 1573.6,236.1 1576.0,236.2 M1257.1,198.3 1259.9,197.7 1262.8,197.3 1265.5,197.0 1268.3,196.8 1271.0,196.7 1273.8,196.8 1276.5,196.9 1279.3,197.1 1282.1,197.4 1284.9,197.7 1287.8,198.1 1290.8,198.6 1293.9,199.1 1297.0,199.6 1300.4,200.2 1303.8,200.7 1307.4,201.3 1311.2,201.9 1315.2,202.5 1319.4,203.0 1323.8,203.5 1328.5,204.1 1333.5,204.7 1338.8,205.3 1344.3,206.0 1350.1,206.7 1356.2,207.5 1362.4,208.3 1368.8,209.2 1375.3,210.1 1382.0,211.0 1388.7,212.0 1395.5,213.0 1402.4,214.0 1409.3,215.0 1416.2,216.1 1423.0,217.2 1429.7,218.2 1436.4,219.3 1442.9,220.4 1449.3,221.5 1455.5,222.6 1461.5,223.7 1467.2,224.8 1472.7,225.8 1478.1,226.9 1483.4,228.0 1488.7,229.1 1494.0,230.2 1499.2,231.3 1504.4,232.5 1509.4,233.6 1514.4,234.8 1519.3,235.9 1524.1,237.0 1528.8,238.0 1533.3,239.1 1537.7,240.1 1541.9,241.0 1546.0,242.0 1549.9,242.8 1553.6,243.6 1557.1,244.4 1560.5,245.0 1563.6,245.7 1566.5,246.2 1569.2,246.7 1571.7,247.1 1573.9,247.4 M1200.7,136.3 1201.7,135.3 1202.7,134.3 1203.7,133.3 1204.8,132.5 1206.0,131.7 1207.2,131.0 1208.5,130.3 1209.9,129.7 1211.3,129.1 1212.8,128.6 1214.3,128.2 1215.9,127.8 1217.6,127.4 1219.3,127.1 1221.0,126.8 1222.8,126.6 1224.7,126.4 1226.6,126.2 1228.5,126.0 1230.4,125.9 1232.4,125.7 1234.4,125.6 1236.4,125.4 1238.5,125.3 1240.7,125.3 1243.1,125.2 1245.5,125.2 1248.0,125.3 1250.5,125.4 1253.1,125.5 1255.7,125.6 1258.3,125.7 1260.9,125.9 1263.5,126.0 1266.0,126.1 1268.5,126.3 1271.0,126.4 1273.4,126.5 1275.7,126.5 1277.9,126.6 1280.0,126.6 1282.0,126.6 1283.8,126.5 1285.5,126.5 1287.1,126.3 1288.5,126.2 1289.7,126.0 M1204.4,133.8 1207.0,132.7 1209.7,131.8 1212.5,130.9 1215.3,130.1 1218.3,129.5 1221.3,128.9 1224.5,128.4 1227.7,128.1 1231.1,127.9 1234.6,127.7 1238.1,127.7 1241.8,127.7 1245.6,127.9 1249.5,128.1 1253.4,128.4 1257.5,128.7 1261.6,129.1 1265.8,129.6 1270.0,130.1 1274.3,130.6 1278.6,131.2 1283.0,131.9 1287.8,132.7 1292.7,133.8 1297.9,134.9 1303.2,136.2 1308.6,137.6 1314.1,139.1 1319.7,140.7 1325.2,142.3 1330.8,144.1 1336.3,145.9 1341.8,147.7 1347.1,149.7 1352.3,151.6 1357.4,153.6 1362.3,155.5 1367.0,157.5 1371.5,159.4 1375.7,161.2 1379.6,163.0 1383.3,164.7 1386.6,166.3 1389.6,167.7 1392.2,168.9 M1330.6,222.0 1333.4,222.2 1336.1,222.7 1338.8,223.4 1341.4,224.4 1344.0,225.5 1346.5,226.8 1349.0,228.3 1351.5,229.8 1353.9,231.5 1356.2,233.2 1358.6,234.9 1360.9,236.6 1363.1,238.4 1365.4,240.0 1367.6,241.6 1369.8,243.1 1372.0,244.5 1374.2,245.8 1376.4,246.8 1378.6,247.7 1380.7,248.4 1382.9,248.8 1385.1,249.0 1387.3,249.0 1389.7,248.7 1392.1,248.4 1394.5,247.8 1397.0,247.2 1399.6,246.4 1402.2,245.5 1404.8,244.6 1407.5,243.6 1410.1,242.6 1412.7,241.5 1415.3,240.4 1417.9,239.3 1420.4,238.3 1422.9,237.2 1425.3,236.2 1427.6,235.3 1429.9,234.4 1432.0,233.7 1434.0,233.0 1435.9,232.4 1437.6,231.9 1439.1,231.6 1440.5,231.4 M1271.2,239.1 1275.4,238.2 1279.9,237.4 1284.6,236.7 1289.6,236.2 1294.9,235.8 1300.7,235.5 1306.8,235.4 1313.3,235.4 1320.0,235.4 1327.0,235.6 1334.2,235.9 1341.5,236.2 1349.0,236.6 1356.5,237.0 1364.0,237.4 1371.6,237.8 1379.1,238.3 1386.5,238.7 1393.8,239.0 1400.9,239.4 1407.8,239.7 1414.5,239.9 1420.9,240.0 1426.9,240.1 1432.7,240.0 1438.0,239.9 1442.9,239.6 1447.3,239.1 1451.3,238.6 1455.1,237.9 1458.6,237.0 1461.9,236.1 1465.0,235.1 1467.9,234.0 1470.6,232.8 1473.1,231.6 1475.4,230.4 1477.6,229.1 1479.7,227.8 1481.6,226.5 1483.4,225.2 1485.1,223.9 1486.7,222.6 1488.2,221.4 1489.7,220.2 1491.0,219.1 1492.3,218.0 1493.6,217.0 1494.8,216.1 1496.0,215.3 1497.1,214.6 1498.3,214.1 M1239.5,224.7 1245.4,223.2 1251.4,221.7 1257.3,220.3 1263.1,219.1 1268.7,218.0 1274.2,217.0 1279.5,216.2 1284.6,215.6 1289.4,215.2 1294.0,215.1 1298.3,215.1 1302.4,215.4 1306.4,215.9 1310.2,216.5 1313.9,217.3 1317.5,218.2 1320.9,219.2 1324.3,220.3 1327.5,221.5 1330.6,222.7 1333.7,223.9 1336.7,225.2 1339.6,226.4 1342.5,227.7 1345.4,228.8 1348.2,230.0 1351.0,231.1 1353.9,232.0 1356.7,232.9 1359.6,233.7 1362.6,234.3 1365.6,234.8 1368.6,235.1 1371.8,235.2 1375.0,235.2 1378.4,235.0 1381.9,234.8 1385.4,234.4 1389.0,234.0 1392.7,233.5 1396.4,232.9 1400.1,232.3 1403.9,231.6 1407.6,230.9 1411.3,230.1 1414.9,229.4 1418.5,228.6 1422.0,227.8 1425.4,227.0 1428.6,226.3 1431.7,225.5 1434.7,224.8 1437.4,224.0 1440.0,223.4 1442.4,222.8 1444.5,222.2 1446.4,221.7 1448.1,221.3 M1175.3,164.7 1177.3,163.2 1179.4,161.8 1181.5,160.6 1183.6,159.5 1185.9,158.5 1188.2,157.8 1190.7,157.2 1193.3,156.8 1195.9,156.5 1198.7,156.5 1201.6,156.7 1204.4,157.3 1207.3,158.1 1210.2,159.2 1213.1,160.6 1216.0,162.1 1218.9,163.8 1221.9,165.7 1224.9,167.7 1228.0,169.7 1231.1,171.8 1234.3,173.9 1237.5,176.0 1240.8,178.1 1244.2,180.1 1247.6,181.9 1251.2,183.7 1254.9,185.3 1258.6,186.7 1262.5,187.9 1266.5,188.9 1270.7,189.6 1274.9,190.0 1279.4,190.0 1284.0,189.8 1288.9,189.3 1294.0,188.5 1299.3,187.4 1304.8,186.2 1310.5,184.8 1316.3,183.2 1322.3,181.5 1328.4,179.7 1334.6,177.9 1340.9,176.0 1347.2,174.0 1353.6,172.1 1360.0,170.3 1366.5,168.5 1372.9,166.8 1379.2,165.2 1385.6,163.8 1391.8,162.5 1398.0,161.5 1404.0,160.6 1409.9,160.0 1415.6,159.7 1421.2,159.6 1426.8,159.9 1432.4,160.3 1438.1,161.0 1443.9,161.9 1449.7,163.0 1455.5,164.2 1461.3,165.6 1467.1,167.0 1472.8,168.6 1478.5,170.2 1484.1,171.9 1489.6,173.6 1494.9,175.3 1500.1,177.0 1505.1,178.7 1509.9,180.3 1514.6,181.8 1518.9,183.3 1523.1,184.7 1526.9,185.9 1530.5,187.0 1533.8,187.9 1536.7,188.7 1539.3,189.2 M1416.4,192.8 1422.3,194.2 1428.2,195.6 1434.0,197.0 1439.8,198.4 1445.5,199.7 1451.2,201.0 1456.7,202.2 1462.2,203.4 1467.5,204.4 1472.6,205.3 1477.6,206.1 1482.4,206.8 1487.1,207.3 1491.4,207.6 1495.6,207.8 1499.5,207.8 1503.1,207.6 1506.4,207.1 1509.6,206.5 1512.4,205.7 1515.1,204.8 1517.5,203.7 1519.8,202.5 1521.9,201.2 1523.8,199.8 1525.5,198.3 1527.1,196.8 1528.5,195.3 1529.8,193.8 1531.0,192.3 1532.0,190.8 1533.0,189.3 1533.9,187.9 1534.6,186.6 1535.4,185.3 1536.0,184.1 1536.6,183.0 1537.2,182.1 1537.8,181.2 1538.3,180.5 1538.9,179.9 M1256.6,259.3 1261.4,257.2 1266.3,255.1 1271.3,252.9 1276.3,250.7 1281.3,248.4 1286.4,246.0 1291.6,243.6 1296.7,241.2 1301.9,238.8 1307.2,236.4 1312.4,234.0 1317.6,231.7 1322.9,229.3 1328.1,227.1 1333.3,224.9 1338.6,222.8 1343.8,220.8 1349.0,218.8 1354.2,217.0 1359.4,215.3 1364.6,213.7 1369.8,212.1 1375.1,210.7 1380.5,209.3 1385.9,208.0 1391.4,206.7 1397.0,205.5 1402.6,204.3 1408.2,203.1 1413.9,202.0 1419.7,200.9 1425.4,199.8 1431.2,198.7 1437.1,197.5 1442.9,196.4 1448.8,195.3 1454.7,194.1 1460.6,192.9 1466.4,191.7 1472.3,190.5 1478.1,189.2 1483.9,187.9 1489.7,186.6 1495.4,185.2 1501.2,183.8 1507.2,182.4 1513.3,180.9 1519.5,179.5 1525.8,178.0 1532.2,176.6 1538.6,175.1 1545.0,173.7 1551.4,172.4 1557.7,171.0 1563.9,169.8 1570.1,168.5 1576.1,167.4 1581.9,166.3 1587.5,165.3 1592.9,164.4 1598.1,163.5 1603.1,162.8 1607.7,162.1 1612.1,161.4 1616.1,160.9 1619.7,160.5 1623.0,160.1 1625.8,159.8 M1170.5,132.0 1171.3,130.4 1172.0,128.9 1172.7,127.4 1173.4,125.9 1174.0,124.4 1174.7,123.0 1175.3,121.6 1176.0,120.3 1176.8,119.0 1177.5,117.7 1178.4,116.5 1179.3,115.4 1180.3,114.3 1181.4,113.4 1182.6,112.4 1183.9,111.6 1185.4,110.9 1186.9,110.3 1188.7,109.7 1190.5,109.4 1192.6,109.1 1194.8,109.1 1197.2,109.1 1199.7,109.3 1202.3,109.6 1205.0,110.0 1207.8,110.5 1210.6,111.1 1213.4,111.7 1216.2,112.4 1218.9,113.2 1221.7,114.0 1224.3,114.9 1226.9,115.8 1229.4,116.7 1231.8,117.6 1234.0,118.4 1236.1,119.3 1238.0,120.1 1239.8,120.8 1241.3,121.5 1242.7,122.1 1243.8,122.7 M1289.8,235.4 1295.3,234.7 1300.6,234.2 1305.7,233.7 1310.6,233.4 1315.2,233.1 1319.5,233.0 1323.6,233.0 1327.4,233.1 1331.0,233.2 1334.4,233.4 1337.7,233.6 1340.8,233.9 1343.7,234.2 1346.6,234.5 1349.4,234.9 1352.0,235.3 1354.7,235.7 1357.3,236.1 1359.9,236.6 1362.6,237.1 1365.3,237.5 1368.1,238.0 1370.9,238.5 1373.9,239.0 1377.1,239.5 1380.4,240.0 1383.9,240.5 1387.7,241.0 1391.7,241.4 1396.0,241.9 1400.7,242.5 1405.8,243.1 1411.1,243.8 1416.8,244.5 1422.6,245.3 1428.7,246.1 1434.8,246.9 1441.1,247.8 1447.5,248.7 1454.0,249.6 1460.4,250.5 1466.8,251.4 1473.1,252.3 1479.2,253.1 1485.2,253.9 1491.1,254.7 1496.6,255.4 1501.9,256.1 1506.9,256.6 1511.4,257.2 1515.6,257.6 1519.3,257.9 1522.5,258.2 M1228.0,328.2 1230.4,327.0 1232.7,325.8 1235.0,324.5 1237.2,323.1 1239.3,321.7 1241.4,320.2 1243.3,318.5 1245.2,316.7 1247.1,314.8 1248.8,312.9 1250.5,310.8 1252.1,308.7 1253.7,306.6 1255.2,304.3 1256.7,302.1 1258.2,299.8 1259.6,297.6 1261.0,295.3 1262.4,293.0 1263.8,290.8 1265.2,288.5 1266.6,286.3 1268.1,284.2 1269.6,282.1 1271.1,280.1 1272.8,278.1 1274.4,276.3 1276.2,274.5 1278.1,272.7 1280.1,270.9 1282.1,269.1 1284.3,267.2 1286.5,265.2 1288.7,263.3 1291.1,261.3 1293.5,259.3 1295.9,257.3 1298.4,255.4 1301.0,253.5 1303.5,251.6 1306.1,249.8 1308.8,248.0 1311.4,246.3 1314.0,244.7 1316.6,243.2 1319.2,241.8 1321.8,240.6 1324.3,239.4 1326.8,238.4 1329.2,237.6 1331.5,237.0 1333.7,236.5 1335.9,236.3 1338.1,236.3 1340.2,236.6 1342.3,237.1 1344.4,237.7 1346.5,238.6 1348.5,239.6 1350.5,240.8 1352.4,242.1 1354.2,243.5 1356.0,245.0 1357.7,246.5 1359.3,248.1 1360.9,249.8 1362.4,251.4 1363.8,253.0 1365.1,254.6 1366.3,256.1 1367.5,257.6 1368.5,258.9 1369.5,260.2 1370.4,261.3 1371.2,262.2 1371.9,262.9 M1243.2,245.1 1246.8,244.1 1250.4,243.1 1254.0,242.1 1257.7,241.1 1261.3,240.1 1265.0,239.2 1268.6,238.3 1272.2,237.4 1275.9,236.6 1279.4,235.8 1283.0,235.0 1286.5,234.3 1290.0,233.7 1293.5,233.1 1296.9,232.6 1300.2,232.1 1303.5,231.8 1306.8,231.5 1310.0,231.3 1313.1,231.2 1316.2,231.2 1319.2,231.3 1322.1,231.5 1325.0,231.9 1327.8,232.4 1330.4,233.1 1333.0,234.0 1335.5,235.0 1337.9,236.1 1340.3,237.3 1342.7,238.7 1345.0,240.1 1347.4,241.6 1349.8,243.1 1352.2,244.7 1354.7,246.4 1357.3,248.1 1359.9,249.7 1362.7,251.4 1365.5,253.1 1368.5,254.7 1371.6,256.3 1374.8,257.8 1378.2,259.3 1381.7,260.7 1385.4,261.9 1389.3,263.1 1393.4,264.2 1397.9,265.2 1402.6,266.3 1407.6,267.3 1412.8,268.2 1418.2,269.1 1423.7,270.0 1429.2,270.9 1434.9,271.7 1440.5,272.5 1446.2,273.2 1451.8,274.0 1457.3,274.6 1462.7,275.3 1468.0,275.8 1473.1,276.4 1477.9,276.9 1482.5,277.4 1486.9,277.8 1490.9,278.2 1494.6,278.5 1497.9,278.8 1500.8,279.1 1503.3,279.3 M1211.6,319.7 1212.8,317.3 1213.9,314.9 1215.0,312.3 1216.1,309.6 1217.3,306.9 1218.4,304.1 1219.6,301.2 1220.9,298.3 1222.3,295.4 1223.7,292.5 1225.3,289.7 1227.0,286.9 1228.9,284.2 1230.9,281.5 1233.2,279.0 1235.6,276.5 1238.4,274.3 1241.3,272.1 1244.6,270.1 1248.1,268.1 1251.9,266.1 1256.0,264.2 1260.3,262.4 1264.8,260.5 1269.5,258.8 1274.4,257.0 1279.5,255.4 1284.7,253.8 1290.0,252.3 1295.5,250.9 1301.0,249.5 1306.6,248.2 1312.2,246.9 1317.9,245.8 1323.5,244.7 1329.1,243.7 1334.6,242.8 1340.1,241.9 1345.4,241.2 1350.7,240.5 1355.7,239.9 1360.7,239.4 1365.6,239.0 1370.6,238.8 1375.7,238.6 1380.8,238.6 1386.0,238.7 1391.3,238.9 1396.5,239.2 1401.8,239.6 1407.0,240.0 1412.1,240.4 1417.2,240.9 1422.1,241.5 1427.0,242.0 1431.8,242.6 1436.4,243.2 1440.8,243.8 1445.0,244.4 1449.1,244.9 1452.9,245.5 1456.5,246.0 1459.9,246.5 1462.9,246.9 1465.7,247.2 1468.1,247.5 M1352.7,256.9 1356.1,255.2 1359.3,253.4 1362.4,251.4 1365.3,249.5 1368.1,247.5 1370.8,245.4 1373.4,243.3 1376.0,241.2 1378.5,239.1 1380.9,237.1 1383.4,235.0 1385.9,233.0 1388.5,231.1 1391.1,229.2 1393.8,227.4 1396.6,225.7 1399.5,224.2 1402.6,222.7 1405.8,221.4 1409.2,220.2 1412.7,219.2 1416.5,218.3 1420.6,217.7 1424.9,217.2 1429.5,216.9 1434.5,216.7 1439.7,216.8 1445.1,216.9 1450.7,217.3 1456.4,217.7 1462.2,218.2 1468.1,218.8 1474.0,219.5 1479.9,220.2 1485.8,220.9 1491.6,221.7 1497.3,222.5 1502.8,223.2 1508.1,224.0 1513.2,224.6 1518.1,225.3 1522.6,225.8 1526.9,226.3 1530.8,226.8 1534.2,227.1 1537.3,227.3 1539.9,227.4 M1381.9,230.2 1387.2,229.6 1392.4,229.0 1397.4,228.5 1402.3,228.0 1406.9,227.5 1411.5,227.0 1415.9,226.5 1420.2,226.1 1424.5,225.6 1428.7,225.1 1432.8,224.6 1436.9,224.1 1440.9,223.6 1444.9,223.2 1448.8,222.7 1452.7,222.3 1456.6,222.0 1460.4,221.6 1464.3,221.3 1468.1,221.1 1471.9,220.9 1475.6,220.7 1479.4,220.6 1483.2,220.6 1487.0,220.6 1490.8,220.6 1494.6,220.7 1498.4,220.9 1502.2,221.1 1506.1,221.3 1510.1,221.7 1514.1,222.1 1518.2,222.5 1522.4,223.1 1526.5,223.6 1530.7,224.2 1534.9,224.9 1539.0,225.5 1543.1,226.2 1547.1,226.9 1551.0,227.5 1554.8,228.2 1558.5,228.9 1562.1,229.5 1565.5,230.1 1568.8,230.6 1571.9,231.2 1574.8,231.6 1577.5,232.1 1579.9,232.5 1582.1,232.8 1584.1,233.1 1585.8,233.3 M1235.0,263.4 1239.8,262.3 1245.0,261.0 1250.5,259.6 1256.2,258.1 1262.3,256.4 1268.5,254.6 1275.0,252.8 1281.6,250.8 1288.4,248.9 1295.2,246.8 1302.2,244.8 1309.1,242.8 1316.1,240.7 1323.1,238.7 1330.0,236.8 1336.9,234.9 1343.7,233.1 1350.3,231.4 1356.8,229.8 1363.1,228.3 1369.2,227.0 1375.0,225.9 1380.6,224.9 1386.1,224.1 1391.5,223.5 1396.9,222.9 1402.3,222.5 1407.6,222.1 1412.9,221.8 1418.1,221.6 1423.3,221.5 1428.5,221.4 1433.6,221.4 1438.6,221.4 1443.6,221.4 1448.6,221.5 1453.5,221.6 1458.3,221.7 1463.1,221.8 1467.8,221.9 1472.4,222.0 1476.9,222.0 1481.4,222.1 1485.7,222.1 1489.9,222.0 1494.1,221.9 1498.1,221.7 1502.0,221.5 1505.8,221.2 1509.6,220.9 1513.3,220.7 1516.9,220.4 1520.4,220.1 1523.8,219.8 1527.1,219.5 1530.2,219.2 1533.3,218.9 1536.3,218.6 1539.1,218.3 1541.8,218.0 1544.3,217.7 1546.8,217.4 1549.0,217.1 1551.2,216.8 1553.2,216.5 1555.1,216.2 1556.8,215.9 1558.4,215.6 1559.8,215.3 1561.1,215.1 1562.3,214.8 M1245.9,162.8 1249.7,163.7 1253.4,164.9 1257.0,166.4 1260.6,168.2 1264.1,170.1 1267.6,172.3 1271.1,174.6 1274.6,177.0 1278.2,179.4 1281.8,181.9 1285.4,184.4 1289.1,186.9 1292.9,189.2 1296.8,191.5 1300.8,193.6 1305.0,195.5 1309.3,197.3 1313.7,198.8 1318.4,200.0 1323.2,200.9 1328.2,201.4 1333.5,201.6 1339.0,201.4 1344.9,200.9 1351.0,200.2 1357.4,199.2 1364.1,197.9 1370.9,196.5 1377.9,194.9 1385.1,193.2 1392.3,191.4 1399.6,189.5 1406.9,187.5 1414.3,185.5 1421.6,183.6 1428.9,181.6 1436.1,179.7 1443.2,177.9 1450.1,176.2 1456.9,174.6 1463.5,173.1 1469.9,171.9 1475.9,170.8 1481.7,170.0 1487.2,169.4 1492.3,169.1 1497.1,169.0 1501.8,169.1 1506.4,169.4 1510.8,169.9 1515.1,170.5 1519.2,171.3 1523.2,172.1 1527.0,173.1 1530.7,174.1 1534.3,175.2 1537.7,176.3 1541.0,177.4 1544.1,178.6 1547.1,179.7 1549.9,180.8 1552.6,181.9 1555.1,182.9 1557.5,183.9 1559.8,184.8 1561.8,185.6 1563.8,186.3 1565.6,186.9 1567.2,187.4 1568.7,187.7 M1323.9,203.7 1330.1,203.7 1336.6,203.5 1343.5,203.2 1350.5,202.8 1357.8,202.2 1365.2,201.6 1372.7,200.9 1380.3,200.1 1388.0,199.2 1395.6,198.3 1403.2,197.3 1410.7,196.3 1418.1,195.3 1425.3,194.2 1432.3,193.2 1439.1,192.2 1445.6,191.3 1451.8,190.4 1457.6,189.6 1463.1,188.9 1468.1,188.3 1472.6,187.8 1476.8,187.4 1480.7,187.1 1484.4,186.9 1487.8,186.8 1491.0,186.8 1494.0,186.8 1496.8,187.0 1499.5,187.1 1501.9,187.4 1504.2,187.7 1506.3,188.0 1508.4,188.4 1510.3,188.9 1512.0,189.3 1513.7,189.8 1515.3,190.3 1516.9,190.8 1518.3,191.2 1519.7,191.7 1521.1,192.1 1522.4,192.5 1523.7,192.8 1525.0,193.1 1526.3,193.3 M1185.9,238.9 1186.8,236.5 1187.9,234.5 1189.1,232.6 1190.4,231.1 1191.8,229.7 1193.2,228.6 1194.6,227.5 1196.1,226.6 1197.5,225.7 1199.0,225.0 1200.6,224.4 1202.2,223.9 1203.9,223.5 1205.6,223.1 1207.5,222.9 1209.4,222.7 1211.4,222.6 1213.5,222.5 1215.7,222.5 1218.1,222.5 1220.5,222.6 1223.1,222.8 1225.8,222.9 1228.6,223.1 1231.6,223.4 1234.7,223.6 1238.0,223.9 1241.5,224.2 1245.2,224.6 1249.4,225.2 1254.0,225.9 1258.9,226.7 1264.0,227.6 1269.4,228.6 1275.0,229.7 1280.8,230.9 1286.7,232.2 1292.6,233.5 1298.7,234.9 1304.7,236.3 1310.7,237.7 1316.6,239.1 1322.5,240.6 1328.1,242.0 1333.6,243.4 1338.9,244.7 1343.8,246.0 1348.5,247.3 1352.8,248.4 1356.6,249.5 1360.1,250.4 1363.0,251.2 M1407.5,215.6 1410.7,214.5 1413.8,213.3 1416.8,212.1 1419.7,210.8 1422.6,209.4 1425.4,208.1 1428.2,206.7 1431.0,205.3 1433.8,203.9 1436.7,202.5 1439.6,201.1 1442.5,199.8 1445.6,198.5 1448.7,197.3 1452.0,196.2 1455.4,195.1 1459.0,194.2 1462.7,193.3 1466.7,192.5 1470.9,191.8 1475.3,191.1 1479.8,190.4 1484.5,189.8 1489.3,189.2 1494.1,188.7 1499.0,188.2 1503.9,187.8 1508.8,187.4 1513.7,187.1 1518.5,186.7 1523.3,186.5 1528.0,186.2 1532.5,186.0 1536.8,185.8 1541.0,185.6 1545.0,185.5 1548.7,185.3 1552.2,185.2 1555.3,185.1 1558.1,185.0 1560.6,184.9 M1213.2,222.2 1217.3,222.2 1221.3,222.3 1225.4,222.4 1229.4,222.6 1233.5,222.8 1237.6,223.1 1241.6,223.4 1245.6,223.8 1249.6,224.3 1253.5,224.8 1257.3,225.3 1261.1,225.9 1264.7,226.5 1268.3,227.1 1271.8,227.8 1275.2,228.5 1278.4,229.2 1281.5,230.1 1284.5,231.0 1287.4,232.0 1290.2,233.1 1292.9,234.2 1295.5,235.4 1298.1,236.6 1300.6,237.8 1303.0,239.1 1305.5,240.4 1307.9,241.7 1310.3,243.0 1312.7,244.3 1315.1,245.6 1317.6,246.9 1320.1,248.2 1322.6,249.5 1325.2,250.7 1327.9,251.9 1330.7,253.0 1333.6,254.1 1336.5,255.2 1339.6,256.2 1342.9,257.2 1346.5,258.2 1350.2,259.3 1354.2,260.3 1358.3,261.4 1362.5,262.6 1366.9,263.7 1371.4,264.8 1375.9,266.0 1380.4,267.2 1385.0,268.3 1389.5,269.5 1394.0,270.7 1398.4,271.8 1402.7,273.0 1406.9,274.1 1411.0,275.2 1414.9,276.3 1418.5,277.3 1422.0,278.3 1425.1,279.2 1428.0,280.1 1430.6,281.0 1432.8,281.8 M1144.7,225.1 1146.8,222.7 1149.0,220.4 1151.3,218.2 1153.7,216.1 1156.2,214.1 1158.9,212.3 1161.7,210.6 1164.7,209.1 1167.8,207.8 1171.1,206.7 1174.7,205.9 1178.5,205.3 1182.6,205.1 1186.9,205.0 1191.4,205.2 1196.1,205.6 1200.9,206.2 1205.9,207.0 1211.0,207.8 1216.2,208.8 1221.5,209.9 1226.8,211.1 1232.2,212.3 1237.6,213.5 1242.9,214.7 1248.2,215.9 1253.5,217.1 1258.7,218.1 1263.8,219.1 1268.7,219.9 1273.5,220.5 1278.2,221.0 1282.6,221.2 1286.8,221.2 1290.8,220.9 1294.6,220.5 1298.2,219.8 1301.7,219.0 1305.1,218.1 1308.3,217.0 1311.4,215.7 1314.5,214.4 1317.4,212.9 1320.3,211.4 1323.1,209.8 1325.9,208.2 1328.7,206.5 1331.5,204.8 1334.3,203.2 1337.1,201.6 1339.9,200.0 1342.8,198.5 1345.7,197.1 1348.8,195.8 1351.9,194.6 1355.2,193.6 1358.6,192.8 1362.1,192.1 1365.9,191.6 1369.9,191.2 1374.1,191.0 1378.5,190.9 1383.1,190.9 1387.9,190.9 1392.7,191.1 1397.6,191.4 1402.6,191.7 1407.6,192.1 1412.6,192.6 1417.6,193.1 1422.5,193.6 1427.3,194.2 1432.0,194.8 1436.5,195.4 1440.9,195.9 1445.1,196.5 1449.0,197.0 1452.7,197.5 1456.1,197.9 1459.2,198.2 1461.9,198.5 1464.2,198.7 M1234.6,289.2 1235.5,285.1 1236.5,281.1 1237.7,277.2 1239.0,273.4 1240.4,269.9 1242.0,266.5 1243.8,263.5 1245.9,260.7 1248.1,258.2 1250.6,256.2 1253.3,254.4 1256.3,252.9 1259.5,251.5 1262.9,250.3 1266.5,249.3 1270.2,248.5 1274.1,247.8 1278.0,247.3 1282.1,246.8 1286.2,246.5 1290.3,246.3 1294.5,246.2 1298.6,246.2 1302.8,246.2 1306.8,246.3 1310.8,246.5 1314.7,246.6 1318.5,246.8 1322.2,247.0 1325.7,247.2 1329.1,247.4 1332.3,247.5 1335.2,247.6 1338.0,247.6 1340.6,247.7 1343.2,247.8 1345.7,247.9 1348.2,248.1 1350.7,248.4 1353.1,248.7 1355.5,249.0 1357.8,249.4 1360.1,249.7 1362.4,250.1 1364.5,250.6 1366.7,251.0 1368.8,251.4 1370.8,251.8 1372.8,252.3 1374.6,252.7 1376.5,253.1 1378.2,253.4 1379.8,253.8 1381.4,254.1 1382.9,254.3 1384.2,254.6 1385.5,254.7 1386.6,254.8 M1202.0,334.6 1204.0,334.5 1205.9,334.4 1207.8,334.2 1209.6,333.9 1211.3,333.5 1212.9,332.9 1214.5,332.3 1215.9,331.5 1217.2,330.6 1218.3,329.5 1219.2,328.2 1219.9,326.7 1220.4,324.9 1220.7,322.9 1220.9,320.8 1221.0,318.5 1221.0,316.1 1221.0,313.6 1220.9,311.0 1220.8,308.3 1220.8,305.6 1220.7,302.8 1220.8,300.1 1220.9,297.3 1221.2,294.6 1221.5,292.0 1222.1,289.5 1222.8,287.0 1223.8,284.7 1225.0,282.6 1226.4,280.6 1228.2,278.8 1230.2,277.3 1232.6,275.8 1235.1,274.5 1237.8,273.2 1240.7,271.9 1243.8,270.7 1247.1,269.6 1250.4,268.6 1254.0,267.6 1257.6,266.7 1261.4,265.8 1265.3,265.0 1269.3,264.3 1273.3,263.6 1277.5,263.0 1281.7,262.4 1285.9,261.8 1290.2,261.3 1294.6,260.9 1299.0,260.5 1303.4,260.2 1307.8,259.9 1312.2,259.7 1316.6,259.6 1321.0,259.5 1325.5,259.6 1330.3,259.8 1335.4,260.2 1340.8,260.8 1346.3,261.4 1352.0,262.2 1357.9,263.1 1363.8,264.2 1369.8,265.3 1375.9,266.5 1382.0,267.7 1388.0,269.1 1393.9,270.5 1399.8,271.9 1405.5,273.3 1411.0,274.8 1416.4,276.2 1421.5,277.6 1426.3,279.0 1430.8,280.3 1435.0,281.5 1438.8,282.6 1442.1,283.6 1445.0,284.5 M1307.4,199.7 1313.4,200.1 1319.5,200.6 1325.5,201.1 1331.6,201.7 1337.7,202.3 1343.7,202.9 1349.8,203.6 1355.8,204.2 1361.7,204.7 1367.6,205.2 1373.4,205.7 1379.1,206.0 1384.6,206.2 1390.0,206.3 1395.2,206.3 1400.3,206.1 1405.3,205.9 1410.1,205.5 1414.9,205.1 1419.5,204.6 1424.1,204.1 1428.5,203.5 1432.9,202.9 1437.1,202.3 1441.3,201.6 1445.3,200.9 1449.3,200.3 1453.2,199.6 1457.0,198.9 1460.8,198.3 1464.4,197.7 1468.1,197.2 1471.7,196.7 1475.2,196.3 1478.7,196.0 1482.2,195.8 1485.7,195.6 1489.2,195.6 1492.7,195.7 1496.2,195.9 1499.9,196.2 1503.6,196.6 1507.3,197.2 1511.2,197.8 1515.0,198.6 1518.9,199.4 1522.8,200.3 1526.7,201.2 1530.5,202.2 1534.4,203.2 1538.2,204.2 1541.9,205.3 1545.5,206.3 1549.1,207.3 1552.5,208.3 1555.8,209.2 1559.0,210.1 1561.9,210.9 1564.7,211.7 1567.3,212.4 1569.6,212.9 1571.7,213.4 1573.6,213.8 M1271.1,255.2 1277.2,253.6 1283.4,252.0 1289.7,250.4 1296.0,248.8 1302.4,247.2 1308.7,245.7 1315.0,244.2 1321.2,242.8 1327.4,241.5 1333.4,240.4 1339.3,239.4 1345.0,238.5 1350.5,237.9 1355.8,237.4 1360.8,237.2 1365.7,237.2 1370.5,237.3 1375.3,237.7 1380.0,238.2 1384.7,238.9 1389.3,239.7 1393.8,240.7 1398.2,241.7 1402.6,242.9 1406.9,244.1 1411.1,245.4 1415.2,246.8 1419.3,248.1 1423.3,249.5 1427.2,251.0 1431.0,252.4 1434.7,253.7 1438.3,255.1 1441.9,256.4 1445.3,257.6 1448.7,258.7 1451.9,259.8 1455.1,260.7 1458.2,261.6 1461.2,262.4 1464.1,263.1 1467.0,263.9 1469.8,264.7 1472.5,265.4 1475.1,266.2 1477.7,266.9 1480.3,267.7 1482.7,268.4 1485.1,269.2 1487.5,269.9 1489.7,270.7 1491.9,271.4 1494.1,272.2 1496.1,272.9 1498.1,273.7 1500.0,274.4 1501.9,275.2 1503.6,275.9 1505.3,276.6 1506.9,277.4 1508.4,278.1 1509.8,278.7 1511.1,279.4 M1172.1,133.5 1172.9,130.8 1174.0,128.0 1175.3,125.4 1177.0,122.9 1179.0,120.5 1181.4,118.2 1184.1,116.0 1187.2,113.9 1190.6,111.8 1194.2,109.9 1198.0,108.0 1202.0,106.1 1206.2,104.4 1210.6,102.7 1215.2,101.1 1219.8,99.6 1224.7,98.2 1229.6,96.8 1234.6,95.4 1239.8,94.2 1245.0,93.0 1250.3,91.8 1255.7,90.7 1261.1,89.6 1266.6,88.6 1272.1,87.7 1277.6,86.8 1283.2,86.0 1288.7,85.3 1294.2,84.7 1299.7,84.1 1305.2,83.8 1311.1,83.6 1317.2,83.7 1323.5,84.0 1329.9,84.4 1336.5,85.0 1343.1,85.8 1349.8,86.7 1356.5,87.7 1363.1,88.9 1369.7,90.2 1376.1,91.6 1382.4,93.0 1388.5,94.5 1394.4,96.0 1400.0,97.6 1405.4,99.1 1410.5,100.5 1415.2,101.9 1419.7,103.2 1423.7,104.4 1427.4,105.4 1430.7,106.2 1433.5,106.9 M1121.3,160.3 1120.6,159.2 1119.9,158.2 1119.5,157.2 1119.2,156.3 1119.2,155.3 1119.4,154.4 1119.9,153.6 1120.8,152.6 1121.9,151.7 1123.4,150.8 1125.1,149.8 1127.1,148.7 1129.2,147.6 1131.6,146.5 1134.1,145.3 1136.8,144.1 1139.7,142.8 1142.7,141.6 1145.8,140.3 1149.1,139.0 1152.4,137.7 1155.8,136.4 1159.3,135.1 1162.9,133.9 1166.5,132.7 1170.2,131.6 1173.9,130.5 1177.6,129.5 1181.3,128.7 1185.0,127.9 1188.6,127.3 1192.2,126.9 1195.8,126.6 1199.5,126.5 1203.4,126.5 1207.5,126.8 1211.7,127.3 1216.2,128.0 1220.7,128.8 1225.4,129.7 1230.2,130.7 1235.0,131.9 1239.8,133.1 1244.6,134.4 1249.5,135.7 1254.2,137.0 1258.9,138.3 1263.5,139.6 1268.0,140.9 1272.3,142.1 1276.4,143.2 1280.3,144.2 1284.0,145.1 1287.4,145.9 1290.5,146.5 1293.3,147.0 1295.8,147.3 M1320.2,257.3 1326.8,255.6 1333.4,254.1 1340.0,252.9 1346.5,251.9 1353.0,251.1 1359.5,250.7 1366.0,250.5 1372.7,250.7 1379.5,251.1 1386.4,251.7 1393.5,252.6 1400.6,253.6 1407.8,254.8 1415.0,256.2 1422.3,257.8 1429.5,259.4 1436.7,261.1 1443.8,262.9 1450.9,264.7 1457.9,266.6 1464.8,268.4 1471.5,270.3 1478.1,272.1 1484.5,273.8 1490.8,275.4 1496.8,276.9 1502.6,278.3 1508.1,279.5 1513.4,280.6 1518.4,281.4 1523.2,282.0 1527.9,282.6 1532.4,283.1 1536.7,283.4 1541.0,283.7 1545.1,283.9 1549.1,284.1 1552.9,284.1 1556.6,284.1 1560.2,284.1 1563.7,284.0 1567.0,283.8 1570.2,283.6 1573.3,283.4 1576.3,283.1 1579.1,282.8 1581.8,282.5 1584.3,282.2 1586.8,281.9 1589.1,281.6 1591.2,281.3 1593.2,281.0 1595.1,280.7 1596.9,280.5 M1144.8,228.5 1147.8,229.1 1150.9,229.7 1154.0,230.3 1157.2,230.9 1160.5,231.4 1163.9,231.8 1167.4,232.2 1171.0,232.5 1174.6,232.6 1178.3,232.7 1182.1,232.7 1185.9,232.6 1189.8,232.6 1193.7,232.5 1197.7,232.3 1201.7,232.1 1205.8,231.9 1210.0,231.7 1214.2,231.4 1218.4,231.1 1222.8,230.8 1227.1,230.5 1231.6,230.1 1236.1,229.7 1240.7,229.4 1245.3,229.0 1250.0,228.6 1254.8,228.2 1259.7,227.8 1264.6,227.5 1269.6,227.1 1274.7,226.8 1280.0,226.4 1285.4,226.1 1291.1,225.8 1297.1,225.4 1303.3,225.0 1309.7,224.6 1316.4,224.2 1323.2,223.8 1330.1,223.4 1337.1,223.0 1344.2,222.6 1351.3,222.2 1358.5,221.8 1365.6,221.4 1372.7,221.1 1379.8,220.7 1386.7,220.4 1393.5,220.1 1400.1,219.8 1406.5,219.5 1412.6,219.3 1418.6,219.1 1424.2,219.0 1429.4,218.8 1434.3,218.7 1439.0,218.7 1443.4,218.7 1447.6,218.8 1451.5,218.9 1455.3,219.0 1458.9,219.2 1462.3,219.4 1465.6,219.6 1468.6,219.8 1471.5,220.1 1474.2,220.4 1476.7,220.7 1479.1,221.0 1481.3,221.3 1483.4,221.6 1485.4,221.9 1487.2,222.2 1488.9,222.4 1490.5,222.6 1492.0,222.9 1493.4,223.0 1494.7,223.2 1495.9,223.3 1497.1,223.3 M1170.9,275.4 1174.2,273.8 1177.8,272.3 1181.5,270.6 1185.5,269.0 1189.6,267.2 1194.0,265.3 1198.6,263.3 1203.4,261.1 1208.4,258.8 1213.5,256.5 1218.7,254.1 1224.0,251.6 1229.4,249.1 1234.8,246.6 1240.4,244.1 1245.9,241.7 1251.5,239.3 1257.1,236.9 1262.6,234.6 1268.2,232.4 1273.7,230.3 1279.1,228.3 1284.5,226.5 1289.8,224.9 1295.0,223.4 1300.2,222.1 1305.2,221.0 1310.1,220.1 1315.0,219.4 1319.9,218.9 1324.8,218.7 1329.8,218.6 1334.9,218.6 1339.9,218.8 1345.0,219.2 1350.1,219.6 1355.2,220.1 1360.3,220.7 1365.4,221.4 1370.5,222.1 1375.6,222.8 1380.7,223.5 1385.7,224.3 1390.7,225.0 1395.6,225.6 1400.5,226.3 1405.3,226.8 1410.0,227.3 1414.5,227.7 1419.0,227.9 1423.4,228.1 1427.6,228.1 1431.7,228.0 1435.7,227.8 1439.8,227.5 1443.7,227.2 1447.6,226.8 1451.5,226.4 1455.2,226.0 1458.9,225.5 1462.4,225.0 1465.9,224.4 1469.2,223.9 1472.4,223.3 1475.5,222.8 1478.5,222.2 1481.4,221.7 1484.1,221.2 1486.7,220.7 1489.2,220.3 1491.5,219.9 1493.7,219.6 1495.7,219.3 1497.6,219.0 1499.3,218.9 1500.8,218.8 M1226.4,214.6 1229.7,214.0 1233.1,213.5 1236.4,213.1 1239.7,212.8 1242.9,212.5 1246.1,212.3 1249.3,212.2 1252.4,212.1 1255.5,212.1 1258.5,212.1 1261.5,212.2 1264.5,212.3 1267.4,212.5 1270.3,212.7 1273.1,213.0 1275.9,213.3 1278.7,213.6 1281.5,214.1 1284.2,214.6 1286.7,215.3 1289.1,216.1 1291.4,217.1 1293.6,218.3 1295.7,219.5 1297.8,220.9 1299.9,222.4 1301.9,224.0 1304.0,225.6 1306.1,227.3 1308.3,229.1 1310.5,230.8 1312.9,232.6 1315.3,234.3 1317.9,236.1 1320.7,237.7 1323.6,239.3 1326.7,240.8 1330.1,242.3 1333.6,243.5 1337.4,244.7 1341.4,245.7 1345.7,246.6 1350.3,247.3 1355.4,247.9 1360.9,248.4 1366.8,248.9 1372.9,249.2 1379.3,249.5 1385.9,249.7 1392.7,249.8 1399.5,249.9 1406.4,249.9 1413.4,249.9 1420.2,249.9 1427.0,249.8 1433.7,249.7 1440.2,249.6 1446.5,249.5 1452.5,249.4 1458.2,249.4 1463.6,249.3 1468.6,249.3 1473.1,249.3 1477.2,249.3 1480.7,249.4 1483.7,249.5 M1161.4,168.6 1162.9,167.9 1164.6,167.3 1166.6,166.8 1168.7,166.5 1171.1,166.2 1173.6,166.0 1176.3,165.9 1179.2,165.9 1182.2,166.0 1185.3,166.2 1188.6,166.5 1192.0,166.8 1195.4,167.2 1199.0,167.7 1202.5,168.2 1206.2,168.8 1209.9,169.4 1213.6,170.1 1217.2,170.8 1220.9,171.5 1224.5,172.3 1228.1,173.1 1231.8,174.0 1235.7,175.1 1239.7,176.4 1243.9,177.7 1248.3,179.2 1252.7,180.8 1257.3,182.5 1261.8,184.3 1266.4,186.2 1271.0,188.1 1275.6,190.1 1280.1,192.1 1284.5,194.1 1288.9,196.2 1293.1,198.2 1297.1,200.2 1301.0,202.2 1304.7,204.2 1308.2,206.0 1311.4,207.8 1314.4,209.5 1317.0,211.1 1319.4,212.5 1321.4,213.8 M1164.7,156.4 1167.3,154.9 1170.0,153.4 1172.8,152.0 1175.6,150.6 1178.5,149.3 1181.4,148.1 1184.5,146.9 1187.5,145.8 1190.6,144.8 1193.8,144.0 1197.0,143.2 1200.3,142.5 1203.6,141.9 1207.0,141.5 1210.4,141.1 1213.8,140.9 1217.4,140.9 1221.0,141.0 1224.6,141.2 1228.4,141.5 1232.1,142.1 1236.1,142.8 1240.5,143.8 1245.1,145.1 1250.0,146.6 1255.1,148.4 1260.4,150.3 1265.9,152.4 1271.5,154.6 1277.3,156.9 1283.1,159.3 1288.9,161.8 1294.8,164.3 1300.6,166.8 1306.3,169.3 1312.0,171.8 1317.5,174.2 1322.8,176.5 1327.9,178.7 1332.7,180.8 1337.2,182.7 1341.4,184.4 1345.2,185.9 1348.6,187.1 1351.6,188.1 M1185.1,195.7 1188.1,195.6 1191.3,195.5 1194.6,195.4 1197.9,195.3 1201.3,195.2 1204.8,195.2 1208.4,195.3 1212.1,195.4 1215.9,195.6 1219.7,195.8 1223.6,196.0 1227.7,196.4 1231.8,196.7 1236.0,197.1 1240.2,197.5 1244.6,197.9 1249.0,198.3 1253.4,198.8 1258.0,199.2 1262.6,199.6 1267.3,200.1 1272.0,200.5 1276.8,200.9 1281.6,201.3 1286.5,201.7 1291.4,202.0 1296.5,202.3 1301.5,202.5 1306.7,202.8 1311.9,202.9 1317.3,203.1 1322.7,203.3 1328.3,203.4 1333.9,203.5 1339.6,203.6 1345.4,203.7 1351.2,203.8 1357.2,203.9 1363.1,203.9 1369.1,204.0 1375.2,204.2 1381.3,204.3 1387.4,204.4 1393.6,204.6 1399.7,204.8 1405.9,205.1 1412.1,205.4 1418.3,205.7 1424.4,206.0 1430.5,206.5 1436.6,207.0 1442.7,207.5 1448.8,208.1 1455.1,208.8 1461.7,209.6 1468.3,210.5 1475.1,211.4 1482.0,212.4 1488.9,213.5 1495.9,214.6 1502.8,215.7 1509.7,216.9 1516.5,218.1 1523.1,219.4 1529.6,220.6 1536.0,221.8 1542.1,223.0 1548.0,224.3 1553.6,225.4 1558.9,226.6 1563.8,227.7 1568.4,228.7 1572.6,229.7 1576.4,230.5 1579.8,231.4 1582.7,232.1 M1250.6,134.5 1256.8,136.4 1263.2,138.6 1269.7,141.0 1276.3,143.7 1283.0,146.5 1289.7,149.5 1296.5,152.6 1303.3,155.7 1310.1,158.8 1316.8,161.9 1323.5,164.9 1330.1,167.7 1336.6,170.4 1342.9,172.9 1349.1,175.1 1355.2,177.0 1361.0,178.6 1366.6,179.8 1371.9,180.5 1377.1,180.9 1382.1,180.9 1387.0,180.7 1391.9,180.3 1396.6,179.6 1401.2,178.7 1405.8,177.6 1410.2,176.3 1414.6,174.9 1418.8,173.4 1423.1,171.7 1427.2,170.0 1431.3,168.1 1435.3,166.3 1439.2,164.4 1443.1,162.5 1446.9,160.6 1450.7,158.7 1454.5,157.0 1458.2,155.3 1461.8,153.7 1465.5,152.2 1469.1,150.9 1472.7,149.8 1476.2,148.8 1479.8,147.8 1483.4,146.9 1487.0,146.0 1490.6,145.1 1494.1,144.3 1497.6,143.6 1501.0,142.9 1504.4,142.2 1507.7,141.6 1510.9,141.1 1514.1,140.6 1517.1,140.2 1520.1,139.8 1522.9,139.4 1525.7,139.1 1528.3,138.9 1530.7,138.6 1533.1,138.5 1535.2,138.3 1537.3,138.2 1539.1,138.2 1540.8,138.1 1542.3,138.1" fill="none" stroke="#c8c8c8" stroke-width="1.1" stroke-linejoin="round"/><path d="M1011.5,253.5 1013.7,254.1 1016.3,254.8 1019.2,255.7 1022.3,256.7 1025.8,257.8 1029.4,259.1 1033.3,260.4 1037.3,261.8 1041.5,263.3 1045.8,264.7 1050.2,266.2 1054.7,267.7 1059.3,269.2 1063.9,270.7 1068.6,272.0 1073.2,273.3 1077.8,274.5 1082.3,275.6 1086.6,276.4 1090.8,277.0 1094.8,277.4 1098.6,277.7 1102.2,277.7 1105.5,277.6 1108.5,277.3 1111.4,276.8 1114.0,276.1 1116.5,275.4 1118.8,274.5 1120.9,273.5 1122.9,272.3 1124.8,271.1 1126.6,269.8 1128.3,268.5 1130.0,267.1 1131.6,265.6 1133.2,264.1 1134.8,262.5 1136.4,261.0 1138.1,259.4 1139.8,257.8 1141.7,256.3 1143.6,254.7 1145.7,253.2 1148.0,251.7 1150.4,250.3 1153.1,248.9 1156.0,247.6 1159.0,246.2 1162.2,244.8 1165.5,243.3 1168.8,241.8 1172.3,240.3 1175.9,238.7 1179.6,237.0 1183.4,235.4 1187.3,233.7 1191.3,232.0 1195.4,230.4 1199.6,228.7 1204.0,227.1 1208.4,225.5 1212.9,224.0 1217.4,222.4 1222.1,221.0 1226.8,219.6 1231.6,218.3 1236.5,217.1 1241.5,216.0 1246.5,214.9 1251.6,214.0 1256.7,213.3 1262.0,212.6 1267.4,212.1 1273.0,211.7 1278.6,211.4 1284.4,211.2 1290.3,211.0 1296.3,211.0 1302.4,211.1 1308.5,211.2 1314.7,211.3 1321.0,211.6 1327.3,211.8 1333.7,212.1 1340.1,212.5 1346.5,212.9 1353.0,213.2 1359.5,213.6 1366.0,214.0 1372.4,214.4 1378.9,214.8 1385.3,215.1 1391.6,215.4 1398.0,215.7 1404.2,215.9 M1011.5,253.5 1014.5,254.1 1018.1,254.9 1022.2,255.9 1026.8,257.0 1031.9,258.3 1037.4,259.7 1043.3,261.1 1049.6,262.6 1056.1,264.2 1062.9,265.9 1069.8,267.5 1077.0,269.1 1084.2,270.8 1091.4,272.4 1098.7,273.9 1105.7,275.1 1112.7,276.3 1119.3,277.2 1125.7,277.9 1131.7,278.4 1137.3,278.6 1142.4,278.5 1147.1,278.0 1151.2,277.2 1154.8,276.0 1158.3,274.5 1161.5,272.7 1164.5,270.5 1167.3,268.1 1169.9,265.5 1172.4,262.6 1174.7,259.5 1176.9,256.2 1178.9,252.8 1180.8,249.2 1182.7,245.5 1184.4,241.8 1186.1,238.0 1187.6,234.2 1189.1,230.4 1190.5,226.6 1191.9,222.9 1193.1,219.2 1194.3,215.7 1195.4,212.2 1196.4,208.9 1197.4,205.7 1198.2,202.7 1198.9,199.8 1199.2,196.8 1199.2,193.7 1198.9,190.5 1198.4,187.3 1197.7,184.1 1196.8,180.8 1195.6,177.5 1194.4,174.2 1193.0,170.9 1191.5,167.6 1190.0,164.3 1188.5,161.0 1187.0,157.7 1185.5,154.5 M1011.5,253.5 1014.1,254.2 1017.1,255.0 1020.6,256.1 1024.5,257.3 1028.6,258.6 1033.1,260.0 1037.8,261.5 1042.7,263.0 1047.8,264.5 1053.0,266.0 1058.3,267.4 1063.6,268.7 1069.0,269.9 1074.3,270.9 1079.7,271.7 1084.9,272.3 1090.1,272.7 1095.1,273.0 1100.1,273.0 1104.9,272.8 1109.5,272.3 1114.0,271.5 1118.1,270.5 1122.0,269.1 1125.6,267.4 1129.1,265.4 1132.6,263.1 1135.9,260.5 1139.2,257.7 1142.3,254.7 1145.3,251.5 1148.2,248.1 1151.0,244.7 1153.6,241.1 1156.1,237.4 1158.5,233.6 1160.7,229.9 1162.9,226.1 1164.9,222.3 1166.8,218.5 1168.6,214.8 1170.4,211.2 1172.1,207.6 1173.7,204.2 1175.2,201.0 1176.8,197.8 1178.3,194.9 1179.8,192.2 1181.3,189.7 1182.7,187.1 1184.0,184.6 1185.3,182.1 1186.6,179.6 1187.8,177.2 1189.0,174.7 1190.2,172.4 1191.3,170.0 1192.5,167.7 1193.5,165.4 1194.6,163.2 1195.6,161.1 1196.6,158.9 1197.6,156.9 1198.5,154.9 1199.3,152.9 1200.2,151.0 1201.0,149.2 1201.8,147.5 1202.5,145.8 1203.3,144.2 1204.0,142.6 1204.8,141.2 1205.4,139.7 M1011.5,253.5 1013.4,253.8 1015.7,254.2 1018.3,254.8 1021.3,255.3 1024.5,255.9 1028.0,256.5 1031.6,257.1 1035.5,257.7 1039.4,258.1 1043.5,258.6 1047.6,258.9 1051.7,259.2 1055.9,259.3 1060.0,259.3 1064.0,259.2 1068.1,259.1 1072.1,258.8 1075.9,258.5 1079.6,258.0 1083.1,257.4 1086.4,256.6 1089.5,255.7 1092.3,254.6 1094.8,253.2 1097.0,251.7 1099.2,250.0 1101.1,248.1 1103.0,245.9 1104.7,243.7 1106.3,241.2 1107.9,238.6 1109.3,235.8 1110.6,232.9 1111.9,229.9 1113.1,226.7 1114.2,223.5 1115.2,220.1 1116.2,216.6 1117.1,213.1 1117.9,209.6 1118.7,206.0 1119.5,202.4 1120.2,198.8 1120.9,195.2 1121.6,191.7 1122.3,188.3 1122.9,184.9 1123.6,181.7 1124.3,178.5 1124.8,175.2 1125.2,171.8 1125.5,168.4 1125.8,165.0 1126.0,161.6 1126.1,158.2 1126.2,154.8 1126.2,151.4 1126.2,148.1 1126.3,144.7 1126.3,141.5 1126.4,138.2 1126.5,135.1 1126.6,131.9 1126.8,128.9 1127.1,125.9 1127.4,122.9 1127.8,120.1 1128.4,117.3 1129.0,114.6 1129.7,112.0 1130.5,109.6 1131.4,107.2 1132.4,104.9 1133.4,102.8 1134.4,100.6 M1011.5,253.5 1012.9,254.0 1014.6,254.6 1016.3,255.4 1018.3,256.2 1020.4,257.1 1022.5,258.1 1024.9,259.2 1027.3,260.3 1029.8,261.5 1032.4,262.7 1035.1,263.9 1037.8,265.2 1040.6,266.4 1043.5,267.6 1046.3,268.8 1049.2,269.9 1052.1,270.9 1055.0,271.8 1058.0,272.7 1061.0,273.4 1063.9,274.1 1066.7,274.6 1069.5,275.0 1072.2,275.3 1074.7,275.5 1077.3,275.6 1079.8,275.6 1082.2,275.5 1084.6,275.5 1087.0,275.3 1089.3,275.2 1091.7,275.0 1094.0,274.8 1096.3,274.6 1098.6,274.4 1101.0,274.3 1103.3,274.1 1105.7,274.0 1108.2,273.8 1110.7,273.7 1113.2,273.7 1115.8,273.6 1118.5,273.6 1121.3,273.6 1124.2,273.7 1127.2,273.8 1130.3,273.8 1133.6,274.0 1137.0,274.1 1140.6,274.2 1144.4,274.3 1148.3,274.4 1152.3,274.5 1156.5,274.5 1160.8,274.5 1165.1,274.4 1169.6,274.3 1174.2,274.2 1178.8,274.0 1183.4,273.8 1188.1,273.6 1192.8,273.3 1197.5,272.9 1202.1,272.6 1206.8,272.2 1211.4,271.8 1216.0,271.3 1220.4,270.9 1224.8,270.4 M1011.5,253.5 1014.3,254.0 1017.6,254.4 1021.2,255.0 1025.1,255.5 1029.4,256.1 1034.0,256.7 1038.7,257.3 1043.7,257.9 1048.9,258.6 1054.2,259.3 1059.7,260.0 1065.2,260.8 1070.8,261.5 1076.4,262.3 1082.0,263.1 1087.6,263.9 1093.2,264.7 1098.7,265.5 1104.1,266.2 1109.4,267.0 1114.6,267.8 1119.7,268.7 1124.6,269.6 1129.3,270.5 1134.0,271.6 1138.8,272.8 1143.7,274.2 1148.6,275.6 1153.5,277.2 1158.5,278.9 1163.5,280.7 1168.5,282.6 1173.5,284.5 1178.5,286.4 1183.5,288.4 1188.4,290.4 1193.3,292.4 1198.1,294.3 1202.8,296.2 1207.4,298.1 1211.9,299.9 1216.3,301.6 1220.5,303.2 1224.6,304.7 1228.6,306.0 1232.4,307.2 1236.1,308.2 1239.6,309.0 1242.9,309.7 1246.1,310.3 1249.3,310.9 1252.3,311.4 1255.3,311.8 1258.1,312.2 1260.9,312.5 1263.7,312.7 1266.3,312.8 1268.9,312.8 1271.5,312.8 1274.0,312.6 1276.4,312.4 1278.8,312.0 1281.2,311.6 1283.5,311.0 1285.8,310.3 1288.0,309.5 1290.2,308.5 1292.4,307.4 1294.5,306.2 1296.5,304.9 1298.5,303.4 1300.4,301.8 1302.2,299.9 1303.8,297.8 1305.2,295.3 1306.5,292.6 1307.5,289.6 1308.5,286.5 1309.3,283.2 1310.0,279.7 1310.6,276.1 1311.1,272.4 1311.5,268.6 1311.9,264.8 1312.2,261.0 1312.5,257.2 1312.8,253.5 1313.2,249.8 1313.5,246.2 1314.0,242.8 1314.5,239.5 1315.1,236.4 1315.9,233.5 1316.8,230.8 M1011.5,253.5 1013.2,254.2 1015.3,255.2 1017.6,256.3 1020.2,257.6 1023.0,259.0 1026.1,260.6 1029.3,262.2 1032.6,263.9 1036.1,265.6 1039.6,267.4 1043.3,269.2 1047.0,271.0 1050.7,272.7 1054.4,274.4 1058.0,276.0 1061.7,277.5 1065.2,279.0 1068.7,280.2 1071.9,281.5 1075.1,282.6 1078.1,283.5 1080.9,284.2 1083.4,284.6 1085.8,284.8 1087.8,284.8 1089.7,284.5 1091.4,284.1 1092.9,283.4 1094.3,282.5 1095.5,281.5 1096.7,280.4 1097.7,279.1 1098.7,277.8 1099.6,276.3 1100.5,274.8 1101.3,273.2 1102.2,271.5 1103.0,269.8 1104.0,268.1 1104.9,266.4 1106.0,264.8 1107.1,263.1 1108.3,261.5 1109.7,260.0 1111.2,258.6 1112.9,257.2 1114.8,256.0 1116.9,254.8 1119.2,253.8 1121.5,252.7 1123.9,251.7 1126.3,250.6 1128.8,249.5 1131.4,248.4 1134.1,247.3 1136.8,246.2 1139.6,245.1 1142.5,244.1 1145.5,243.0 1148.6,241.9 1151.7,240.8 1154.9,239.8 1158.3,238.8 1161.7,237.8 1165.2,236.8 1168.9,235.9 1172.6,234.9 1176.4,234.1 1180.4,233.3 1184.5,232.5 1188.6,231.7 1192.9,231.1 1197.4,230.5 1202.1,230.0 1207.1,229.7 1212.3,229.5 1217.8,229.3 1223.4,229.3 1229.1,229.3 1235.0,229.5 1241.0,229.6 1247.1,229.8 1253.2,230.1 1259.4,230.4 1265.6,230.7 1271.8,231.0 1277.9,231.2 1284.0,231.5 1290.0,231.7 1296.0,231.9 1301.7,232.1 1307.4,232.1 1312.8,232.1 1318.1,231.9 1323.1,231.7 1327.9,231.4 1332.5,230.8 1336.9,230.2 1341.2,229.4 1345.3,228.5 1349.3,227.5 1353.2,226.4 1357.0,225.2 M1011.5,253.5 1014.1,254.0 1017.2,254.5 1020.7,255.1 1024.6,255.7 1028.9,256.3 1033.5,257.0 1038.4,257.7 1043.6,258.4 1049.0,259.1 1054.6,259.9 1060.3,260.7 1066.2,261.5 1072.1,262.3 1078.1,263.2 1084.0,264.1 1089.9,265.1 1095.8,266.1 1101.5,267.2 1106.9,268.2 1112.1,269.2 1117.1,270.4 1121.8,271.6 1126.3,272.8 1130.4,274.2 1134.4,275.6 1138.3,277.1 1142.1,278.8 1145.8,280.6 1149.5,282.5 1153.1,284.5 1156.7,286.6 1160.2,288.8 1163.7,290.9 1167.1,293.2 1170.5,295.4 1173.8,297.7 1177.1,300.0 1180.4,302.3 1183.6,304.5 1186.8,306.7 1189.9,308.9 1193.0,311.0 1196.1,313.0 1199.1,314.9 1202.0,316.7 1205.0,318.5 1207.8,320.1 1210.6,321.5 1213.4,322.9 1216.0,324.3 1218.6,325.7 1221.1,327.0 1223.5,328.4 1225.8,329.7 1228.1,330.9 1230.2,332.2 1232.3,333.3 1234.3,334.4 1236.3,335.4 1238.1,336.4 1239.9,337.2 1241.6,338.0 1243.3,338.6 1244.9,339.2 1246.5,339.6 1248.0,339.9 1249.5,340.1 1250.9,340.1 1252.4,340.0 1253.8,339.7 1255.2,339.3 1256.5,338.7 1257.9,337.9 1259.1,336.9 1260.3,335.8 1261.4,334.4 1262.5,332.9 1263.5,331.3 1264.5,329.5 1265.5,327.7 1266.5,325.7 1267.5,323.7 1268.5,321.6 1269.5,319.5 1270.5,317.3 1271.6,315.1 1272.7,312.8 1273.9,310.6 1275.1,308.4 1276.4,306.3 1277.8,304.1 1279.2,302.1 1280.7,300.1 1282.3,298.1 1284.0,296.3 1285.8,294.6 1287.7,292.8 1289.6,291.0 M1011.5,253.5 1013.7,253.5 1016.2,253.7 1019.1,253.9 1022.3,254.2 1025.7,254.5 1029.4,254.9 1033.3,255.4 1037.4,255.9 1041.7,256.4 1046.1,256.9 1050.6,257.4 1055.2,257.9 1059.9,258.4 1064.6,258.9 1069.3,259.3 1074.0,259.7 1078.7,260.0 1083.3,260.2 1088.0,260.5 1092.5,260.6 1096.9,260.6 1101.1,260.4 1105.1,260.0 1108.9,259.4 1112.4,258.6 1115.9,257.6 1119.2,256.3 1122.4,254.7 1125.5,253.0 1128.6,251.1 1131.5,249.1 1134.3,246.9 1137.1,244.6 1139.8,242.2 1142.5,239.8 1145.1,237.3 1147.6,234.8 1150.1,232.3 1152.6,229.8 1155.0,227.4 1157.5,225.0 1159.9,222.8 1162.4,220.7 1164.8,218.7 1167.4,216.9 1169.9,215.3 1172.6,213.9 1175.3,212.7 1178.0,211.8 1180.8,211.0 1183.6,210.4 1186.3,209.9 1189.1,209.6 1192.0,209.4 1194.8,209.3 1197.7,209.3 1200.6,209.4 1203.6,209.6 1206.6,209.8 1209.7,210.1 1212.8,210.5 1215.9,210.9 1219.1,211.3 M1011.5,253.5 1014.5,254.5 1018.2,255.7 1022.4,257.1 1027.1,258.7 1032.2,260.5 1037.7,262.4 1043.5,264.4 1049.6,266.4 1055.9,268.5 1062.3,270.6 1068.9,272.6 1075.4,274.6 1082.0,276.4 1088.5,278.2 1094.8,279.8 1101.2,281.4 1107.3,282.8 1113.1,283.9 1118.7,284.9 1123.8,285.5 1128.6,285.8 1132.9,285.8 1136.7,285.4 1139.9,284.7 1142.6,283.4 1144.9,281.8 1146.9,279.8 1148.6,277.5 1150.0,274.8 1151.1,271.8 1152.0,268.6 1152.7,265.2 1153.2,261.5 1153.5,257.7 1153.7,253.8 1153.7,249.7 1153.7,245.5 1153.6,241.4 1153.5,237.1 1153.3,232.9 1153.1,228.8 1153.0,224.7 1152.9,220.7 1152.8,216.8 1152.9,213.2 1153.1,209.7 1153.3,206.4 1153.8,203.5 1154.2,200.6 1154.4,197.8 1154.5,195.0 1154.3,192.2 1154.1,189.4 1153.7,186.7 1153.3,184.0 1152.8,181.4 1152.3,178.8 1151.7,176.3 1151.2,173.9 1150.8,171.6 1150.4,169.3 1150.1,167.2 M1011.5,253.5 1012.9,254.3 1014.4,255.3 1016.1,256.6 1017.9,258.0 1019.8,259.6 1021.9,261.3 1024.0,263.2 1026.3,265.1 1028.6,267.1 1031.0,269.1 1033.4,271.2 1035.9,273.2 1038.4,275.2 1040.9,277.1 1043.5,278.9 1046.0,280.6 1048.6,282.2 1051.1,283.5 1053.6,284.6 1056.0,285.4 1058.4,285.9 1060.7,286.2 1063.1,286.1 1065.3,285.7 1067.5,285.0 1069.6,284.0 1071.8,282.7 1073.9,281.2 1076.0,279.4 1078.1,277.3 1080.2,275.1 1082.3,272.7 1084.4,270.2 1086.5,267.5 1088.6,264.7 1090.7,261.9 1092.8,258.9 1095.0,256.0 1097.1,253.0 1099.3,250.1 1101.5,247.2 1103.8,244.3 1106.0,241.5 1108.4,238.8 1110.7,236.3 1113.1,233.9 1115.6,231.6 1118.1,229.6 1120.7,227.6 1123.2,225.6 1125.7,223.7 1128.2,221.7 1130.8,219.7 1133.3,217.7 1135.8,215.7 1138.4,213.8 1141.0,211.9 1143.7,210.1 1146.4,208.4 1149.2,206.7 1152.1,205.0 1155.0,203.5 1158.1,202.1 1161.2,200.7 1164.4,199.5 1167.8,198.3 1171.2,197.3 1174.8,196.5 1178.6,195.7 1182.5,195.2 1186.5,194.7 1190.7,194.5 1195.1,194.4 1199.7,194.5 1204.6,194.9 1209.6,195.4 1214.9,196.1 1220.3,196.9 1225.8,197.8 1231.5,198.8 1237.3,200.0 1243.1,201.2 1249.1,202.5 1255.0,203.8 1261.0,205.2 1266.9,206.5 1272.9,207.9 1278.8,209.3 1284.6,210.6 1290.3,211.9 1295.9,213.1 1301.4,214.3 1306.7,215.3 1311.9,216.3 1316.9,217.1 1321.7,217.8 1326.3,218.4 1330.9,219.0 M1011.5,253.5 1013.1,254.0 1014.9,254.7 1017.0,255.5 1019.4,256.5 1022.0,257.7 1024.7,258.9 1027.7,260.3 1030.8,261.7 1034.1,263.1 1037.5,264.6 1041.0,266.0 1044.6,267.4 1048.3,268.8 1052.1,270.0 1055.8,271.2 1059.6,272.2 1063.4,273.0 1067.1,273.6 1070.9,273.8 1074.5,273.8 1078.1,273.5 1081.5,273.0 1084.7,272.2 1087.8,271.1 1090.8,269.6 1093.7,267.8 1096.6,265.8 1099.4,263.5 1102.2,261.0 1105.0,258.3 1107.7,255.4 1110.4,252.3 1113.1,249.2 1115.7,245.9 1118.4,242.6 1121.0,239.2 1123.6,235.8 1126.1,232.4 1128.7,229.0 1131.3,225.7 1133.8,222.4 1136.4,219.2 1138.9,216.2 1141.5,213.2 1144.1,210.4 1146.7,207.7 1149.3,205.2 1152.0,202.9 1154.6,200.7 1157.2,198.4 1159.7,196.0 1162.3,193.6 1164.8,191.2 1167.3,188.8 1169.8,186.3 1172.3,183.8 1174.8,181.4 1177.3,178.9 1179.8,176.5 1182.4,174.2 1184.9,171.9 1187.6,169.7 1190.2,167.7 1192.9,165.7 1195.6,163.9 1198.4,162.2 1201.2,160.7 1204.1,159.4 1207.0,158.3 1210.0,157.4 1213.1,156.8 1216.2,156.4 1219.5,156.4 1222.8,156.8 1226.2,157.5 1229.6,158.5 1233.1,159.9 1236.7,161.5 1240.3,163.4 1243.9,165.4 1247.6,167.7 1251.3,170.1 1255.0,172.6 1258.7,175.2 1262.4,177.8 1266.1,180.4 1269.8,183.0 1273.5,185.5 1277.2,188.0 1280.8,190.2 1284.4,192.4 1288.0,194.3 1291.5,196.0 M1011.5,253.5 1012.8,254.2 1014.2,255.1 1015.8,256.1 1017.6,257.3 1019.6,258.6 1021.6,260.0 1023.8,261.5 1026.1,263.0 1028.4,264.6 1030.8,266.2 1033.2,267.8 1035.7,269.4 1038.2,271.0 1040.7,272.5 1043.1,274.0 1045.5,275.3 1047.9,276.6 1050.2,277.7 1052.5,278.7 1054.7,279.5 1056.8,280.1 1058.8,280.5 1060.8,280.7 1062.6,280.6 1064.3,280.3 1065.9,279.7 1067.5,278.9 1069.1,277.9 1070.6,276.6 1072.1,275.2 1073.5,273.6 1075.0,271.9 1076.4,270.1 1077.9,268.2 1079.3,266.2 1080.8,264.1 1082.3,262.0 1083.8,259.9 1085.4,257.9 1087.0,255.8 1088.6,253.8 1090.3,251.9 1092.1,250.0 1093.9,248.3 1095.8,246.7 1097.7,245.3 1099.8,244.1 1101.9,243.1 1104.0,242.2 1106.2,241.5 1108.3,240.9 1110.5,240.4 1112.6,240.0 1114.8,239.7 1117.0,239.5 1119.2,239.3 1121.4,239.2 1123.6,239.2 1125.9,239.2 1128.2,239.3 1130.5,239.4 1132.9,239.5 1135.4,239.6 1137.8,239.8 1140.4,239.9 1143.0,240.1 1145.7,240.2 1148.4,240.4 M1011.5,253.5 1012.8,254.3 1014.3,255.3 1015.9,256.6 1017.6,258.0 1019.5,259.7 1021.5,261.5 1023.5,263.5 1025.7,265.5 1028.0,267.6 1030.3,269.8 1032.7,272.0 1035.2,274.2 1037.8,276.4 1040.4,278.6 1043.1,280.6 1045.8,282.6 1048.5,284.4 1051.3,286.1 1054.1,287.6 1057.0,288.8 1059.8,289.8 1062.6,290.6 1065.3,291.0 1068.0,291.1 1070.6,290.9 1073.2,290.4 1075.9,289.6 1078.5,288.5 1081.1,287.2 1083.7,285.7 1086.2,284.0 1088.8,282.1 1091.3,280.1 1093.9,278.0 1096.4,275.8 1098.9,273.5 1101.5,271.2 1104.0,268.9 1106.5,266.6 1109.0,264.3 1111.5,262.1 1114.0,259.9 1116.6,257.9 1119.1,256.0 1121.7,254.2 1124.3,252.6 1126.9,251.3 1129.6,250.1 1132.2,249.1 1134.8,248.3 1137.4,247.4 1140.0,246.7 1142.5,246.1 1145.1,245.5 1147.6,245.0 1150.2,244.5 1152.9,244.1 1155.6,243.7 1158.3,243.4 1161.1,243.1 1163.9,242.8 1166.8,242.6 1169.8,242.4 1172.9,242.2 1176.1,242.0 1179.4,241.8 1182.8,241.6 1186.3,241.4 M1011.5,253.5 1014.0,254.4 1016.9,255.7 1020.2,257.1 1023.7,258.9 1027.5,260.8 1031.6,262.8 1035.9,265.1 1040.3,267.4 1044.9,269.8 1049.7,272.3 1054.5,274.8 1059.4,277.3 1064.4,279.7 1069.4,282.1 1074.4,284.4 1079.3,286.6 1084.3,288.6 1089.1,290.5 1093.8,292.1 1098.4,293.4 1102.8,294.6 1107.1,295.4 1111.1,295.8 1114.9,296.0 1118.5,295.8 1122.0,295.3 1125.5,294.6 1128.8,293.7 1132.1,292.5 1135.2,291.1 1138.3,289.6 1141.4,287.9 1144.3,286.0 1147.2,284.0 1150.1,281.9 1152.8,279.7 1155.5,277.4 1158.2,275.1 1160.8,272.7 1163.4,270.3 1165.9,267.9 1168.5,265.5 1171.0,263.1 1173.5,260.8 1176.0,258.5 1178.5,256.3 1181.0,254.2 1183.5,252.3 1186.1,250.3 1188.6,248.2 1191.1,246.0 1193.6,243.7 1196.1,241.4 1198.5,239.0 1201.0,236.5 1203.5,234.1 1206.0,231.6 1208.6,229.1 1211.1,226.6 1213.7,224.1 1216.4,221.7 1219.0,219.3 1221.7,216.9 1224.5,214.7 1227.3,212.5 1230.1,210.4 1233.0,208.4 1235.9,206.6 1238.9,204.9 1241.9,203.4 1245.0,202.0 1248.1,200.8 1251.1,199.8 1254.1,199.0 1257.1,198.3 M1011.5,253.5 1014.5,253.7 1018.1,254.1 1022.2,254.7 1026.7,255.5 1031.7,256.3 1037.0,257.3 1042.7,258.4 1048.6,259.5 1054.8,260.7 1061.2,261.9 1067.7,263.2 1074.3,264.4 1081.0,265.5 1087.6,266.6 1094.2,267.5 1100.5,268.4 1106.7,269.2 1112.7,269.7 1118.4,270.0 1123.8,270.1 1128.8,269.8 1133.5,269.3 1137.7,268.3 1141.4,267.1 1144.7,265.4 1147.8,263.3 1150.7,260.8 1153.3,257.9 1155.8,254.8 1158.1,251.3 1160.2,247.6 1162.2,243.7 1164.1,239.6 1165.9,235.4 1167.5,231.0 1169.1,226.6 1170.6,222.1 1172.0,217.6 1173.4,213.2 1174.8,208.7 1176.1,204.4 1177.4,200.2 1178.7,196.2 1180.0,192.3 1181.4,188.6 1182.7,185.2 1184.1,182.1 1185.5,179.3 1186.8,176.7 1188.0,174.3 1189.1,171.9 1190.1,169.6 1191.0,167.4 1191.8,165.3 1192.4,163.2 1193.0,161.3 1193.5,159.4 1194.0,157.6 1194.4,155.9 1194.7,154.2 1195.0,152.6 1195.3,151.0 1195.6,149.5 1195.8,148.0 1196.1,146.6 1196.5,145.2 1196.8,143.8 1197.2,142.5 1197.7,141.2 1198.3,139.9 1199.0,138.7 1199.8,137.5 1200.7,136.3 M1011.5,253.5 1013.7,254.0 1016.4,254.8 1019.4,255.6 1022.7,256.6 1026.3,257.6 1030.2,258.6 1034.3,259.7 1038.5,260.7 1042.9,261.7 1047.5,262.7 1052.1,263.6 1056.8,264.4 1061.5,265.1 1066.2,265.7 1071.0,266.1 1075.7,266.5 1080.4,266.8 1085.1,266.9 1089.6,266.9 1094.0,266.6 1098.2,266.2 1102.3,265.6 1106.1,264.7 1109.6,263.4 1112.9,261.9 1116.2,260.0 1119.3,257.8 1122.3,255.3 1125.2,252.5 1128.0,249.5 1130.7,246.2 1133.3,242.7 1135.7,239.0 1138.0,235.1 1140.3,231.1 1142.4,227.0 1144.4,222.9 1146.3,218.6 1148.2,214.4 1150.0,210.2 1151.7,206.0 1153.3,202.0 1154.9,198.1 1156.5,194.3 1158.1,190.8 1159.6,187.4 1161.2,184.4 1162.8,181.6 1164.3,179.0 1165.8,176.6 1167.1,174.2 1168.4,171.9 1169.6,169.7 1170.8,167.6 1172.0,165.5 1173.1,163.5 1174.2,161.6 1175.4,159.8 1176.5,158.0 1177.7,156.2 1179.0,154.5 1180.2,152.7 1181.6,151.1 1182.9,149.4 1184.4,147.8 1185.9,146.2 1187.5,144.6 1189.2,143.1 1191.0,141.6 1192.9,140.1 1195.0,138.7 1197.2,137.4 1199.5,136.1 1202.0,134.9 1204.4,133.8 M1011.5,253.5 1014.1,254.0 1017.1,254.7 1020.6,255.4 1024.3,256.3 1028.4,257.2 1032.8,258.3 1037.4,259.4 1042.1,260.5 1047.1,261.7 1052.1,263.0 1057.3,264.2 1062.5,265.5 1067.6,266.8 1072.8,268.0 1077.9,269.2 1082.9,270.4 1087.8,271.6 1092.5,272.6 1097.0,273.7 1101.3,274.6 1105.3,275.5 1109.1,276.3 1112.6,277.0 1115.7,277.6 1118.6,278.1 1121.2,278.6 1123.5,279.0 1125.7,279.4 1127.7,279.8 1129.5,280.1 1131.2,280.5 1132.8,280.8 1134.4,281.1 1135.8,281.4 1137.2,281.6 1138.6,281.9 1140.0,282.1 1141.4,282.3 1142.8,282.5 1144.3,282.7 1145.9,282.9 1147.6,283.0 1149.4,283.2 1151.3,283.3 1153.4,283.4 1155.8,283.4 1158.3,283.4 1161.0,283.4 1164.0,283.3 1167.1,283.2 1170.4,283.1 1173.9,282.9 1177.4,282.6 1181.1,282.3 1184.9,282.0 1188.8,281.6 1192.7,281.1 1196.7,280.6 1200.8,280.0 1204.9,279.3 1209.0,278.6 1213.1,277.7 1217.3,276.9 1221.4,275.9 1225.5,274.9 1229.5,273.9 1233.5,272.7 1237.4,271.5 1241.3,270.3 1245.0,269.0 1248.7,267.6 1252.2,266.2 1255.7,264.6 1259.1,262.9 1262.5,261.0 1265.8,259.0 1269.1,256.8 1272.4,254.6 1275.7,252.2 1279.0,249.9 1282.2,247.5 1285.4,245.1 1288.6,242.7 1291.7,240.3 1294.9,238.0 1298.0,235.8 1301.1,233.6 1304.1,231.6 1307.2,229.8 1310.2,228.1 1313.2,226.5 1316.2,225.2 1319.1,224.0 1322.0,223.1 1324.9,222.5 1327.8,222.1 1330.6,222.0 M1011.5,253.5 1013.0,254.6 1014.7,256.0 1016.8,257.5 1019.0,259.3 1021.6,261.2 1024.3,263.2 1027.2,265.4 1030.3,267.7 1033.5,270.0 1036.8,272.4 1040.3,274.9 1043.7,277.3 1047.3,279.8 1050.8,282.2 1054.4,284.6 1057.8,286.9 1061.3,289.1 1064.6,291.2 1067.9,293.2 1071.0,294.9 1074.0,296.5 1076.8,297.9 1079.4,299.0 1081.8,299.9 1083.9,300.5 1085.9,300.9 1087.8,301.2 1089.5,301.3 1091.2,301.2 1092.7,301.0 1094.2,300.7 1095.6,300.2 1097.0,299.6 1098.3,298.9 1099.7,298.2 1101.1,297.3 1102.5,296.4 1103.9,295.4 1105.5,294.4 1107.1,293.4 1108.8,292.3 1110.6,291.2 1112.5,290.2 1114.6,289.1 1116.8,288.1 1119.2,287.1 1121.7,286.2 1124.5,285.4 1127.4,284.6 1130.5,283.8 1133.7,283.0 1137.0,282.3 1140.4,281.5 1144.0,280.8 1147.6,280.0 1151.2,279.3 1154.9,278.5 1158.7,277.7 1162.5,277.0 1166.3,276.2 1170.1,275.4 1173.9,274.6 1177.7,273.8 1181.4,273.0 1185.2,272.2 1188.9,271.3 1192.5,270.5 1196.1,269.6 1199.7,268.6 1203.1,267.7 1206.5,266.7 1209.8,265.7 1213.0,264.6 1216.1,263.4 1219.0,262.2 1221.9,260.9 1224.6,259.5 1227.4,258.1 1230.1,256.6 1232.8,255.2 1235.5,253.7 1238.2,252.2 1241.0,250.7 1243.8,249.2 1246.7,247.8 1249.8,246.4 1252.9,245.0 1256.2,243.7 1259.7,242.4 1263.3,241.2 1267.1,240.1 1271.2,239.1 M1011.5,253.5 1012.9,254.0 1014.5,254.6 1016.4,255.4 1018.5,256.4 1020.9,257.5 1023.4,258.7 1026.2,260.0 1029.0,261.3 1032.1,262.7 1035.3,264.2 1038.5,265.6 1041.9,267.1 1045.3,268.5 1048.7,269.9 1052.2,271.2 1055.6,272.3 1059.0,273.4 1062.3,274.3 1065.5,275.1 1068.6,275.7 1071.5,276.2 1074.3,276.4 1076.8,276.3 1079.1,276.1 1081.3,275.5 1083.3,274.7 1085.1,273.6 1086.9,272.4 1088.6,270.9 1090.1,269.3 1091.6,267.6 1093.1,265.7 1094.5,263.7 1095.8,261.7 1097.1,259.7 1098.5,257.6 1099.8,255.6 1101.2,253.5 1102.5,251.6 1103.9,249.7 1105.4,247.9 1106.9,246.2 1108.5,244.7 1110.2,243.3 1111.9,242.1 1113.7,241.1 1115.6,240.3 1117.6,239.8 1119.7,239.5 1121.6,239.3 1123.5,239.4 1125.3,239.5 1127.1,239.8 1128.8,240.3 1130.6,240.8 1132.3,241.3 1133.9,242.0 1135.6,242.6 1137.3,243.3 1139.1,243.9 1140.9,244.6 1142.7,245.2 1144.6,245.7 1146.6,246.2 1148.7,246.6 1150.9,246.9 1153.3,247.0 1155.8,247.1 1158.5,247.0 1161.3,246.7 1164.4,246.3 1167.7,245.7 1171.3,244.9 1175.2,243.9 1179.5,242.7 1184.0,241.4 1188.8,239.9 1193.8,238.4 1199.0,236.8 1204.4,235.1 1210.0,233.3 1215.8,231.6 1221.6,229.8 1227.5,228.1 1233.5,226.4 1239.5,224.7 M1011.5,253.5 1013.3,253.6 1015.3,253.9 1017.7,254.3 1020.2,254.7 1023.0,255.2 1026.0,255.8 1029.1,256.4 1032.4,257.0 1035.9,257.6 1039.5,258.1 1043.1,258.7 1046.9,259.2 1050.7,259.7 1054.5,260.1 1058.3,260.4 1062.1,260.6 1065.9,260.7 1069.6,260.7 1073.3,260.7 1076.9,260.6 1080.3,260.2 1083.6,259.7 1086.7,259.0 1089.6,258.0 1092.5,256.8 1095.2,255.3 1098.0,253.5 1100.6,251.5 1103.3,249.3 1105.9,246.9 1108.4,244.3 1111.0,241.6 1113.4,238.7 1115.9,235.7 1118.3,232.6 1120.7,229.5 1123.1,226.3 1125.5,223.0 1127.8,219.8 1130.1,216.5 1132.4,213.3 1134.7,210.2 1137.0,207.1 1139.2,204.1 1141.5,201.3 1143.7,198.6 1146.0,196.1 1148.2,193.7 1150.4,191.5 1152.5,189.2 1154.6,187.0 1156.5,184.7 1158.5,182.5 1160.4,180.2 1162.2,178.1 1164.1,175.9 1165.9,173.8 1167.8,171.8 1169.6,169.9 1171.5,168.1 1173.4,166.3 1175.3,164.7 M1011.5,253.5 1013.5,254.6 1015.8,255.9 1018.4,257.5 1021.3,259.2 1024.4,261.2 1027.8,263.3 1031.4,265.5 1035.2,267.8 1039.2,270.1 1043.4,272.6 1047.6,275.0 1052.0,277.4 1056.4,279.8 1060.9,282.1 1065.4,284.3 1070.0,286.4 1074.5,288.4 1079.0,290.1 1083.4,291.6 1087.6,292.8 1091.7,293.7 1095.7,294.3 1099.4,294.4 1102.9,294.2 1106.2,293.6 1109.4,292.6 1112.5,291.2 1115.5,289.5 1118.3,287.5 1121.1,285.1 1123.7,282.5 1126.3,279.7 1128.8,276.7 1131.3,273.5 1133.6,270.1 1136.0,266.6 1138.3,263.0 1140.6,259.4 1142.9,255.7 1145.1,252.0 1147.4,248.4 1149.7,244.8 1152.0,241.3 1154.4,238.0 1156.8,234.8 1159.3,231.8 1161.9,229.0 1164.5,226.5 1167.2,224.1 1169.8,221.8 1172.5,219.4 1175.1,217.2 1177.7,215.0 1180.4,212.8 1183.0,210.7 1185.7,208.7 1188.4,206.7 1191.2,204.8 1194.0,202.9 1197.0,201.1 1200.0,199.4 1203.0,197.7 1206.2,196.1 1209.5,194.6 1212.9,193.1 1216.4,191.7 1220.1,190.4 1223.8,189.1 1227.8,187.9 1231.9,186.8 1236.1,185.7 1240.5,184.7 1245.1,183.9 1249.9,183.1 1254.9,182.4 1260.0,181.8 1265.4,181.3 1270.8,180.8 1276.4,180.5 1282.1,180.2 1287.9,180.0 1293.8,179.9 1299.7,179.8 1305.7,179.8 1311.7,179.9 1317.8,180.1 1323.8,180.4 1329.9,180.7 1335.9,181.1 1341.9,181.5 1347.8,182.0 1353.7,182.5 1359.5,183.1 1365.2,183.7 1370.8,184.4 1376.3,185.0 1381.8,185.8 1387.4,186.7 1393.1,187.7 1398.9,188.9 1404.7,190.1 1410.5,191.4 1416.4,192.8 M1011.5,253.5 1013.5,254.5 1015.8,255.7 1018.4,257.0 1021.3,258.5 1024.4,260.1 1027.7,261.8 1031.3,263.6 1035.0,265.4 1038.8,267.3 1042.8,269.1 1046.8,271.1 1050.9,273.0 1055.1,274.9 1059.3,276.7 1063.6,278.6 1067.8,280.4 1071.9,282.2 1076.1,283.9 1080.3,285.7 1084.4,287.4 1088.4,289.1 1092.2,290.5 1095.8,291.9 1099.2,293.0 1102.4,294.1 1105.6,295.0 1108.6,295.9 1111.6,296.7 1114.4,297.4 1117.2,298.1 1119.9,298.6 1122.5,299.1 1125.1,299.5 1127.6,299.8 1130.0,299.9 1132.4,300.0 1134.8,300.0 1137.2,300.0 1139.5,299.8 1141.9,299.5 1144.2,299.2 1146.6,298.8 1149.0,298.3 1151.4,297.8 1153.9,297.2 1156.4,296.5 1159.0,295.8 1161.7,295.1 1164.4,294.4 1167.1,293.5 1169.8,292.6 1172.5,291.7 1175.2,290.7 1177.9,289.6 1180.6,288.6 1183.4,287.5 1186.2,286.4 1189.1,285.2 1192.0,284.0 1195.0,282.8 1198.1,281.6 1201.2,280.4 1204.5,279.1 1207.8,277.8 1211.3,276.5 1214.8,275.2 1218.5,273.8 1222.2,272.4 1226.1,270.9 1230.1,269.5 1234.2,268.0 1238.5,266.4 1242.8,264.8 1247.3,263.1 1251.9,261.2 1256.6,259.3 M1011.5,253.5 1012.9,254.0 1014.6,254.8 1016.5,255.6 1018.7,256.7 1021.0,257.8 1023.6,259.0 1026.3,260.2 1029.2,261.5 1032.3,262.9 1035.4,264.2 1038.7,265.5 1042.1,266.7 1045.6,267.9 1049.1,269.0 1052.7,270.1 1056.3,270.9 1059.8,271.6 1063.3,272.1 1066.7,272.4 1070.0,272.5 1073.1,272.4 1076.0,272.0 1078.8,271.3 1081.4,270.3 1083.8,268.9 1086.0,267.2 1088.2,265.3 1090.2,263.0 1092.1,260.4 1094.0,257.6 1095.7,254.6 1097.4,251.4 1098.9,248.0 1100.5,244.5 1101.9,240.8 1103.3,237.1 1104.7,233.2 1106.1,229.4 1107.4,225.4 1108.7,221.5 1110.1,217.6 1111.4,213.8 1112.8,210.0 1114.3,206.4 1115.8,202.8 1117.3,199.4 1118.9,196.2 1120.6,193.3 1122.3,190.4 1124.1,187.6 1126.0,184.9 1127.9,182.2 1129.9,179.6 1131.9,177.0 1133.9,174.5 1135.9,172.0 1138.0,169.6 1140.0,167.2 1142.1,164.9 1144.2,162.7 1146.2,160.5 1148.2,158.4 1150.2,156.3 1152.1,154.3 1154.0,152.4 1155.8,150.5 1157.6,148.6 1159.3,146.8 1160.9,145.1 1162.4,143.3 1163.9,141.7 1165.3,140.0 1166.5,138.4 1167.7,136.8 1168.7,135.2 1169.6,133.6 1170.5,132.0 M1011.5,253.5 1013.3,254.3 1015.5,255.4 1018.0,256.7 1020.8,258.2 1023.9,259.9 1027.2,261.7 1030.8,263.7 1034.6,265.8 1038.6,268.0 1042.7,270.2 1046.9,272.5 1051.2,274.7 1055.6,277.0 1059.9,279.1 1064.2,281.2 1068.5,283.2 1072.7,285.0 1076.7,286.6 1080.4,288.1 1084.0,289.4 1087.3,290.4 1090.3,291.1 1093.0,291.6 1095.4,291.7 1097.5,291.5 1099.3,291.0 1100.9,290.2 1102.3,289.1 1103.4,287.8 1104.5,286.4 1105.3,284.7 1106.1,282.9 1106.7,281.0 1107.3,279.1 1107.9,277.0 1108.4,275.0 1108.9,272.9 1109.4,270.8 1110.0,268.8 1110.6,266.8 1111.3,265.0 1112.2,263.2 1113.1,261.6 1114.2,260.1 1115.5,258.8 1117.0,257.7 1118.6,256.8 1120.5,256.1 1122.5,255.6 1124.6,255.3 1126.7,255.1 1128.8,255.0 1131.0,255.1 1133.3,255.2 1135.6,255.3 1137.9,255.5 1140.3,255.8 1142.7,256.0 1145.3,256.3 1147.8,256.6 1150.5,256.8 1153.2,257.0 1156.0,257.2 1158.9,257.3 1161.9,257.4 1165.0,257.4 1168.2,257.3 1171.4,257.1 1174.8,256.9 1178.4,256.5 1182.0,256.0 1185.8,255.4 1189.9,254.7 1194.2,253.9 1198.8,252.9 1203.6,251.9 1208.7,250.8 1214.0,249.7 1219.4,248.5 1225.0,247.3 1230.8,246.0 1236.6,244.8 1242.5,243.6 1248.5,242.4 1254.5,241.2 1260.5,240.1 1266.5,239.0 1272.5,238.0 1278.4,237.1 1284.1,236.2 1289.8,235.4 M1011.5,253.5 1014.2,254.3 1017.3,255.1 1020.8,256.1 1024.7,257.2 1028.9,258.3 1033.4,259.5 1038.1,260.8 1043.1,262.1 1048.2,263.5 1053.4,264.9 1058.7,266.4 1064.1,267.9 1069.4,269.4 1074.8,271.0 1080.2,272.6 1085.5,274.2 1090.6,275.8 1095.7,277.4 1100.5,279.1 1105.2,280.9 1109.7,282.6 1113.9,284.3 1117.9,286.1 1121.5,287.8 1124.9,289.6 1128.2,291.5 1131.3,293.5 1134.3,295.6 1137.2,297.8 1140.0,300.1 1142.6,302.4 1145.2,304.8 1147.7,307.2 1150.2,309.6 1152.5,311.9 1154.8,314.3 1157.0,316.7 1159.2,318.9 1161.4,321.1 1163.5,323.3 1165.6,325.3 1167.6,327.2 1169.7,329.0 1171.8,330.6 1173.9,332.1 1176.0,333.4 1178.2,334.5 1180.4,335.4 1182.7,336.1 1184.9,336.7 1187.2,337.2 1189.6,337.5 1191.9,337.7 1194.3,337.7 1196.6,337.7 1199.0,337.5 1201.4,337.2 1203.8,336.8 1206.2,336.3 1208.6,335.8 1211.1,335.1 1213.5,334.3 1216.0,333.5 1218.4,332.5 1220.8,331.6 1223.2,330.5 1225.6,329.4 1228.0,328.2 M1011.5,253.5 1014.0,253.9 1017.0,254.5 1020.5,255.2 1024.4,256.0 1028.6,256.9 1033.2,257.9 1038.1,259.0 1043.1,260.2 1048.4,261.4 1053.8,262.7 1059.3,264.1 1064.9,265.5 1070.4,267.0 1076.0,268.5 1081.4,270.0 1086.8,271.5 1092.0,273.0 1097.0,274.4 1101.8,275.8 1106.4,277.1 1110.7,278.3 1114.7,279.4 1118.3,280.4 1121.4,281.3 1124.2,282.1 1126.7,282.8 1128.8,283.5 1130.7,284.2 1132.3,284.8 1133.7,285.4 1135.0,285.9 1136.1,286.3 1137.0,286.7 1137.9,287.1 1138.7,287.3 1139.4,287.5 1140.2,287.6 1140.9,287.7 1141.7,287.6 1142.5,287.5 1143.5,287.3 1144.5,287.0 1145.7,286.7 1147.0,286.2 1148.6,285.7 1150.4,285.0 1152.4,284.3 1154.7,283.5 1157.3,282.5 1160.0,281.4 1162.9,280.2 1165.9,278.8 1169.1,277.4 1172.3,275.8 1175.7,274.1 1179.2,272.4 1182.7,270.6 1186.4,268.8 1190.1,267.0 1193.8,265.1 1197.6,263.2 1201.5,261.4 1205.4,259.5 1209.2,257.7 1213.1,256.0 1217.0,254.3 1220.9,252.7 1224.8,251.2 1228.6,249.7 1232.3,248.4 1236.0,247.2 1239.6,246.1 1243.2,245.1 M1011.5,253.5 1014.3,254.4 1017.5,255.5 1021.2,256.6 1025.3,257.9 1029.7,259.2 1034.4,260.5 1039.3,262.0 1044.4,263.5 1049.7,265.0 1055.2,266.6 1060.7,268.3 1066.2,270.0 1071.8,271.7 1077.4,273.5 1082.8,275.3 1088.2,277.2 1093.5,279.1 1098.6,281.0 1103.5,283.0 1108.2,285.1 1112.7,287.1 1116.9,289.1 1120.8,291.1 1124.3,293.1 1127.6,295.0 1130.7,297.1 1133.7,299.2 1136.5,301.4 1139.1,303.7 1141.7,306.0 1144.1,308.3 1146.4,310.6 1148.6,312.8 1150.7,315.1 1152.7,317.3 1154.7,319.5 1156.5,321.6 1158.2,323.6 1159.9,325.6 1161.5,327.4 1163.1,329.1 1164.6,330.7 1166.1,332.2 1167.5,333.6 1169.0,334.8 1170.4,335.8 1171.8,336.7 1173.3,337.4 1174.7,338.0 1176.1,338.5 1177.4,338.9 1178.6,339.2 1179.8,339.4 1180.9,339.6 1182.0,339.6 1183.1,339.6 1184.2,339.6 1185.2,339.4 1186.3,339.2 1187.4,338.9 1188.5,338.6 1189.6,338.2 1190.8,337.7 1192.0,337.2 1193.2,336.6 1194.5,335.9 1195.8,335.1 1197.2,334.3 1198.7,333.4 1200.2,332.5 1201.7,331.4 1203.3,330.3 1204.9,329.0 1206.4,327.5 1207.8,325.8 1209.1,323.9 1210.4,321.9 1211.6,319.7 M1011.5,253.5 1012.7,254.4 1014.1,255.6 1015.7,256.9 1017.4,258.4 1019.3,260.0 1021.3,261.7 1023.5,263.6 1025.8,265.5 1028.3,267.5 1030.8,269.5 1033.5,271.6 1036.2,273.7 1039.0,275.7 1041.9,277.8 1044.9,279.7 1047.9,281.6 1050.9,283.4 1054.0,285.0 1057.0,286.4 1059.9,287.7 1062.8,288.9 1065.7,289.8 1068.4,290.6 1071.1,291.2 1073.7,291.7 1076.2,292.0 1078.6,292.2 1081.0,292.3 1083.3,292.3 1085.5,292.2 1087.8,292.1 1090.0,291.9 1092.1,291.7 1094.3,291.5 1096.4,291.2 1098.6,291.0 1100.8,290.7 1103.0,290.5 1105.2,290.3 1107.5,290.1 1109.9,290.0 1112.3,289.9 1114.9,289.9 1117.5,289.9 1120.2,290.0 1123.1,290.1 1126.1,290.3 1129.2,290.6 1132.5,291.0 1136.0,291.4 1139.5,291.9 1143.2,292.5 1147.0,293.1 1150.9,293.7 1155.0,294.3 1159.1,295.0 1163.3,295.6 1167.6,296.1 1172.0,296.7 1176.5,297.1 1181.0,297.6 1185.6,297.9 1190.3,298.2 1194.9,298.4 1199.7,298.6 1204.4,298.6 1209.2,298.5 1213.9,298.3 1218.7,298.0 1223.5,297.6 1228.2,297.0 1232.9,296.4 1237.7,295.5 1242.5,294.5 1247.5,293.4 1252.5,292.2 1257.6,290.9 1262.8,289.5 1268.0,288.1 1273.2,286.5 1278.4,284.9 1283.6,283.3 1288.8,281.6 1293.9,279.8 1299.1,278.1 1304.1,276.3 1309.1,274.5 1314.0,272.7 1318.8,270.9 1323.6,269.0 1328.2,267.2 1332.6,265.4 1337.0,263.7 1341.1,261.9 1345.2,260.2 1349.0,258.6 1352.7,256.9 M1011.5,253.5 1013.9,254.2 1016.7,255.1 1019.8,256.1 1023.3,257.2 1027.0,258.4 1031.1,259.7 1035.4,261.0 1039.9,262.4 1044.6,263.8 1049.4,265.1 1054.4,266.4 1059.5,267.6 1064.7,268.8 1069.9,269.8 1075.2,270.7 1080.4,271.5 1085.6,272.2 1090.7,272.7 1095.9,273.0 1100.9,273.2 1105.7,273.3 1110.3,273.1 1114.6,272.8 1118.7,272.2 1122.5,271.3 1126.3,270.2 1129.9,268.8 1133.4,267.2 1136.8,265.4 1140.1,263.5 1143.3,261.4 1146.4,259.1 1149.5,256.8 1152.5,254.4 1155.4,252.0 1158.3,249.6 1161.2,247.1 1164.0,244.7 1166.8,242.3 1169.6,240.0 1172.4,237.8 1175.3,235.7 1178.1,233.7 1181.0,232.0 1183.9,230.4 1186.9,229.0 1190.0,227.9 1193.1,227.0 1196.3,226.4 1199.4,225.9 1202.5,225.7 1205.5,225.6 1208.6,225.6 1211.6,225.8 1214.7,226.1 1217.8,226.6 1220.9,227.1 1224.1,227.7 1227.3,228.3 1230.6,229.0 1233.9,229.7 1237.3,230.5 1240.8,231.3 1244.3,232.0 1248.0,232.8 1251.8,233.5 1255.6,234.2 1259.6,234.8 1263.8,235.3 1268.0,235.7 1272.4,236.1 1276.9,236.3 1281.6,236.3 1286.5,236.4 1291.6,236.3 1296.9,236.2 1302.2,236.1 1307.7,235.9 1313.3,235.7 1319.0,235.4 1324.8,235.0 1330.6,234.7 1336.4,234.3 1342.2,233.8 1348.0,233.4 1353.8,232.9 1359.6,232.4 1365.3,231.8 1370.9,231.3 1376.5,230.7 1381.9,230.2 M1011.5,253.5 1014.2,254.1 1017.2,254.9 1020.7,255.8 1024.5,256.8 1028.6,257.9 1033.0,259.1 1037.6,260.4 1042.4,261.7 1047.4,263.1 1052.5,264.4 1057.6,265.8 1062.9,267.1 1068.1,268.4 1073.4,269.6 1078.6,270.7 1083.8,271.8 1088.8,272.8 1093.7,273.6 1098.5,274.5 1103.1,275.3 1107.5,275.9 1111.7,276.4 1115.6,276.7 1119.2,276.9 1122.6,276.9 1125.9,276.7 1129.1,276.4 1132.2,275.9 1135.2,275.3 1138.1,274.6 1141.0,273.8 1143.7,273.0 1146.4,272.1 1149.1,271.1 1151.6,270.1 1154.1,269.1 1156.6,268.1 1159.0,267.0 1161.4,266.0 1163.7,265.1 1166.0,264.2 1168.2,263.3 1170.5,262.5 1172.7,261.8 1174.9,261.1 1177.1,260.6 1179.4,260.2 1181.6,260.0 1183.7,259.9 1185.7,259.9 1187.4,260.0 1189.1,260.2 1190.6,260.5 1192.0,260.9 1193.3,261.4 1194.6,261.9 1195.9,262.4 1197.2,262.9 1198.5,263.4 1199.9,263.9 1201.3,264.4 1202.9,264.8 1204.6,265.2 1206.5,265.6 1208.6,265.8 1210.9,266.0 1213.4,266.0 1216.2,265.9 1219.3,265.7 1222.7,265.4 1226.4,264.9 1230.5,264.2 1235.0,263.4 M1011.5,253.5 1013.6,254.4 1016.0,255.5 1018.8,256.9 1022.0,258.4 1025.3,260.0 1029.0,261.7 1032.8,263.6 1036.8,265.4 1041.0,267.4 1045.2,269.3 1049.6,271.2 1053.9,273.0 1058.3,274.8 1062.7,276.5 1067.0,278.1 1071.2,279.6 1075.3,280.8 1079.3,281.9 1083.0,282.8 1086.5,283.5 1089.8,283.9 1092.9,284.0 1095.7,283.8 1098.3,283.3 1100.5,282.4 1102.6,281.1 1104.3,279.6 1105.9,277.8 1107.4,275.7 1108.6,273.4 1109.8,270.9 1110.8,268.2 1111.8,265.3 1112.8,262.2 1113.7,259.0 1114.6,255.7 1115.6,252.4 1116.6,248.9 1117.7,245.4 1118.9,241.9 1120.2,238.4 1121.7,234.9 1123.3,231.5 1125.1,228.1 1127.2,224.9 1129.4,221.8 1132.0,218.8 1134.8,216.0 1137.9,213.3 1141.2,210.4 1144.8,207.5 1148.5,204.5 1152.4,201.5 1156.5,198.5 1160.7,195.4 1165.0,192.4 1169.5,189.4 1174.0,186.5 1178.6,183.7 1183.3,181.0 1188.0,178.3 1192.7,175.9 1197.4,173.5 1202.2,171.4 1206.9,169.4 1211.6,167.6 1216.2,166.1 1220.8,164.8 1225.2,163.7 1229.6,162.9 1233.9,162.3 1238.0,162.1 1242.0,162.2 1245.9,162.8 M1011.5,253.5 1014.3,254.5 1017.6,255.9 1021.4,257.5 1025.6,259.3 1030.1,261.4 1034.9,263.6 1040.1,266.1 1045.4,268.6 1051.0,271.3 1056.6,274.0 1062.4,276.8 1068.2,279.6 1074.0,282.4 1079.8,285.2 1085.5,287.9 1091.1,290.4 1096.5,292.8 1101.7,295.1 1106.5,296.9 1111.1,298.5 1115.5,299.7 1119.4,300.6 1123.0,301.1 1126.2,301.2 1129.0,301.0 1131.5,300.3 1133.7,299.4 1135.7,298.2 1137.5,296.7 1139.1,295.0 1140.5,293.0 1141.8,290.9 1142.9,288.5 1144.0,286.0 1145.0,283.3 1146.0,280.5 1146.9,277.6 1147.9,274.6 1148.8,271.6 1149.8,268.6 1150.9,265.5 1152.0,262.5 1153.3,259.5 1154.7,256.5 1156.2,253.7 1158.0,250.9 1159.9,248.2 1162.0,245.7 1164.3,243.2 1166.6,240.6 1169.0,237.8 1171.5,234.9 1174.1,232.0 1176.6,229.0 1179.3,226.0 1181.9,222.9 1184.6,219.8 1187.4,216.7 1190.1,213.7 1192.9,210.7 1195.8,207.7 1198.6,204.8 1201.5,202.0 1204.4,199.3 1207.3,196.7 1210.2,194.3 1213.1,192.0 1216.1,189.9 1219.1,188.0 1222.0,186.4 1225.0,185.0 1228.0,183.8 1231.0,183.0 1233.9,182.4 1236.8,182.2 1239.6,182.2 1242.5,182.4 1245.3,182.9 1248.2,183.6 1251.1,184.4 1254.0,185.4 1257.1,186.6 1260.1,187.9 1263.3,189.2 1266.6,190.6 1270.0,192.1 1273.5,193.6 1277.1,195.0 1280.9,196.5 1284.9,197.9 1289.0,199.2 1293.3,200.4 1297.8,201.4 1302.5,202.3 1307.4,203.0 1312.5,203.4 1318.0,203.7 1323.9,203.7 M1011.5,253.5 1013.2,254.1 1015.1,254.7 1017.1,255.4 1019.4,256.2 1021.8,257.0 1024.3,257.9 1027.0,258.9 1029.7,260.0 1032.6,261.0 1035.5,262.2 1038.4,263.3 1041.4,264.5 1044.5,265.7 1047.5,266.9 1050.5,268.1 1053.6,269.4 1056.6,270.6 1059.6,271.8 1062.6,272.8 1065.6,273.8 1068.5,274.7 1071.4,275.7 1074.2,276.6 1076.9,277.5 1079.5,278.4 1082.2,279.4 1084.9,280.5 1087.6,281.6 1090.3,282.8 1093.1,284.0 1095.8,285.2 1098.5,286.5 1101.2,287.8 1103.8,289.1 1106.5,290.4 1109.0,291.7 1111.5,293.0 1114.0,294.3 1116.4,295.6 1118.8,296.8 1121.0,298.0 1123.2,299.1 1125.3,300.1 1127.4,301.1 1129.4,302.0 1131.3,302.8 1133.1,303.5 1134.9,304.1 1136.5,304.6 1138.2,305.1 1139.8,305.6 1141.3,306.0 1142.9,306.4 1144.3,306.7 1145.8,307.0 1147.3,307.2 1148.7,307.4 1150.2,307.4 1151.6,307.4 1153.0,307.3 1154.5,307.1 1155.9,306.8 1157.4,306.4 1158.8,305.8 1160.2,305.2 1161.7,304.4 1163.1,303.5 1164.5,302.5 1166.0,301.3 1167.4,300.0 1168.8,298.6 1170.1,297.0 1171.5,295.2 1172.7,293.1 1173.8,290.8 1174.8,288.3 1175.7,285.5 1176.6,282.6 1177.4,279.6 1178.1,276.4 1178.8,273.1 1179.4,269.8 1180.0,266.5 1180.5,263.1 1181.1,259.7 1181.7,256.4 1182.3,253.2 1182.9,250.0 1183.5,247.0 1184.2,244.1 1185.0,241.4 1185.9,238.9 M1011.5,253.5 1013.6,254.5 1016.1,255.6 1019.0,256.9 1022.1,258.3 1025.6,259.8 1029.3,261.5 1033.2,263.1 1037.3,264.9 1041.7,266.6 1046.1,268.4 1050.7,270.2 1055.3,271.9 1060.0,273.6 1064.7,275.2 1069.4,276.8 1074.1,278.3 1078.7,279.7 1083.2,280.9 1087.6,282.0 1091.8,283.0 1095.9,283.9 1099.8,284.6 1103.5,285.1 1106.9,285.5 1110.2,285.7 1113.3,285.8 1116.3,285.9 1119.2,285.9 1122.0,285.8 1124.7,285.6 1127.4,285.4 1130.0,285.2 1132.5,284.8 1135.1,284.4 1137.6,283.9 1140.1,283.3 1142.6,282.7 1145.1,282.0 1147.6,281.2 1150.2,280.4 1152.8,279.4 1155.4,278.4 1158.1,277.3 1160.9,276.2 1163.7,274.9 1166.6,273.6 1169.6,272.2 1172.7,270.7 1175.8,269.1 1178.9,267.2 1182.0,265.0 1185.1,262.7 1188.1,260.2 1191.1,257.5 1194.2,254.7 1197.2,251.7 1200.2,248.7 1203.3,245.7 1206.3,242.5 1209.4,239.4 1212.6,236.3 1215.8,233.3 1219.0,230.3 1222.3,227.4 1225.7,224.6 1229.1,221.9 1232.6,219.4 1236.2,217.2 1240.0,215.1 1243.8,213.3 1247.8,211.7 1251.9,210.4 1256.2,209.5 1260.7,208.8 1265.5,208.4 1270.5,208.2 1275.7,208.2 1281.0,208.4 1286.5,208.8 1292.2,209.3 1297.9,210.0 1303.7,210.7 1309.6,211.6 1315.5,212.5 1321.4,213.5 1327.3,214.5 1333.2,215.4 1339.1,216.4 1344.8,217.3 1350.5,218.1 1356.1,218.9 1361.5,219.5 1366.7,219.9 1371.7,220.3 1376.5,220.4 1381.1,220.3 1385.4,220.0 1389.5,219.6 1393.5,219.0 1397.2,218.3 1400.8,217.5 1404.2,216.6 1407.5,215.6 M1011.5,253.5 1012.9,254.3 1014.6,255.2 1016.5,256.2 1018.6,257.3 1020.8,258.5 1023.2,259.8 1025.7,261.1 1028.4,262.4 1031.2,263.8 1034.0,265.2 1036.9,266.5 1039.9,267.9 1042.9,269.1 1045.9,270.4 1048.9,271.5 1051.9,272.6 1054.9,273.6 1057.8,274.4 1060.9,275.3 1063.8,276.0 1066.6,276.6 1069.3,277.1 1071.8,277.4 1074.1,277.5 1076.3,277.4 1078.4,277.3 1080.3,277.0 1082.1,276.6 1083.8,276.1 1085.5,275.5 1087.1,274.8 1088.6,274.1 1090.0,273.3 1091.5,272.4 1092.9,271.5 1094.2,270.5 1095.6,269.4 1097.0,268.4 1098.4,267.3 1099.8,266.2 1101.3,265.0 1102.9,263.9 1104.5,262.7 1106.2,261.6 1108.0,260.4 1109.9,259.3 1111.9,258.2 1114.1,257.2 1116.3,256.1 1118.7,254.9 1121.1,253.6 1123.5,252.3 1126.0,250.8 1128.6,249.4 1131.3,247.8 1133.9,246.3 1136.7,244.7 1139.5,243.0 1142.3,241.4 1145.2,239.8 1148.2,238.2 1151.2,236.6 1154.2,235.1 1157.3,233.6 1160.4,232.2 1163.6,230.8 1166.8,229.6 1170.0,228.4 1173.3,227.3 1176.6,226.3 1180.0,225.5 1183.3,224.8 1186.8,224.2 1190.3,223.7 1193.9,223.3 1197.7,222.9 1201.5,222.6 1205.3,222.4 1209.3,222.3 1213.2,222.2 M1011.5,253.5 1013.4,254.2 1015.7,255.2 1018.3,256.3 1021.2,257.7 1024.3,259.2 1027.7,260.9 1031.4,262.7 1035.1,264.7 1039.1,266.7 1043.1,268.8 1047.3,270.9 1051.4,273.1 1055.6,275.3 1059.8,277.4 1063.9,279.4 1068.0,281.4 1071.9,283.3 1075.7,285.0 1079.1,286.5 1082.4,287.9 1085.4,289.0 1088.2,289.8 1090.8,290.4 1093.0,290.6 1095.0,290.5 1096.8,290.2 1098.4,289.7 1099.9,288.9 1101.2,288.0 1102.4,286.9 1103.5,285.7 1104.5,284.3 1105.4,282.8 1106.2,281.2 1107.0,279.5 1107.8,277.7 1108.6,275.8 1109.4,274.0 1110.2,272.1 1111.0,270.1 1111.9,268.2 1112.8,266.3 1113.8,264.4 1114.9,262.6 1116.2,260.8 1117.5,259.0 1119.0,257.4 1120.6,255.8 1122.3,254.2 1123.9,252.4 1125.5,250.5 1127.2,248.5 1128.8,246.4 1130.4,244.2 1132.0,241.9 1133.7,239.6 1135.4,237.2 1137.2,234.8 1139.0,232.4 1140.8,229.9 1142.7,227.5 1144.7,225.1 M1011.5,253.5 1012.8,254.1 1014.1,254.8 1015.6,255.5 1017.2,256.3 1018.9,257.1 1020.8,258.0 1022.8,258.9 1024.9,259.9 1027.1,260.9 1029.4,262.0 1031.8,263.1 1034.4,264.3 1037.0,265.5 1039.8,266.8 1042.6,268.1 1045.5,269.5 1048.5,270.9 1051.6,272.3 1054.6,273.7 1057.6,275.1 1060.7,276.5 1063.9,278.0 1067.2,279.4 1070.6,280.9 1074.1,282.4 1077.9,284.1 1082.0,285.8 1086.3,287.7 1090.9,289.5 1095.6,291.5 1100.4,293.5 1105.4,295.5 1110.5,297.6 1115.7,299.6 1120.9,301.7 1126.2,303.7 1131.4,305.8 1136.7,307.8 1141.9,309.7 1147.0,311.6 1152.0,313.4 1156.9,315.2 1161.6,316.9 1166.1,318.4 1170.4,319.9 1174.5,321.2 1178.3,322.5 1181.8,323.6 1185.0,324.6 1188.0,325.7 1190.8,326.8 1193.5,327.9 1195.9,329.1 1198.3,330.2 1200.4,331.3 1202.5,332.4 1204.4,333.4 1206.1,334.4 1207.8,335.3 1209.4,336.2 1210.8,336.9 1212.2,337.5 1213.5,338.1 1214.8,338.4 1216.0,338.7 1217.2,338.8 1218.3,338.7 1219.5,338.4 1220.6,337.9 1221.8,337.2 1223.0,336.3 1224.2,335.1 1225.4,333.6 1226.5,331.7 1227.4,329.4 1228.2,326.7 1228.9,323.8 1229.6,320.6 1230.2,317.1 1230.8,313.5 1231.3,309.6 1231.9,305.7 1232.5,301.6 1233.1,297.5 1233.8,293.3 1234.6,289.2 M1011.5,253.5 1013.9,254.3 1016.8,255.3 1020.1,256.3 1023.8,257.4 1027.8,258.6 1032.1,259.8 1036.7,261.1 1041.5,262.5 1046.5,263.9 1051.7,265.3 1057.0,266.8 1062.4,268.3 1067.8,269.9 1073.2,271.5 1078.7,273.1 1084.0,274.8 1089.3,276.5 1094.4,278.2 1099.6,280.0 1104.5,281.8 1109.1,283.5 1113.5,285.3 1117.5,287.1 1121.2,288.9 1124.5,290.6 1127.6,292.5 1130.5,294.5 1133.3,296.5 1135.8,298.6 1138.3,300.6 1140.5,302.7 1142.6,304.8 1144.7,306.9 1146.6,308.9 1148.4,311.0 1150.1,312.9 1151.8,314.8 1153.4,316.6 1155.0,318.4 1156.6,320.0 1158.1,321.6 1159.7,323.0 1161.3,324.4 1162.9,325.6 1164.6,326.7 1166.3,327.7 1168.1,328.5 1170.0,329.2 1172.0,329.8 1174.0,330.4 1176.1,331.0 1178.3,331.5 1180.4,332.0 1182.6,332.4 1184.8,332.8 1187.0,333.2 1189.2,333.5 1191.4,333.8 1193.6,334.1 1195.7,334.3 1197.8,334.4 1199.9,334.5 1202.0,334.6 M1011.5,253.5 1013.0,254.2 1014.6,255.0 1016.4,255.9 1018.4,257.0 1020.4,258.1 1022.7,259.3 1025.0,260.6 1027.4,262.0 1030.0,263.3 1032.7,264.7 1035.5,266.0 1038.3,267.3 1041.3,268.6 1044.3,269.8 1047.4,270.9 1050.6,272.0 1053.7,272.9 1057.0,273.7 1060.1,274.5 1063.3,275.1 1066.5,275.6 1069.6,276.0 1072.6,276.3 1075.6,276.4 1078.6,276.3 1081.5,276.3 1084.4,276.2 1087.3,276.0 1090.2,275.8 1093.1,275.6 1096.0,275.3 1098.9,275.0 1101.8,274.7 1104.7,274.3 1107.6,273.9 1110.6,273.4 1113.5,272.9 1116.6,272.3 1119.6,271.6 1122.7,270.9 1125.9,270.2 1129.2,269.3 1132.5,268.4 1135.8,267.5 1139.3,266.4 1142.9,265.3 1146.5,264.0 1150.2,262.7 1154.1,261.2 1157.9,259.4 1161.9,257.4 1165.9,255.2 1170.0,252.8 1174.2,250.2 1178.4,247.5 1182.7,244.6 1187.0,241.7 1191.4,238.6 1195.9,235.6 1200.4,232.5 1204.9,229.4 1209.5,226.3 1214.1,223.3 1218.8,220.4 1223.5,217.5 1228.2,214.8 1233.0,212.3 1237.8,209.9 1242.7,207.8 1247.6,205.8 1252.5,204.2 1257.5,202.8 1262.5,201.7 1267.7,200.8 1273.1,200.1 1278.6,199.6 1284.2,199.3 1289.9,199.2 1295.6,199.2 1301.5,199.4 1307.4,199.7 M1011.5,253.5 1013.3,254.5 1015.3,255.7 1017.6,257.1 1020.2,258.7 1022.9,260.4 1025.9,262.3 1029.0,264.2 1032.3,266.2 1035.7,268.3 1039.2,270.4 1042.9,272.5 1046.6,274.6 1050.4,276.7 1054.2,278.7 1058.1,280.7 1062.0,282.6 1065.9,284.3 1069.8,285.9 1073.8,287.6 1077.7,289.0 1081.5,290.2 1085.3,291.2 1088.9,291.9 1092.4,292.3 1095.8,292.3 1099.3,292.0 1102.7,291.4 1106.2,290.5 1109.6,289.4 1113.0,288.0 1116.5,286.4 1119.9,284.7 1123.3,282.7 1126.7,280.7 1130.1,278.5 1133.4,276.3 1136.8,274.0 1140.0,271.7 1143.3,269.4 1146.5,267.1 1149.7,264.9 1152.8,262.8 1155.8,260.8 1158.9,259.0 1161.8,257.3 1164.7,255.9 1167.6,254.7 1170.3,253.8 1173.0,253.2 1175.4,252.8 1177.7,252.6 1179.8,252.5 1181.8,252.7 1183.7,253.0 1185.5,253.4 1187.2,253.9 1188.9,254.6 1190.6,255.3 1192.2,256.1 1193.9,257.0 1195.7,257.9 1197.5,258.8 1199.4,259.7 1201.5,260.6 1203.6,261.4 1206.0,262.1 1208.5,262.8 1211.2,263.3 1214.2,263.7 1217.4,264.0 1220.8,264.1 1224.6,264.0 1228.7,263.6 1233.1,263.1 1237.9,262.4 1242.9,261.5 1248.1,260.5 1253.6,259.3 1259.3,258.0 1265.1,256.6 1271.1,255.2 M1011.5,253.5 1013.9,254.0 1016.6,254.6 1019.8,255.4 1023.3,256.3 1027.1,257.3 1031.3,258.4 1035.7,259.5 1040.3,260.6 1045.1,261.8 1050.1,263.0 1055.1,264.2 1060.2,265.4 1065.4,266.5 1070.5,267.6 1075.5,268.5 1080.2,269.5 1084.8,270.3 1089.3,270.8 1093.6,271.2 1097.7,271.3 1101.6,271.1 1105.3,270.5 1108.7,269.6 1111.9,268.4 1114.9,266.7 1117.8,264.6 1120.7,262.2 1123.6,259.5 1126.5,256.4 1129.3,253.1 1132.2,249.5 1135.0,245.7 1137.7,241.8 1140.4,237.7 1143.1,233.5 1145.8,229.2 1148.3,224.9 1150.8,220.6 1153.2,216.2 1155.5,212.0 1157.8,207.8 1159.9,203.7 1161.9,199.8 1163.7,196.0 1165.5,192.3 1167.1,188.9 1168.6,185.7 1170.0,182.7 1171.2,179.8 1172.0,176.9 1172.5,174.1 1172.8,171.2 1172.9,168.4 1172.8,165.5 1172.6,162.6 1172.3,159.7 1172.0,156.8 1171.7,153.8 1171.4,150.9 1171.1,148.0 1171.0,145.0 1171.0,142.1 1171.2,139.2 1171.5,136.3 1172.1,133.5 M1011.5,253.5 1013.1,253.7 1015.0,254.1 1017.2,254.6 1019.7,255.2 1022.4,255.9 1025.4,256.6 1028.7,257.4 1032.1,258.3 1035.6,259.1 1039.4,259.9 1043.2,260.6 1047.1,261.2 1051.1,261.8 1055.2,262.2 1059.2,262.4 1063.2,262.5 1067.2,262.4 1071.0,262.1 1074.7,261.6 1078.3,261.0 1081.7,260.1 1084.8,259.0 1087.8,257.7 1090.5,256.2 1093.0,254.4 1095.5,252.3 1097.9,249.9 1100.2,247.4 1102.5,244.7 1104.7,241.7 1106.9,238.7 1108.9,235.5 1110.9,232.3 1112.8,228.9 1114.7,225.5 1116.4,222.1 1118.1,218.7 1119.7,215.2 1121.2,211.8 1122.6,208.4 1124.0,205.1 1125.2,201.9 1126.4,198.7 1127.5,195.7 1128.4,192.8 1129.3,190.0 1130.1,187.5 1130.8,185.1 1131.3,182.9 1131.5,180.8 1131.4,178.8 1131.2,176.8 1130.7,175.0 1130.0,173.2 1129.2,171.4 1128.3,169.8 1127.4,168.2 1126.3,166.7 1125.3,165.3 1124.2,163.9 1123.2,162.7 1122.2,161.5 1121.3,160.3 M1011.5,253.5 1013.9,254.4 1016.8,255.5 1020.2,256.7 1023.9,258.0 1027.9,259.4 1032.3,260.9 1036.9,262.5 1041.7,264.1 1046.7,265.7 1051.9,267.4 1057.1,269.1 1062.5,270.8 1067.8,272.5 1073.2,274.2 1078.5,275.8 1083.7,277.4 1088.8,279.0 1093.8,280.5 1098.5,282.0 1103.0,283.5 1107.2,284.9 1111.2,286.1 1114.7,287.2 1118.0,288.2 1120.8,289.1 1123.5,289.8 1125.8,290.5 1128.0,291.2 1130.0,291.7 1131.8,292.2 1133.4,292.6 1134.9,292.9 1136.3,293.2 1137.6,293.5 1138.8,293.7 1139.9,293.8 1141.0,293.9 1142.1,294.0 1143.2,294.0 1144.4,294.0 1145.5,293.9 1146.8,293.9 1148.1,293.8 1149.5,293.7 1151.0,293.7 1152.7,293.6 1154.5,293.5 1156.5,293.5 1158.6,293.5 1160.6,293.5 1162.7,293.6 1164.7,293.7 1166.7,293.8 1168.7,293.9 1170.7,294.0 1172.7,294.2 1174.8,294.3 1176.9,294.5 1179.0,294.6 1181.3,294.7 1183.6,294.7 1186.0,294.8 1188.5,294.8 1191.1,294.7 1193.9,294.6 1196.8,294.4 1199.8,294.2 1203.0,293.9 1206.4,293.5 1210.0,293.0 1213.8,292.4 1217.8,291.7 1222.0,290.8 1226.5,289.6 1231.1,288.2 1236.0,286.7 1241.1,284.9 1246.4,283.0 1251.9,281.0 1257.5,278.9 1263.3,276.7 1269.2,274.4 1275.3,272.2 1281.5,269.9 1287.8,267.6 1294.1,265.3 1300.6,263.2 1307.1,261.1 1313.6,259.1 1320.2,257.3 M1011.5,253.5 1012.8,254.1 1014.3,254.8 1016.0,255.7 1017.9,256.6 1019.9,257.7 1022.2,258.9 1024.6,260.1 1027.1,261.4 1029.8,262.7 1032.5,264.1 1035.4,265.4 1038.3,266.7 1041.3,268.0 1044.4,269.3 1047.4,270.4 1050.5,271.5 1053.6,272.5 1056.6,273.3 1059.7,274.0 1062.6,274.5 1065.5,274.8 1068.2,275.0 1070.7,274.8 1073.1,274.5 1075.3,273.8 1077.3,272.9 1079.2,271.7 1081.0,270.2 1082.7,268.6 1084.3,266.7 1085.8,264.6 1087.2,262.4 1088.5,260.1 1089.8,257.7 1091.0,255.2 1092.2,252.7 1093.4,250.1 1094.6,247.5 1095.7,245.0 1096.9,242.5 1098.2,240.1 1099.4,237.8 1100.8,235.6 1102.2,233.6 1103.7,231.8 1105.3,230.1 1107.1,228.7 1108.9,227.6 1110.9,226.7 1112.9,226.0 1115.0,225.5 1117.1,225.1 1119.3,224.9 1121.5,224.9 1123.8,224.9 1126.2,225.1 1128.6,225.4 1131.1,225.8 1133.7,226.2 1136.4,226.7 1139.1,227.3 1141.9,227.9 1144.8,228.5 M1011.5,253.5 1012.9,254.5 1014.4,255.7 1016.1,257.1 1017.9,258.7 1019.9,260.5 1022.0,262.4 1024.2,264.4 1026.4,266.5 1028.8,268.7 1031.2,271.0 1033.6,273.3 1036.0,275.6 1038.5,277.9 1041.0,280.2 1043.4,282.4 1045.8,284.6 1048.3,286.7 1050.6,288.7 1053.0,290.4 1055.2,291.9 1057.5,293.3 1059.8,294.5 1062.0,295.5 1064.2,296.3 1066.4,297.0 1068.7,297.6 1071.0,298.0 1073.4,298.4 1075.8,298.7 1078.3,299.0 1080.7,299.1 1083.3,299.2 1085.8,299.2 1088.4,299.2 1091.1,299.1 1093.7,299.0 1096.4,298.8 1099.0,298.6 1101.7,298.4 1104.3,298.1 1106.9,297.8 1109.6,297.4 1112.2,297.1 1114.8,296.7 1117.3,296.3 1119.8,295.8 1122.3,295.4 1124.8,294.9 1127.2,294.5 1129.5,293.9 1131.6,293.3 1133.8,292.7 1135.8,292.0 1137.8,291.3 1139.8,290.5 1141.8,289.7 1143.8,288.8 1145.8,287.8 1147.8,286.8 1149.9,285.8 1152.1,284.7 1154.4,283.5 1156.8,282.3 1159.3,281.0 1162.0,279.7 1164.8,278.3 1167.8,276.8 1170.9,275.4 M1011.5,253.5 1013.1,254.7 1015.0,256.2 1017.1,257.8 1019.3,259.7 1021.8,261.6 1024.4,263.7 1027.1,265.9 1029.9,268.2 1032.8,270.5 1035.8,272.8 1038.8,275.1 1041.9,277.4 1044.9,279.7 1047.9,281.9 1050.9,284.1 1053.8,286.2 1056.7,288.1 1059.5,290.0 1062.2,291.7 1064.8,293.3 1067.4,294.7 1069.8,296.0 1072.1,297.1 1074.2,297.9 1076.2,298.7 1078.1,299.3 1079.9,299.9 1081.5,300.5 1083.2,301.0 1084.7,301.4 1086.2,301.7 1087.6,301.9 1089.1,302.1 1090.5,302.1 1091.9,302.0 1093.3,301.9 1094.8,301.6 1096.3,301.1 1097.8,300.6 1099.4,299.9 1101.1,299.1 1102.9,298.2 1104.8,297.1 1106.8,295.8 1108.9,294.5 1111.1,293.0 1113.6,291.4 1116.2,289.6 1118.9,287.6 1121.9,285.3 1125.0,282.8 1128.2,280.0 1131.6,277.0 1135.1,273.8 1138.7,270.5 1142.5,267.1 1146.3,263.6 1150.1,260.1 1154.1,256.5 1158.1,252.9 1162.1,249.4 1166.1,246.0 1170.2,242.6 1174.3,239.3 1178.4,236.2 1182.4,233.3 1186.4,230.5 1190.4,228.0 1194.3,225.6 1198.1,223.6 1201.9,221.8 1205.5,220.3 1209.0,219.0 1212.5,217.9 1216.0,216.9 1219.5,216.0 1222.9,215.2 1226.4,214.6 M1011.5,253.5 1014.6,254.1 1018.2,254.9 1022.5,256.0 1027.3,257.2 1032.5,258.6 1038.2,260.2 1044.2,261.9 1050.5,263.7 1057.1,265.6 1063.8,267.5 1070.7,269.4 1077.7,271.3 1084.7,273.1 1091.7,274.8 1098.5,276.4 1105.3,278.0 1111.9,279.3 1118.2,280.4 1124.2,281.2 1129.8,281.8 1135.0,282.1 1139.8,282.0 1144.1,281.6 1147.8,280.8 1151.0,279.6 1154.0,278.1 1156.6,276.2 1159.0,273.9 1161.2,271.4 1163.1,268.7 1164.9,265.7 1166.4,262.6 1167.8,259.3 1168.9,255.9 1170.0,252.4 1170.9,248.9 1171.6,245.3 1172.3,241.8 1172.9,238.2 1173.4,234.8 1173.8,231.4 1174.2,228.1 1174.6,224.9 1174.9,221.9 1175.2,219.1 1175.5,216.4 1175.8,214.0 1176.2,211.8 1176.4,209.8 1176.4,207.8 1176.1,205.8 1175.5,203.8 1174.8,201.9 1173.9,199.9 1172.9,198.0 1171.7,196.0 1170.5,194.1 1169.1,192.2 1167.8,190.3 1166.4,188.5 1165.0,186.6 1163.7,184.8 1162.5,183.1 1161.3,181.4 1160.3,179.7 1159.4,178.1 1158.7,176.6 1158.3,175.2 1158.1,173.8 1158.1,172.6 1158.5,171.4 1159.2,170.4 1160.2,169.5 1161.4,168.6 M1011.5,253.5 1013.9,254.1 1016.6,255.0 1019.8,256.0 1023.4,257.2 1027.2,258.7 1031.3,260.2 1035.5,261.9 1040.0,263.7 1044.6,265.6 1049.3,267.6 1054.0,269.5 1058.8,271.5 1063.5,273.5 1068.2,275.4 1072.8,277.2 1077.5,278.8 1082.0,280.2 1086.4,281.5 1090.5,282.5 1094.5,283.3 1098.2,283.8 1101.5,284.0 1104.6,284.0 1107.2,283.5 1109.5,282.8 1111.5,281.8 1113.3,280.5 1114.8,279.0 1116.1,277.2 1117.3,275.2 1118.2,273.0 1119.0,270.6 1119.7,268.1 1120.3,265.4 1120.7,262.6 1121.1,259.7 1121.4,256.7 1121.7,253.7 1121.9,250.6 1122.1,247.4 1122.3,244.3 1122.6,241.2 1122.9,238.1 1123.3,235.0 1123.8,232.0 1124.3,229.1 1125.1,226.3 1125.9,223.6 1126.9,221.0 1127.8,218.3 1128.7,215.5 1129.6,212.6 1130.5,209.8 1131.4,206.9 1132.2,204.0 1133.2,201.1 1134.1,198.2 1135.1,195.3 1136.1,192.4 1137.2,189.6 1138.4,186.8 1139.6,184.1 1140.9,181.4 1142.3,178.8 1143.8,176.2 1145.4,173.7 1147.1,171.4 1148.9,169.1 1150.8,167.0 1152.8,164.9 1155.0,163.0 1157.3,161.3 1159.6,159.6 1162.1,158.0 1164.7,156.4 M1011.5,253.5 1013.5,254.0 1016.0,254.6 1018.8,255.4 1022.0,256.2 1025.5,257.2 1029.3,258.3 1033.2,259.3 1037.5,260.5 1041.8,261.6 1046.3,262.7 1050.9,263.9 1055.5,264.9 1060.2,265.9 1064.8,266.9 1069.4,267.7 1073.9,268.4 1078.3,269.0 1082.5,269.5 1086.4,270.0 1090.2,270.2 1093.7,270.3 1096.9,270.1 1099.9,269.7 1102.5,269.0 1104.8,268.0 1106.9,266.6 1108.8,264.9 1110.5,263.0 1112.1,260.7 1113.5,258.3 1114.8,255.6 1116.0,252.8 1117.1,249.9 1118.1,246.8 1119.1,243.7 1120.1,240.4 1121.1,237.2 1122.0,233.9 1123.1,230.7 1124.1,227.6 1125.2,224.5 1126.4,221.5 1127.7,218.7 1129.0,216.0 1130.6,213.5 1132.2,211.3 1134.0,209.3 1136.0,207.6 1138.1,206.2 1140.2,204.8 1142.3,203.6 1144.5,202.5 1146.7,201.5 1149.0,200.7 1151.2,199.9 1153.5,199.2 1155.9,198.6 1158.3,198.1 1160.7,197.6 1163.2,197.2 1165.7,196.9 1168.3,196.6 1170.9,196.4 1173.6,196.2 1176.3,196.0 1179.2,195.9 1182.1,195.8 1185.1,195.7 M1011.5,253.5 1013.3,253.7 1015.5,254.1 1018.0,254.6 1020.9,255.1 1024.0,255.8 1027.3,256.5 1030.9,257.3 1034.6,258.1 1038.6,258.9 1042.6,259.7 1046.7,260.4 1050.9,261.1 1055.2,261.7 1059.4,262.3 1063.6,262.7 1067.7,262.9 1071.8,263.0 1075.7,263.0 1079.4,262.8 1083.0,262.5 1086.3,261.9 1089.4,261.2 1092.2,260.2 1094.8,258.9 1097.0,257.5 1099.0,255.8 1100.8,253.8 1102.3,251.7 1103.7,249.4 1104.9,247.0 1106.0,244.4 1107.0,241.7 1107.9,238.9 1108.8,236.0 1109.7,233.1 1110.5,230.0 1111.3,227.0 1112.2,223.9 1113.2,220.9 1114.3,217.8 1115.4,214.7 1116.7,211.7 1118.2,208.8 1119.8,205.9 1121.7,203.1 1123.8,200.3 1126.1,197.7 1128.7,195.2 1131.5,192.6 1134.4,189.9 1137.4,187.0 1140.5,184.0 1143.7,180.8 1147.0,177.6 1150.4,174.3 1153.9,170.9 1157.5,167.5 1161.2,164.1 1165.0,160.8 1168.9,157.4 1172.8,154.2 1176.9,151.1 1181.0,148.0 1185.2,145.2 1189.6,142.5 1194.0,140.0 1198.5,137.7 1203.1,135.8 1207.8,134.1 1212.5,132.7 1217.4,131.6 1222.4,130.9 1227.5,130.7 1233.0,131.0 1238.6,131.8 1244.5,132.9 1250.6,134.5" fill="none" stroke="#6e6e6e" stroke-width="1.1" stroke-linejoin="round"/><path d="M1012.4,253.9 L1014.9,254.6 L1018.5,255.7 L1022.6,256.9 L1026.6,258.0 L1030.5,259.1 L1034.4,260.2 L1038.6,261.2 L1043.1,262.1 L1048.0,262.8 L1053.1,263.3 L1058.5,263.8 L1063.7,264.2 L1069.0,264.5 L1074.5,264.8 L1079.7,265.0 L1084.3,265.2 L1087.8,265.5 L1090.5,265.8 L1093.2,266.1 L1096.7,266.3 L1101.3,266.5 L1106.6,266.8 L1112.1,266.8 L1117.3,266.3 L1122.0,265.1 L1126.5,263.4 L1131.1,261.3 L1135.8,259.0 L1141.0,256.3 L1146.5,253.2 L1151.9,249.9 L1156.5,246.7 L1160.2,243.6 L1163.2,240.5 L1165.9,237.4 L1168.8,234.3 L1171.9,231.2 L1175.0,228.1 L1178.1,225.0 L1181.2,221.9 L1184.4,218.8 L1187.7,215.6 L1190.8,212.5 L1193.6,209.6 L1196.1,206.8 L1198.3,204.1 L1200.2,201.5 L1201.8,199.3 L1203.0,197.4 L1203.9,195.9 L1204.5,194.5 L1204.9,193.1 L1204.9,191.6 L1204.6,190.1 L1204.2,188.8 L1203.9,187.9" fill="none" stroke="#800080" stroke-width="4.17" stroke-linejoin="round" stroke-linecap="square"/><path d="M1203.9,187.9 L1204.5,186.8 L1205.4,185.1 L1206.6,183.5 L1208.0,182.8 L1209.7,183.1 L1211.6,184.1 L1213.8,185.5 L1216.2,186.9 L1218.8,188.3 L1221.6,189.7 L1224.8,191.4 L1228.6,193.1 L1233.1,195.1 L1238.2,197.2 L1243.7,199.4 L1249.2,201.3 L1254.8,202.9 L1260.7,204.3 L1266.5,205.6 L1272.3,206.9 L1277.9,208.1 L1283.5,209.3 L1289.0,210.4 L1294.5,211.3 L1300.1,212.1 L1305.6,212.7 L1311.2,213.2 L1316.8,213.6 L1322.5,213.8 L1328.2,213.8 L1333.8,213.8 L1339.0,213.6 L1343.8,213.4 L1348.2,213.1 L1352.5,212.7 L1356.9,212.0 L1361.5,211.0 L1366.1,209.8 L1370.6,208.4 L1374.7,206.9 L1378.3,205.3 L1381.6,203.6 L1384.8,201.8 L1388.0,200.2 L1391.2,198.7 L1394.4,197.3 L1397.7,196.0 L1401.4,194.6 L1405.5,193.2 L1410.0,191.8 L1414.6,190.4 L1419.2,189.0 L1423.7,187.6 L1428.1,186.3 L1432.5,185.0 L1437.0,183.5 L1441.6,181.8 L1446.2,180.1 L1450.7,178.3 L1454.8,176.8 L1458.6,175.5 L1462.1,174.4 L1465.3,173.5 L1468.2,172.8 L1470.7,172.5 L1472.9,172.6 L1474.7,172.7 L1476.0,172.8" fill="none" stroke="#f064f0" stroke-width="4.17" stroke-linejoin="round" stroke-linecap="square"/><path d="M1012.4,253.9 L1014.9,254.8 L1018.5,256.1 L1022.6,257.5 L1026.6,259.0 L1030.6,260.5 L1034.7,262.0 L1038.9,263.6 L1043.1,265.2 L1047.4,266.9 L1051.9,268.6 L1056.1,270.2 L1059.6,271.4 L1062.0,272.0 L1063.7,272.2 L1065.4,272.3 L1067.8,272.4 L1071.2,272.6 L1075.3,272.7 L1079.7,272.9 L1084.3,273.5 L1089.2,274.5 L1094.3,275.8 L1099.7,277.2 L1104.9,278.6 L1110.1,279.9 L1115.2,281.3 L1120.4,282.6 L1125.5,283.8 L1130.6,284.8 L1135.8,285.7 L1140.9,286.5 L1146.1,286.9 L1151.3,286.9 L1156.4,286.7 L1161.6,286.2 L1166.8,285.8 L1172.0,285.4 L1177.1,285.0 L1182.3,284.5 L1187.4,283.8 L1192.6,283.0 L1198.0,282.1 L1203.1,281.0 L1208.0,279.7 L1212.5,277.9 L1216.6,275.8 L1220.6,273.8 L1224.5,272.4 L1228.8,271.9 L1233.4,272.1 L1237.1,272.4 L1238.9,272.4 L1238.2,272.0 L1235.6,271.5 L1232.0,270.9 L1228.6,270.4 L1225.2,270.1 L1221.4,269.9 L1217.6,269.7 L1214.2,269.3 L1211.2,268.7 L1208.5,268.1 L1206.1,267.2 L1203.9,266.3 L1202.1,265.2 L1200.5,264.0 L1199.2,262.7 L1197.7,261.1 L1196.2,259.2 L1194.9,257.1 L1193.3,254.9 L1191.5,252.9 L1189.1,251.2 L1186.2,249.6 L1183.4,248.1 L1181.2,246.7 L1179.5,245.5 L1178.2,244.3 L1177.4,243.3 L1177.1,242.5 L1177.3,241.7 L1177.9,241.0 L1179.1,240.6 L1181.2,240.5 L1184.4,240.9 L1188.4,241.7 L1193.0,242.7 L1197.7,243.6 L1202.6,244.4 L1207.7,245.1 L1213.1,245.9 L1218.3,246.7 L1223.5,247.7 L1228.6,248.7 L1233.8,249.8 L1238.9,250.8 L1244.2,251.9 L1249.7,253.1 L1254.9,254.2 L1259.5,254.9 L1263.0,255.0 L1265.8,254.7 L1268.6,254.4 L1272.3,254.7 L1277.2,255.7 L1282.8,257.1 L1288.7,258.8 L1294.5,260.3 L1300.2,261.8 L1305.9,263.5 L1311.5,264.9 L1316.8,265.9 L1321.6,266.2 L1326.0,266.0 L1330.3,265.7 L1334.6,265.9 L1339.0,266.8 L1343.5,268.2 L1348.0,269.6 L1352.4,270.3 L1357.0,270.3 L1361.6,269.8 L1366.1,269.0 L1370.2,268.1 L1373.9,266.8 L1377.3,265.2 L1380.5,263.6 L1383.6,262.5 L1386.6,262.3 L1389.6,262.8 L1392.3,263.1 L1394.7,262.5 L1396.6,260.7 L1398.2,258.1 L1399.7,255.2 L1401.4,252.5 L1403.3,250.2 L1405.2,248.1 L1407.4,245.9 L1410.3,243.6 L1414.0,241.0 L1418.4,238.3 L1423.1,235.7 L1428.1,233.6 L1433.4,232.1 L1439.0,230.9 L1444.7,230.0 L1450.4,229.1 L1456.0,228.2 L1461.5,227.4 L1467.0,226.6 L1472.6,225.8 L1478.3,224.9 L1484.0,223.9 L1489.6,223.1 L1494.9,222.5 L1499.6,222.2 L1503.8,222.0 L1508.0,222.1 L1512.7,222.5 L1518.0,223.2 L1523.6,224.2 L1529.3,225.5 L1535.0,226.9 L1540.7,228.6 L1546.5,230.7 L1552.1,232.8 L1557.2,234.7 L1561.6,236.5 L1565.5,238.2 L1569.1,239.7 L1572.8,240.9 L1576.8,241.7 L1581.0,242.1 L1584.7,242.3 L1587.3,242.5" fill="none" stroke="#000" stroke-width="4.17" stroke-linejoin="round" stroke-linecap="square"/>
<g font-size="26" font-weight="bold" text-anchor="middle" stroke="#000" stroke-width="0.5"><text x="401.7" y="519.7">&#8634;</text><text x="471.3" y="502.6">&#8634;</text><text x="523.8" y="502.6">&#8634;</text><text x="564.9" y="504.9">&#8634;</text><text x="608.3" y="500.3">&#8634;</text><text x="640.3" y="500.3">&#8634;</text><text x="668.8" y="501.5">&#8634;</text><text x="679.1" y="499.2">&#8634;</text><text x="689.4" y="512.9">&#8634;</text><text x="717.9" y="495.8">&#8634;</text><text x="732.7" y="469.5">&#8634;</text><text x="757.9" y="430.7">&#8634;</text><text x="821.6" y="354.5">&#8634;</text><text x="607.4" y="618.5">&#8634;</text><text x="626.2" y="635.3">&#8634;</text><text x="637.1" y="627.4">&#8634;</text><text x="631.2" y="630.4">&#8634;</text></g>
</g>
<rect x="80.5" y="89.5" width="1541.0" height="963.0" fill="none" stroke="#000" stroke-width="1.1"/>
<text x="37" y="316.2" font-size="20.83" font-weight="bold" text-anchor="middle">10°S</text>
<text x="37" y="544.5" font-size="20.83" font-weight="bold" text-anchor="middle">20°S</text>
<text x="37" y="787.9" font-size="20.83" font-weight="bold" text-anchor="middle">30°S</text>
<text x="300.0" y="1082.7" font-size="20.83" font-weight="bold" text-anchor="middle">40°E</text>
<text x="740.5" y="1082.7" font-size="20.83" font-weight="bold" text-anchor="middle">60°E</text>
<text x="1180.9" y="1082.7" font-size="20.83" font-weight="bold" text-anchor="middle">80°E</text>
<text x="1620.0" y="1082.7" font-size="20.83" font-weight="bold" text-anchor="middle">100°E</text>
<text x="80" y="22" font-size="16.67" font-weight="bold">Maximum forecast trajectory duration : 10 days</text>
<text x="80" y="41.2" font-size="16.67" font-weight="bold">Intercept distance: 300km</text>
<text x="80" y="60.5" font-size="16.67" font-weight="bold">Intercept RW2 (EPS):&#160; 30km/h2</text>
<text x="80" y="79.8" font-size="16.67" font-weight="bold">Intercept RW2 (HRES): 30km/h2</text>
<text x="1205" y="22" font-size="16.67" font-weight="bold">Site: DiegoGarcia</text>
<text x="1205" y="41.2" font-size="16.67" font-weight="bold">Forecast date: Mon. 02/02, 00h (UTC)</text>
<text x="1205" y="60.5" font-size="16.67" font-weight="bold">Speed function: U10_speed_Helikite_4</text>
<text x="1205" y="79.8" font-size="16.67" font-weight="bold">Deployment date: Mon. 02/02, 14h (UTC)</text>
<text x="850" y="62" font-size="41.67" font-weight="bold" text-anchor="middle">Mon. 02/02, 20h (LT)</text>
<rect x="1274.5" y="875" width="339.0" height="168" rx="3.5" fill="#fff" fill-opacity="0.8" stroke="#000" stroke-width="1.1"/>
<line x1="1281" x2="1315" y1="887.5" y2="887.5" stroke="#808080" stroke-width="1.39" stroke-linecap="butt"/>
<text x="1327" y="893.2" font-size="16.67">No Interception</text>
<line x1="1281" x2="1315" y1="910.9" y2="910.9" stroke="#ff4500" stroke-width="1.39" stroke-linecap="butt"/>
<text x="1327" y="916.6" font-size="16.67">Interception from Named cyclone</text>
<line x1="1281" x2="1315" y1="934.2" y2="934.2" stroke="#808000" stroke-width="1.39" stroke-linecap="butt"/>
<text x="1327" y="939.9" font-size="16.67">Interception from Trochoid</text>
<line x1="1281" x2="1315" y1="957.5" y2="957.5" stroke="#008000" stroke-width="1.39" stroke-linecap="butt"/>
<text x="1327" y="963.2" font-size="16.67">Interception from both</text>
<line x1="1281" x2="1315" y1="980.9" y2="980.9" stroke="#800080" stroke-width="4.2" stroke-linecap="square"/>
<text x="1327" y="986.6" font-size="16.67">HRES</text>
<line x1="1281" x2="1315" y1="1004.2" y2="1004.2" stroke="#000000" stroke-width="4.2" stroke-linecap="square"/>
<text x="1327" y="1010.0" font-size="16.67">Analysis | 238h duration</text>
<text x="1298" y="1036.2" font-size="17.5" font-weight="bold" text-anchor="middle" stroke="#000" stroke-width="0.7">&#8634;</text>
<text x="1327" y="1033.3" font-size="16.67">TC obs. for analysis duration</text>
<rect x="1665.5" y="189.20" width="20.0" height="748.80" fill="#e3eef9"/>
<rect x="1665.5" y="189.20" width="20.0" height="720.00" fill="#dceaf6"/>
<rect x="1665.5" y="189.20" width="20.0" height="691.20" fill="#d5e5f4"/>
<rect x="1665.5" y="189.20" width="20.0" height="662.40" fill="#cee0f2"/>
<rect x="1665.5" y="189.20" width="20.0" height="633.60" fill="#c7dcef"/>
<rect x="1665.5" y="189.20" width="20.0" height="604.80" fill="#bdd7ec"/>
<rect x="1665.5" y="189.20" width="20.0" height="576.00" fill="#b2d2e8"/>
<rect x="1665.5" y="189.20" width="20.0" height="547.20" fill="#a5cde3"/>
<rect x="1665.5" y="189.20" width="20.0" height="518.40" fill="#99c7e0"/>
<rect x="1665.5" y="189.20" width="20.0" height="489.60" fill="#8abfdd"/>
<rect x="1665.5" y="189.20" width="20.0" height="460.80" fill="#7cb7da"/>
<rect x="1665.5" y="189.20" width="20.0" height="432.00" fill="#6dafd7"/>
<rect x="1665.5" y="189.20" width="20.0" height="403.20" fill="#60a7d2"/>
<rect x="1665.5" y="189.20" width="20.0" height="374.40" fill="#549fcd"/>
<rect x="1665.5" y="189.20" width="20.0" height="345.60" fill="#4997c9"/>
<rect x="1665.5" y="189.20" width="20.0" height="316.80" fill="#3e8ec4"/>
<rect x="1665.5" y="189.20" width="20.0" height="288.00" fill="#3484bf"/>
<rect x="1665.5" y="189.20" width="20.0" height="259.20" fill="#2b7bba"/>
<rect x="1665.5" y="189.20" width="20.0" height="230.40" fill="#2171b5"/>
<rect x="1665.5" y="189.20" width="20.0" height="201.60" fill="#1a68ae"/>
<rect x="1665.5" y="189.20" width="20.0" height="172.80" fill="#135fa7"/>
<rect x="1665.5" y="189.20" width="20.0" height="144.00" fill="#0b559f"/>
<rect x="1665.5" y="189.20" width="20.0" height="115.20" fill="#084c95"/>
<rect x="1665.5" y="189.20" width="20.0" height="86.40" fill="#084387"/>
<rect x="1665.5" y="189.20" width="20.0" height="57.60" fill="#083979"/>
<rect x="1665.5" y="189.20" width="20.0" height="28.80" fill="#08306b"/>
<rect x="1665.5" y="189.2" width="20.0" height="748.8" fill="none" stroke="#000" stroke-width="1.1"/>
<line x1="1685.5" x2="1690.4" y1="938.4" y2="938.4" stroke="#000" stroke-width="1.2"/>
<text x="1695.9" y="943.8" font-size="13.1">0</text>
<line x1="1685.5" x2="1690.4" y1="794.4" y2="794.4" stroke="#000" stroke-width="1.2"/>
<text x="1695.9" y="799.8" font-size="13.1">10</text>
<line x1="1685.5" x2="1690.4" y1="650.4" y2="650.4" stroke="#000" stroke-width="1.2"/>
<text x="1695.9" y="655.8" font-size="13.1">20</text>
<line x1="1685.5" x2="1690.4" y1="506.4" y2="506.4" stroke="#000" stroke-width="1.2"/>
<text x="1695.9" y="511.8" font-size="13.1">30</text>
<line x1="1685.5" x2="1690.4" y1="362.4" y2="362.4" stroke="#000" stroke-width="1.2"/>
<text x="1695.9" y="367.8" font-size="13.1">40</text>
<line x1="1685.5" x2="1690.4" y1="218.4" y2="218.4" stroke="#000" stroke-width="1.2"/>
<text x="1695.9" y="223.8" font-size="13.1">50</text>
<text transform="translate(1737,625) rotate(-90)" font-size="19.44" font-weight="bold" text-anchor="middle">Named cyclones forecast - Number of EPS within 120km</text>
<rect x="25.50" y="1137.5" width="1640.00" height="40.799999999999955" fill="#9e0142"/>
<rect x="476.50" y="1137.5" width="1189.00" height="40.799999999999955" fill="#a90d45"/>
<rect x="599.50" y="1137.5" width="1066.00" height="40.799999999999955" fill="#b41947"/>
<rect x="1050.50" y="1137.5" width="615.00" height="40.799999999999955" fill="#be254a"/>
<text x="497.0" y="1161.8" font-size="13.89" font-weight="bold" text-anchor="middle">2</text>
<text x="538.0" y="1161.8" font-size="13.89" font-weight="bold" text-anchor="middle">2</text>
<text x="579.0" y="1161.8" font-size="13.89" font-weight="bold" text-anchor="middle">2</text>
<text x="620.0" y="1161.8" font-size="13.89" font-weight="bold" text-anchor="middle">4</text>
<text x="661.0" y="1161.8" font-size="13.89" font-weight="bold" text-anchor="middle">4</text>
<text x="702.0" y="1161.8" font-size="13.89" font-weight="bold" text-anchor="middle">4</text>
<text x="743.0" y="1161.8" font-size="13.89" font-weight="bold" text-anchor="middle">4</text>
<text x="784.0" y="1161.8" font-size="13.89" font-weight="bold" text-anchor="middle">4</text>
<text x="825.0" y="1161.8" font-size="13.89" font-weight="bold" text-anchor="middle">4</text>
<text x="866.0" y="1161.8" font-size="13.89" font-weight="bold" text-anchor="middle">4</text>
<text x="907.0" y="1161.8" font-size="13.89" font-weight="bold" text-anchor="middle">4</text>
<text x="948.0" y="1161.8" font-size="13.89" font-weight="bold" text-anchor="middle">4</text>
<text x="989.0" y="1161.8" font-size="13.89" font-weight="bold" text-anchor="middle">4</text>
<text x="1030.0" y="1161.8" font-size="13.89" font-weight="bold" text-anchor="middle">4</text>
<text x="1071.0" y="1161.8" font-size="13.89" font-weight="bold" text-anchor="middle">6</text>
<text x="1112.0" y="1161.8" font-size="13.89" font-weight="bold" text-anchor="middle">6</text>
<text x="1153.0" y="1161.8" font-size="13.89" font-weight="bold" text-anchor="middle">6</text>
<text x="1194.0" y="1161.8" font-size="13.89" font-weight="bold" text-anchor="middle">6</text>
<text x="1235.0" y="1161.8" font-size="13.89" font-weight="bold" text-anchor="middle">6</text>
<text x="1276.0" y="1161.8" font-size="13.89" font-weight="bold" text-anchor="middle">6</text>
<text x="1317.0" y="1161.8" font-size="13.89" font-weight="bold" text-anchor="middle">6</text>
<text x="1358.0" y="1161.8" font-size="13.89" font-weight="bold" text-anchor="middle">6</text>
<text x="1399.0" y="1161.8" font-size="13.89" font-weight="bold" text-anchor="middle">6</text>
<text x="1440.0" y="1161.8" font-size="13.89" font-weight="bold" text-anchor="middle">6</text>
<text x="1481.0" y="1161.8" font-size="13.89" font-weight="bold" text-anchor="middle">6</text>
<text x="1522.0" y="1161.8" font-size="13.89" font-weight="bold" text-anchor="middle">6</text>
<text x="1563.0" y="1161.8" font-size="13.89" font-weight="bold" text-anchor="middle">6</text>
<text x="1604.0" y="1161.8" font-size="13.89" font-weight="bold" text-anchor="middle">6</text>
<text x="1645.0" y="1161.8" font-size="13.89" font-weight="bold" text-anchor="middle">6</text>
<rect x="25.5" y="1137.5" width="1640.0" height="40.799999999999955" fill="none" stroke="#000" stroke-width="1.1"/>
<path d="M25.50,1178.3v4.9 M66.50,1178.3v4.9 M107.50,1178.3v4.9 M148.50,1178.3v4.9 M189.50,1178.3v4.9 M230.50,1178.3v4.9 M271.50,1178.3v4.9 M312.50,1178.3v4.9 M353.50,1178.3v4.9 M394.50,1178.3v4.9 M435.50,1178.3v4.9 M476.50,1178.3v4.9 M517.50,1178.3v4.9 M558.50,1178.3v4.9 M599.50,1178.3v4.9 M640.50,1178.3v4.9 M681.50,1178.3v4.9 M722.50,1178.3v4.9 M763.50,1178.3v4.9 M804.50,1178.3v4.9 M845.50,1178.3v4.9 M886.50,1178.3v4.9 M927.50,1178.3v4.9 M968.50,1178.3v4.9 M1009.50,1178.3v4.9 M1050.50,1178.3v4.9 M1091.50,1178.3v4.9 M1132.50,1178.3v4.9 M1173.50,1178.3v4.9 M1214.50,1178.3v4.9 M1255.50,1178.3v4.9 M1296.50,1178.3v4.9 M1337.50,1178.3v4.9 M1378.50,1178.3v4.9 M1419.50,1178.3v4.9 M1460.50,1178.3v4.9 M1501.50,1178.3v4.9 M1542.50,1178.3v4.9 M1583.50,1178.3v4.9 M1624.50,1178.3v4.9 M1665.50,1178.3v4.9" stroke="#000" stroke-width="1.1"/>
<line x1="20.6" x2="25.5" y1="1157.9" y2="1157.9" stroke="#000" stroke-width="1.1"/>
<text x="25.5" y="1200" font-size="16.67" font-weight="bold" text-anchor="middle">0h</text>
<text x="189.5" y="1200" font-size="16.67" font-weight="bold" text-anchor="middle">12h</text>
<text x="353.5" y="1200" font-size="16.67" font-weight="bold" text-anchor="middle">24h</text>
<text x="517.5" y="1200" font-size="16.67" font-weight="bold" text-anchor="middle">36h</text>
<text x="681.5" y="1200" font-size="16.67" font-weight="bold" text-anchor="middle">48h</text>
<text x="845.5" y="1200" font-size="16.67" font-weight="bold" text-anchor="middle">60h</text>
<text x="1009.5" y="1200" font-size="16.67" font-weight="bold" text-anchor="middle">72h</text>
<text x="1173.5" y="1200" font-size="16.67" font-weight="bold" text-anchor="middle">84h</text>
<text x="1337.5" y="1200" font-size="16.67" font-weight="bold" text-anchor="middle">96h</text>
<text x="1501.5" y="1200" font-size="16.67" font-weight="bold" text-anchor="middle">108h</text>
<text x="1665.5" y="1200" font-size="16.67" font-weight="bold" text-anchor="middle">120h</text>
<text x="865.5" y="1121" font-size="16.67" font-weight="bold" text-anchor="middle">Percentage of flying ballons within a TC as a function of flight time</text></svg>
</body></html>
